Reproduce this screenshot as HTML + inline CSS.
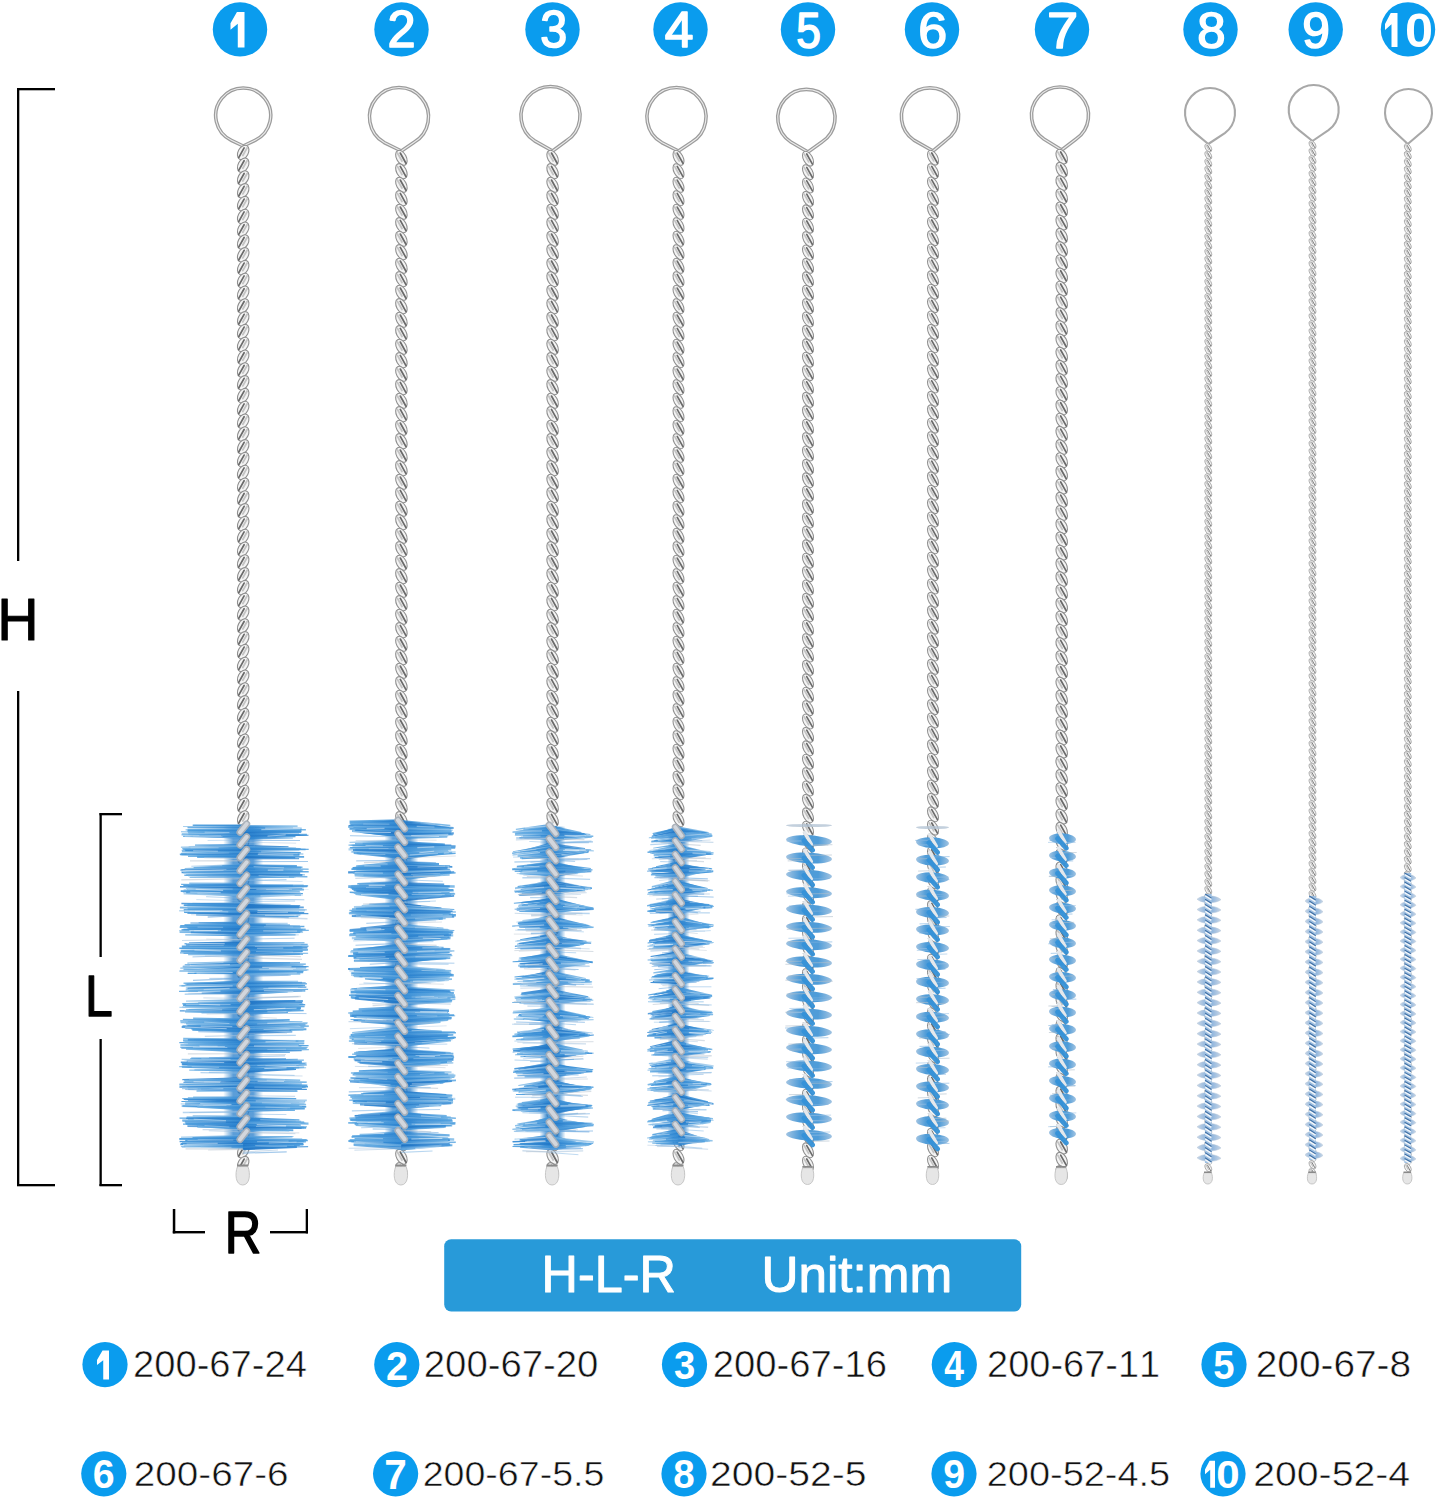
<!DOCTYPE html><html><head><meta charset="utf-8"><style>html,body{margin:0;padding:0;background:#fff;overflow:hidden}svg{display:block}text{font-kerning:none}</style></head><body><svg width="1439" height="1500" viewBox="0 0 1439 1500">
<rect width="1439" height="1500" fill="#ffffff"/>
<circle cx="240.0" cy="29.4" r="27.2" fill="#0a9cee"/>
<circle cx="401.5" cy="29.4" r="27.2" fill="#0a9cee"/>
<circle cx="552.5" cy="29.4" r="27.2" fill="#0a9cee"/>
<circle cx="680.5" cy="29.4" r="27.2" fill="#0a9cee"/>
<circle cx="808.0" cy="29.4" r="27.2" fill="#0a9cee"/>
<circle cx="932.0" cy="29.4" r="27.2" fill="#0a9cee"/>
<circle cx="1062.0" cy="29.4" r="27.2" fill="#0a9cee"/>
<circle cx="1210.5" cy="29.4" r="27.2" fill="#0a9cee"/>
<circle cx="1315.7" cy="29.4" r="27.2" fill="#0a9cee"/>
<circle cx="1408.0" cy="29.4" r="27.2" fill="#0a9cee"/>
<path d="M236.94 12.00L244.50 12.00L244.50 47.50L237.78 47.50L237.78 23.71L230.50 29.75L230.50 23.36Z" fill="#ffffff"/>
<text transform="translate(387.46 46.60) scale(0.5049 0.5099)" font-size="100" font-family="Liberation Sans" font-weight="normal" fill="#ffffff" stroke="#ffffff" stroke-width="3.15" stroke-linejoin="round">2</text>
<text transform="translate(540.15 47.00) scale(0.4851 0.5155)" font-size="100" font-family="Liberation Sans" font-weight="normal" fill="#ffffff" stroke="#ffffff" stroke-width="3.20" stroke-linejoin="round">3</text>
<text transform="translate(664.82 46.70) scale(0.5160 0.5044)" font-size="100" font-family="Liberation Sans" font-weight="normal" fill="#ffffff" stroke="#ffffff" stroke-width="3.14" stroke-linejoin="round">4</text>
<text transform="translate(796.23 47.51) scale(0.4429 0.5016)" font-size="100" font-family="Liberation Sans" font-weight="normal" fill="#ffffff" stroke="#ffffff" stroke-width="3.39" stroke-linejoin="round">5</text>
<text transform="translate(918.36 47.50) scale(0.5201 0.5085)" font-size="100" font-family="Liberation Sans" font-weight="normal" fill="#ffffff" stroke="#ffffff" stroke-width="3.11" stroke-linejoin="round">6</text>
<text transform="translate(1047.12 47.50) scale(0.5609 0.5015)" font-size="100" font-family="Liberation Sans" font-weight="normal" fill="#ffffff" stroke="#ffffff" stroke-width="3.01" stroke-linejoin="round">7</text>
<text transform="translate(1197.29 48.01) scale(0.5093 0.5014)" font-size="100" font-family="Liberation Sans" font-weight="normal" fill="#ffffff" stroke="#ffffff" stroke-width="3.17" stroke-linejoin="round">8</text>
<text transform="translate(1302.37 48.01) scale(0.4979 0.5014)" font-size="100" font-family="Liberation Sans" font-weight="normal" fill="#ffffff" stroke="#ffffff" stroke-width="3.20" stroke-linejoin="round">9</text>
<path d="M1390.75 13.00L1397.50 13.00L1397.50 47.00L1391.50 47.00L1391.50 24.22L1385.00 30.00L1385.00 23.88Z" fill="#ffffff"/>
<text transform="translate(1405.00 47.02) scale(0.5046 0.4873)" font-size="100" font-family="Liberation Sans" font-weight="bold" fill="#ffffff">0</text>
<g fill="none" stroke-linejoin="round">
<path d="M243.20 146.00 L231.31 140.30 A27.50 27.50 0 1 1 255.09 140.30 Z" stroke="#9c9c9c" stroke-width="3.6"/>
<path d="M243.20 146.00 L231.31 140.30 A27.50 27.50 0 1 1 255.09 140.30 Z" stroke="#ececec" stroke-width="1.1"/>
<path d="M401.40 151.00 L384.22 142.53 A29.50 29.50 0 1 1 413.78 142.53 Z" stroke="#9c9c9c" stroke-width="3.6"/>
<path d="M401.40 151.00 L384.22 142.53 A29.50 29.50 0 1 1 413.78 142.53 Z" stroke="#ececec" stroke-width="1.1"/>
<path d="M552.60 151.00 L534.56 140.82 A29.50 29.50 0 1 1 566.44 140.82 Z" stroke="#9c9c9c" stroke-width="3.6"/>
<path d="M552.60 151.00 L534.56 140.82 A29.50 29.50 0 1 1 566.44 140.82 Z" stroke="#ececec" stroke-width="1.1"/>
<path d="M678.50 151.00 L661.76 142.55 A29.50 29.50 0 1 1 691.24 142.55 Z" stroke="#9c9c9c" stroke-width="3.6"/>
<path d="M678.50 151.00 L661.76 142.55 A29.50 29.50 0 1 1 691.24 142.55 Z" stroke="#ececec" stroke-width="1.1"/>
<path d="M808.00 152.00 L790.89 142.03 A28.60 28.60 0 1 1 821.91 142.03 Z" stroke="#9c9c9c" stroke-width="3.6"/>
<path d="M808.00 152.00 L790.89 142.03 A28.60 28.60 0 1 1 821.91 142.03 Z" stroke="#ececec" stroke-width="1.1"/>
<path d="M933.00 151.00 L913.87 140.12 A28.60 28.60 0 1 1 946.13 140.12 Z" stroke="#9c9c9c" stroke-width="3.6"/>
<path d="M933.00 151.00 L913.87 140.12 A28.60 28.60 0 1 1 946.13 140.12 Z" stroke="#ececec" stroke-width="1.1"/>
<path d="M1061.70 150.00 L1043.90 139.01 A28.50 28.50 0 1 1 1076.10 139.01 Z" stroke="#9c9c9c" stroke-width="3.6"/>
<path d="M1061.70 150.00 L1043.90 139.01 A28.50 28.50 0 1 1 1076.10 139.01 Z" stroke="#ececec" stroke-width="1.1"/>
<path d="M1208.30 144.00 L1195.18 133.13 A25.00 25.00 0 1 1 1224.82 133.13 Z" stroke="#a8a8a8" stroke-width="2.1"/>
<path d="M1312.50 141.00 L1298.90 130.15 A25.00 25.00 0 1 1 1328.50 130.15 Z" stroke="#a8a8a8" stroke-width="2.1"/>
<path d="M1407.80 144.00 L1392.85 130.03 A23.50 23.50 0 1 1 1424.15 130.03 Z" stroke="#a8a8a8" stroke-width="2.1"/>
</g>
<g><use href="#st0" x="243.2" y="152.4"/><use href="#st0" x="243.2" y="165.2"/><use href="#st0" x="243.2" y="178"/><use href="#st0" x="243.2" y="190.8"/><use href="#st0" x="243.2" y="203.6"/><use href="#st0" x="243.2" y="216.4"/><use href="#st0" x="243.2" y="229.2"/><use href="#st0" x="243.2" y="242"/><use href="#st0" x="243.2" y="254.8"/><use href="#st0" x="243.2" y="267.6"/><use href="#st0" x="243.2" y="280.4"/><use href="#st0" x="243.2" y="293.2"/><use href="#st0" x="243.2" y="306"/><use href="#st0" x="243.2" y="318.8"/><use href="#st0" x="243.2" y="331.6"/><use href="#st0" x="243.2" y="344.4"/><use href="#st0" x="243.2" y="357.2"/><use href="#st0" x="243.2" y="370"/><use href="#st0" x="243.2" y="382.8"/><use href="#st0" x="243.2" y="395.6"/><use href="#st0" x="243.2" y="408.4"/><use href="#st0" x="243.2" y="421.2"/><use href="#st0" x="243.2" y="434"/><use href="#st0" x="243.2" y="446.8"/><use href="#st0" x="243.2" y="459.6"/><use href="#st0" x="243.2" y="472.4"/><use href="#st0" x="243.2" y="485.2"/><use href="#st0" x="243.2" y="498"/><use href="#st0" x="243.2" y="510.8"/><use href="#st0" x="243.2" y="523.6"/><use href="#st0" x="243.2" y="536.4"/><use href="#st0" x="243.2" y="549.2"/><use href="#st0" x="243.2" y="562"/><use href="#st0" x="243.2" y="574.8"/><use href="#st0" x="243.2" y="587.6"/><use href="#st0" x="243.2" y="600.4"/><use href="#st0" x="243.2" y="613.2"/><use href="#st0" x="243.2" y="626"/><use href="#st0" x="243.2" y="638.8"/><use href="#st0" x="243.2" y="651.6"/><use href="#st0" x="243.2" y="664.4"/><use href="#st0" x="243.2" y="677.2"/><use href="#st0" x="243.2" y="690"/><use href="#st0" x="243.2" y="702.8"/><use href="#st0" x="243.2" y="715.6"/><use href="#st0" x="243.2" y="728.4"/><use href="#st0" x="243.2" y="741.2"/><use href="#st0" x="243.2" y="754"/><use href="#st0" x="243.2" y="766.8"/><use href="#st0" x="243.2" y="779.6"/><use href="#st0" x="243.2" y="792.4"/><use href="#st0" x="243.2" y="805.2"/><use href="#st0" x="243.2" y="818"/><use href="#st0" x="243.2" y="830.8"/><use href="#st0" x="243.2" y="843.6"/><use href="#st0" x="243.2" y="856.4"/><use href="#st0" x="243.2" y="869.2"/><use href="#st0" x="243.2" y="882"/><use href="#st0" x="243.2" y="894.8"/><use href="#st0" x="243.2" y="907.6"/><use href="#st0" x="243.2" y="920.4"/><use href="#st0" x="243.2" y="933.2"/><use href="#st0" x="243.2" y="946"/><use href="#st0" x="243.2" y="958.8"/><use href="#st0" x="243.2" y="971.6"/><use href="#st0" x="243.2" y="984.4"/><use href="#st0" x="243.2" y="997.2"/><use href="#st0" x="243.2" y="1010"/><use href="#st0" x="243.2" y="1022.8"/><use href="#st0" x="243.2" y="1035.6"/><use href="#st0" x="243.2" y="1048.4"/><use href="#st0" x="243.2" y="1061.2"/><use href="#st0" x="243.2" y="1074"/><use href="#st0" x="243.2" y="1086.8"/><use href="#st0" x="243.2" y="1099.6"/><use href="#st0" x="243.2" y="1112.4"/><use href="#st0" x="243.2" y="1125.2"/><use href="#st0" x="243.2" y="1138"/><use href="#st0" x="243.2" y="1150.8"/><use href="#st0" x="243.2" y="1163.6"/></g>
<g><use href="#st1" x="401.4" y="157.8"/><use href="#st1" x="401.4" y="171.2"/><use href="#st1" x="401.4" y="184.8"/><use href="#st1" x="401.4" y="198.2"/><use href="#st1" x="401.4" y="211.8"/><use href="#st1" x="401.4" y="225.2"/><use href="#st1" x="401.4" y="238.8"/><use href="#st1" x="401.4" y="252.2"/><use href="#st1" x="401.4" y="265.8"/><use href="#st1" x="401.4" y="279.2"/><use href="#st1" x="401.4" y="292.8"/><use href="#st1" x="401.4" y="306.2"/><use href="#st1" x="401.4" y="319.8"/><use href="#st1" x="401.4" y="333.2"/><use href="#st1" x="401.4" y="346.8"/><use href="#st1" x="401.4" y="360.2"/><use href="#st1" x="401.4" y="373.8"/><use href="#st1" x="401.4" y="387.2"/><use href="#st1" x="401.4" y="400.8"/><use href="#st1" x="401.4" y="414.2"/><use href="#st1" x="401.4" y="427.8"/><use href="#st1" x="401.4" y="441.2"/><use href="#st1" x="401.4" y="454.8"/><use href="#st1" x="401.4" y="468.2"/><use href="#st1" x="401.4" y="481.8"/><use href="#st1" x="401.4" y="495.2"/><use href="#st1" x="401.4" y="508.8"/><use href="#st1" x="401.4" y="522.2"/><use href="#st1" x="401.4" y="535.8"/><use href="#st1" x="401.4" y="549.2"/><use href="#st1" x="401.4" y="562.8"/><use href="#st1" x="401.4" y="576.2"/><use href="#st1" x="401.4" y="589.8"/><use href="#st1" x="401.4" y="603.2"/><use href="#st1" x="401.4" y="616.8"/><use href="#st1" x="401.4" y="630.2"/><use href="#st1" x="401.4" y="643.8"/><use href="#st1" x="401.4" y="657.2"/><use href="#st1" x="401.4" y="670.8"/><use href="#st1" x="401.4" y="684.2"/><use href="#st1" x="401.4" y="697.8"/><use href="#st1" x="401.4" y="711.2"/><use href="#st1" x="401.4" y="724.8"/><use href="#st1" x="401.4" y="738.2"/><use href="#st1" x="401.4" y="751.8"/><use href="#st1" x="401.4" y="765.2"/><use href="#st1" x="401.4" y="778.8"/><use href="#st1" x="401.4" y="792.2"/><use href="#st1" x="401.4" y="805.8"/><use href="#st1" x="401.4" y="819.2"/><use href="#st1" x="401.4" y="832.8"/><use href="#st1" x="401.4" y="846.2"/><use href="#st1" x="401.4" y="859.8"/><use href="#st1" x="401.4" y="873.2"/><use href="#st1" x="401.4" y="886.8"/><use href="#st1" x="401.4" y="900.2"/><use href="#st1" x="401.4" y="913.8"/><use href="#st1" x="401.4" y="927.2"/><use href="#st1" x="401.4" y="940.8"/><use href="#st1" x="401.4" y="954.2"/><use href="#st1" x="401.4" y="967.8"/><use href="#st1" x="401.4" y="981.2"/><use href="#st1" x="401.4" y="994.8"/><use href="#st1" x="401.4" y="1008.2"/><use href="#st1" x="401.4" y="1021.8"/><use href="#st1" x="401.4" y="1035.2"/><use href="#st1" x="401.4" y="1048.8"/><use href="#st1" x="401.4" y="1062.2"/><use href="#st1" x="401.4" y="1075.8"/><use href="#st1" x="401.4" y="1089.2"/><use href="#st1" x="401.4" y="1102.8"/><use href="#st1" x="401.4" y="1116.2"/><use href="#st1" x="401.4" y="1129.8"/><use href="#st1" x="401.4" y="1143.2"/><use href="#st1" x="401.4" y="1156.8"/><use href="#st1" x="401.4" y="1170.2"/></g>
<g><use href="#st2" x="552.6" y="157.8"/><use href="#st2" x="552.6" y="171.2"/><use href="#st2" x="552.6" y="184.8"/><use href="#st2" x="552.6" y="198.2"/><use href="#st2" x="552.6" y="211.8"/><use href="#st2" x="552.6" y="225.2"/><use href="#st2" x="552.6" y="238.8"/><use href="#st2" x="552.6" y="252.2"/><use href="#st2" x="552.6" y="265.8"/><use href="#st2" x="552.6" y="279.2"/><use href="#st2" x="552.6" y="292.8"/><use href="#st2" x="552.6" y="306.2"/><use href="#st2" x="552.6" y="319.8"/><use href="#st2" x="552.6" y="333.2"/><use href="#st2" x="552.6" y="346.8"/><use href="#st2" x="552.6" y="360.2"/><use href="#st2" x="552.6" y="373.8"/><use href="#st2" x="552.6" y="387.2"/><use href="#st2" x="552.6" y="400.8"/><use href="#st2" x="552.6" y="414.2"/><use href="#st2" x="552.6" y="427.8"/><use href="#st2" x="552.6" y="441.2"/><use href="#st2" x="552.6" y="454.8"/><use href="#st2" x="552.6" y="468.2"/><use href="#st2" x="552.6" y="481.8"/><use href="#st2" x="552.6" y="495.2"/><use href="#st2" x="552.6" y="508.8"/><use href="#st2" x="552.6" y="522.2"/><use href="#st2" x="552.6" y="535.8"/><use href="#st2" x="552.6" y="549.2"/><use href="#st2" x="552.6" y="562.8"/><use href="#st2" x="552.6" y="576.2"/><use href="#st2" x="552.6" y="589.8"/><use href="#st2" x="552.6" y="603.2"/><use href="#st2" x="552.6" y="616.8"/><use href="#st2" x="552.6" y="630.2"/><use href="#st2" x="552.6" y="643.8"/><use href="#st2" x="552.6" y="657.2"/><use href="#st2" x="552.6" y="670.8"/><use href="#st2" x="552.6" y="684.2"/><use href="#st2" x="552.6" y="697.8"/><use href="#st2" x="552.6" y="711.2"/><use href="#st2" x="552.6" y="724.8"/><use href="#st2" x="552.6" y="738.2"/><use href="#st2" x="552.6" y="751.8"/><use href="#st2" x="552.6" y="765.2"/><use href="#st2" x="552.6" y="778.8"/><use href="#st2" x="552.6" y="792.2"/><use href="#st2" x="552.6" y="805.8"/><use href="#st2" x="552.6" y="819.2"/><use href="#st2" x="552.6" y="832.8"/><use href="#st2" x="552.6" y="846.2"/><use href="#st2" x="552.6" y="859.8"/><use href="#st2" x="552.6" y="873.2"/><use href="#st2" x="552.6" y="886.8"/><use href="#st2" x="552.6" y="900.2"/><use href="#st2" x="552.6" y="913.8"/><use href="#st2" x="552.6" y="927.2"/><use href="#st2" x="552.6" y="940.8"/><use href="#st2" x="552.6" y="954.2"/><use href="#st2" x="552.6" y="967.8"/><use href="#st2" x="552.6" y="981.2"/><use href="#st2" x="552.6" y="994.8"/><use href="#st2" x="552.6" y="1008.2"/><use href="#st2" x="552.6" y="1021.8"/><use href="#st2" x="552.6" y="1035.2"/><use href="#st2" x="552.6" y="1048.8"/><use href="#st2" x="552.6" y="1062.2"/><use href="#st2" x="552.6" y="1075.8"/><use href="#st2" x="552.6" y="1089.2"/><use href="#st2" x="552.6" y="1102.8"/><use href="#st2" x="552.6" y="1116.2"/><use href="#st2" x="552.6" y="1129.8"/><use href="#st2" x="552.6" y="1143.2"/><use href="#st2" x="552.6" y="1156.8"/><use href="#st2" x="552.6" y="1170.2"/></g>
<g><use href="#st3" x="678.5" y="157.8"/><use href="#st3" x="678.5" y="171.2"/><use href="#st3" x="678.5" y="184.8"/><use href="#st3" x="678.5" y="198.2"/><use href="#st3" x="678.5" y="211.8"/><use href="#st3" x="678.5" y="225.2"/><use href="#st3" x="678.5" y="238.8"/><use href="#st3" x="678.5" y="252.2"/><use href="#st3" x="678.5" y="265.8"/><use href="#st3" x="678.5" y="279.2"/><use href="#st3" x="678.5" y="292.8"/><use href="#st3" x="678.5" y="306.2"/><use href="#st3" x="678.5" y="319.8"/><use href="#st3" x="678.5" y="333.2"/><use href="#st3" x="678.5" y="346.8"/><use href="#st3" x="678.5" y="360.2"/><use href="#st3" x="678.5" y="373.8"/><use href="#st3" x="678.5" y="387.2"/><use href="#st3" x="678.5" y="400.8"/><use href="#st3" x="678.5" y="414.2"/><use href="#st3" x="678.5" y="427.8"/><use href="#st3" x="678.5" y="441.2"/><use href="#st3" x="678.5" y="454.8"/><use href="#st3" x="678.5" y="468.2"/><use href="#st3" x="678.5" y="481.8"/><use href="#st3" x="678.5" y="495.2"/><use href="#st3" x="678.5" y="508.8"/><use href="#st3" x="678.5" y="522.2"/><use href="#st3" x="678.5" y="535.8"/><use href="#st3" x="678.5" y="549.2"/><use href="#st3" x="678.5" y="562.8"/><use href="#st3" x="678.5" y="576.2"/><use href="#st3" x="678.5" y="589.8"/><use href="#st3" x="678.5" y="603.2"/><use href="#st3" x="678.5" y="616.8"/><use href="#st3" x="678.5" y="630.2"/><use href="#st3" x="678.5" y="643.8"/><use href="#st3" x="678.5" y="657.2"/><use href="#st3" x="678.5" y="670.8"/><use href="#st3" x="678.5" y="684.2"/><use href="#st3" x="678.5" y="697.8"/><use href="#st3" x="678.5" y="711.2"/><use href="#st3" x="678.5" y="724.8"/><use href="#st3" x="678.5" y="738.2"/><use href="#st3" x="678.5" y="751.8"/><use href="#st3" x="678.5" y="765.2"/><use href="#st3" x="678.5" y="778.8"/><use href="#st3" x="678.5" y="792.2"/><use href="#st3" x="678.5" y="805.8"/><use href="#st3" x="678.5" y="819.2"/><use href="#st3" x="678.5" y="832.8"/><use href="#st3" x="678.5" y="846.2"/><use href="#st3" x="678.5" y="859.8"/><use href="#st3" x="678.5" y="873.2"/><use href="#st3" x="678.5" y="886.8"/><use href="#st3" x="678.5" y="900.2"/><use href="#st3" x="678.5" y="913.8"/><use href="#st3" x="678.5" y="927.2"/><use href="#st3" x="678.5" y="940.8"/><use href="#st3" x="678.5" y="954.2"/><use href="#st3" x="678.5" y="967.8"/><use href="#st3" x="678.5" y="981.2"/><use href="#st3" x="678.5" y="994.8"/><use href="#st3" x="678.5" y="1008.2"/><use href="#st3" x="678.5" y="1021.8"/><use href="#st3" x="678.5" y="1035.2"/><use href="#st3" x="678.5" y="1048.8"/><use href="#st3" x="678.5" y="1062.2"/><use href="#st3" x="678.5" y="1075.8"/><use href="#st3" x="678.5" y="1089.2"/><use href="#st3" x="678.5" y="1102.8"/><use href="#st3" x="678.5" y="1116.2"/><use href="#st3" x="678.5" y="1129.8"/><use href="#st3" x="678.5" y="1143.2"/><use href="#st3" x="678.5" y="1156.8"/><use href="#st3" x="678.5" y="1170.2"/></g>
<g><use href="#st4" x="808" y="158.7"/><use href="#st4" x="808" y="172.1"/><use href="#st4" x="808" y="185.5"/><use href="#st4" x="808" y="198.9"/><use href="#st4" x="808" y="212.3"/><use href="#st4" x="808" y="225.7"/><use href="#st4" x="808" y="239.1"/><use href="#st4" x="808" y="252.5"/><use href="#st4" x="808" y="265.9"/><use href="#st4" x="808" y="279.3"/><use href="#st4" x="808" y="292.7"/><use href="#st4" x="808" y="306.1"/><use href="#st4" x="808" y="319.5"/><use href="#st4" x="808" y="332.9"/><use href="#st4" x="808" y="346.3"/><use href="#st4" x="808" y="359.7"/><use href="#st4" x="808" y="373.1"/><use href="#st4" x="808" y="386.5"/><use href="#st4" x="808" y="399.9"/><use href="#st4" x="808" y="413.3"/><use href="#st4" x="808" y="426.7"/><use href="#st4" x="808" y="440.1"/><use href="#st4" x="808" y="453.5"/><use href="#st4" x="808" y="466.9"/><use href="#st4" x="808" y="480.3"/><use href="#st4" x="808" y="493.7"/><use href="#st4" x="808" y="507.1"/><use href="#st4" x="808" y="520.5"/><use href="#st4" x="808" y="533.9"/><use href="#st4" x="808" y="547.3"/><use href="#st4" x="808" y="560.7"/><use href="#st4" x="808" y="574.1"/><use href="#st4" x="808" y="587.5"/><use href="#st4" x="808" y="600.9"/><use href="#st4" x="808" y="614.3"/><use href="#st4" x="808" y="627.7"/><use href="#st4" x="808" y="641.1"/><use href="#st4" x="808" y="654.5"/><use href="#st4" x="808" y="667.9"/><use href="#st4" x="808" y="681.3"/><use href="#st4" x="808" y="694.7"/><use href="#st4" x="808" y="708.1"/><use href="#st4" x="808" y="721.5"/><use href="#st4" x="808" y="734.9"/><use href="#st4" x="808" y="748.3"/><use href="#st4" x="808" y="761.7"/><use href="#st4" x="808" y="775.1"/><use href="#st4" x="808" y="788.5"/><use href="#st4" x="808" y="801.9"/><use href="#st4" x="808" y="815.3"/><use href="#st4" x="808" y="828.7"/><use href="#st4" x="808" y="842.1"/><use href="#st4" x="808" y="855.5"/><use href="#st4" x="808" y="868.9"/><use href="#st4" x="808" y="882.3"/><use href="#st4" x="808" y="895.7"/><use href="#st4" x="808" y="909.1"/><use href="#st4" x="808" y="922.5"/><use href="#st4" x="808" y="935.9"/><use href="#st4" x="808" y="949.3"/><use href="#st4" x="808" y="962.7"/><use href="#st4" x="808" y="976.1"/><use href="#st4" x="808" y="989.5"/><use href="#st4" x="808" y="1002.9"/><use href="#st4" x="808" y="1016.3"/><use href="#st4" x="808" y="1029.7"/><use href="#st4" x="808" y="1043.1"/><use href="#st4" x="808" y="1056.5"/><use href="#st4" x="808" y="1069.9"/><use href="#st4" x="808" y="1083.3"/><use href="#st4" x="808" y="1096.7"/><use href="#st4" x="808" y="1110.1"/><use href="#st4" x="808" y="1123.5"/><use href="#st4" x="808" y="1136.9"/><use href="#st4" x="808" y="1150.3"/><use href="#st4" x="808" y="1163.7"/></g>
<g><use href="#st5" x="933" y="157.7"/><use href="#st5" x="933" y="171.1"/><use href="#st5" x="933" y="184.5"/><use href="#st5" x="933" y="197.9"/><use href="#st5" x="933" y="211.3"/><use href="#st5" x="933" y="224.7"/><use href="#st5" x="933" y="238.1"/><use href="#st5" x="933" y="251.5"/><use href="#st5" x="933" y="264.9"/><use href="#st5" x="933" y="278.3"/><use href="#st5" x="933" y="291.7"/><use href="#st5" x="933" y="305.1"/><use href="#st5" x="933" y="318.5"/><use href="#st5" x="933" y="331.9"/><use href="#st5" x="933" y="345.3"/><use href="#st5" x="933" y="358.7"/><use href="#st5" x="933" y="372.1"/><use href="#st5" x="933" y="385.5"/><use href="#st5" x="933" y="398.9"/><use href="#st5" x="933" y="412.3"/><use href="#st5" x="933" y="425.7"/><use href="#st5" x="933" y="439.1"/><use href="#st5" x="933" y="452.5"/><use href="#st5" x="933" y="465.9"/><use href="#st5" x="933" y="479.3"/><use href="#st5" x="933" y="492.7"/><use href="#st5" x="933" y="506.1"/><use href="#st5" x="933" y="519.5"/><use href="#st5" x="933" y="532.9"/><use href="#st5" x="933" y="546.3"/><use href="#st5" x="933" y="559.7"/><use href="#st5" x="933" y="573.1"/><use href="#st5" x="933" y="586.5"/><use href="#st5" x="933" y="599.9"/><use href="#st5" x="933" y="613.3"/><use href="#st5" x="933" y="626.7"/><use href="#st5" x="933" y="640.1"/><use href="#st5" x="933" y="653.5"/><use href="#st5" x="933" y="666.9"/><use href="#st5" x="933" y="680.3"/><use href="#st5" x="933" y="693.7"/><use href="#st5" x="933" y="707.1"/><use href="#st5" x="933" y="720.5"/><use href="#st5" x="933" y="733.9"/><use href="#st5" x="933" y="747.3"/><use href="#st5" x="933" y="760.7"/><use href="#st5" x="933" y="774.1"/><use href="#st5" x="933" y="787.5"/><use href="#st5" x="933" y="800.9"/><use href="#st5" x="933" y="814.3"/><use href="#st5" x="933" y="827.7"/><use href="#st5" x="933" y="841.1"/><use href="#st5" x="933" y="854.5"/><use href="#st5" x="933" y="867.9"/><use href="#st5" x="933" y="881.3"/><use href="#st5" x="933" y="894.7"/><use href="#st5" x="933" y="908.1"/><use href="#st5" x="933" y="921.5"/><use href="#st5" x="933" y="934.9"/><use href="#st5" x="933" y="948.3"/><use href="#st5" x="933" y="961.7"/><use href="#st5" x="933" y="975.1"/><use href="#st5" x="933" y="988.5"/><use href="#st5" x="933" y="1001.9"/><use href="#st5" x="933" y="1015.3"/><use href="#st5" x="933" y="1028.7"/><use href="#st5" x="933" y="1042.1"/><use href="#st5" x="933" y="1055.5"/><use href="#st5" x="933" y="1068.9"/><use href="#st5" x="933" y="1082.3"/><use href="#st5" x="933" y="1095.7"/><use href="#st5" x="933" y="1109.1"/><use href="#st5" x="933" y="1122.5"/><use href="#st5" x="933" y="1135.9"/><use href="#st5" x="933" y="1149.3"/><use href="#st5" x="933" y="1162.7"/></g>
<g><use href="#st6" x="1061.7" y="156.6"/><use href="#st6" x="1061.7" y="169.8"/><use href="#st6" x="1061.7" y="183"/><use href="#st6" x="1061.7" y="196.2"/><use href="#st6" x="1061.7" y="209.4"/><use href="#st6" x="1061.7" y="222.6"/><use href="#st6" x="1061.7" y="235.8"/><use href="#st6" x="1061.7" y="249"/><use href="#st6" x="1061.7" y="262.2"/><use href="#st6" x="1061.7" y="275.4"/><use href="#st6" x="1061.7" y="288.6"/><use href="#st6" x="1061.7" y="301.8"/><use href="#st6" x="1061.7" y="315"/><use href="#st6" x="1061.7" y="328.2"/><use href="#st6" x="1061.7" y="341.4"/><use href="#st6" x="1061.7" y="354.6"/><use href="#st6" x="1061.7" y="367.8"/><use href="#st6" x="1061.7" y="381"/><use href="#st6" x="1061.7" y="394.2"/><use href="#st6" x="1061.7" y="407.4"/><use href="#st6" x="1061.7" y="420.6"/><use href="#st6" x="1061.7" y="433.8"/><use href="#st6" x="1061.7" y="447"/><use href="#st6" x="1061.7" y="460.2"/><use href="#st6" x="1061.7" y="473.4"/><use href="#st6" x="1061.7" y="486.6"/><use href="#st6" x="1061.7" y="499.8"/><use href="#st6" x="1061.7" y="513"/><use href="#st6" x="1061.7" y="526.2"/><use href="#st6" x="1061.7" y="539.4"/><use href="#st6" x="1061.7" y="552.6"/><use href="#st6" x="1061.7" y="565.8"/><use href="#st6" x="1061.7" y="579"/><use href="#st6" x="1061.7" y="592.2"/><use href="#st6" x="1061.7" y="605.4"/><use href="#st6" x="1061.7" y="618.6"/><use href="#st6" x="1061.7" y="631.8"/><use href="#st6" x="1061.7" y="645"/><use href="#st6" x="1061.7" y="658.2"/><use href="#st6" x="1061.7" y="671.4"/><use href="#st6" x="1061.7" y="684.6"/><use href="#st6" x="1061.7" y="697.8"/><use href="#st6" x="1061.7" y="711"/><use href="#st6" x="1061.7" y="724.2"/><use href="#st6" x="1061.7" y="737.4"/><use href="#st6" x="1061.7" y="750.6"/><use href="#st6" x="1061.7" y="763.8"/><use href="#st6" x="1061.7" y="777"/><use href="#st6" x="1061.7" y="790.2"/><use href="#st6" x="1061.7" y="803.4"/><use href="#st6" x="1061.7" y="816.6"/><use href="#st6" x="1061.7" y="829.8"/><use href="#st6" x="1061.7" y="843"/><use href="#st6" x="1061.7" y="856.2"/><use href="#st6" x="1061.7" y="869.4"/><use href="#st6" x="1061.7" y="882.6"/><use href="#st6" x="1061.7" y="895.8"/><use href="#st6" x="1061.7" y="909"/><use href="#st6" x="1061.7" y="922.2"/><use href="#st6" x="1061.7" y="935.4"/><use href="#st6" x="1061.7" y="948.6"/><use href="#st6" x="1061.7" y="961.8"/><use href="#st6" x="1061.7" y="975"/><use href="#st6" x="1061.7" y="988.2"/><use href="#st6" x="1061.7" y="1001.4"/><use href="#st6" x="1061.7" y="1014.6"/><use href="#st6" x="1061.7" y="1027.8"/><use href="#st6" x="1061.7" y="1041"/><use href="#st6" x="1061.7" y="1054.2"/><use href="#st6" x="1061.7" y="1067.4"/><use href="#st6" x="1061.7" y="1080.6"/><use href="#st6" x="1061.7" y="1093.8"/><use href="#st6" x="1061.7" y="1107"/><use href="#st6" x="1061.7" y="1120.2"/><use href="#st6" x="1061.7" y="1133.4"/><use href="#st6" x="1061.7" y="1146.6"/><use href="#st6" x="1061.7" y="1159.8"/><use href="#st6" x="1061.7" y="1173"/></g>
<g><use href="#st7" x="1208.3" y="147.8"/><use href="#st7" x="1208.3" y="155.2"/><use href="#st7" x="1208.3" y="162.8"/><use href="#st7" x="1208.3" y="170.2"/><use href="#st7" x="1208.3" y="177.8"/><use href="#st7" x="1208.3" y="185.2"/><use href="#st7" x="1208.3" y="192.8"/><use href="#st7" x="1208.3" y="200.2"/><use href="#st7" x="1208.3" y="207.8"/><use href="#st7" x="1208.3" y="215.2"/><use href="#st7" x="1208.3" y="222.8"/><use href="#st7" x="1208.3" y="230.2"/><use href="#st7" x="1208.3" y="237.8"/><use href="#st7" x="1208.3" y="245.2"/><use href="#st7" x="1208.3" y="252.8"/><use href="#st7" x="1208.3" y="260.2"/><use href="#st7" x="1208.3" y="267.8"/><use href="#st7" x="1208.3" y="275.2"/><use href="#st7" x="1208.3" y="282.8"/><use href="#st7" x="1208.3" y="290.2"/><use href="#st7" x="1208.3" y="297.8"/><use href="#st7" x="1208.3" y="305.2"/><use href="#st7" x="1208.3" y="312.8"/><use href="#st7" x="1208.3" y="320.2"/><use href="#st7" x="1208.3" y="327.8"/><use href="#st7" x="1208.3" y="335.2"/><use href="#st7" x="1208.3" y="342.8"/><use href="#st7" x="1208.3" y="350.2"/><use href="#st7" x="1208.3" y="357.8"/><use href="#st7" x="1208.3" y="365.2"/><use href="#st7" x="1208.3" y="372.8"/><use href="#st7" x="1208.3" y="380.2"/><use href="#st7" x="1208.3" y="387.8"/><use href="#st7" x="1208.3" y="395.2"/><use href="#st7" x="1208.3" y="402.8"/><use href="#st7" x="1208.3" y="410.2"/><use href="#st7" x="1208.3" y="417.8"/><use href="#st7" x="1208.3" y="425.2"/><use href="#st7" x="1208.3" y="432.8"/><use href="#st7" x="1208.3" y="440.2"/><use href="#st7" x="1208.3" y="447.8"/><use href="#st7" x="1208.3" y="455.2"/><use href="#st7" x="1208.3" y="462.8"/><use href="#st7" x="1208.3" y="470.2"/><use href="#st7" x="1208.3" y="477.8"/><use href="#st7" x="1208.3" y="485.2"/><use href="#st7" x="1208.3" y="492.8"/><use href="#st7" x="1208.3" y="500.2"/><use href="#st7" x="1208.3" y="507.8"/><use href="#st7" x="1208.3" y="515.2"/><use href="#st7" x="1208.3" y="522.8"/><use href="#st7" x="1208.3" y="530.2"/><use href="#st7" x="1208.3" y="537.8"/><use href="#st7" x="1208.3" y="545.2"/><use href="#st7" x="1208.3" y="552.8"/><use href="#st7" x="1208.3" y="560.2"/><use href="#st7" x="1208.3" y="567.8"/><use href="#st7" x="1208.3" y="575.2"/><use href="#st7" x="1208.3" y="582.8"/><use href="#st7" x="1208.3" y="590.2"/><use href="#st7" x="1208.3" y="597.8"/><use href="#st7" x="1208.3" y="605.2"/><use href="#st7" x="1208.3" y="612.8"/><use href="#st7" x="1208.3" y="620.2"/><use href="#st7" x="1208.3" y="627.8"/><use href="#st7" x="1208.3" y="635.2"/><use href="#st7" x="1208.3" y="642.8"/><use href="#st7" x="1208.3" y="650.2"/><use href="#st7" x="1208.3" y="657.8"/><use href="#st7" x="1208.3" y="665.2"/><use href="#st7" x="1208.3" y="672.8"/><use href="#st7" x="1208.3" y="680.2"/><use href="#st7" x="1208.3" y="687.8"/><use href="#st7" x="1208.3" y="695.2"/><use href="#st7" x="1208.3" y="702.8"/><use href="#st7" x="1208.3" y="710.2"/><use href="#st7" x="1208.3" y="717.8"/><use href="#st7" x="1208.3" y="725.2"/><use href="#st7" x="1208.3" y="732.8"/><use href="#st7" x="1208.3" y="740.2"/><use href="#st7" x="1208.3" y="747.8"/><use href="#st7" x="1208.3" y="755.2"/><use href="#st7" x="1208.3" y="762.8"/><use href="#st7" x="1208.3" y="770.2"/><use href="#st7" x="1208.3" y="777.8"/><use href="#st7" x="1208.3" y="785.2"/><use href="#st7" x="1208.3" y="792.8"/><use href="#st7" x="1208.3" y="800.2"/><use href="#st7" x="1208.3" y="807.8"/><use href="#st7" x="1208.3" y="815.2"/><use href="#st7" x="1208.3" y="822.8"/><use href="#st7" x="1208.3" y="830.2"/><use href="#st7" x="1208.3" y="837.8"/><use href="#st7" x="1208.3" y="845.2"/><use href="#st7" x="1208.3" y="852.8"/><use href="#st7" x="1208.3" y="860.2"/><use href="#st7" x="1208.3" y="867.8"/><use href="#st7" x="1208.3" y="875.2"/><use href="#st7" x="1208.3" y="882.8"/><use href="#st7" x="1208.3" y="890.2"/><use href="#st7" x="1208.3" y="897.8"/><use href="#st7" x="1208.3" y="905.2"/><use href="#st7" x="1208.3" y="912.8"/><use href="#st7" x="1208.3" y="920.2"/><use href="#st7" x="1208.3" y="927.8"/><use href="#st7" x="1208.3" y="935.2"/><use href="#st7" x="1208.3" y="942.8"/><use href="#st7" x="1208.3" y="950.2"/><use href="#st7" x="1208.3" y="957.8"/><use href="#st7" x="1208.3" y="965.2"/><use href="#st7" x="1208.3" y="972.8"/><use href="#st7" x="1208.3" y="980.2"/><use href="#st7" x="1208.3" y="987.8"/><use href="#st7" x="1208.3" y="995.2"/><use href="#st7" x="1208.3" y="1002.8"/><use href="#st7" x="1208.3" y="1010.2"/><use href="#st7" x="1208.3" y="1017.8"/><use href="#st7" x="1208.3" y="1025.2"/><use href="#st7" x="1208.3" y="1032.8"/><use href="#st7" x="1208.3" y="1040.2"/><use href="#st7" x="1208.3" y="1047.8"/><use href="#st7" x="1208.3" y="1055.2"/><use href="#st7" x="1208.3" y="1062.8"/><use href="#st7" x="1208.3" y="1070.2"/><use href="#st7" x="1208.3" y="1077.8"/><use href="#st7" x="1208.3" y="1085.2"/><use href="#st7" x="1208.3" y="1092.8"/><use href="#st7" x="1208.3" y="1100.2"/><use href="#st7" x="1208.3" y="1107.8"/><use href="#st7" x="1208.3" y="1115.2"/><use href="#st7" x="1208.3" y="1122.8"/><use href="#st7" x="1208.3" y="1130.2"/><use href="#st7" x="1208.3" y="1137.8"/><use href="#st7" x="1208.3" y="1145.2"/><use href="#st7" x="1208.3" y="1152.8"/><use href="#st7" x="1208.3" y="1160.2"/><use href="#st7" x="1208.3" y="1167.8"/></g>
<g><use href="#st8" x="1312.5" y="144.8"/><use href="#st8" x="1312.5" y="152.2"/><use href="#st8" x="1312.5" y="159.8"/><use href="#st8" x="1312.5" y="167.2"/><use href="#st8" x="1312.5" y="174.8"/><use href="#st8" x="1312.5" y="182.2"/><use href="#st8" x="1312.5" y="189.8"/><use href="#st8" x="1312.5" y="197.2"/><use href="#st8" x="1312.5" y="204.8"/><use href="#st8" x="1312.5" y="212.2"/><use href="#st8" x="1312.5" y="219.8"/><use href="#st8" x="1312.5" y="227.2"/><use href="#st8" x="1312.5" y="234.8"/><use href="#st8" x="1312.5" y="242.2"/><use href="#st8" x="1312.5" y="249.8"/><use href="#st8" x="1312.5" y="257.2"/><use href="#st8" x="1312.5" y="264.8"/><use href="#st8" x="1312.5" y="272.2"/><use href="#st8" x="1312.5" y="279.8"/><use href="#st8" x="1312.5" y="287.2"/><use href="#st8" x="1312.5" y="294.8"/><use href="#st8" x="1312.5" y="302.2"/><use href="#st8" x="1312.5" y="309.8"/><use href="#st8" x="1312.5" y="317.2"/><use href="#st8" x="1312.5" y="324.8"/><use href="#st8" x="1312.5" y="332.2"/><use href="#st8" x="1312.5" y="339.8"/><use href="#st8" x="1312.5" y="347.2"/><use href="#st8" x="1312.5" y="354.8"/><use href="#st8" x="1312.5" y="362.2"/><use href="#st8" x="1312.5" y="369.8"/><use href="#st8" x="1312.5" y="377.2"/><use href="#st8" x="1312.5" y="384.8"/><use href="#st8" x="1312.5" y="392.2"/><use href="#st8" x="1312.5" y="399.8"/><use href="#st8" x="1312.5" y="407.2"/><use href="#st8" x="1312.5" y="414.8"/><use href="#st8" x="1312.5" y="422.2"/><use href="#st8" x="1312.5" y="429.8"/><use href="#st8" x="1312.5" y="437.2"/><use href="#st8" x="1312.5" y="444.8"/><use href="#st8" x="1312.5" y="452.2"/><use href="#st8" x="1312.5" y="459.8"/><use href="#st8" x="1312.5" y="467.2"/><use href="#st8" x="1312.5" y="474.8"/><use href="#st8" x="1312.5" y="482.2"/><use href="#st8" x="1312.5" y="489.8"/><use href="#st8" x="1312.5" y="497.2"/><use href="#st8" x="1312.5" y="504.8"/><use href="#st8" x="1312.5" y="512.2"/><use href="#st8" x="1312.5" y="519.8"/><use href="#st8" x="1312.5" y="527.2"/><use href="#st8" x="1312.5" y="534.8"/><use href="#st8" x="1312.5" y="542.2"/><use href="#st8" x="1312.5" y="549.8"/><use href="#st8" x="1312.5" y="557.2"/><use href="#st8" x="1312.5" y="564.8"/><use href="#st8" x="1312.5" y="572.2"/><use href="#st8" x="1312.5" y="579.8"/><use href="#st8" x="1312.5" y="587.2"/><use href="#st8" x="1312.5" y="594.8"/><use href="#st8" x="1312.5" y="602.2"/><use href="#st8" x="1312.5" y="609.8"/><use href="#st8" x="1312.5" y="617.2"/><use href="#st8" x="1312.5" y="624.8"/><use href="#st8" x="1312.5" y="632.2"/><use href="#st8" x="1312.5" y="639.8"/><use href="#st8" x="1312.5" y="647.2"/><use href="#st8" x="1312.5" y="654.8"/><use href="#st8" x="1312.5" y="662.2"/><use href="#st8" x="1312.5" y="669.8"/><use href="#st8" x="1312.5" y="677.2"/><use href="#st8" x="1312.5" y="684.8"/><use href="#st8" x="1312.5" y="692.2"/><use href="#st8" x="1312.5" y="699.8"/><use href="#st8" x="1312.5" y="707.2"/><use href="#st8" x="1312.5" y="714.8"/><use href="#st8" x="1312.5" y="722.2"/><use href="#st8" x="1312.5" y="729.8"/><use href="#st8" x="1312.5" y="737.2"/><use href="#st8" x="1312.5" y="744.8"/><use href="#st8" x="1312.5" y="752.2"/><use href="#st8" x="1312.5" y="759.8"/><use href="#st8" x="1312.5" y="767.2"/><use href="#st8" x="1312.5" y="774.8"/><use href="#st8" x="1312.5" y="782.2"/><use href="#st8" x="1312.5" y="789.8"/><use href="#st8" x="1312.5" y="797.2"/><use href="#st8" x="1312.5" y="804.8"/><use href="#st8" x="1312.5" y="812.2"/><use href="#st8" x="1312.5" y="819.8"/><use href="#st8" x="1312.5" y="827.2"/><use href="#st8" x="1312.5" y="834.8"/><use href="#st8" x="1312.5" y="842.2"/><use href="#st8" x="1312.5" y="849.8"/><use href="#st8" x="1312.5" y="857.2"/><use href="#st8" x="1312.5" y="864.8"/><use href="#st8" x="1312.5" y="872.2"/><use href="#st8" x="1312.5" y="879.8"/><use href="#st8" x="1312.5" y="887.2"/><use href="#st8" x="1312.5" y="894.8"/><use href="#st8" x="1312.5" y="902.2"/><use href="#st8" x="1312.5" y="909.8"/><use href="#st8" x="1312.5" y="917.2"/><use href="#st8" x="1312.5" y="924.8"/><use href="#st8" x="1312.5" y="932.2"/><use href="#st8" x="1312.5" y="939.8"/><use href="#st8" x="1312.5" y="947.2"/><use href="#st8" x="1312.5" y="954.8"/><use href="#st8" x="1312.5" y="962.2"/><use href="#st8" x="1312.5" y="969.8"/><use href="#st8" x="1312.5" y="977.2"/><use href="#st8" x="1312.5" y="984.8"/><use href="#st8" x="1312.5" y="992.2"/><use href="#st8" x="1312.5" y="999.8"/><use href="#st8" x="1312.5" y="1007.2"/><use href="#st8" x="1312.5" y="1014.8"/><use href="#st8" x="1312.5" y="1022.2"/><use href="#st8" x="1312.5" y="1029.8"/><use href="#st8" x="1312.5" y="1037.2"/><use href="#st8" x="1312.5" y="1044.8"/><use href="#st8" x="1312.5" y="1052.2"/><use href="#st8" x="1312.5" y="1059.8"/><use href="#st8" x="1312.5" y="1067.2"/><use href="#st8" x="1312.5" y="1074.8"/><use href="#st8" x="1312.5" y="1082.2"/><use href="#st8" x="1312.5" y="1089.8"/><use href="#st8" x="1312.5" y="1097.2"/><use href="#st8" x="1312.5" y="1104.8"/><use href="#st8" x="1312.5" y="1112.2"/><use href="#st8" x="1312.5" y="1119.8"/><use href="#st8" x="1312.5" y="1127.2"/><use href="#st8" x="1312.5" y="1134.8"/><use href="#st8" x="1312.5" y="1142.2"/><use href="#st8" x="1312.5" y="1149.8"/><use href="#st8" x="1312.5" y="1157.2"/><use href="#st8" x="1312.5" y="1164.8"/><use href="#st8" x="1312.5" y="1172.2"/></g>
<g><use href="#st9" x="1407.8" y="147.8"/><use href="#st9" x="1407.8" y="155.2"/><use href="#st9" x="1407.8" y="162.8"/><use href="#st9" x="1407.8" y="170.2"/><use href="#st9" x="1407.8" y="177.8"/><use href="#st9" x="1407.8" y="185.2"/><use href="#st9" x="1407.8" y="192.8"/><use href="#st9" x="1407.8" y="200.2"/><use href="#st9" x="1407.8" y="207.8"/><use href="#st9" x="1407.8" y="215.2"/><use href="#st9" x="1407.8" y="222.8"/><use href="#st9" x="1407.8" y="230.2"/><use href="#st9" x="1407.8" y="237.8"/><use href="#st9" x="1407.8" y="245.2"/><use href="#st9" x="1407.8" y="252.8"/><use href="#st9" x="1407.8" y="260.2"/><use href="#st9" x="1407.8" y="267.8"/><use href="#st9" x="1407.8" y="275.2"/><use href="#st9" x="1407.8" y="282.8"/><use href="#st9" x="1407.8" y="290.2"/><use href="#st9" x="1407.8" y="297.8"/><use href="#st9" x="1407.8" y="305.2"/><use href="#st9" x="1407.8" y="312.8"/><use href="#st9" x="1407.8" y="320.2"/><use href="#st9" x="1407.8" y="327.8"/><use href="#st9" x="1407.8" y="335.2"/><use href="#st9" x="1407.8" y="342.8"/><use href="#st9" x="1407.8" y="350.2"/><use href="#st9" x="1407.8" y="357.8"/><use href="#st9" x="1407.8" y="365.2"/><use href="#st9" x="1407.8" y="372.8"/><use href="#st9" x="1407.8" y="380.2"/><use href="#st9" x="1407.8" y="387.8"/><use href="#st9" x="1407.8" y="395.2"/><use href="#st9" x="1407.8" y="402.8"/><use href="#st9" x="1407.8" y="410.2"/><use href="#st9" x="1407.8" y="417.8"/><use href="#st9" x="1407.8" y="425.2"/><use href="#st9" x="1407.8" y="432.8"/><use href="#st9" x="1407.8" y="440.2"/><use href="#st9" x="1407.8" y="447.8"/><use href="#st9" x="1407.8" y="455.2"/><use href="#st9" x="1407.8" y="462.8"/><use href="#st9" x="1407.8" y="470.2"/><use href="#st9" x="1407.8" y="477.8"/><use href="#st9" x="1407.8" y="485.2"/><use href="#st9" x="1407.8" y="492.8"/><use href="#st9" x="1407.8" y="500.2"/><use href="#st9" x="1407.8" y="507.8"/><use href="#st9" x="1407.8" y="515.2"/><use href="#st9" x="1407.8" y="522.8"/><use href="#st9" x="1407.8" y="530.2"/><use href="#st9" x="1407.8" y="537.8"/><use href="#st9" x="1407.8" y="545.2"/><use href="#st9" x="1407.8" y="552.8"/><use href="#st9" x="1407.8" y="560.2"/><use href="#st9" x="1407.8" y="567.8"/><use href="#st9" x="1407.8" y="575.2"/><use href="#st9" x="1407.8" y="582.8"/><use href="#st9" x="1407.8" y="590.2"/><use href="#st9" x="1407.8" y="597.8"/><use href="#st9" x="1407.8" y="605.2"/><use href="#st9" x="1407.8" y="612.8"/><use href="#st9" x="1407.8" y="620.2"/><use href="#st9" x="1407.8" y="627.8"/><use href="#st9" x="1407.8" y="635.2"/><use href="#st9" x="1407.8" y="642.8"/><use href="#st9" x="1407.8" y="650.2"/><use href="#st9" x="1407.8" y="657.8"/><use href="#st9" x="1407.8" y="665.2"/><use href="#st9" x="1407.8" y="672.8"/><use href="#st9" x="1407.8" y="680.2"/><use href="#st9" x="1407.8" y="687.8"/><use href="#st9" x="1407.8" y="695.2"/><use href="#st9" x="1407.8" y="702.8"/><use href="#st9" x="1407.8" y="710.2"/><use href="#st9" x="1407.8" y="717.8"/><use href="#st9" x="1407.8" y="725.2"/><use href="#st9" x="1407.8" y="732.8"/><use href="#st9" x="1407.8" y="740.2"/><use href="#st9" x="1407.8" y="747.8"/><use href="#st9" x="1407.8" y="755.2"/><use href="#st9" x="1407.8" y="762.8"/><use href="#st9" x="1407.8" y="770.2"/><use href="#st9" x="1407.8" y="777.8"/><use href="#st9" x="1407.8" y="785.2"/><use href="#st9" x="1407.8" y="792.8"/><use href="#st9" x="1407.8" y="800.2"/><use href="#st9" x="1407.8" y="807.8"/><use href="#st9" x="1407.8" y="815.2"/><use href="#st9" x="1407.8" y="822.8"/><use href="#st9" x="1407.8" y="830.2"/><use href="#st9" x="1407.8" y="837.8"/><use href="#st9" x="1407.8" y="845.2"/><use href="#st9" x="1407.8" y="852.8"/><use href="#st9" x="1407.8" y="860.2"/><use href="#st9" x="1407.8" y="867.8"/><use href="#st9" x="1407.8" y="875.2"/><use href="#st9" x="1407.8" y="882.8"/><use href="#st9" x="1407.8" y="890.2"/><use href="#st9" x="1407.8" y="897.8"/><use href="#st9" x="1407.8" y="905.2"/><use href="#st9" x="1407.8" y="912.8"/><use href="#st9" x="1407.8" y="920.2"/><use href="#st9" x="1407.8" y="927.8"/><use href="#st9" x="1407.8" y="935.2"/><use href="#st9" x="1407.8" y="942.8"/><use href="#st9" x="1407.8" y="950.2"/><use href="#st9" x="1407.8" y="957.8"/><use href="#st9" x="1407.8" y="965.2"/><use href="#st9" x="1407.8" y="972.8"/><use href="#st9" x="1407.8" y="980.2"/><use href="#st9" x="1407.8" y="987.8"/><use href="#st9" x="1407.8" y="995.2"/><use href="#st9" x="1407.8" y="1002.8"/><use href="#st9" x="1407.8" y="1010.2"/><use href="#st9" x="1407.8" y="1017.8"/><use href="#st9" x="1407.8" y="1025.2"/><use href="#st9" x="1407.8" y="1032.8"/><use href="#st9" x="1407.8" y="1040.2"/><use href="#st9" x="1407.8" y="1047.8"/><use href="#st9" x="1407.8" y="1055.2"/><use href="#st9" x="1407.8" y="1062.8"/><use href="#st9" x="1407.8" y="1070.2"/><use href="#st9" x="1407.8" y="1077.8"/><use href="#st9" x="1407.8" y="1085.2"/><use href="#st9" x="1407.8" y="1092.8"/><use href="#st9" x="1407.8" y="1100.2"/><use href="#st9" x="1407.8" y="1107.8"/><use href="#st9" x="1407.8" y="1115.2"/><use href="#st9" x="1407.8" y="1122.8"/><use href="#st9" x="1407.8" y="1130.2"/><use href="#st9" x="1407.8" y="1137.8"/><use href="#st9" x="1407.8" y="1145.2"/><use href="#st9" x="1407.8" y="1152.8"/><use href="#st9" x="1407.8" y="1160.2"/><use href="#st9" x="1407.8" y="1167.8"/></g>
<defs><g id="st0"><ellipse rx="5.07" ry="7.68" transform="rotate(28)" fill="#f4f4f4" stroke="#8e8e8e" stroke-width="1.09"/><path d="M-0.39 3.06L3.94 -4.57" stroke="#c4c4c4" stroke-width="1.84" stroke-linecap="round"/><path d="M-4.48 5.18L0.93 -4.49" stroke="#6a6a6a" stroke-width="1.72" stroke-linecap="round"/></g><g id="st1"><ellipse rx="4.88" ry="8.10" transform="rotate(-28)" fill="#f4f4f4" stroke="#8e8e8e" stroke-width="1.09"/><path d="M0.57 3.25L-3.99 -4.79" stroke="#c4c4c4" stroke-width="1.84" stroke-linecap="round"/><path d="M4.56 5.43L-1.14 -4.76" stroke="#6a6a6a" stroke-width="1.72" stroke-linecap="round"/></g><g id="st2"><ellipse rx="4.88" ry="8.10" transform="rotate(-28)" fill="#f4f4f4" stroke="#8e8e8e" stroke-width="1.09"/><path d="M0.57 3.25L-3.99 -4.79" stroke="#c4c4c4" stroke-width="1.84" stroke-linecap="round"/><path d="M4.56 5.43L-1.14 -4.76" stroke="#6a6a6a" stroke-width="1.72" stroke-linecap="round"/></g><g id="st3"><ellipse rx="4.50" ry="8.10" transform="rotate(-28)" fill="#f4f4f4" stroke="#8e8e8e" stroke-width="1.04"/><path d="M0.71 3.25L-3.86 -4.79" stroke="#c4c4c4" stroke-width="1.76" stroke-linecap="round"/><path d="M4.43 5.43L-1.28 -4.76" stroke="#6a6a6a" stroke-width="1.65" stroke-linecap="round"/></g><g id="st4"><ellipse rx="4.53" ry="8.04" transform="rotate(-28)" fill="#f4f4f4" stroke="#8e8e8e" stroke-width="1.04"/><path d="M0.68 3.23L-3.85 -4.76" stroke="#c4c4c4" stroke-width="1.76" stroke-linecap="round"/><path d="M4.42 5.39L-1.25 -4.72" stroke="#6a6a6a" stroke-width="1.65" stroke-linecap="round"/></g><g id="st5"><ellipse rx="4.53" ry="8.04" transform="rotate(-28)" fill="#f4f4f4" stroke="#8e8e8e" stroke-width="1.04"/><path d="M0.68 3.23L-3.85 -4.76" stroke="#c4c4c4" stroke-width="1.76" stroke-linecap="round"/><path d="M4.42 5.39L-1.25 -4.72" stroke="#6a6a6a" stroke-width="1.65" stroke-linecap="round"/></g><g id="st6"><ellipse rx="4.97" ry="7.92" transform="rotate(-28)" fill="#f4f4f4" stroke="#8e8e8e" stroke-width="1.09"/><path d="M0.49 3.17L-3.97 -4.70" stroke="#c4c4c4" stroke-width="1.84" stroke-linecap="round"/><path d="M4.53 5.32L-1.05 -4.64" stroke="#6a6a6a" stroke-width="1.72" stroke-linecap="round"/></g><g id="st7"><ellipse rx="2.80" ry="4.50" transform="rotate(-28)" fill="#f4f4f4" stroke="#a0a0a0" stroke-width="0.80"/><path d="M0.29 1.59L-2.25 -2.88" stroke="#c4c4c4" stroke-width="1.04" stroke-linecap="round"/><path d="M2.56 3.28L-0.61 -2.38" stroke="#7c7c7c" stroke-width="0.97" stroke-linecap="round"/></g><g id="st8"><ellipse rx="2.80" ry="4.50" transform="rotate(-28)" fill="#f4f4f4" stroke="#a0a0a0" stroke-width="0.80"/><path d="M0.29 1.59L-2.25 -2.88" stroke="#c4c4c4" stroke-width="1.04" stroke-linecap="round"/><path d="M2.56 3.28L-0.61 -2.38" stroke="#7c7c7c" stroke-width="0.97" stroke-linecap="round"/></g><g id="st9"><ellipse rx="2.80" ry="4.50" transform="rotate(-28)" fill="#f4f4f4" stroke="#a0a0a0" stroke-width="0.80"/><path d="M0.29 1.59L-2.25 -2.88" stroke="#c4c4c4" stroke-width="1.04" stroke-linecap="round"/><path d="M2.56 3.28L-0.61 -2.38" stroke="#7c7c7c" stroke-width="0.97" stroke-linecap="round"/></g></defs>
<defs><linearGradient id="gL" x1="1" y1="0" x2="0" y2="0"><stop offset="0" stop-color="#2384d4" stop-opacity="1"/><stop offset="0.55" stop-color="#3d98dc" stop-opacity="0.92"/><stop offset="1" stop-color="#6db2e4" stop-opacity="0.75"/></linearGradient><linearGradient id="gR" x1="0" y1="0" x2="1" y2="0"><stop offset="0" stop-color="#2384d4" stop-opacity="1"/><stop offset="0.55" stop-color="#3d98dc" stop-opacity="0.92"/><stop offset="1" stop-color="#6db2e4" stop-opacity="0.75"/></linearGradient><linearGradient id="dL" x1="1" y1="0" x2="0" y2="0"><stop offset="0" stop-color="#2a84d2"/><stop offset="1" stop-color="#5aa6e0"/></linearGradient><linearGradient id="dR" x1="0" y1="0" x2="1" y2="0"><stop offset="0" stop-color="#2a84d2"/><stop offset="1" stop-color="#5aa6e0"/></linearGradient><linearGradient id="sL" x1="1" y1="0" x2="0" y2="0"><stop offset="0" stop-color="#5f9fdc"/><stop offset="1" stop-color="#8fbde8"/></linearGradient><linearGradient id="sR" x1="0" y1="0" x2="1" y2="0"><stop offset="0" stop-color="#5f9fdc"/><stop offset="1" stop-color="#8fbde8"/></linearGradient><linearGradient id="saL" x1="1" y1="0" x2="0" y2="0"><stop offset="0" stop-color="#2a82cf"/><stop offset="1" stop-color="#4c9ede"/></linearGradient><linearGradient id="saR" x1="0" y1="0" x2="1" y2="0"><stop offset="0" stop-color="#2a82cf"/><stop offset="1" stop-color="#4c9ede"/></linearGradient><linearGradient id="sbL" x1="1" y1="0" x2="0" y2="0"><stop offset="0" stop-color="#3a8fd6"/><stop offset="1" stop-color="#70b3e5"/></linearGradient><linearGradient id="sbR" x1="0" y1="0" x2="1" y2="0"><stop offset="0" stop-color="#3a8fd6"/><stop offset="1" stop-color="#70b3e5"/></linearGradient><linearGradient id="scL" x1="1" y1="0" x2="0" y2="0"><stop offset="0" stop-color="#5aa2dc"/><stop offset="1" stop-color="#a2ccec"/></linearGradient><linearGradient id="scR" x1="0" y1="0" x2="1" y2="0"><stop offset="0" stop-color="#5aa2dc"/><stop offset="1" stop-color="#a2ccec"/></linearGradient><linearGradient id="sdL" x1="1" y1="0" x2="0" y2="0"><stop offset="0" stop-color="#1f74c4"/><stop offset="1" stop-color="#3a8ed6"/></linearGradient><linearGradient id="sdR" x1="0" y1="0" x2="1" y2="0"><stop offset="0" stop-color="#1f74c4"/><stop offset="1" stop-color="#3a8ed6"/></linearGradient><linearGradient id="dH" x1="0" y1="0" x2="1" y2="0"><stop offset="0" stop-color="#a2c4e2"/><stop offset="0.3" stop-color="#4f9cd8"/><stop offset="0.7" stop-color="#4f9cd8"/><stop offset="1" stop-color="#a2c4e2"/></linearGradient><linearGradient id="sH" x1="0" y1="0" x2="1" y2="0"><stop offset="0" stop-color="#c8d6e6"/><stop offset="0.35" stop-color="#94b8de"/><stop offset="0.65" stop-color="#94b8de"/><stop offset="1" stop-color="#c8d6e6"/></linearGradient><linearGradient id="colG" x1="0" y1="0" x2="1" y2="0"><stop offset="0" stop-color="#3a8acc" stop-opacity="0"/><stop offset="0.25" stop-color="#2a80cc" stop-opacity="0.85"/><stop offset="0.75" stop-color="#2a80cc" stop-opacity="0.85"/><stop offset="1" stop-color="#3a8acc" stop-opacity="0"/></linearGradient></defs>
<g><rect x="223.20" y="825.88" width="40.00" height="322.24" fill="url(#colG)" opacity="0.9"/><path d="M243.2 824.3L194.3 824.7L194.3 825.9L243.2 826.6Z" fill="url(#scL)" opacity="0.79"/><path d="M243.2 825.1L192.7 824.6L192.7 826.1L243.2 827.2Z" fill="url(#saL)" opacity="0.88"/><path d="M243.2 826.5L183 826L183 827L243.2 828.2Z" fill="url(#scL)" opacity="0.92"/><path d="M243.2 827.1L187.5 826.8L187.5 828.3L243.2 828.9Z" fill="url(#saL)" opacity="0.77"/><path d="M243.2 828.2L187.7 828.7L187.7 830L243.2 830Z" fill="url(#scL)" opacity="0.79"/><path d="M243.2 829.1L185.6 829.3L185.6 830.6L243.2 831.1Z" fill="url(#sbL)" opacity="0.80"/><path d="M243.2 829.4L187.8 828.9L187.8 830.6L243.2 831.8Z" fill="url(#sbL)" opacity="0.90"/><path d="M243.2 830.2L187.5 829.8L187.5 831.9L243.2 832.8Z" fill="url(#saL)" opacity="0.94"/><path d="M243.2 831.2L187.9 831L187.9 833L243.2 833.8Z" fill="url(#sbL)" opacity="0.82"/><path d="M243.2 832.2L181 831.2L181 832.3L243.2 834.3Z" fill="url(#sbL)" opacity="0.84"/><path d="M243.2 833.7L181.9 833.2L181.9 834.6L243.2 835.4Z" fill="url(#sbL)" opacity="0.81"/><path d="M243.2 833.9L188.4 833.4L188.4 834.7L243.2 836.1Z" fill="url(#saL)" opacity="0.85"/><path d="M243.2 834.9L181.5 833.8L181.5 835.4L243.2 836.8Z" fill="url(#sbL)" opacity="0.77"/><path d="M243.2 835.7L183 835.8L183 837.1L243.2 837.9Z" fill="url(#sbL)" opacity="0.95"/><path d="M243.2 837L199.4 835.2L199.4 836.7L243.2 838.9Z" fill="url(#saL)" opacity="0.85"/><path d="M229.4 832.6L204.6 832.2" stroke="#fff" stroke-width="0.9" opacity="0.42"/><path d="M222.5 836.5L193.1 836.4" stroke="#fff" stroke-width="1.1" opacity="0.27"/><path d="M221.1 835.9L185 836.2" stroke="#fff" stroke-width="0.9" opacity="0.37"/><path d="M243.2 838.1L190.7 836.4" stroke="#7fb6e4" stroke-width="1.4" opacity=".55"/><path d="M243.2 840.1L207.6 840.5" stroke="#7fb6e4" stroke-width="0.7" opacity=".55"/><path d="M243.2 825.3L297.6 825.6L297.6 826.7L243.2 827.2Z" fill="url(#sbR)" opacity="0.94"/><path d="M243.2 826.6L293 827.3L293 828.8L243.2 828.6Z" fill="url(#sbR)" opacity="0.77"/><path d="M243.2 827L301.7 827.6L301.7 828.7L243.2 828.9Z" fill="url(#saR)" opacity="0.79"/><path d="M243.2 828.6L305.9 829L305.9 830.5L243.2 830.6Z" fill="url(#sbR)" opacity="0.95"/><path d="M243.2 829.3L301.7 828.7L301.7 830L243.2 831.6Z" fill="url(#saR)" opacity="0.86"/><path d="M243.2 830.2L301.3 830.1L301.3 831.8L243.2 832.1Z" fill="url(#saR)" opacity="0.91"/><path d="M243.2 830.9L301.4 830.4L301.4 831.9L243.2 833.3Z" fill="url(#saR)" opacity="0.95"/><path d="M243.2 831.9L301 831.4L301 832.7L243.2 834Z" fill="url(#sdR)" opacity="0.95"/><path d="M243.2 833L301.3 831.6L301.3 832.8L243.2 834.9Z" fill="url(#saR)" opacity="0.85"/><path d="M243.2 833.7L299.1 833.6L299.1 835.1L243.2 835.9Z" fill="url(#sdR)" opacity="0.77"/><path d="M243.2 834.1L306.9 833.7L306.9 835.4L243.2 836.6Z" fill="url(#saR)" opacity="0.84"/><path d="M243.2 835.5L308.5 834.7L308.5 835.8L243.2 837.2Z" fill="url(#sdR)" opacity="0.94"/><path d="M243.2 836.4L300.4 834.2L300.4 835.7L243.2 838.2Z" fill="url(#sdR)" opacity="0.78"/><path d="M243.2 836.6L295.5 835.9L295.5 837.3L243.2 839.2Z" fill="url(#saR)" opacity="0.91"/><path d="M243.2 838.2L292.9 837.7L292.9 838.6L243.2 839.9Z" fill="url(#saR)" opacity="0.76"/><path d="M261.3 829.7L300.3 828.8" stroke="#fff" stroke-width="1.0" opacity="0.50"/><path d="M265.2 828.1L303.4 827.9" stroke="#fff" stroke-width="1.2" opacity="0.41"/><path d="M267.5 836.1L285.7 834.9" stroke="#fff" stroke-width="1.0" opacity="0.51"/><path d="M243.2 842.1L296.1 843.2" stroke="#a6c3de" stroke-width="0.8" opacity=".55"/><path d="M243.2 840.3L300 840.5" stroke="#5c9fdc" stroke-width="1.2" opacity=".55"/><path d="M243.2 844L195 844.6L195 845.8L243.2 846.4Z" fill="url(#saL)" opacity="0.85"/><path d="M243.2 844.9L188.7 846.1L188.7 847.7L243.2 847.3Z" fill="url(#scL)" opacity="0.79"/><path d="M243.2 845.6L180.9 846.6L180.9 847.9L243.2 847.7Z" fill="url(#scL)" opacity="0.93"/><path d="M243.2 847.1L183.2 848.6L183.2 850.1L243.2 848.9Z" fill="url(#saL)" opacity="0.83"/><path d="M243.2 847.4L182.2 848.1L182.2 849.2L243.2 849.4Z" fill="url(#sbL)" opacity="0.91"/><path d="M243.2 848.8L181.7 849.8L181.7 850.8L243.2 850.6Z" fill="url(#saL)" opacity="0.94"/><path d="M243.2 848.8L184.8 849.1L184.8 851.3L243.2 851.3Z" fill="url(#saL)" opacity="0.78"/><path d="M243.2 850L185.4 849.9L185.4 851.2L243.2 852.1Z" fill="url(#sdL)" opacity="0.82"/><path d="M243.2 850.8L181.9 850.9L181.9 852.3L243.2 852.9Z" fill="url(#sbL)" opacity="0.85"/><path d="M243.2 851.1L181 852.7L181 854.1L243.2 853.7Z" fill="url(#sbL)" opacity="0.80"/><path d="M243.2 853.2L181.4 853.7L181.4 855.2L243.2 855Z" fill="url(#sdL)" opacity="0.91"/><path d="M243.2 853.6L179.8 853.6L179.8 854.9L243.2 855.3Z" fill="url(#saL)" opacity="0.81"/><path d="M243.2 854.9L180 854.4L180 855.3L243.2 856.7Z" fill="url(#saL)" opacity="0.91"/><path d="M243.2 854.6L188 855.4L188 857.1L243.2 857Z" fill="url(#sbL)" opacity="0.95"/><path d="M243.2 855.6L197.1 855.8L197.1 858L243.2 858.1Z" fill="url(#saL)" opacity="0.80"/><path d="M218.6 847.8L190.6 847.9" stroke="#fff" stroke-width="0.7" opacity="0.38"/><path d="M229.2 852.9L186.6 854" stroke="#fff" stroke-width="0.6" opacity="0.26"/><path d="M217.9 851.2L193.1 850.7" stroke="#fff" stroke-width="0.9" opacity="0.45"/><path d="M243.2 860.7L190 860.9" stroke="#b8c4d0" stroke-width="1.4" opacity=".55"/><path d="M243.2 858.7L204.2 857.7" stroke="#a6c3de" stroke-width="1.3" opacity=".55"/><path d="M243.2 845.1L288.5 846.2L288.5 847.2L243.2 847.1Z" fill="url(#sdR)" opacity="0.93"/><path d="M243.2 845.9L296 847.3L296 848.8L243.2 847.5Z" fill="url(#scR)" opacity="0.80"/><path d="M243.2 846.6L300.7 848L300.7 849.2L243.2 848.6Z" fill="url(#sbR)" opacity="0.94"/><path d="M243.2 847.7L308.7 848.7L308.7 849.9L243.2 849.5Z" fill="url(#saR)" opacity="0.82"/><path d="M243.2 848.2L305.6 848.8L305.6 850.3L243.2 850Z" fill="url(#saR)" opacity="0.80"/><path d="M243.2 849L299.5 849.3L299.5 850.5L243.2 851Z" fill="url(#saR)" opacity="0.77"/><path d="M243.2 850.4L300.7 852.1L300.7 854.1L243.2 852.9Z" fill="url(#scR)" opacity="0.83"/><path d="M243.2 850.7L300.6 852L300.6 854L243.2 853.2Z" fill="url(#saR)" opacity="0.91"/><path d="M243.2 852.1L303.4 853.3L303.4 854.8L243.2 854.2Z" fill="url(#scR)" opacity="0.90"/><path d="M243.2 852.6L299.3 853.7L299.3 855.7L243.2 855Z" fill="url(#sdR)" opacity="0.89"/><path d="M243.2 854L299.4 853.8L299.4 855L243.2 855.8Z" fill="url(#saR)" opacity="0.83"/><path d="M243.2 854.8L299.3 855.3L299.3 856.3L243.2 856.4Z" fill="url(#sbR)" opacity="0.75"/><path d="M243.2 855.4L304.1 855.9L304.1 857.7L243.2 857.7Z" fill="url(#saR)" opacity="0.90"/><path d="M243.2 855.9L295.2 857.1L295.2 858.5L243.2 858.3Z" fill="url(#sdR)" opacity="0.95"/><path d="M243.2 857.2L299.1 857.9L299.1 859.3L243.2 859.1Z" fill="url(#sdR)" opacity="0.79"/><path d="M258.5 853.1L297.7 853.8" stroke="#fff" stroke-width="1.0" opacity="0.29"/><path d="M261.1 851.9L305.1 851.4" stroke="#fff" stroke-width="0.8" opacity="0.40"/><path d="M257.8 854.3L293.4 855.1" stroke="#fff" stroke-width="1.3" opacity="0.41"/><path d="M243.2 858.8L278.9 858.6" stroke="#5c9fdc" stroke-width="1.0" opacity=".55"/><path d="M243.2 861.7L308 861.5" stroke="#5c9fdc" stroke-width="1.0" opacity=".55"/><path d="M243.2 863.9L191.3 865.7L191.3 866.8L243.2 865.5Z" fill="url(#scL)" opacity="0.91"/><path d="M243.2 864.3L193.6 867.1L193.6 868.8L243.2 866.8Z" fill="url(#saL)" opacity="0.78"/><path d="M243.2 865.5L184.7 868L184.7 869.5L243.2 867.8Z" fill="url(#sbL)" opacity="0.81"/><path d="M243.2 866.5L181.4 869.2L181.4 870.1L243.2 868.1Z" fill="url(#saL)" opacity="0.89"/><path d="M243.2 867.3L185 868.7L185 870.4L243.2 869.2Z" fill="url(#scL)" opacity="0.77"/><path d="M243.2 868L180.4 869.5L180.4 870.7L243.2 870.4Z" fill="url(#sdL)" opacity="0.81"/><path d="M243.2 869.1L186.1 870.8L186.1 871.9L243.2 871Z" fill="url(#sbL)" opacity="0.91"/><path d="M243.2 869.7L181.3 870.8L181.3 872.2L243.2 871.3Z" fill="url(#scL)" opacity="0.86"/><path d="M243.2 870.8L181.6 872L181.6 873.3L243.2 872.4Z" fill="url(#sdL)" opacity="0.92"/><path d="M243.2 870.9L183.3 871.8L183.3 873.5L243.2 873.4Z" fill="url(#sbL)" opacity="0.81"/><path d="M243.2 871.9L186.1 873.8L186.1 875.4L243.2 874.5Z" fill="url(#scL)" opacity="0.88"/><path d="M243.2 872.5L187.9 873.6L187.9 875.5L243.2 874.7Z" fill="url(#scL)" opacity="0.79"/><path d="M243.2 873.7L184.3 874.5L184.3 876L243.2 876.3Z" fill="url(#saL)" opacity="0.78"/><path d="M243.2 874.9L187.9 875.3L187.9 876.3L243.2 876.8Z" fill="url(#sbL)" opacity="0.83"/><path d="M243.2 876L189.6 876.7L189.6 878L243.2 877.8Z" fill="url(#sbL)" opacity="0.78"/><path d="M223.5 870.6L185.3 870.6" stroke="#fff" stroke-width="0.8" opacity="0.32"/><path d="M226.4 869.5L183.2 870.8" stroke="#fff" stroke-width="1.2" opacity="0.26"/><path d="M222.2 865.6L184.6 866.2" stroke="#fff" stroke-width="1.0" opacity="0.25"/><path d="M243.2 878.6L181.3 879.9" stroke="#b8c4d0" stroke-width="1.4" opacity=".55"/><path d="M243.2 877.8L207.6 876.4" stroke="#7fb6e4" stroke-width="1.4" opacity=".55"/><path d="M243.2 864.5L296.9 865L296.9 867L243.2 866.9Z" fill="url(#saR)" opacity="0.86"/><path d="M243.2 864.9L302.5 866.5L302.5 868L243.2 867.2Z" fill="url(#saR)" opacity="0.77"/><path d="M243.2 865.9L301 866.7L301 868.7L243.2 868.5Z" fill="url(#saR)" opacity="0.75"/><path d="M243.2 866.8L308.6 868.4L308.6 870.1L243.2 868.9Z" fill="url(#sbR)" opacity="0.86"/><path d="M243.2 868.1L303.2 869.8L303.2 870.6L243.2 869.7Z" fill="url(#saR)" opacity="0.85"/><path d="M243.2 868.9L301.7 870.2L301.7 872L243.2 870.9Z" fill="url(#saR)" opacity="0.85"/><path d="M243.2 869.7L302.7 870.8L302.7 871.9L243.2 872Z" fill="url(#sbR)" opacity="0.90"/><path d="M243.2 870.6L308.7 871L308.7 872.5L243.2 872.4Z" fill="url(#saR)" opacity="0.84"/><path d="M243.2 870.9L300.2 872.1L300.2 873.9L243.2 873.4Z" fill="url(#saR)" opacity="0.85"/><path d="M243.2 872.8L305 874.4L305 875.3L243.2 874.5Z" fill="url(#saR)" opacity="0.94"/><path d="M243.2 873L299.7 873.3L299.7 874.7L243.2 874.7Z" fill="url(#sbR)" opacity="0.90"/><path d="M243.2 874L302.4 873.9L302.4 876.1L243.2 876.5Z" fill="url(#sdR)" opacity="0.84"/><path d="M243.2 874.4L307.4 876L307.4 877.6L243.2 876.7Z" fill="url(#saR)" opacity="0.75"/><path d="M243.2 875.6L294.2 877L294.2 878.1L243.2 877.5Z" fill="url(#sbR)" opacity="0.90"/><path d="M243.2 876L295.8 875.9L295.8 877.6L243.2 878.4Z" fill="url(#sbR)" opacity="0.79"/><path d="M267.8 870.1L283.4 870.2" stroke="#fff" stroke-width="1.2" opacity="0.48"/><path d="M253.6 866.7L284.1 867.8" stroke="#fff" stroke-width="0.8" opacity="0.47"/><path d="M258.6 875.7L289 876.9" stroke="#fff" stroke-width="1.0" opacity="0.33"/><path d="M243.2 880.5L286.5 879.6" stroke="#7fb6e4" stroke-width="1.2" opacity=".55"/><path d="M243.2 879.8L302.6 881.6" stroke="#7fb6e4" stroke-width="0.7" opacity=".55"/><path d="M243.2 882.8L189.2 882.4L189.2 884.1L243.2 885.4Z" fill="url(#sbL)" opacity="0.78"/><path d="M243.2 883.8L190.7 884.5L190.7 885.4L243.2 885.4Z" fill="url(#saL)" opacity="0.82"/><path d="M243.2 884.5L181.1 883.8L181.1 884.9L243.2 886.4Z" fill="url(#saL)" opacity="0.80"/><path d="M243.2 885.2L183.3 884.7L183.3 886.1L243.2 886.8Z" fill="url(#saL)" opacity="0.95"/><path d="M243.2 886.2L187.7 886L187.7 887.3L243.2 887.9Z" fill="url(#sbL)" opacity="0.78"/><path d="M243.2 886.9L180 886.1L180 887.5L243.2 888.9Z" fill="url(#sdL)" opacity="0.90"/><path d="M243.2 888.4L185.9 887.6L185.9 888.7L243.2 890.3Z" fill="url(#sbL)" opacity="0.79"/><path d="M243.2 888.8L187.2 889L187.2 890.4L243.2 890.6Z" fill="url(#sbL)" opacity="0.76"/><path d="M243.2 889.7L183.6 889.5L183.6 890.5L243.2 891.5Z" fill="url(#sbL)" opacity="0.95"/><path d="M243.2 890.3L180.7 890.2L180.7 892L243.2 892.4Z" fill="url(#saL)" opacity="0.93"/><path d="M243.2 891.5L182.8 891.4L182.8 892.4L243.2 893.2Z" fill="url(#saL)" opacity="0.82"/><path d="M243.2 892.7L186.1 892.1L186.1 893.9L243.2 894.7Z" fill="url(#saL)" opacity="0.88"/><path d="M243.2 893.5L188.3 892.3L188.3 893.3L243.2 895.4Z" fill="url(#sbL)" opacity="0.76"/><path d="M243.2 893.9L183.6 892.9L183.6 894.6L243.2 896.4Z" fill="url(#scL)" opacity="0.81"/><path d="M243.2 894.4L197.4 892.7L197.4 894.3L243.2 896.8Z" fill="url(#scL)" opacity="0.78"/><path d="M223.1 890.3L195.7 889.4" stroke="#fff" stroke-width="1.3" opacity="0.45"/><path d="M232.7 889.1L187.9 889.4" stroke="#fff" stroke-width="0.9" opacity="0.26"/><path d="M220.7 892.7L190.2 892.1" stroke="#fff" stroke-width="0.9" opacity="0.53"/><path d="M243.2 898.3L206.1 896.7" stroke="#7fb6e4" stroke-width="1.0" opacity=".55"/><path d="M243.2 900.9L196.3 899.6" stroke="#7fb6e4" stroke-width="0.7" opacity=".55"/><path d="M243.2 884.1L303.7 884.6L303.7 885.7L243.2 886.1Z" fill="url(#sbR)" opacity="0.81"/><path d="M243.2 884.7L292.9 884.7L292.9 887L243.2 887.2Z" fill="url(#saR)" opacity="0.81"/><path d="M243.2 885.9L308.1 885.3L308.1 886.5L243.2 887.6Z" fill="url(#sdR)" opacity="0.83"/><path d="M243.2 886.7L307.3 885.5L307.3 887.3L243.2 889Z" fill="url(#saR)" opacity="0.87"/><path d="M243.2 887.5L303.8 887.3L303.8 888.2L243.2 889.3Z" fill="url(#scR)" opacity="0.78"/><path d="M243.2 888.1L308.7 888.3L308.7 889.3L243.2 889.9Z" fill="url(#scR)" opacity="0.92"/><path d="M243.2 889.1L302.3 888.2L302.3 889.8L243.2 891.3Z" fill="url(#sdR)" opacity="0.91"/><path d="M243.2 890.1L301.6 889.1L301.6 890.3L243.2 892Z" fill="url(#scR)" opacity="0.84"/><path d="M243.2 890.2L304 888.8L304 890.6L243.2 892.5Z" fill="url(#sbR)" opacity="0.92"/><path d="M243.2 891.9L299.8 890.7L299.8 892L243.2 893.9Z" fill="url(#sbR)" opacity="0.85"/><path d="M243.2 892.9L300.4 892.6L300.4 893.6L243.2 894.5Z" fill="url(#sdR)" opacity="0.85"/><path d="M243.2 892.9L302.9 892.9L302.9 894L243.2 895Z" fill="url(#saR)" opacity="0.95"/><path d="M243.2 894.1L301 894L301 895.7L243.2 896.5Z" fill="url(#saR)" opacity="0.89"/><path d="M243.2 895.5L301.1 893.5L301.1 894.7L243.2 897.3Z" fill="url(#scR)" opacity="0.80"/><path d="M243.2 896.5L302.9 894.3L302.9 895.4L243.2 898.2Z" fill="url(#scR)" opacity="0.80"/><path d="M256.3 889.6L292 889.3" stroke="#fff" stroke-width="0.8" opacity="0.35"/><path d="M266.1 889.6L288.8 889.6" stroke="#fff" stroke-width="0.6" opacity="0.51"/><path d="M260.5 895.8L294.7 895.6" stroke="#fff" stroke-width="1.2" opacity="0.33"/><path d="M243.2 898.9L304.3 899.8" stroke="#5c9fdc" stroke-width="0.9" opacity=".55"/><path d="M243.2 901.5L295.1 901" stroke="#7fb6e4" stroke-width="1.0" opacity=".55"/><path d="M243.2 902.5L192.4 902.7L192.4 904.2L243.2 904.2Z" fill="url(#scL)" opacity="0.94"/><path d="M243.2 903.5L181.4 902.8L181.4 904.2L243.2 905.8Z" fill="url(#sdL)" opacity="0.84"/><path d="M243.2 903.9L187.4 903.1L187.4 905L243.2 906.4Z" fill="url(#saL)" opacity="0.76"/><path d="M243.2 905L183.6 904.8L183.6 906.1L243.2 906.9Z" fill="url(#sbL)" opacity="0.87"/><path d="M243.2 905.4L184.1 904.2L184.1 906.1L243.2 907.7Z" fill="url(#saL)" opacity="0.89"/><path d="M243.2 906.7L187.2 906.6L187.2 907.6L243.2 908.4Z" fill="url(#sbL)" opacity="0.94"/><path d="M243.2 906.9L180 906.6L180 908.4L243.2 909.4Z" fill="url(#scL)" opacity="0.94"/><path d="M243.2 908.6L179.9 907L179.9 908.3L243.2 910.5Z" fill="url(#sbL)" opacity="0.79"/><path d="M243.2 908.6L187.6 908.2L187.6 910.1L243.2 911.2Z" fill="url(#saL)" opacity="0.78"/><path d="M243.2 909.7L183.7 909.1L183.7 910.9L243.2 911.9Z" fill="url(#saL)" opacity="0.85"/><path d="M243.2 910.4L179.1 910L179.1 911.6L243.2 912.6Z" fill="url(#scL)" opacity="0.75"/><path d="M243.2 911.8L184.1 911.4L184.1 913L243.2 914.2Z" fill="url(#saL)" opacity="0.95"/><path d="M243.2 912.3L187.4 911.8L187.4 913.8L243.2 914.5Z" fill="url(#sbL)" opacity="0.89"/><path d="M243.2 913.2L187.5 912.2L187.5 913.5L243.2 915.4Z" fill="url(#sdL)" opacity="0.94"/><path d="M243.2 915.1L196.1 914.2L196.1 915.6L243.2 916.8Z" fill="url(#saL)" opacity="0.94"/><path d="M228.3 911.9L184.9 911.1" stroke="#fff" stroke-width="0.8" opacity="0.52"/><path d="M222.4 910.7L189.7 911.2" stroke="#fff" stroke-width="0.9" opacity="0.50"/><path d="M219.8 911.4L194.9 911.4" stroke="#fff" stroke-width="1.0" opacity="0.34"/><path d="M243.2 916.4L191.1 914.7" stroke="#a6c3de" stroke-width="0.8" opacity=".55"/><path d="M243.2 915.3L207.7 917" stroke="#5c9fdc" stroke-width="1.4" opacity=".55"/><path d="M243.2 902.9L290.6 903.9L290.6 904.8L243.2 904.6Z" fill="url(#scR)" opacity="0.90"/><path d="M243.2 903.8L299.3 905.8L299.3 907.9L243.2 906.4Z" fill="url(#sdR)" opacity="0.94"/><path d="M243.2 904.7L300.2 905.1L300.2 906.6L243.2 906.5Z" fill="url(#sdR)" opacity="0.77"/><path d="M243.2 906L303.8 906.4L303.8 908.2L243.2 908.2Z" fill="url(#sdR)" opacity="0.79"/><path d="M243.2 906.6L299.3 907.4L299.3 908.6L243.2 908.6Z" fill="url(#sdR)" opacity="0.90"/><path d="M243.2 907.8L305.1 908.9L305.1 910.4L243.2 910.2Z" fill="url(#sdR)" opacity="0.76"/><path d="M243.2 908.4L306.8 909L306.8 910.6L243.2 910.4Z" fill="url(#scR)" opacity="0.86"/><path d="M243.2 909.3L304.8 909.8L304.8 911.5L243.2 911.7Z" fill="url(#scR)" opacity="0.79"/><path d="M243.2 910.1L299.2 911L299.2 912.8L243.2 912.7Z" fill="url(#saR)" opacity="0.94"/><path d="M243.2 910.8L304.2 912L304.2 913.4L243.2 913.3Z" fill="url(#saR)" opacity="0.94"/><path d="M243.2 911.9L308.4 912.9L308.4 914.2L243.2 913.6Z" fill="url(#sdR)" opacity="0.86"/><path d="M243.2 912.5L300.1 913.7L300.1 915.4L243.2 914.4Z" fill="url(#sdR)" opacity="0.77"/><path d="M243.2 914.3L301.2 913.9L301.2 915.3L243.2 915.9Z" fill="url(#scR)" opacity="0.78"/><path d="M243.2 914.7L294.2 915.2L294.2 916.9L243.2 917Z" fill="url(#scR)" opacity="0.88"/><path d="M243.2 915.3L298.4 915.7L298.4 917.3L243.2 917.3Z" fill="url(#saR)" opacity="0.84"/><path d="M257.3 912.3L288 912.3" stroke="#fff" stroke-width="1.0" opacity="0.46"/><path d="M257.5 910.4L300.1 911.4" stroke="#fff" stroke-width="1.0" opacity="0.47"/><path d="M265 915.3L296.6 915.3" stroke="#fff" stroke-width="0.8" opacity="0.54"/><path d="M243.2 916.7L307.5 918.7" stroke="#a6c3de" stroke-width="1.4" opacity=".55"/><path d="M243.2 915.8L288.7 917.7" stroke="#5c9fdc" stroke-width="1.2" opacity=".55"/><path d="M243.2 921.4L198.6 922.2L198.6 923.3L243.2 923.7Z" fill="url(#sbL)" opacity="0.92"/><path d="M243.2 922.5L190.4 922.4L190.4 923.5L243.2 924.3Z" fill="url(#sdL)" opacity="0.83"/><path d="M243.2 923.5L184.5 924.1L184.5 926.1L243.2 926.1Z" fill="url(#sbL)" opacity="0.92"/><path d="M243.2 924.4L180.2 925.1L180.2 926.7L243.2 926.6Z" fill="url(#saL)" opacity="0.89"/><path d="M243.2 925.3L185.6 926.1L185.6 927.2L243.2 927.3Z" fill="url(#sbL)" opacity="0.80"/><path d="M243.2 925.8L187.1 926.9L187.1 928.5L243.2 928.1Z" fill="url(#saL)" opacity="0.87"/><path d="M243.2 926.7L179.7 926.2L179.7 928L243.2 929Z" fill="url(#saL)" opacity="0.83"/><path d="M243.2 927.5L188.3 927.9L188.3 929.4L243.2 930Z" fill="url(#saL)" opacity="0.85"/><path d="M243.2 928.2L183.4 928.7L183.4 930.2L243.2 930.4Z" fill="url(#sdL)" opacity="0.91"/><path d="M243.2 929.4L181.5 929L181.5 930.8L243.2 931.4Z" fill="url(#saL)" opacity="0.83"/><path d="M243.2 930.8L179.1 930.3L179.1 931.2L243.2 932.5Z" fill="url(#sbL)" opacity="0.83"/><path d="M243.2 931.1L179.8 930.9L179.8 932.2L243.2 932.8Z" fill="url(#scL)" opacity="0.80"/><path d="M243.2 931.6L179.6 931.6L179.6 932.9L243.2 933.9Z" fill="url(#sbL)" opacity="0.84"/><path d="M243.2 932.2L190.8 931.3L190.8 933.3L243.2 934.7Z" fill="url(#sdL)" opacity="0.80"/><path d="M243.2 934.3L185.2 934.3L185.2 935.6L243.2 936.2Z" fill="url(#sbL)" opacity="0.90"/><path d="M221.1 930.3L194.1 930.8" stroke="#fff" stroke-width="0.8" opacity="0.46"/><path d="M217.8 930.7L189.4 930.6" stroke="#fff" stroke-width="1.2" opacity="0.49"/><path d="M223.1 927.3L197.5 927.1" stroke="#fff" stroke-width="1.0" opacity="0.28"/><path d="M243.2 939.8L206.2 939" stroke="#b8c4d0" stroke-width="0.7" opacity=".55"/><path d="M243.2 939.4L182 940.5" stroke="#a6c3de" stroke-width="1.1" opacity=".55"/><path d="M243.2 922.7L287.7 922.7L287.7 924.4L243.2 925Z" fill="url(#scR)" opacity="0.78"/><path d="M243.2 923.3L290 924.3L290 926.2L243.2 925.6Z" fill="url(#saR)" opacity="0.87"/><path d="M243.2 924.5L300 925.5L300 927.3L243.2 927Z" fill="url(#sdR)" opacity="0.92"/><path d="M243.2 924.9L304.4 925.7L304.4 927.2L243.2 927.2Z" fill="url(#saR)" opacity="0.86"/><path d="M243.2 926L300.5 926.3L300.5 927.3L243.2 927.8Z" fill="url(#sbR)" opacity="0.93"/><path d="M243.2 927.2L300.8 927.4L300.8 928.8L243.2 929.1Z" fill="url(#saR)" opacity="0.92"/><path d="M243.2 927.8L305.7 928.5L305.7 929.9L243.2 929.9Z" fill="url(#sbR)" opacity="0.95"/><path d="M243.2 929L302.7 929.2L302.7 930.2L243.2 930.8Z" fill="url(#saR)" opacity="0.89"/><path d="M243.2 930L308.8 929.7L308.8 931.1L243.2 931.9Z" fill="url(#saR)" opacity="0.76"/><path d="M243.2 930.5L302.5 931L302.5 932.4L243.2 932.7Z" fill="url(#sbR)" opacity="0.91"/><path d="M243.2 931L301.9 930.5L301.9 932.1L243.2 933.5Z" fill="url(#saR)" opacity="0.92"/><path d="M243.2 931.7L303.1 931.4L303.1 932.9L243.2 934.1Z" fill="url(#scR)" opacity="0.82"/><path d="M243.2 932.7L300.3 931.4L300.3 933.1L243.2 934.8Z" fill="url(#saR)" opacity="0.87"/><path d="M243.2 933.7L295.6 933.9L295.6 935.6L243.2 936.1Z" fill="url(#saR)" opacity="0.83"/><path d="M243.2 934.8L298.8 934.4L298.8 935.3L243.2 936.4Z" fill="url(#scR)" opacity="0.93"/><path d="M263.2 930.9L297.1 931.1" stroke="#fff" stroke-width="1.0" opacity="0.45"/><path d="M264 926.7L293.2 927" stroke="#fff" stroke-width="0.7" opacity="0.30"/><path d="M265.8 924.9L303.7 925" stroke="#fff" stroke-width="0.9" opacity="0.50"/><path d="M243.2 939.2L294.6 938.2" stroke="#5c9fdc" stroke-width="0.8" opacity=".55"/><path d="M243.2 934.8L276.8 935.1" stroke="#7fb6e4" stroke-width="1.0" opacity=".55"/><path d="M243.2 941.4L189 942.3L189 943.6L243.2 943.7Z" fill="url(#sdL)" opacity="0.83"/><path d="M243.2 942L187.6 942.9L187.6 944.2L243.2 944.5Z" fill="url(#sdL)" opacity="0.84"/><path d="M243.2 943.1L184.5 942.9L184.5 944.6L243.2 945.4Z" fill="url(#saL)" opacity="0.79"/><path d="M243.2 943.4L186 944.3L186 945.7L243.2 945.4Z" fill="url(#sdL)" opacity="0.79"/><path d="M243.2 944.1L181.8 945.4L181.8 947.2L243.2 946.5Z" fill="url(#saL)" opacity="0.81"/><path d="M243.2 945.5L182.2 946.6L182.2 948.4L243.2 947.6Z" fill="url(#saL)" opacity="0.89"/><path d="M243.2 946L182.4 947.3L182.4 948.2L243.2 947.7Z" fill="url(#sbL)" opacity="0.81"/><path d="M243.2 947L180.6 947.7L180.6 949.3L243.2 949.5Z" fill="url(#scL)" opacity="0.90"/><path d="M243.2 948.1L179.3 947.4L179.3 949L243.2 949.9Z" fill="url(#saL)" opacity="0.88"/><path d="M243.2 948.8L181.1 949.8L181.1 951.4L243.2 950.8Z" fill="url(#scL)" opacity="0.82"/><path d="M243.2 949.4L182.4 950.2L182.4 951.8L243.2 951.7Z" fill="url(#scL)" opacity="0.90"/><path d="M243.2 950.4L180.6 950.3L180.6 951.9L243.2 952.2Z" fill="url(#saL)" opacity="0.83"/><path d="M243.2 951.5L180 952.2L180 953.5L243.2 953.7Z" fill="url(#saL)" opacity="0.81"/><path d="M243.2 952.4L183.5 952.7L183.5 953.8L243.2 954.1Z" fill="url(#saL)" opacity="0.91"/><path d="M243.2 953.4L188.1 953.7L188.1 955.3L243.2 955.6Z" fill="url(#sbL)" opacity="0.82"/><path d="M224.7 943.8L186.8 943.3" stroke="#fff" stroke-width="1.1" opacity="0.53"/><path d="M223.8 945.4L189.5 945.3" stroke="#fff" stroke-width="0.7" opacity="0.33"/><path d="M220.9 950.8L194.4 950" stroke="#fff" stroke-width="1.2" opacity="0.48"/><path d="M243.2 955.4L192.5 956.9" stroke="#5c9fdc" stroke-width="1.0" opacity=".55"/><path d="M243.2 957.4L205 956.2" stroke="#a6c3de" stroke-width="1.3" opacity=".55"/><path d="M243.2 942.1L304.5 941.9L304.5 943.6L243.2 944.1Z" fill="url(#sbR)" opacity="0.82"/><path d="M243.2 942.6L293.5 943.1L293.5 944.5L243.2 944.8Z" fill="url(#scR)" opacity="0.87"/><path d="M243.2 943.5L307.7 943.8L307.7 945.2L243.2 945.3Z" fill="url(#saR)" opacity="0.80"/><path d="M243.2 944.9L308.5 945.4L308.5 947L243.2 946.9Z" fill="url(#saR)" opacity="0.80"/><path d="M243.2 945.2L300.9 944.6L300.9 945.5L243.2 947Z" fill="url(#scR)" opacity="0.82"/><path d="M243.2 946.6L307.5 947L307.5 948.8L243.2 948.6Z" fill="url(#sdR)" opacity="0.83"/><path d="M243.2 946.7L301.7 946.6L301.7 948.6L243.2 949.3Z" fill="url(#sdR)" opacity="0.85"/><path d="M243.2 947.7L302.8 946.8L302.8 948.7L243.2 950.1Z" fill="url(#saR)" opacity="0.76"/><path d="M243.2 948.8L308 949.1L308 950.7L243.2 950.8Z" fill="url(#saR)" opacity="0.80"/><path d="M243.2 949.7L306.6 949.4L306.6 950.7L243.2 952Z" fill="url(#sbR)" opacity="0.90"/><path d="M243.2 950.9L302.1 950.4L302.1 952.3L243.2 953.2Z" fill="url(#saR)" opacity="0.84"/><path d="M243.2 951.5L302.8 950.6L302.8 951.9L243.2 953.5Z" fill="url(#saR)" opacity="0.93"/><path d="M243.2 952.8L308.1 952.7L308.1 953.8L243.2 954.8Z" fill="url(#saR)" opacity="0.77"/><path d="M243.2 953.5L303 953.3L303 955L243.2 955.4Z" fill="url(#sbR)" opacity="0.92"/><path d="M243.2 954.3L299.9 953.2L299.9 954.7L243.2 956.3Z" fill="url(#saR)" opacity="0.82"/><path d="M256 951.6L293.1 952.1" stroke="#fff" stroke-width="0.9" opacity="0.29"/><path d="M257.1 948.3L283.3 948.1" stroke="#fff" stroke-width="0.8" opacity="0.49"/><path d="M254.9 946.6L293.2 946.3" stroke="#fff" stroke-width="0.7" opacity="0.40"/><path d="M243.2 957.7L302 959.4" stroke="#b8c4d0" stroke-width="1.3" opacity=".55"/><path d="M243.2 954.7L300.9 956.6" stroke="#b8c4d0" stroke-width="1.4" opacity=".55"/><path d="M243.2 960.9L187.3 962.5L187.3 963.8L243.2 962.6Z" fill="url(#sbL)" opacity="0.78"/><path d="M243.2 961.5L191 963.6L191 965.3L243.2 963.5Z" fill="url(#scL)" opacity="0.81"/><path d="M243.2 962.2L184.7 964.2L184.7 965.2L243.2 963.8Z" fill="url(#saL)" opacity="0.85"/><path d="M243.2 962.9L182.8 965.7L182.8 967.2L243.2 964.7Z" fill="url(#sdL)" opacity="0.85"/><path d="M243.2 963.8L182.7 966.3L182.7 967.8L243.2 965.7Z" fill="url(#scL)" opacity="0.81"/><path d="M243.2 964.3L183.6 966.9L183.6 968.8L243.2 966.6Z" fill="url(#scL)" opacity="0.91"/><path d="M243.2 965.4L180.3 967.6L180.3 968.8L243.2 967.8Z" fill="url(#sbL)" opacity="0.78"/><path d="M243.2 966.8L183.2 969.7L183.2 970.7L243.2 968.7Z" fill="url(#sdL)" opacity="0.82"/><path d="M243.2 967.8L183.6 969.2L183.6 970.4L243.2 969.4Z" fill="url(#saL)" opacity="0.82"/><path d="M243.2 967.8L179.8 969.9L179.8 972L243.2 970.3Z" fill="url(#scL)" opacity="0.90"/><path d="M243.2 968.5L179.4 970.2L179.4 971.9L243.2 971Z" fill="url(#scL)" opacity="0.91"/><path d="M243.2 969.9L187.8 971.6L187.8 972.6L243.2 971.7Z" fill="url(#sbL)" opacity="0.80"/><path d="M243.2 971.5L187.7 973.1L187.7 974L243.2 973.1Z" fill="url(#saL)" opacity="0.92"/><path d="M243.2 971.8L194.2 972.9L194.2 974L243.2 973.9Z" fill="url(#saL)" opacity="0.76"/><path d="M243.2 972.2L194.5 972.7L194.5 974.1L243.2 974.3Z" fill="url(#saL)" opacity="0.86"/><path d="M229.9 964.7L189.7 965.4" stroke="#fff" stroke-width="0.9" opacity="0.53"/><path d="M223.4 962.5L189.1 963.5" stroke="#fff" stroke-width="1.0" opacity="0.26"/><path d="M232.7 972.5L196.5 973.1" stroke="#fff" stroke-width="1.2" opacity="0.46"/><path d="M243.2 978.3L193 980.3" stroke="#5c9fdc" stroke-width="1.3" opacity=".55"/><path d="M243.2 978.3L209.4 978.4" stroke="#5c9fdc" stroke-width="0.9" opacity=".55"/><path d="M243.2 961.6L290.1 962.2L290.1 963.6L243.2 963.6Z" fill="url(#saR)" opacity="0.80"/><path d="M243.2 962.3L300 961.9L300 963.6L243.2 964.3Z" fill="url(#saR)" opacity="0.76"/><path d="M243.2 963.4L305.8 963.5L305.8 964.8L243.2 965.2Z" fill="url(#saR)" opacity="0.87"/><path d="M243.2 963.8L303.4 965.3L303.4 966.6L243.2 966Z" fill="url(#sbR)" opacity="0.82"/><path d="M243.2 964.8L308.6 965.9L308.6 967.3L243.2 966.4Z" fill="url(#saR)" opacity="0.84"/><path d="M243.2 965.9L300.4 965.5L300.4 966.6L243.2 967.7Z" fill="url(#sbR)" opacity="0.87"/><path d="M243.2 966.4L306.4 966.2L306.4 967.8L243.2 968.7Z" fill="url(#sdR)" opacity="0.86"/><path d="M243.2 967.8L306.1 967.7L306.1 969L243.2 969.6Z" fill="url(#scR)" opacity="0.85"/><path d="M243.2 968.9L302.4 968.1L302.4 969.3L243.2 970.5Z" fill="url(#scR)" opacity="0.83"/><path d="M243.2 969.8L308.5 969.3L308.5 970.4L243.2 971.6Z" fill="url(#sbR)" opacity="0.81"/><path d="M243.2 970.7L306.8 969.8L306.8 970.8L243.2 972.6Z" fill="url(#sbR)" opacity="0.84"/><path d="M243.2 970.7L303.5 971L303.5 972.1L243.2 972.6Z" fill="url(#saR)" opacity="0.95"/><path d="M243.2 971.6L303.2 971.9L303.2 973.3L243.2 974.1Z" fill="url(#saR)" opacity="0.87"/><path d="M243.2 972.7L300.3 972.7L300.3 974.7L243.2 975.1Z" fill="url(#sbR)" opacity="0.80"/><path d="M243.2 973.5L296.8 972.3L296.8 973.7L243.2 975.7Z" fill="url(#scR)" opacity="0.87"/><path d="M268.9 968.5L295.9 968.3" stroke="#fff" stroke-width="1.1" opacity="0.51"/><path d="M259.3 969.7L293.1 969.5" stroke="#fff" stroke-width="1.1" opacity="0.34"/><path d="M262.2 967.4L291.5 966.9" stroke="#fff" stroke-width="1.2" opacity="0.50"/><path d="M243.2 976.3L290.7 975.1" stroke="#5c9fdc" stroke-width="1.3" opacity=".55"/><path d="M243.2 975.9L288.5 974.9" stroke="#5c9fdc" stroke-width="0.9" opacity=".55"/><path d="M243.2 980.2L194.8 983.1L194.8 984.4L243.2 982.8Z" fill="url(#saL)" opacity="0.80"/><path d="M243.2 981.2L183.5 982.6L183.5 984.1L243.2 983.1Z" fill="url(#sbL)" opacity="0.85"/><path d="M243.2 981.6L184.9 983.1L184.9 984.8L243.2 983.9Z" fill="url(#sbL)" opacity="0.84"/><path d="M243.2 982.2L186.4 983.8L186.4 985L243.2 983.8Z" fill="url(#sdL)" opacity="0.86"/><path d="M243.2 983.3L179.3 984.9L179.3 986.6L243.2 985.8Z" fill="url(#scL)" opacity="0.93"/><path d="M243.2 984.2L181.4 985L181.4 986.5L243.2 986.5Z" fill="url(#sbL)" opacity="0.95"/><path d="M243.2 985.4L187.6 987.5L187.6 989.1L243.2 987.5Z" fill="url(#scL)" opacity="0.93"/><path d="M243.2 986.1L185.8 987.4L185.8 988.6L243.2 987.8Z" fill="url(#saL)" opacity="0.83"/><path d="M243.2 986.4L187.6 987.8L187.6 989.4L243.2 988.6Z" fill="url(#sdL)" opacity="0.76"/><path d="M243.2 987.4L185.7 989.3L185.7 990.5L243.2 989.8Z" fill="url(#sbL)" opacity="0.83"/><path d="M243.2 988.5L188.3 988.7L188.3 990L243.2 990.1Z" fill="url(#scL)" opacity="0.80"/><path d="M243.2 989.5L179 990.7L179 992.1L243.2 991.6Z" fill="url(#saL)" opacity="0.78"/><path d="M243.2 990.3L188.4 990.1L188.4 992L243.2 992.4Z" fill="url(#sbL)" opacity="0.91"/><path d="M243.2 990.9L201.7 992.5L201.7 994L243.2 993.3Z" fill="url(#sdL)" opacity="0.80"/><path d="M243.2 992.2L184.7 993.7L184.7 994.5L243.2 993.9Z" fill="url(#saL)" opacity="0.84"/><path d="M232.7 985.8L184.7 986.5" stroke="#fff" stroke-width="1.3" opacity="0.38"/><path d="M229.6 988.3L203.7 989.6" stroke="#fff" stroke-width="1.2" opacity="0.34"/><path d="M220.5 991.2L197.9 991.9" stroke="#fff" stroke-width="1.3" opacity="0.40"/><path d="M243.2 998.4L203.3 997.9" stroke="#a6c3de" stroke-width="1.0" opacity=".55"/><path d="M243.2 995.1L188.3 993.2" stroke="#a6c3de" stroke-width="0.8" opacity=".55"/><path d="M243.2 980.8L298.1 980.7L298.1 981.8L243.2 982.4Z" fill="url(#sbR)" opacity="0.82"/><path d="M243.2 981.8L302 981.8L302 983.4L243.2 984.4Z" fill="url(#sbR)" opacity="0.81"/><path d="M243.2 982.5L305.7 982.2L305.7 983.1L243.2 984.1Z" fill="url(#sdR)" opacity="0.78"/><path d="M243.2 983.2L306.9 983.1L306.9 984.5L243.2 985.4Z" fill="url(#saR)" opacity="0.78"/><path d="M243.2 984.1L302.8 984.8L302.8 986.2L243.2 986.5Z" fill="url(#sbR)" opacity="0.85"/><path d="M243.2 985L300.4 985L300.4 986.3L243.2 987Z" fill="url(#sbR)" opacity="0.87"/><path d="M243.2 986.1L305.1 984.8L305.1 986.3L243.2 987.9Z" fill="url(#saR)" opacity="0.89"/><path d="M243.2 986.4L306.4 986.6L306.4 987.8L243.2 988.9Z" fill="url(#sdR)" opacity="0.86"/><path d="M243.2 987.7L300 986.1L300 987.8L243.2 989.7Z" fill="url(#sbR)" opacity="0.79"/><path d="M243.2 989.3L308.1 988.8L308.1 990.1L243.2 990.9Z" fill="url(#saR)" opacity="0.76"/><path d="M243.2 989.5L300.4 989L300.4 990.1L243.2 991.4Z" fill="url(#sbR)" opacity="0.92"/><path d="M243.2 990.2L305.3 989.8L305.3 991.7L243.2 992.5Z" fill="url(#saR)" opacity="0.76"/><path d="M243.2 991.2L302.6 989.9L302.6 991.6L243.2 993.5Z" fill="url(#sdR)" opacity="0.84"/><path d="M243.2 992.6L293.4 990.9L293.4 992.2L243.2 994.6Z" fill="url(#scR)" opacity="0.90"/><path d="M243.2 993.6L287.7 991.4L287.7 992.4L243.2 995.2Z" fill="url(#sbR)" opacity="0.90"/><path d="M263.4 988.5L304.4 988.2" stroke="#fff" stroke-width="0.8" opacity="0.40"/><path d="M268.3 988.2L298.1 987.8" stroke="#fff" stroke-width="1.3" opacity="0.28"/><path d="M263.9 990.7L303.4 991" stroke="#fff" stroke-width="1.0" opacity="0.46"/><path d="M243.2 998.5L298.5 996.6" stroke="#5c9fdc" stroke-width="0.8" opacity=".55"/><path d="M243.2 998.1L300.8 996.5" stroke="#b8c4d0" stroke-width="1.4" opacity=".55"/><path d="M243.2 999.1L186 1000.4L186 1001.7L243.2 1001.2Z" fill="url(#scL)" opacity="0.90"/><path d="M243.2 1000.5L198.2 1002.1L198.2 1003.6L243.2 1002.7Z" fill="url(#scL)" opacity="0.92"/><path d="M243.2 1001.3L186.8 1003.2L186.8 1004.9L243.2 1003.4Z" fill="url(#scL)" opacity="0.80"/><path d="M243.2 1001.9L182.5 1003L182.5 1004.6L243.2 1004.4Z" fill="url(#saL)" opacity="0.78"/><path d="M243.2 1002.8L182.5 1003L182.5 1004.3L243.2 1004.5Z" fill="url(#sbL)" opacity="0.88"/><path d="M243.2 1003.5L183.7 1004.1L183.7 1005.7L243.2 1005.3Z" fill="url(#sbL)" opacity="0.89"/><path d="M243.2 1004.1L183 1004.3L183 1006.1L243.2 1006.4Z" fill="url(#saL)" opacity="0.86"/><path d="M243.2 1005.8L182.2 1006.5L182.2 1007.8L243.2 1007.5Z" fill="url(#sbL)" opacity="0.92"/><path d="M243.2 1006L185.2 1006.1L185.2 1007.1L243.2 1007.9Z" fill="url(#sbL)" opacity="0.81"/><path d="M243.2 1006.9L179.4 1006.7L179.4 1008L243.2 1008.8Z" fill="url(#scL)" opacity="0.82"/><path d="M243.2 1007.9L188.5 1009.1L188.5 1010.5L243.2 1009.6Z" fill="url(#saL)" opacity="0.90"/><path d="M243.2 1008.5L186.1 1009L186.1 1011L243.2 1010.8Z" fill="url(#sbL)" opacity="0.79"/><path d="M243.2 1010.1L179.8 1010.3L179.8 1011.5L243.2 1011.7Z" fill="url(#sdL)" opacity="0.88"/><path d="M243.2 1010.5L200.9 1010.9L200.9 1012.5L243.2 1012.4Z" fill="url(#sbL)" opacity="0.82"/><path d="M243.2 1011.8L185 1010.8L185 1012.5L243.2 1013.9Z" fill="url(#sbL)" opacity="0.90"/><path d="M230.6 1004.6L186.1 1004.4" stroke="#fff" stroke-width="0.9" opacity="0.42"/><path d="M220.2 1005L199.3 1004.3" stroke="#fff" stroke-width="1.0" opacity="0.44"/><path d="M222.2 1009.8L184.3 1010.8" stroke="#fff" stroke-width="0.9" opacity="0.40"/><path d="M243.2 1013.2L201.5 1013.5" stroke="#7fb6e4" stroke-width="0.8" opacity=".55"/><path d="M243.2 1013.6L206.7 1014.1" stroke="#b8c4d0" stroke-width="0.8" opacity=".55"/><path d="M243.2 1000.3L290.5 1000.5L290.5 1002L243.2 1002.1Z" fill="url(#scR)" opacity="0.84"/><path d="M243.2 1001L295.4 1000.1L295.4 1001.7L243.2 1003.2Z" fill="url(#sdR)" opacity="0.94"/><path d="M243.2 1001.7L302.9 1000L302.9 1001.9L243.2 1004Z" fill="url(#sdR)" opacity="0.82"/><path d="M243.2 1002.7L302.3 1001.9L302.3 1003.4L243.2 1004.4Z" fill="url(#sdR)" opacity="0.92"/><path d="M243.2 1004L305.2 1004L305.2 1005.4L243.2 1006.6Z" fill="url(#sdR)" opacity="0.82"/><path d="M243.2 1004.7L303.3 1003.5L303.3 1005.2L243.2 1006.9Z" fill="url(#saR)" opacity="0.81"/><path d="M243.2 1005.2L299.4 1003.5L299.4 1005.5L243.2 1007.7Z" fill="url(#sbR)" opacity="0.89"/><path d="M243.2 1006L304.6 1005.9L304.6 1007.3L243.2 1008.2Z" fill="url(#saR)" opacity="0.86"/><path d="M243.2 1007.3L300.9 1006.9L300.9 1008.1L243.2 1009Z" fill="url(#saR)" opacity="0.79"/><path d="M243.2 1008.2L301 1007.3L301 1009L243.2 1010.5Z" fill="url(#saR)" opacity="0.86"/><path d="M243.2 1008.6L300.2 1007.3L300.2 1008.9L243.2 1010.8Z" fill="url(#saR)" opacity="0.92"/><path d="M243.2 1009.7L300.5 1008.4L300.5 1010.1L243.2 1012.1Z" fill="url(#saR)" opacity="0.88"/><path d="M243.2 1011L303.7 1009.8L303.7 1011.3L243.2 1013.1Z" fill="url(#saR)" opacity="0.86"/><path d="M243.2 1012.1L291.8 1009.7L291.8 1010.9L243.2 1013.8Z" fill="url(#saR)" opacity="0.89"/><path d="M243.2 1012.8L288 1012L288 1013.1L243.2 1014.8Z" fill="url(#saR)" opacity="0.86"/><path d="M267.4 1011.8L286.5 1011.6" stroke="#fff" stroke-width="0.8" opacity="0.48"/><path d="M266.7 1009.3L285.5 1008.3" stroke="#fff" stroke-width="1.1" opacity="0.53"/><path d="M253.8 1009.7L296.6 1008.2" stroke="#fff" stroke-width="1.0" opacity="0.49"/><path d="M243.2 1012.9L306.5 1013.6" stroke="#5c9fdc" stroke-width="0.9" opacity=".55"/><path d="M243.2 1016.3L276.8 1018.2" stroke="#b8c4d0" stroke-width="0.8" opacity=".55"/><path d="M243.2 1018.4L193.1 1017.4L193.1 1019.2L243.2 1020.8Z" fill="url(#sbL)" opacity="0.92"/><path d="M243.2 1019.7L182.9 1018.8L182.9 1020L243.2 1021.6Z" fill="url(#saL)" opacity="0.82"/><path d="M243.2 1020.2L180.2 1020.3L180.2 1021.4L243.2 1022.3Z" fill="url(#saL)" opacity="0.87"/><path d="M243.2 1021.4L180.5 1021.5L180.5 1023.2L243.2 1023.6Z" fill="url(#sbL)" opacity="0.83"/><path d="M243.2 1022.5L187.9 1021.4L187.9 1022.7L243.2 1024.7Z" fill="url(#saL)" opacity="0.87"/><path d="M243.2 1022.8L185.2 1021.8L185.2 1023.1L243.2 1024.5Z" fill="url(#sbL)" opacity="0.94"/><path d="M243.2 1023.8L184 1022.4L184 1023.5L243.2 1025.8Z" fill="url(#scL)" opacity="0.76"/><path d="M243.2 1024.4L186 1022.9L186 1024.5L243.2 1026.7Z" fill="url(#sbL)" opacity="0.82"/><path d="M243.2 1025.6L187.3 1024.7L187.3 1026.6L243.2 1027.8Z" fill="url(#saL)" opacity="0.92"/><path d="M243.2 1026.6L182.5 1025.2L182.5 1026.5L243.2 1028.9Z" fill="url(#saL)" opacity="0.92"/><path d="M243.2 1027.6L185.7 1026.6L185.7 1028.5L243.2 1029.9Z" fill="url(#scL)" opacity="0.92"/><path d="M243.2 1027.7L181.7 1026L181.7 1027.9L243.2 1030.2Z" fill="url(#sdL)" opacity="0.81"/><path d="M243.2 1029.5L185.1 1027.5L185.1 1028.7L243.2 1031.6Z" fill="url(#sbL)" opacity="0.78"/><path d="M243.2 1029.3L191.2 1027.5L191.2 1029.6L243.2 1031.8Z" fill="url(#saL)" opacity="0.87"/><path d="M243.2 1030.3L192.3 1028.8L192.3 1030.8L243.2 1032.6Z" fill="url(#saL)" opacity="0.93"/><path d="M232.3 1026.7L200.7 1026.1" stroke="#fff" stroke-width="1.3" opacity="0.36"/><path d="M226.7 1028.7L185.2 1027.1" stroke="#fff" stroke-width="0.9" opacity="0.52"/><path d="M229.4 1023.5L204.2 1022.1" stroke="#fff" stroke-width="0.8" opacity="0.46"/><path d="M243.2 1032.9L198.3 1031.7" stroke="#5c9fdc" stroke-width="1.3" opacity=".55"/><path d="M243.2 1035.4L204.8 1036.4" stroke="#a6c3de" stroke-width="1.1" opacity=".55"/><path d="M243.2 1020L289.7 1018.9L289.7 1020.7L243.2 1022.4Z" fill="url(#saR)" opacity="0.88"/><path d="M243.2 1021L302.4 1021.1L302.4 1022.4L243.2 1022.8Z" fill="url(#sbR)" opacity="0.87"/><path d="M243.2 1021.8L307.7 1022L307.7 1023L243.2 1023.5Z" fill="url(#scR)" opacity="0.82"/><path d="M243.2 1022.3L301.7 1021.8L301.7 1022.9L243.2 1024.5Z" fill="url(#sbR)" opacity="0.86"/><path d="M243.2 1023.7L305.2 1023.5L305.2 1024.6L243.2 1025.4Z" fill="url(#saR)" opacity="0.75"/><path d="M243.2 1023.8L307.4 1022.8L307.4 1024.2L243.2 1025.9Z" fill="url(#sbR)" opacity="0.86"/><path d="M243.2 1024.9L305.6 1024.4L305.6 1025.7L243.2 1027.1Z" fill="url(#sdR)" opacity="0.87"/><path d="M243.2 1026L299.4 1025.3L299.4 1026.9L243.2 1028.1Z" fill="url(#scR)" opacity="0.95"/><path d="M243.2 1026.7L304.3 1026.6L304.3 1027.7L243.2 1028.6Z" fill="url(#saR)" opacity="0.86"/><path d="M243.2 1026.9L308.8 1025.2L308.8 1027L243.2 1029.3Z" fill="url(#sbR)" opacity="0.90"/><path d="M243.2 1028.3L300.5 1026.1L300.5 1027.2L243.2 1029.9Z" fill="url(#scR)" opacity="0.91"/><path d="M243.2 1028.9L306.4 1028.3L306.4 1030.2L243.2 1031.1Z" fill="url(#saR)" opacity="0.86"/><path d="M243.2 1029.7L303.5 1029.3L303.5 1030.6L243.2 1032.1Z" fill="url(#sbR)" opacity="0.93"/><path d="M243.2 1031.1L291.4 1029.9L291.4 1030.8L243.2 1032.9Z" fill="url(#sdR)" opacity="0.93"/><path d="M243.2 1032.1L292.3 1031.2L292.3 1032.5L243.2 1034Z" fill="url(#sdR)" opacity="0.88"/><path d="M257.2 1023.9L288.7 1023.1" stroke="#fff" stroke-width="0.8" opacity="0.31"/><path d="M263.6 1029.5L289.6 1029.9" stroke="#fff" stroke-width="0.8" opacity="0.42"/><path d="M267.3 1023.2L302.7 1022.1" stroke="#fff" stroke-width="1.1" opacity="0.50"/><path d="M243.2 1033.3L287 1033.2" stroke="#a6c3de" stroke-width="0.8" opacity=".55"/><path d="M243.2 1035.6L295.8 1035.4" stroke="#7fb6e4" stroke-width="1.3" opacity=".55"/><path d="M243.2 1038.5L183.2 1037.8L183.2 1039.5L243.2 1040.5Z" fill="url(#sbL)" opacity="0.89"/><path d="M243.2 1039.3L193.6 1039L193.6 1040.2L243.2 1041.1Z" fill="url(#sbL)" opacity="0.77"/><path d="M243.2 1039.6L187.8 1039L187.8 1040.9L243.2 1041.9Z" fill="url(#sdL)" opacity="0.83"/><path d="M243.2 1040.5L183 1039.6L183 1041.5L243.2 1043Z" fill="url(#saL)" opacity="0.76"/><path d="M243.2 1041.7L184.5 1040.8L184.5 1041.7L243.2 1043.5Z" fill="url(#sbL)" opacity="0.76"/><path d="M243.2 1042L179.3 1041.9L179.3 1043.2L243.2 1044.5Z" fill="url(#saL)" opacity="0.89"/><path d="M243.2 1042.9L183.8 1041.8L183.8 1043.3L243.2 1045.3Z" fill="url(#sbL)" opacity="0.94"/><path d="M243.2 1043.6L180.4 1044.2L180.4 1045.7L243.2 1046.2Z" fill="url(#saL)" opacity="0.80"/><path d="M243.2 1044.9L188 1043.3L188 1044.6L243.2 1046.8Z" fill="url(#sbL)" opacity="0.91"/><path d="M243.2 1046.4L185.5 1044.7L185.5 1046L243.2 1048.3Z" fill="url(#sbL)" opacity="0.86"/><path d="M243.2 1046.6L180.2 1046.4L180.2 1048.1L243.2 1049.2Z" fill="url(#sbL)" opacity="0.86"/><path d="M243.2 1047.8L181.3 1047.4L181.3 1048.8L243.2 1049.5Z" fill="url(#sdL)" opacity="0.75"/><path d="M243.2 1048.2L186.2 1047.7L186.2 1049.3L243.2 1050.7Z" fill="url(#saL)" opacity="0.92"/><path d="M243.2 1049.9L197.3 1049L197.3 1050.1L243.2 1051.5Z" fill="url(#scL)" opacity="0.81"/><path d="M243.2 1050.3L186 1048L186 1049.7L243.2 1052.4Z" fill="url(#sbL)" opacity="0.85"/><path d="M217.6 1046.2L199.4 1046" stroke="#fff" stroke-width="1.1" opacity="0.36"/><path d="M227.3 1047.5L192.9 1047.3" stroke="#fff" stroke-width="1.1" opacity="0.35"/><path d="M224.9 1046.6L199.7 1046.4" stroke="#fff" stroke-width="0.8" opacity="0.52"/><path d="M243.2 1053.8L187.9 1053.9" stroke="#b8c4d0" stroke-width="1.1" opacity=".55"/><path d="M243.2 1056.9L209 1057.9" stroke="#5c9fdc" stroke-width="1.1" opacity=".55"/><path d="M243.2 1039.4L298.3 1040.4L298.3 1041.8L243.2 1041.3Z" fill="url(#sdR)" opacity="0.92"/><path d="M243.2 1039.6L304.4 1040L304.4 1041.1L243.2 1041.6Z" fill="url(#sbR)" opacity="0.83"/><path d="M243.2 1040.7L304.3 1041.1L304.3 1042.8L243.2 1043Z" fill="url(#sbR)" opacity="0.83"/><path d="M243.2 1042.1L303.6 1042.6L303.6 1044.5L243.2 1044.4Z" fill="url(#scR)" opacity="0.78"/><path d="M243.2 1042.8L304.3 1043L304.3 1044.2L243.2 1044.7Z" fill="url(#sbR)" opacity="0.91"/><path d="M243.2 1043.2L299.1 1043.3L299.1 1044.9L243.2 1045.4Z" fill="url(#sbR)" opacity="0.89"/><path d="M243.2 1044.2L301.5 1045.5L301.5 1046.5L243.2 1046.1Z" fill="url(#sdR)" opacity="0.85"/><path d="M243.2 1045L308.6 1044.9L308.6 1046.3L243.2 1046.7Z" fill="url(#saR)" opacity="0.89"/><path d="M243.2 1046.2L306.6 1047.3L306.6 1048.5L243.2 1047.8Z" fill="url(#scR)" opacity="0.91"/><path d="M243.2 1046.8L304.8 1048L304.8 1049.1L243.2 1048.8Z" fill="url(#sdR)" opacity="0.87"/><path d="M243.2 1047.6L307.6 1046.8L307.6 1048L243.2 1049.4Z" fill="url(#sbR)" opacity="0.86"/><path d="M243.2 1048.3L306.6 1047.5L306.6 1049.3L243.2 1050.8Z" fill="url(#sbR)" opacity="0.94"/><path d="M243.2 1049.7L308.9 1049.1L308.9 1050.2L243.2 1051.7Z" fill="url(#sbR)" opacity="0.85"/><path d="M243.2 1050L301.7 1050.1L301.7 1051.3L243.2 1052.5Z" fill="url(#sdR)" opacity="0.81"/><path d="M243.2 1051.1L289.9 1051.5L289.9 1052.9L243.2 1053.1Z" fill="url(#saR)" opacity="0.77"/><path d="M265.5 1041.9L295.7 1041" stroke="#fff" stroke-width="1.1" opacity="0.46"/><path d="M254 1046L298.6 1045.9" stroke="#fff" stroke-width="1.0" opacity="0.55"/><path d="M267.4 1049.5L286 1049.2" stroke="#fff" stroke-width="1.0" opacity="0.25"/><path d="M243.2 1056.8L285.1 1055.9" stroke="#5c9fdc" stroke-width="1.0" opacity=".55"/><path d="M243.2 1054.9L285.9 1054.5" stroke="#b8c4d0" stroke-width="1.2" opacity=".55"/><path d="M243.2 1057.4L191.2 1057.6L191.2 1058.7L243.2 1059.3Z" fill="url(#saL)" opacity="0.86"/><path d="M243.2 1058.3L190.1 1058.3L190.1 1059.9L243.2 1060.4Z" fill="url(#saL)" opacity="0.84"/><path d="M243.2 1059.4L181.6 1058.8L181.6 1060L243.2 1061.7Z" fill="url(#scL)" opacity="0.91"/><path d="M243.2 1059.8L184.4 1059.5L184.4 1060.6L243.2 1061.6Z" fill="url(#scL)" opacity="0.87"/><path d="M243.2 1060.9L186.7 1060.4L186.7 1061.8L243.2 1063.2Z" fill="url(#sdL)" opacity="0.77"/><path d="M243.2 1061.4L180.8 1061.6L180.8 1062.9L243.2 1063.9Z" fill="url(#sdL)" opacity="0.86"/><path d="M243.2 1063L182.1 1063.2L182.1 1064.5L243.2 1065.1Z" fill="url(#saL)" opacity="0.86"/><path d="M243.2 1063.2L181.7 1063L181.7 1064.7L243.2 1065.5Z" fill="url(#saL)" opacity="0.91"/><path d="M243.2 1064.9L182.3 1063.8L182.3 1065.6L243.2 1066.9Z" fill="url(#sdL)" opacity="0.83"/><path d="M243.2 1065.4L187.3 1064.3L187.3 1066.1L243.2 1067.9Z" fill="url(#saL)" opacity="0.92"/><path d="M243.2 1066.3L181.7 1065.5L181.7 1066.9L243.2 1068.6Z" fill="url(#scL)" opacity="0.92"/><path d="M243.2 1066.5L179.2 1066L179.2 1067.3L243.2 1068.9Z" fill="url(#sbL)" opacity="0.78"/><path d="M243.2 1067.6L181.9 1066.5L181.9 1067.8L243.2 1069.8Z" fill="url(#saL)" opacity="0.84"/><path d="M243.2 1069.3L194.4 1068.9L194.4 1070.4L243.2 1071Z" fill="url(#scL)" opacity="0.86"/><path d="M243.2 1069.6L189.2 1069.6L189.2 1070.7L243.2 1071.5Z" fill="url(#sbL)" opacity="0.81"/><path d="M224.2 1062.6L187.7 1061.7" stroke="#fff" stroke-width="0.9" opacity="0.48"/><path d="M219.1 1067.4L191.7 1066.7" stroke="#fff" stroke-width="1.0" opacity="0.28"/><path d="M230.5 1059.4L201.3 1058.7" stroke="#fff" stroke-width="0.7" opacity="0.36"/><path d="M243.2 1073.3L200.5 1072.7" stroke="#7fb6e4" stroke-width="1.3" opacity=".55"/><path d="M243.2 1072.2L208.9 1072.4" stroke="#7fb6e4" stroke-width="1.2" opacity=".55"/><path d="M243.2 1058.3L286 1058.3L286 1059.7L243.2 1060.3Z" fill="url(#sdR)" opacity="0.78"/><path d="M243.2 1059.5L297.8 1058.7L297.8 1059.8L243.2 1061.4Z" fill="url(#saR)" opacity="0.82"/><path d="M243.2 1060.5L303.9 1059.5L303.9 1060.8L243.2 1063Z" fill="url(#saR)" opacity="0.77"/><path d="M243.2 1061.1L300.3 1060.7L300.3 1061.9L243.2 1063.3Z" fill="url(#scR)" opacity="0.76"/><path d="M243.2 1061.7L301.9 1060.9L301.9 1063.2L243.2 1064.2Z" fill="url(#saR)" opacity="0.90"/><path d="M243.2 1063L300.1 1061.7L300.1 1062.6L243.2 1064.8Z" fill="url(#sdR)" opacity="0.86"/><path d="M243.2 1064L306.5 1062.6L306.5 1063.7L243.2 1065.8Z" fill="url(#saR)" opacity="0.83"/><path d="M243.2 1064.9L304.8 1063.1L304.8 1064.4L243.2 1066.6Z" fill="url(#saR)" opacity="0.80"/><path d="M243.2 1065.3L306.1 1063.7L306.1 1065.1L243.2 1067.7Z" fill="url(#scR)" opacity="0.82"/><path d="M243.2 1066.1L306.8 1064.5L306.8 1065.6L243.2 1067.9Z" fill="url(#saR)" opacity="0.91"/><path d="M243.2 1066.8L299.2 1066.8L299.2 1068.4L243.2 1069.3Z" fill="url(#sbR)" opacity="0.76"/><path d="M243.2 1068.5L304.2 1066.4L304.2 1067.8L243.2 1070.3Z" fill="url(#saR)" opacity="0.79"/><path d="M243.2 1069.1L306.1 1067.2L306.1 1068.3L243.2 1071.4Z" fill="url(#sbR)" opacity="0.76"/><path d="M243.2 1069.9L294.2 1067.4L294.2 1069L243.2 1071.8Z" fill="url(#saR)" opacity="0.92"/><path d="M243.2 1071.2L296 1068.6L296 1070.1L243.2 1072.9Z" fill="url(#sdR)" opacity="0.90"/><path d="M257.3 1065.6L298.7 1064.6" stroke="#fff" stroke-width="0.6" opacity="0.39"/><path d="M264.3 1068.6L286.5 1067.8" stroke="#fff" stroke-width="1.0" opacity="0.53"/><path d="M265.4 1065.8L296.4 1065.5" stroke="#fff" stroke-width="1.0" opacity="0.27"/><path d="M243.2 1075L302.5 1076" stroke="#a6c3de" stroke-width="0.9" opacity=".55"/><path d="M243.2 1073.9L294.6 1075.4" stroke="#7fb6e4" stroke-width="1.0" opacity=".55"/><path d="M243.2 1077.2L182.3 1079L182.3 1080.2L243.2 1079.5Z" fill="url(#sdL)" opacity="0.88"/><path d="M243.2 1078.1L189 1079.4L189 1080.8L243.2 1080.3Z" fill="url(#scL)" opacity="0.75"/><path d="M243.2 1078.3L184.6 1080.2L184.6 1081.8L243.2 1080.7Z" fill="url(#sbL)" opacity="0.86"/><path d="M243.2 1079.2L184.1 1080L184.1 1081.2L243.2 1081.2Z" fill="url(#sbL)" opacity="0.79"/><path d="M243.2 1080.8L183.4 1081.8L183.4 1083L243.2 1082.8Z" fill="url(#sdL)" opacity="0.76"/><path d="M243.2 1081.7L186 1084L186 1085.1L243.2 1083.5Z" fill="url(#saL)" opacity="0.82"/><path d="M243.2 1082.2L179.4 1083.2L179.4 1084.8L243.2 1084.7Z" fill="url(#scL)" opacity="0.91"/><path d="M243.2 1082.9L179.3 1084.2L179.3 1085.4L243.2 1085.4Z" fill="url(#saL)" opacity="0.77"/><path d="M243.2 1083.6L182.3 1085.1L182.3 1086.8L243.2 1085.8Z" fill="url(#scL)" opacity="0.90"/><path d="M243.2 1084.8L187.3 1086.5L187.3 1087.8L243.2 1087.1Z" fill="url(#sbL)" opacity="0.77"/><path d="M243.2 1085.7L179.4 1086.2L179.4 1087.8L243.2 1087.8Z" fill="url(#sdL)" opacity="0.89"/><path d="M243.2 1086.6L188.1 1087.8L188.1 1089.5L243.2 1089Z" fill="url(#sdL)" opacity="0.95"/><path d="M243.2 1086.7L182 1087.7L182 1089.3L243.2 1089.1Z" fill="url(#scL)" opacity="0.93"/><path d="M243.2 1088.1L197.6 1087.9L197.6 1090L243.2 1090.5Z" fill="url(#sbL)" opacity="0.78"/><path d="M243.2 1089L196.5 1090L196.5 1091.7L243.2 1091.2Z" fill="url(#sbL)" opacity="0.88"/><path d="M221.2 1081.3L204.1 1081.9" stroke="#fff" stroke-width="0.9" opacity="0.28"/><path d="M223.3 1088.8L193.6 1090.2" stroke="#fff" stroke-width="0.9" opacity="0.52"/><path d="M220.2 1082.2L193.5 1081.7" stroke="#fff" stroke-width="1.0" opacity="0.52"/><path d="M243.2 1091.1L185.2 1089.3" stroke="#5c9fdc" stroke-width="1.2" opacity=".55"/><path d="M243.2 1090.9L201.1 1089.1" stroke="#5c9fdc" stroke-width="1.4" opacity=".55"/><path d="M243.2 1077.8L300.2 1079.5L300.2 1081.2L243.2 1080.1Z" fill="url(#sbR)" opacity="0.83"/><path d="M243.2 1079L299.2 1080.8L299.2 1081.9L243.2 1081Z" fill="url(#scR)" opacity="0.84"/><path d="M243.2 1079.9L306.8 1081.3L306.8 1082.5L243.2 1082.2Z" fill="url(#scR)" opacity="0.84"/><path d="M243.2 1080.5L306.6 1081.7L306.6 1083.1L243.2 1082.8Z" fill="url(#sbR)" opacity="0.86"/><path d="M243.2 1081.2L301.7 1083.4L301.7 1084.5L243.2 1083.4Z" fill="url(#sdR)" opacity="0.86"/><path d="M243.2 1082L301.8 1083L301.8 1084.4L243.2 1084.5Z" fill="url(#scR)" opacity="0.77"/><path d="M243.2 1083.1L307.4 1084.5L307.4 1086.7L243.2 1085.5Z" fill="url(#saR)" opacity="0.88"/><path d="M243.2 1084.3L306 1086L306 1087.5L243.2 1086.5Z" fill="url(#sdR)" opacity="0.92"/><path d="M243.2 1084.8L302.5 1086.5L302.5 1088.1L243.2 1086.9Z" fill="url(#saR)" opacity="0.86"/><path d="M243.2 1085.6L308 1086L308 1087.4L243.2 1087.9Z" fill="url(#saR)" opacity="0.93"/><path d="M243.2 1086.5L304.8 1086.8L304.8 1087.8L243.2 1088.1Z" fill="url(#saR)" opacity="0.86"/><path d="M243.2 1087L306.9 1088.7L306.9 1090.1L243.2 1089.4Z" fill="url(#sdR)" opacity="0.92"/><path d="M243.2 1088.4L301.9 1087.8L301.9 1089.3L243.2 1090.1Z" fill="url(#sdR)" opacity="0.83"/><path d="M243.2 1088.8L297.8 1090.2L297.8 1092L243.2 1091.1Z" fill="url(#scR)" opacity="0.87"/><path d="M243.2 1089.9L296.9 1090.2L296.9 1091.8L243.2 1092.1Z" fill="url(#saR)" opacity="0.82"/><path d="M254.3 1087.1L302 1087.2" stroke="#fff" stroke-width="0.6" opacity="0.44"/><path d="M257.6 1081.2L284 1081.5" stroke="#fff" stroke-width="1.0" opacity="0.49"/><path d="M266.7 1080.2L285.2 1080.1" stroke="#fff" stroke-width="1.0" opacity="0.35"/><path d="M243.2 1091.8L294.8 1090.7" stroke="#a6c3de" stroke-width="0.9" opacity=".55"/><path d="M243.2 1095.6L295.1 1096.4" stroke="#a6c3de" stroke-width="1.2" opacity=".55"/><path d="M243.2 1096.4L193.1 1096.4L193.1 1097.9L243.2 1098.4Z" fill="url(#sbL)" opacity="0.83"/><path d="M243.2 1097.7L182.2 1098L182.2 1099.1L243.2 1099.7Z" fill="url(#sbL)" opacity="0.94"/><path d="M243.2 1097.9L187.9 1097.3L187.9 1098.8L243.2 1100.5Z" fill="url(#sbL)" opacity="0.94"/><path d="M243.2 1099.3L186.8 1098.9L186.8 1100.1L243.2 1101.5Z" fill="url(#saL)" opacity="0.81"/><path d="M243.2 1099.5L183.7 1098.7L183.7 1100.1L243.2 1101.8Z" fill="url(#sdL)" opacity="0.90"/><path d="M243.2 1101.1L181.4 1100.9L181.4 1102L243.2 1102.9Z" fill="url(#saL)" opacity="0.93"/><path d="M243.2 1101.7L188 1100.3L188 1101.5L243.2 1104Z" fill="url(#sdL)" opacity="0.89"/><path d="M243.2 1102.7L185.2 1100.8L185.2 1102.2L243.2 1104.5Z" fill="url(#sbL)" opacity="0.81"/><path d="M243.2 1103.1L185.2 1102.5L185.2 1104L243.2 1104.8Z" fill="url(#sbL)" opacity="0.90"/><path d="M243.2 1103.8L185.1 1103.4L185.1 1105.1L243.2 1106.2Z" fill="url(#saL)" opacity="0.93"/><path d="M243.2 1105.3L180.7 1103.3L180.7 1104.4L243.2 1107.3Z" fill="url(#scL)" opacity="0.80"/><path d="M243.2 1105.9L182.3 1105.3L182.3 1106.5L243.2 1107.8Z" fill="url(#sbL)" opacity="0.94"/><path d="M243.2 1107.2L181.6 1105.2L181.6 1106.9L243.2 1109.2Z" fill="url(#sbL)" opacity="0.78"/><path d="M243.2 1107.4L183 1105.6L183 1106.5L243.2 1109.2Z" fill="url(#saL)" opacity="0.84"/><path d="M243.2 1107.7L197.4 1105.8L197.4 1107.7L243.2 1110.2Z" fill="url(#sbL)" opacity="0.85"/><path d="M230.3 1104.9L199.2 1105" stroke="#fff" stroke-width="0.9" opacity="0.28"/><path d="M231.5 1104.4L200.2 1103.6" stroke="#fff" stroke-width="1.0" opacity="0.44"/><path d="M226.5 1105.6L203.2 1105.4" stroke="#fff" stroke-width="0.6" opacity="0.39"/><path d="M243.2 1111.6L189.5 1112.5" stroke="#a6c3de" stroke-width="1.2" opacity=".55"/><path d="M243.2 1112L182.8 1112.5" stroke="#7fb6e4" stroke-width="1.3" opacity=".55"/><path d="M243.2 1097L296.2 1098.1L296.2 1099.6L243.2 1098.8Z" fill="url(#saR)" opacity="0.88"/><path d="M243.2 1098.5L299.7 1100.5L299.7 1101.4L243.2 1100.1Z" fill="url(#saR)" opacity="0.83"/><path d="M243.2 1099.4L306.8 1099.4L306.8 1101.3L243.2 1101.9Z" fill="url(#scR)" opacity="0.93"/><path d="M243.2 1099.8L299.3 1101.5L299.3 1102.5L243.2 1101.6Z" fill="url(#sdR)" opacity="0.77"/><path d="M243.2 1100.5L305.2 1101.1L305.2 1102.6L243.2 1102.6Z" fill="url(#sbR)" opacity="0.93"/><path d="M243.2 1101.1L304.6 1102.6L304.6 1104.3L243.2 1103.6Z" fill="url(#scR)" opacity="0.87"/><path d="M243.2 1102.8L306.1 1103.7L306.1 1105.3L243.2 1104.9Z" fill="url(#sbR)" opacity="0.83"/><path d="M243.2 1102.9L299.4 1104.1L299.4 1106L243.2 1105.2Z" fill="url(#sbR)" opacity="0.79"/><path d="M243.2 1104.3L305.8 1105.8L305.8 1107.5L243.2 1106.6Z" fill="url(#saR)" opacity="0.86"/><path d="M243.2 1105.2L306.3 1106.1L306.3 1107.6L243.2 1106.9Z" fill="url(#saR)" opacity="0.77"/><path d="M243.2 1105.9L302 1106.2L302 1107.6L243.2 1107.8Z" fill="url(#sbR)" opacity="0.90"/><path d="M243.2 1106.7L300.3 1107.2L300.3 1108.4L243.2 1108.4Z" fill="url(#scR)" opacity="0.83"/><path d="M243.2 1107.7L304.8 1107.4L304.8 1109.4L243.2 1110.3Z" fill="url(#saR)" opacity="0.93"/><path d="M243.2 1108.6L294.9 1109.5L294.9 1111.1L243.2 1111Z" fill="url(#saR)" opacity="0.79"/><path d="M243.2 1109.8L294.4 1109.4L294.4 1110.7L243.2 1111.9Z" fill="url(#sbR)" opacity="0.83"/><path d="M255.8 1100.9L304.5 1101.4" stroke="#fff" stroke-width="0.9" opacity="0.44"/><path d="M265.4 1107.1L290.2 1107.9" stroke="#fff" stroke-width="0.6" opacity="0.41"/><path d="M262 1102.8L290.9 1103.5" stroke="#fff" stroke-width="0.6" opacity="0.48"/><path d="M243.2 1110.7L287.4 1109" stroke="#a6c3de" stroke-width="0.8" opacity=".55"/><path d="M243.2 1114.1L286.4 1114.6" stroke="#5c9fdc" stroke-width="0.7" opacity=".55"/><path d="M243.2 1115.8L192.7 1115.1L192.7 1116.6L243.2 1117.6Z" fill="url(#scL)" opacity="0.89"/><path d="M243.2 1117.1L186.6 1116.4L186.6 1117.8L243.2 1118.8Z" fill="url(#saL)" opacity="0.89"/><path d="M243.2 1117.5L179.5 1117.4L179.5 1118.7L243.2 1119.3Z" fill="url(#saL)" opacity="0.89"/><path d="M243.2 1118.5L186.2 1117.8L186.2 1119L243.2 1120.9Z" fill="url(#sdL)" opacity="0.92"/><path d="M243.2 1119.3L182.3 1119.4L182.3 1120.7L243.2 1121.6Z" fill="url(#saL)" opacity="0.87"/><path d="M243.2 1120.4L188 1119L188 1120L243.2 1122.3Z" fill="url(#sbL)" opacity="0.76"/><path d="M243.2 1120.9L182.4 1120.1L182.4 1122L243.2 1123.2Z" fill="url(#sbL)" opacity="0.79"/><path d="M243.2 1121.6L184.7 1121.2L184.7 1122.5L243.2 1123.5Z" fill="url(#sdL)" opacity="0.93"/><path d="M243.2 1123L185.5 1121.5L185.5 1122.9L243.2 1125.1Z" fill="url(#saL)" opacity="0.77"/><path d="M243.2 1123.4L185.4 1122.5L185.4 1124.1L243.2 1125.3Z" fill="url(#saL)" opacity="0.93"/><path d="M243.2 1124L183 1123.5L183 1124.8L243.2 1126.3Z" fill="url(#saL)" opacity="0.85"/><path d="M243.2 1125.9L186.2 1123.6L186.2 1124.9L243.2 1127.6Z" fill="url(#saL)" opacity="0.76"/><path d="M243.2 1125.4L187.4 1125.3L187.4 1126.9L243.2 1127.9Z" fill="url(#sdL)" opacity="0.79"/><path d="M243.2 1126.7L197.2 1125.6L197.2 1127.6L243.2 1129Z" fill="url(#saL)" opacity="0.81"/><path d="M243.2 1127.5L197.9 1125.7L197.9 1127.2L243.2 1129.9Z" fill="url(#sbL)" opacity="0.80"/><path d="M229.4 1127L204.5 1125.6" stroke="#fff" stroke-width="0.9" opacity="0.36"/><path d="M226 1120.6L193.7 1119.2" stroke="#fff" stroke-width="1.0" opacity="0.40"/><path d="M225.8 1121.9L183.9 1122.1" stroke="#fff" stroke-width="0.9" opacity="0.27"/><path d="M243.2 1129.8L202.6 1129.6" stroke="#a6c3de" stroke-width="1.4" opacity=".55"/><path d="M243.2 1131.9L208.8 1130.8" stroke="#a6c3de" stroke-width="1.1" opacity=".55"/><path d="M243.2 1117.2L299.4 1119.3L299.4 1120.7L243.2 1119.6Z" fill="url(#saR)" opacity="0.85"/><path d="M243.2 1117.5L295.8 1120.4L295.8 1121.8L243.2 1119.2Z" fill="url(#saR)" opacity="0.76"/><path d="M243.2 1118.5L301.2 1120.8L301.2 1122L243.2 1120.4Z" fill="url(#saR)" opacity="0.89"/><path d="M243.2 1119.4L304.2 1121.4L304.2 1122.9L243.2 1121.3Z" fill="url(#saR)" opacity="0.88"/><path d="M243.2 1120.5L305.5 1122.7L305.5 1124L243.2 1122.2Z" fill="url(#saR)" opacity="0.88"/><path d="M243.2 1120.7L308.5 1122.6L308.5 1124.7L243.2 1123.1Z" fill="url(#sbR)" opacity="0.88"/><path d="M243.2 1122L299.3 1123.3L299.3 1125.1L243.2 1124.3Z" fill="url(#sbR)" opacity="0.79"/><path d="M243.2 1122.4L300.5 1123.2L300.5 1124.8L243.2 1124.5Z" fill="url(#scR)" opacity="0.79"/><path d="M243.2 1123.5L300.8 1124.6L300.8 1125.7L243.2 1125.2Z" fill="url(#saR)" opacity="0.85"/><path d="M243.2 1124.2L304 1126.5L304 1128.4L243.2 1126.8Z" fill="url(#saR)" opacity="0.79"/><path d="M243.2 1125.5L306.9 1125.9L306.9 1127.6L243.2 1127.4Z" fill="url(#sbR)" opacity="0.76"/><path d="M243.2 1126L306.1 1127.1L306.1 1128.7L243.2 1128Z" fill="url(#saR)" opacity="0.92"/><path d="M243.2 1126.6L301.7 1127.5L301.7 1129.1L243.2 1128.8Z" fill="url(#sdR)" opacity="0.83"/><path d="M243.2 1127.7L293.3 1129.2L293.3 1131.2L243.2 1129.9Z" fill="url(#saR)" opacity="0.87"/><path d="M243.2 1129.6L289.3 1130.2L289.3 1131.4L243.2 1131.3Z" fill="url(#sbR)" opacity="0.80"/><path d="M256.7 1124.6L286.2 1125.6" stroke="#fff" stroke-width="1.3" opacity="0.46"/><path d="M260.2 1119.6L301.6 1121.1" stroke="#fff" stroke-width="1.2" opacity="0.27"/><path d="M256 1126.5L285.9 1126.2" stroke="#fff" stroke-width="0.9" opacity="0.34"/><path d="M243.2 1132.6L299.3 1132.9" stroke="#b8c4d0" stroke-width="0.9" opacity=".55"/><path d="M243.2 1132.5L295.4 1133.7" stroke="#a6c3de" stroke-width="1.0" opacity=".55"/><path d="M243.2 1135L181 1136.6L181 1138L243.2 1137Z" fill="url(#scL)" opacity="0.80"/><path d="M243.2 1136.3L192.5 1136.9L192.5 1138.4L243.2 1138.6Z" fill="url(#saL)" opacity="0.84"/><path d="M243.2 1136.8L179.4 1138.6L179.4 1140.2L243.2 1139.1Z" fill="url(#sbL)" opacity="0.91"/><path d="M243.2 1137.6L179.4 1138L179.4 1139.4L243.2 1139.6Z" fill="url(#saL)" opacity="0.93"/><path d="M243.2 1138.4L185.2 1139.5L185.2 1141.3L243.2 1140.7Z" fill="url(#saL)" opacity="0.95"/><path d="M243.2 1139.5L187.5 1140.1L187.5 1142.2L243.2 1142Z" fill="url(#scL)" opacity="0.83"/><path d="M243.2 1140L179.6 1140.9L179.6 1142.3L243.2 1142.2Z" fill="url(#sdL)" opacity="0.90"/><path d="M243.2 1140.9L182 1141.8L182 1143.8L243.2 1143.3Z" fill="url(#sbL)" opacity="0.82"/><path d="M243.2 1142.3L180.6 1143.1L180.6 1144.9L243.2 1144.7Z" fill="url(#sdL)" opacity="0.87"/><path d="M243.2 1143.3L180.4 1144.1L180.4 1145.2L243.2 1145.2Z" fill="url(#saL)" opacity="0.87"/><path d="M243.2 1143.9L183 1143.9L183 1145.2L243.2 1146.3Z" fill="url(#scL)" opacity="0.83"/><path d="M243.2 1145.1L180.9 1145.9L180.9 1146.8L243.2 1146.7Z" fill="url(#saL)" opacity="0.75"/><path d="M243.2 1145.5L181.8 1146.7L181.8 1147.6L243.2 1147.4Z" fill="url(#saL)" opacity="0.77"/><path d="M243.2 1146.3L184.1 1145.4L184.1 1146.6L243.2 1148.1Z" fill="url(#sbL)" opacity="0.83"/><path d="M243.2 1147.5L200.7 1146.7L200.7 1147.7L243.2 1149.3Z" fill="url(#scL)" opacity="0.76"/><path d="M231.5 1147.3L185.2 1147.1" stroke="#fff" stroke-width="1.0" opacity="0.29"/><path d="M217.7 1143.4L186.6 1144" stroke="#fff" stroke-width="1.2" opacity="0.38"/><path d="M233.3 1140.1L197.7 1139.4" stroke="#fff" stroke-width="0.9" opacity="0.27"/><path d="M243.2 1149L185.6 1148.8" stroke="#b8c4d0" stroke-width="1.3" opacity=".55"/><path d="M243.2 1149.5L208.1 1150.1" stroke="#b8c4d0" stroke-width="0.8" opacity=".55"/><path d="M243.2 1136.3L293.6 1136L293.6 1137.1L243.2 1138Z" fill="url(#scR)" opacity="0.82"/><path d="M243.2 1136.7L292.5 1136.1L292.5 1137.5L243.2 1138.5Z" fill="url(#sbR)" opacity="0.87"/><path d="M243.2 1138.3L302.2 1138.6L302.2 1139.7L243.2 1140.1Z" fill="url(#saR)" opacity="0.76"/><path d="M243.2 1138.8L306.1 1138.9L306.1 1140.4L243.2 1140.7Z" fill="url(#sbR)" opacity="0.83"/><path d="M243.2 1139.7L306.8 1139.1L306.8 1140.3L243.2 1141.6Z" fill="url(#sbR)" opacity="0.85"/><path d="M243.2 1140L307.8 1139.7L307.8 1141.2L243.2 1142.6Z" fill="url(#saR)" opacity="0.91"/><path d="M243.2 1141.4L305.9 1140.9L305.9 1142.5L243.2 1143.8Z" fill="url(#saR)" opacity="0.77"/><path d="M243.2 1141.9L303.9 1140.8L303.9 1142.3L243.2 1143.9Z" fill="url(#saR)" opacity="0.84"/><path d="M243.2 1143.1L303.3 1142.9L303.3 1144.7L243.2 1145.7Z" fill="url(#sdR)" opacity="0.94"/><path d="M243.2 1144.3L303.6 1143.7L303.6 1144.8L243.2 1146Z" fill="url(#saR)" opacity="0.92"/><path d="M243.2 1145.1L299.8 1144.8L299.8 1145.9L243.2 1147.3Z" fill="url(#sdR)" opacity="0.76"/><path d="M243.2 1145.7L303.4 1144L303.4 1145.6L243.2 1148Z" fill="url(#saR)" opacity="0.89"/><path d="M243.2 1147.1L308.1 1146.1L308.1 1147.3L243.2 1148.7Z" fill="url(#sdR)" opacity="0.76"/><path d="M243.2 1147.1L294 1145.2L294 1146.9L243.2 1149.2Z" fill="url(#sbR)" opacity="0.89"/><path d="M243.2 1147.7L296.9 1145.7L296.9 1147.9L243.2 1150.2Z" fill="url(#sdR)" opacity="0.93"/><path d="M268.8 1143L296.6 1142.1" stroke="#fff" stroke-width="0.9" opacity="0.46"/><path d="M255.2 1145.7L287.1 1146.2" stroke="#fff" stroke-width="0.7" opacity="0.49"/><path d="M257.1 1141.6L288.6 1141.1" stroke="#fff" stroke-width="1.3" opacity="0.29"/><path d="M243.2 1153.1L286.7 1151.8" stroke="#5c9fdc" stroke-width="1.2" opacity=".55"/><path d="M243.2 1152L278 1150" stroke="#a6c3de" stroke-width="1.1" opacity=".55"/><path d="M246.65 823.92 L239.98 832.24 M246.65 836.72 L239.98 845.04 M246.65 849.52 L239.98 857.84 M246.65 862.32 L239.98 870.64 M246.65 875.12 L239.98 883.44 M246.65 887.92 L239.98 896.24 M246.65 900.72 L239.98 909.04 M246.65 913.52 L239.98 921.84 M246.65 926.32 L239.98 934.64 M246.65 939.12 L239.98 947.44 M246.65 951.92 L239.98 960.24 M246.65 964.72 L239.98 973.04 M246.65 977.52 L239.98 985.84 M246.65 990.32 L239.98 998.64 M246.65 1003.12 L239.98 1011.44 M246.65 1015.92 L239.98 1024.24 M246.65 1028.72 L239.98 1037.04 M246.65 1041.52 L239.98 1049.84 M246.65 1054.32 L239.98 1062.64 M246.65 1067.12 L239.98 1075.44 M246.65 1079.92 L239.98 1088.24 M246.65 1092.72 L239.98 1101.04 M246.65 1105.52 L239.98 1113.84 M246.65 1118.32 L239.98 1126.64 M246.65 1131.12 L239.98 1139.44" stroke="#a9b0b9" stroke-width="7.1" stroke-linecap="round" opacity=".95"/><path d="M246.65 823.92 L239.98 832.24 M246.65 836.72 L239.98 845.04 M246.65 849.52 L239.98 857.84 M246.65 862.32 L239.98 870.64 M246.65 875.12 L239.98 883.44 M246.65 887.92 L239.98 896.24 M246.65 900.72 L239.98 909.04 M246.65 913.52 L239.98 921.84 M246.65 926.32 L239.98 934.64 M246.65 939.12 L239.98 947.44 M246.65 951.92 L239.98 960.24 M246.65 964.72 L239.98 973.04 M246.65 977.52 L239.98 985.84 M246.65 990.32 L239.98 998.64 M246.65 1003.12 L239.98 1011.44 M246.65 1015.92 L239.98 1024.24 M246.65 1028.72 L239.98 1037.04 M246.65 1041.52 L239.98 1049.84 M246.65 1054.32 L239.98 1062.64 M246.65 1067.12 L239.98 1075.44 M246.65 1079.92 L239.98 1088.24 M246.65 1092.72 L239.98 1101.04 M246.65 1105.52 L239.98 1113.84 M246.65 1118.32 L239.98 1126.64 M246.65 1131.12 L239.98 1139.44" stroke="#d2d6dc" stroke-width="3.9" stroke-linecap="round"/></g>
<g><rect x="384.40" y="822.16" width="34.00" height="324.68" fill="url(#colG)" opacity="0.9"/><path d="M401.4 819.2L349.5 820.5L349.5 822.8L401.4 822Z" fill="url(#sbL)" opacity="0.94"/><path d="M401.4 819.8L361.8 822.5L361.8 823.9L401.4 822.6Z" fill="url(#sdL)" opacity="0.83"/><path d="M401.4 821.2L350.1 821.4L350.1 824.1L401.4 824.3Z" fill="url(#saL)" opacity="0.95"/><path d="M401.4 822.4L349.6 822.4L349.6 824.6L401.4 825.3Z" fill="url(#sbL)" opacity="0.84"/><path d="M401.4 823.2L350.4 824.1L350.4 825.3L401.4 825.5Z" fill="url(#saL)" opacity="0.92"/><path d="M401.4 825L348.5 825.1L348.5 826.8L401.4 827.1Z" fill="url(#sdL)" opacity="0.93"/><path d="M401.4 825.6L348.2 825.9L348.2 828.1L401.4 828.7Z" fill="url(#sbL)" opacity="0.91"/><path d="M401.4 827.1L353.6 825.7L353.6 827L401.4 829.4Z" fill="url(#sbL)" opacity="0.93"/><path d="M401.4 828.4L353.4 827.1L353.4 828.5L401.4 830.4Z" fill="url(#saL)" opacity="0.79"/><path d="M401.4 828.8L349.7 828.1L349.7 829.6L401.4 831.3Z" fill="url(#sdL)" opacity="0.93"/><path d="M401.4 830L353.6 828.4L353.6 830.3L401.4 832.4Z" fill="url(#sbL)" opacity="0.86"/><path d="M401.4 830.4L349.5 828.2L349.5 830.1L401.4 833.1Z" fill="url(#sbL)" opacity="0.75"/><path d="M401.4 832.8L354.8 829.4L354.8 831.4L401.4 835Z" fill="url(#sdL)" opacity="0.89"/><path d="M401.4 832.2L356.2 829.6L356.2 831.7L401.4 835.4Z" fill="url(#sdL)" opacity="0.78"/><path d="M401.4 835.1L359.8 831.6L359.8 832.8L401.4 837.3Z" fill="url(#sdL)" opacity="0.87"/><path d="M401.4 834.9L352 830.2L352 832L401.4 837.4Z" fill="url(#saL)" opacity="0.94"/><path d="M389.4 824.2L363.2 824" stroke="#fff" stroke-width="0.7" opacity="0.41"/><path d="M384.5 828.4L366.7 828.6" stroke="#fff" stroke-width="1.3" opacity="0.42"/><path d="M390.9 832.5L352.3 831.9" stroke="#fff" stroke-width="1.1" opacity="0.51"/><path d="M401.4 836.9L350 835.7" stroke="#7fb6e4" stroke-width="1.3" opacity=".55"/><path d="M401.4 840L355.6 840.8" stroke="#a6c3de" stroke-width="1.1" opacity=".55"/><path d="M401.4 820.1L450.3 824.7L450.3 826.3L401.4 822.3Z" fill="url(#sbR)" opacity="0.87"/><path d="M401.4 820.8L440.6 825.7L440.6 827.6L401.4 823.1Z" fill="url(#sdR)" opacity="0.78"/><path d="M401.4 822.5L449.3 827L449.3 828.6L401.4 825.1Z" fill="url(#saR)" opacity="0.93"/><path d="M401.4 822.9L453.6 826.9L453.6 829L401.4 825.6Z" fill="url(#sdR)" opacity="0.79"/><path d="M401.4 824.7L451.7 827.9L451.7 829.2L401.4 827.3Z" fill="url(#saR)" opacity="0.92"/><path d="M401.4 825.8L450.9 828.2L450.9 829.7L401.4 828.5Z" fill="url(#saR)" opacity="0.95"/><path d="M401.4 826.2L449.4 828.2L449.4 829.8L401.4 829.2Z" fill="url(#sbR)" opacity="0.82"/><path d="M401.4 827.6L452.8 829.6L452.8 830.9L401.4 830Z" fill="url(#scR)" opacity="0.81"/><path d="M401.4 828.9L451.5 830L451.5 832L401.4 831.1Z" fill="url(#sbR)" opacity="0.84"/><path d="M401.4 829.5L451.4 830.7L451.4 832.6L401.4 832.2Z" fill="url(#saR)" opacity="0.76"/><path d="M401.4 830.7L450.8 831.2L450.8 833.4L401.4 833.9Z" fill="url(#sbR)" opacity="0.89"/><path d="M401.4 832.2L451.3 833L451.3 835.1L401.4 835Z" fill="url(#saR)" opacity="0.92"/><path d="M401.4 833.4L452.8 834L452.8 835.6L401.4 835.9Z" fill="url(#sbR)" opacity="0.87"/><path d="M401.4 833.6L453.8 832.2L453.8 834.4L401.4 836.4Z" fill="url(#sdR)" opacity="0.82"/><path d="M401.4 835.2L448.3 833.8L448.3 836.4L401.4 838.2Z" fill="url(#scR)" opacity="0.86"/><path d="M401.4 836.7L447.3 836.1L447.3 837.8L401.4 839.1Z" fill="url(#sbR)" opacity="0.84"/><path d="M416.7 826.3L434.5 827" stroke="#fff" stroke-width="1.2" opacity="0.35"/><path d="M411.2 835.6L439 836.4" stroke="#fff" stroke-width="1.0" opacity="0.51"/><path d="M420.5 822.7L435.4 824" stroke="#fff" stroke-width="1.0" opacity="0.25"/><path d="M401.4 840.2L436.6 840.2" stroke="#b8c4d0" stroke-width="0.7" opacity=".55"/><path d="M401.4 835.9L430.3 837.1" stroke="#a6c3de" stroke-width="0.9" opacity=".55"/><path d="M401.4 839.7L349.5 841.8L349.5 843L401.4 841.9Z" fill="url(#scL)" opacity="0.93"/><path d="M401.4 840.4L362.6 842.8L362.6 845.5L401.4 843.5Z" fill="url(#sbL)" opacity="0.83"/><path d="M401.4 842L355 843L355 844.8L401.4 844.9Z" fill="url(#saL)" opacity="0.76"/><path d="M401.4 842.7L350.5 844.7L350.5 845.8L401.4 844.8Z" fill="url(#saL)" opacity="0.77"/><path d="M401.4 843.8L348.5 844.5L348.5 845.8L401.4 846.3Z" fill="url(#sbL)" opacity="0.82"/><path d="M401.4 845.1L352.4 844.7L352.4 846.6L401.4 847.7Z" fill="url(#saL)" opacity="0.78"/><path d="M401.4 846.5L351.2 846.9L351.2 848.9L401.4 849.5Z" fill="url(#scL)" opacity="0.89"/><path d="M401.4 846.9L349.8 847L349.8 848.7L401.4 849.4Z" fill="url(#saL)" opacity="0.87"/><path d="M401.4 848.3L348.5 848.2L348.5 850.4L401.4 850.8Z" fill="url(#scL)" opacity="0.85"/><path d="M401.4 849.4L355.2 848.7L355.2 850.7L401.4 852.3Z" fill="url(#sdL)" opacity="0.85"/><path d="M401.4 849.9L353 849L353 851.2L401.4 852.8Z" fill="url(#sdL)" opacity="0.88"/><path d="M401.4 851.5L351.6 850.9L351.6 852.4L401.4 854.1Z" fill="url(#sbL)" opacity="0.79"/><path d="M401.4 853.6L350.9 851.5L350.9 852.6L401.4 855.9Z" fill="url(#scL)" opacity="0.89"/><path d="M401.4 853.4L354.3 851.4L354.3 853.1L401.4 856.4Z" fill="url(#scL)" opacity="0.85"/><path d="M401.4 854.2L356.6 852.3L356.6 854.1L401.4 857.4Z" fill="url(#saL)" opacity="0.86"/><path d="M401.4 856.4L353.7 851.9L353.7 854.1L401.4 859.1Z" fill="url(#saL)" opacity="0.83"/><path d="M385.3 854.5L361.2 854.8" stroke="#fff" stroke-width="1.2" opacity="0.27"/><path d="M388.5 848.5L368.7 848.8" stroke="#fff" stroke-width="0.8" opacity="0.27"/><path d="M382.9 845.8L365.5 845.4" stroke="#fff" stroke-width="1.0" opacity="0.41"/><path d="M401.4 860.3L356.2 860.9" stroke="#5c9fdc" stroke-width="1.0" opacity=".55"/><path d="M401.4 860.9L364 862.7" stroke="#b8c4d0" stroke-width="1.4" opacity=".55"/><path d="M401.4 841.1L445 843.5L445 845.9L401.4 844.2Z" fill="url(#saR)" opacity="0.82"/><path d="M401.4 842.2L443.6 843.8L443.6 845.3L401.4 845.3Z" fill="url(#saR)" opacity="0.92"/><path d="M401.4 843.5L451.3 844.5L451.3 846.1L401.4 845.5Z" fill="url(#sdR)" opacity="0.81"/><path d="M401.4 844.4L455.6 845.2L455.6 847.4L401.4 847.2Z" fill="url(#sdR)" opacity="0.79"/><path d="M401.4 845.2L448.7 846.5L448.7 848.2L401.4 847.6Z" fill="url(#saR)" opacity="0.80"/><path d="M401.4 846.8L455.2 846.7L455.2 848.7L401.4 849.1Z" fill="url(#saR)" opacity="0.88"/><path d="M401.4 847.2L451.1 845.8L451.1 848.4L401.4 850.2Z" fill="url(#sbR)" opacity="0.89"/><path d="M401.4 848.8L451.3 848.4L451.3 850.4L401.4 851.1Z" fill="url(#sbR)" opacity="0.78"/><path d="M401.4 849.7L450.8 848L450.8 849.5L401.4 852.3Z" fill="url(#sbR)" opacity="0.84"/><path d="M401.4 851L448.1 849L448.1 851.4L401.4 853.7Z" fill="url(#sbR)" opacity="0.78"/><path d="M401.4 852.2L455.6 851.2L455.6 852.5L401.4 854.7Z" fill="url(#scR)" opacity="0.81"/><path d="M401.4 852.5L448.8 850.9L448.8 852.6L401.4 855.2Z" fill="url(#sbR)" opacity="0.77"/><path d="M401.4 853.5L452.2 851.7L452.2 853.8L401.4 856.3Z" fill="url(#sbR)" opacity="0.85"/><path d="M401.4 855.7L455.6 852.7L455.6 853.9L401.4 858Z" fill="url(#saR)" opacity="0.87"/><path d="M401.4 855.3L449.1 851.5L449.1 853.2L401.4 858.5Z" fill="url(#scR)" opacity="0.76"/><path d="M401.4 856.9L443.8 852.4L443.8 854.2L401.4 859.7Z" fill="url(#saR)" opacity="0.95"/><path d="M419.3 852.8L434.2 851.2" stroke="#fff" stroke-width="0.9" opacity="0.54"/><path d="M417.3 847.6L434.3 846.8" stroke="#fff" stroke-width="1.2" opacity="0.43"/><path d="M409.8 854.8L438 853.5" stroke="#fff" stroke-width="1.2" opacity="0.28"/><path d="M401.4 861.3L436 862.8" stroke="#5c9fdc" stroke-width="1.2" opacity=".55"/><path d="M401.4 857.9L455.8 856" stroke="#b8c4d0" stroke-width="0.8" opacity=".55"/><path d="M401.4 860.3L357.5 865.4L357.5 867.3L401.4 862.5Z" fill="url(#sbL)" opacity="0.87"/><path d="M401.4 861.9L356.1 865.2L356.1 867.1L401.4 864.1Z" fill="url(#sbL)" opacity="0.86"/><path d="M401.4 862.4L355.6 866.7L355.6 868L401.4 864.6Z" fill="url(#sbL)" opacity="0.85"/><path d="M401.4 863.9L353 867.1L353 868.5L401.4 866.6Z" fill="url(#saL)" opacity="0.80"/><path d="M401.4 864.4L356.5 867.9L356.5 869.9L401.4 867.5Z" fill="url(#saL)" opacity="0.92"/><path d="M401.4 866.1L352.5 867.1L352.5 869.3L401.4 868.7Z" fill="url(#saL)" opacity="0.84"/><path d="M401.4 866.9L351.4 868.3L351.4 869.9L401.4 870Z" fill="url(#saL)" opacity="0.90"/><path d="M401.4 868.5L355.9 870.5L355.9 871.8L401.4 871Z" fill="url(#sbL)" opacity="0.80"/><path d="M401.4 869L353.8 870.8L353.8 872.6L401.4 871.4Z" fill="url(#sbL)" opacity="0.94"/><path d="M401.4 870.4L348.1 871.3L348.1 873.4L401.4 873.1Z" fill="url(#sdL)" opacity="0.91"/><path d="M401.4 871.6L356.1 871.6L356.1 873.2L401.4 873.6Z" fill="url(#saL)" opacity="0.85"/><path d="M401.4 872L352.8 872.5L352.8 874L401.4 874.8Z" fill="url(#sbL)" opacity="0.75"/><path d="M401.4 873.4L354.8 871.9L354.8 873.8L401.4 875.9Z" fill="url(#sbL)" opacity="0.82"/><path d="M401.4 874.3L354.6 873.1L354.6 875.3L401.4 877.1Z" fill="url(#sbL)" opacity="0.76"/><path d="M401.4 875.8L363.5 874.5L363.5 875.9L401.4 877.9Z" fill="url(#sdL)" opacity="0.85"/><path d="M401.4 876.3L354.7 874.1L354.7 876.5L401.4 879.2Z" fill="url(#sbL)" opacity="0.78"/><path d="M387.6 864L357 863.4" stroke="#fff" stroke-width="0.7" opacity="0.55"/><path d="M382.9 873.1L354.6 872.6" stroke="#fff" stroke-width="1.2" opacity="0.32"/><path d="M380.7 866.1L364.3 865.8" stroke="#fff" stroke-width="1.2" opacity="0.37"/><path d="M401.4 881.4L370.4 881.2" stroke="#a6c3de" stroke-width="0.7" opacity=".55"/><path d="M401.4 876.8L355.3 878.3" stroke="#a6c3de" stroke-width="1.2" opacity=".55"/><path d="M401.4 861.2L439 863L439 865.5L401.4 864.2Z" fill="url(#saR)" opacity="0.92"/><path d="M401.4 863.3L452.3 866.1L452.3 867.8L401.4 865.7Z" fill="url(#sdR)" opacity="0.91"/><path d="M401.4 864.1L450 865.2L450 867.3L401.4 866.8Z" fill="url(#saR)" opacity="0.82"/><path d="M401.4 864.9L449.2 865.9L449.2 867.8L401.4 867.6Z" fill="url(#scR)" opacity="0.75"/><path d="M401.4 865.8L447.6 866.7L447.6 868.2L401.4 868.6Z" fill="url(#sdR)" opacity="0.89"/><path d="M401.4 867.3L449.4 868.7L449.4 870.6L401.4 870Z" fill="url(#sbR)" opacity="0.86"/><path d="M401.4 867.7L447.5 867.7L447.5 869.6L401.4 870.8Z" fill="url(#sdR)" opacity="0.79"/><path d="M401.4 869.2L449.9 868.7L449.9 870.7L401.4 871.7Z" fill="url(#sdR)" opacity="0.88"/><path d="M401.4 870.3L451 870.4L451 872.4L401.4 873.6Z" fill="url(#sbR)" opacity="0.89"/><path d="M401.4 871.5L450.4 869.4L450.4 871.2L401.4 873.5Z" fill="url(#scR)" opacity="0.93"/><path d="M401.4 873L454.2 871.2L454.2 872.8L401.4 875.4Z" fill="url(#sdR)" opacity="0.91"/><path d="M401.4 873.8L450.5 871.6L450.5 873.4L401.4 876.4Z" fill="url(#sdR)" opacity="0.78"/><path d="M401.4 874.5L455.6 872.2L455.6 873.6L401.4 877.1Z" fill="url(#saR)" opacity="0.94"/><path d="M401.4 875.7L449.7 873.8L449.7 875.7L401.4 877.9Z" fill="url(#sbR)" opacity="0.76"/><path d="M401.4 877L440.5 874.4L440.5 875.9L401.4 879Z" fill="url(#saR)" opacity="0.93"/><path d="M401.4 878L443 873.7L443 875.3L401.4 880.5Z" fill="url(#sbR)" opacity="0.91"/><path d="M411.1 874.4L440.3 873.3" stroke="#fff" stroke-width="0.6" opacity="0.46"/><path d="M417.5 867L445.1 866.1" stroke="#fff" stroke-width="0.7" opacity="0.46"/><path d="M412.9 876L443.2 876.1" stroke="#fff" stroke-width="1.2" opacity="0.29"/><path d="M401.4 879.8L442.8 881.2" stroke="#7fb6e4" stroke-width="1.1" opacity=".55"/><path d="M401.4 877L434.5 876.3" stroke="#b8c4d0" stroke-width="1.3" opacity=".55"/><path d="M401.4 881.1L357.3 883.1L357.3 884.7L401.4 883.5Z" fill="url(#saL)" opacity="0.83"/><path d="M401.4 881.9L359.1 884.1L359.1 886.2L401.4 884.9Z" fill="url(#saL)" opacity="0.76"/><path d="M401.4 883.5L351.2 885.1L351.2 887L401.4 885.8Z" fill="url(#scL)" opacity="0.94"/><path d="M401.4 884.2L348.2 885.3L348.2 887.9L401.4 887.4Z" fill="url(#saL)" opacity="0.81"/><path d="M401.4 886.1L356 887.2L356 888.9L401.4 888.9Z" fill="url(#saL)" opacity="0.84"/><path d="M401.4 886.9L350.5 886.7L350.5 888.8L401.4 889.3Z" fill="url(#saL)" opacity="0.77"/><path d="M401.4 888.1L354.1 887.8L354.1 889.1L401.4 890.3Z" fill="url(#sbL)" opacity="0.82"/><path d="M401.4 888.7L351.7 887.8L351.7 889.2L401.4 891.5Z" fill="url(#sdL)" opacity="0.82"/><path d="M401.4 889.6L352 888.2L352 890L401.4 892.4Z" fill="url(#saL)" opacity="0.82"/><path d="M401.4 890.7L353.5 889.3L353.5 891.1L401.4 893.9Z" fill="url(#sdL)" opacity="0.79"/><path d="M401.4 892.4L354.3 889.5L354.3 891.4L401.4 894.8Z" fill="url(#saL)" opacity="0.92"/><path d="M401.4 893L356.3 889.9L356.3 892.4L401.4 895.9Z" fill="url(#sdL)" opacity="0.83"/><path d="M401.4 893.9L349.7 891.5L349.7 893L401.4 896.6Z" fill="url(#saL)" opacity="0.89"/><path d="M401.4 895.1L355.4 892.4L355.4 894L401.4 897.9Z" fill="url(#scL)" opacity="0.92"/><path d="M401.4 896.3L353.8 892.1L353.8 893.8L401.4 899Z" fill="url(#sbL)" opacity="0.89"/><path d="M401.4 897.6L355.4 893.1L355.4 895L401.4 900.4Z" fill="url(#sbL)" opacity="0.86"/><path d="M388.5 894.4L361 894.6" stroke="#fff" stroke-width="1.2" opacity="0.45"/><path d="M385.2 885.3L368.7 885.5" stroke="#fff" stroke-width="1.3" opacity="0.47"/><path d="M382.1 887.6L366 887.5" stroke="#fff" stroke-width="1.0" opacity="0.25"/><path d="M401.4 902.6L363 904" stroke="#b8c4d0" stroke-width="1.1" opacity=".55"/><path d="M401.4 902.5L369.3 904.1" stroke="#5c9fdc" stroke-width="1.1" opacity=".55"/><path d="M401.4 882.3L444.2 883.4L444.2 885.9L401.4 885.4Z" fill="url(#sdR)" opacity="0.81"/><path d="M401.4 883.9L454.7 885.2L454.7 887.8L401.4 887Z" fill="url(#sbR)" opacity="0.86"/><path d="M401.4 884.1L449.8 885.4L449.8 887.2L401.4 886.2Z" fill="url(#sdR)" opacity="0.86"/><path d="M401.4 885.7L448.5 887.1L448.5 889.2L401.4 888.8Z" fill="url(#sbR)" opacity="0.92"/><path d="M401.4 887.4L449.6 888.8L449.6 890.4L401.4 889.6Z" fill="url(#saR)" opacity="0.89"/><path d="M401.4 887.9L449.2 889.2L449.2 890.6L401.4 890.1Z" fill="url(#scR)" opacity="0.82"/><path d="M401.4 888.9L454 889.2L454 891.4L401.4 891.6Z" fill="url(#sbR)" opacity="0.79"/><path d="M401.4 889.7L453 889.1L453 891.2L401.4 892.6Z" fill="url(#saR)" opacity="0.84"/><path d="M401.4 890.5L449.1 890.6L449.1 893L401.4 893.7Z" fill="url(#saR)" opacity="0.82"/><path d="M401.4 892.9L449.7 891.6L449.7 893L401.4 895Z" fill="url(#sbR)" opacity="0.87"/><path d="M401.4 893.8L454.3 892.7L454.3 894.2L401.4 896.2Z" fill="url(#saR)" opacity="0.86"/><path d="M401.4 894.4L448.4 893L448.4 894.7L401.4 897.2Z" fill="url(#saR)" opacity="0.91"/><path d="M401.4 895.3L451.1 893L451.1 895.7L401.4 898.4Z" fill="url(#saR)" opacity="0.92"/><path d="M401.4 896.5L455.1 893.1L455.1 894.8L401.4 898.7Z" fill="url(#sbR)" opacity="0.83"/><path d="M401.4 897.6L442 894.2L442 895.8L401.4 899.8Z" fill="url(#sbR)" opacity="0.88"/><path d="M401.4 899.2L454.1 894.9L454.1 896.7L401.4 901.3Z" fill="url(#sdR)" opacity="0.86"/><path d="M412.6 892.4L449.1 891.5" stroke="#fff" stroke-width="1.1" opacity="0.32"/><path d="M418.4 892.9L441.3 892.3" stroke="#fff" stroke-width="0.6" opacity="0.44"/><path d="M411.7 894.6L444.7 894.5" stroke="#fff" stroke-width="0.7" opacity="0.50"/><path d="M401.4 902.5L430.1 901.5" stroke="#7fb6e4" stroke-width="0.9" opacity=".55"/><path d="M401.4 902.3L435.9 901" stroke="#7fb6e4" stroke-width="0.9" opacity=".55"/><path d="M401.4 902.1L361.7 905L361.7 906.5L401.4 905Z" fill="url(#sbL)" opacity="0.90"/><path d="M401.4 903.2L365.1 905.9L365.1 907.6L401.4 905.8Z" fill="url(#sbL)" opacity="0.83"/><path d="M401.4 904.9L353.9 906.1L353.9 908.3L401.4 907.4Z" fill="url(#scL)" opacity="0.90"/><path d="M401.4 905.6L352 908.3L352 909.9L401.4 908.4Z" fill="url(#sbL)" opacity="0.93"/><path d="M401.4 907L356.1 907.8L356.1 909.8L401.4 909.3Z" fill="url(#saL)" opacity="0.95"/><path d="M401.4 907.8L350.7 909.9L350.7 911.3L401.4 910Z" fill="url(#saL)" opacity="0.75"/><path d="M401.4 908.8L349.3 909.8L349.3 911.3L401.4 911.6Z" fill="url(#sbL)" opacity="0.84"/><path d="M401.4 909.7L355.3 910.3L355.3 911.9L401.4 912.9Z" fill="url(#sbL)" opacity="0.75"/><path d="M401.4 910.9L351.4 910.9L351.4 912.2L401.4 913.3Z" fill="url(#sdL)" opacity="0.77"/><path d="M401.4 911.6L349.7 912L349.7 913.3L401.4 914Z" fill="url(#saL)" opacity="0.90"/><path d="M401.4 912.2L356.3 912.4L356.3 914.4L401.4 915.4Z" fill="url(#saL)" opacity="0.87"/><path d="M401.4 914.1L348.9 912.3L348.9 914.3L401.4 917Z" fill="url(#sbL)" opacity="0.94"/><path d="M401.4 915.2L354.6 914.7L354.6 916.3L401.4 917.7Z" fill="url(#sdL)" opacity="0.89"/><path d="M401.4 916.2L351.8 914.9L351.8 916.9L401.4 918.8Z" fill="url(#sdL)" opacity="0.84"/><path d="M401.4 918.2L355.7 915.2L355.7 916.5L401.4 920.4Z" fill="url(#scL)" opacity="0.78"/><path d="M401.4 918.4L360.8 914.9L360.8 916.1L401.4 920.7Z" fill="url(#scL)" opacity="0.84"/><path d="M389.3 917.5L358.4 917.8" stroke="#fff" stroke-width="0.6" opacity="0.53"/><path d="M389.4 906.2L356 905.2" stroke="#fff" stroke-width="0.9" opacity="0.29"/><path d="M393.2 911.3L366.5 910.7" stroke="#fff" stroke-width="0.7" opacity="0.28"/><path d="M401.4 919.1L360.9 917.7" stroke="#b8c4d0" stroke-width="1.0" opacity=".55"/><path d="M401.4 921.6L366.3 923.4" stroke="#7fb6e4" stroke-width="1.1" opacity=".55"/><path d="M401.4 903L441.5 907.4L441.5 908.6L401.4 905.1Z" fill="url(#sdR)" opacity="0.92"/><path d="M401.4 904.5L439.8 908L439.8 909.5L401.4 906.9Z" fill="url(#scR)" opacity="0.80"/><path d="M401.4 905.7L454.3 908.9L454.3 910.1L401.4 907.8Z" fill="url(#saR)" opacity="0.81"/><path d="M401.4 906.9L450 908.8L450 910.8L401.4 909.3Z" fill="url(#scR)" opacity="0.80"/><path d="M401.4 908L455.9 911L455.9 912.9L401.4 911.1Z" fill="url(#scR)" opacity="0.91"/><path d="M401.4 908.3L448.4 911.1L448.4 912.5L401.4 910.9Z" fill="url(#sbR)" opacity="0.92"/><path d="M401.4 909.5L452.6 910.5L452.6 912.1L401.4 911.8Z" fill="url(#sdR)" opacity="0.88"/><path d="M401.4 910.5L448.9 911.9L448.9 914L401.4 913.5Z" fill="url(#sbR)" opacity="0.76"/><path d="M401.4 911.3L450.7 912.1L450.7 914.2L401.4 914.5Z" fill="url(#sdR)" opacity="0.86"/><path d="M401.4 913.7L453 913.5L453 915.1L401.4 916.1Z" fill="url(#sbR)" opacity="0.94"/><path d="M401.4 914.4L455.9 913.9L455.9 916.4L401.4 917.3Z" fill="url(#saR)" opacity="0.89"/><path d="M401.4 914.7L448.8 913.9L448.8 916.1L401.4 917.4Z" fill="url(#sbR)" opacity="0.85"/><path d="M401.4 916.2L454.2 915.8L454.2 917.8L401.4 918.7Z" fill="url(#sdR)" opacity="0.79"/><path d="M401.4 916.5L451.9 915.3L451.9 917.9L401.4 919.6Z" fill="url(#scR)" opacity="0.78"/><path d="M401.4 919L445.7 917.8L445.7 919.2L401.4 921.3Z" fill="url(#sbR)" opacity="0.79"/><path d="M401.4 919.4L442.8 917.3L442.8 919.7L401.4 922.6Z" fill="url(#saR)" opacity="0.77"/><path d="M415.1 918.9L438.8 919.4" stroke="#fff" stroke-width="0.9" opacity="0.38"/><path d="M410.8 915L442.7 914.7" stroke="#fff" stroke-width="0.6" opacity="0.42"/><path d="M421.1 906.1L448.8 906.6" stroke="#fff" stroke-width="1.0" opacity="0.43"/><path d="M401.4 923.4L441.9 922" stroke="#b8c4d0" stroke-width="0.8" opacity=".55"/><path d="M401.4 921.3L436 920.9" stroke="#a6c3de" stroke-width="0.8" opacity=".55"/><path d="M401.4 923.3L360.4 927.5L360.4 929.2L401.4 926.1Z" fill="url(#sdL)" opacity="0.82"/><path d="M401.4 924.6L363.3 929.1L363.3 931.2L401.4 927Z" fill="url(#sdL)" opacity="0.80"/><path d="M401.4 925L352.1 929L352.1 930.8L401.4 927.5Z" fill="url(#scL)" opacity="0.81"/><path d="M401.4 925.8L349.6 929L349.6 931.1L401.4 928.6Z" fill="url(#sdL)" opacity="0.78"/><path d="M401.4 927L353.7 931L353.7 933.3L401.4 929.6Z" fill="url(#sbL)" opacity="0.85"/><path d="M401.4 927.8L349.6 930L349.6 932L401.4 930.9Z" fill="url(#saL)" opacity="0.84"/><path d="M401.4 929L353 932.6L353 934.3L401.4 931.6Z" fill="url(#saL)" opacity="0.91"/><path d="M401.4 930.9L353.9 932.9L353.9 934.4L401.4 933.2Z" fill="url(#sdL)" opacity="0.93"/><path d="M401.4 931.5L349.8 933.2L349.8 934.4L401.4 933.5Z" fill="url(#saL)" opacity="0.76"/><path d="M401.4 932.9L349.2 934.1L349.2 936.2L401.4 936Z" fill="url(#sbL)" opacity="0.92"/><path d="M401.4 933.9L356.4 934.6L356.4 936.3L401.4 936.6Z" fill="url(#scL)" opacity="0.94"/><path d="M401.4 934.9L355.7 934.5L355.7 936.5L401.4 937.6Z" fill="url(#sbL)" opacity="0.90"/><path d="M401.4 936.3L355.6 936.3L355.6 938.6L401.4 939Z" fill="url(#sbL)" opacity="0.76"/><path d="M401.4 937.4L354.2 937.6L354.2 940L401.4 940.2Z" fill="url(#saL)" opacity="0.82"/><path d="M401.4 938.6L356.2 936.8L356.2 938.1L401.4 940.8Z" fill="url(#saL)" opacity="0.94"/><path d="M401.4 938.9L351.8 937.1L351.8 939.3L401.4 942Z" fill="url(#scL)" opacity="0.88"/><path d="M391.4 933.6L355.6 933.9" stroke="#fff" stroke-width="1.2" opacity="0.26"/><path d="M384.5 929.5L366.6 930.7" stroke="#fff" stroke-width="1.1" opacity="0.48"/><path d="M381.2 928.9L366.3 929.1" stroke="#fff" stroke-width="1.1" opacity="0.50"/><path d="M401.4 943.4L355.5 945.3" stroke="#5c9fdc" stroke-width="1.1" opacity=".55"/><path d="M401.4 939.6L353.2 940.9" stroke="#7fb6e4" stroke-width="0.9" opacity=".55"/><path d="M401.4 923.9L443.4 927.5L443.4 929.4L401.4 926.4Z" fill="url(#sbR)" opacity="0.75"/><path d="M401.4 924.9L444.1 928.8L444.1 930.5L401.4 927.5Z" fill="url(#scR)" opacity="0.89"/><path d="M401.4 926.5L447.9 928.7L447.9 930.8L401.4 928.9Z" fill="url(#scR)" opacity="0.89"/><path d="M401.4 927.5L454.3 929.9L454.3 931.1L401.4 929.7Z" fill="url(#saR)" opacity="0.79"/><path d="M401.4 928.8L449.3 929.2L449.3 931.7L401.4 931.8Z" fill="url(#sbR)" opacity="0.77"/><path d="M401.4 929.6L452.8 931.4L452.8 934L401.4 932.6Z" fill="url(#sbR)" opacity="0.95"/><path d="M401.4 930.3L453.4 931.4L453.4 932.7L401.4 932.5Z" fill="url(#sdR)" opacity="0.86"/><path d="M401.4 931.6L452 931.4L452 933.3L401.4 933.9Z" fill="url(#saR)" opacity="0.80"/><path d="M401.4 932.8L448.3 933.4L448.3 935.7L401.4 935.7Z" fill="url(#sbR)" opacity="0.81"/><path d="M401.4 933.8L453.2 934.2L453.2 936.5L401.4 936.9Z" fill="url(#sbR)" opacity="0.77"/><path d="M401.4 934.4L448.7 933.1L448.7 935.6L401.4 937.5Z" fill="url(#saR)" opacity="0.93"/><path d="M401.4 936.2L451.2 934.1L451.2 935.9L401.4 938.4Z" fill="url(#sdR)" opacity="0.84"/><path d="M401.4 936.7L449.4 936L449.4 937.9L401.4 939.1Z" fill="url(#sbR)" opacity="0.86"/><path d="M401.4 938.8L450.6 936.4L450.6 937.7L401.4 940.9Z" fill="url(#sdR)" opacity="0.77"/><path d="M401.4 939.2L447.4 937.8L447.4 939.4L401.4 941.8Z" fill="url(#scR)" opacity="0.93"/><path d="M401.4 940.9L450.5 937.8L450.5 939.3L401.4 943.4Z" fill="url(#saR)" opacity="0.80"/><path d="M418.3 936.3L443.9 935.7" stroke="#fff" stroke-width="0.6" opacity="0.51"/><path d="M422.8 938.2L440.7 938.5" stroke="#fff" stroke-width="1.0" opacity="0.47"/><path d="M414.9 927.7L437.1 927.5" stroke="#fff" stroke-width="0.7" opacity="0.35"/><path d="M401.4 943.9L436.6 945.4" stroke="#b8c4d0" stroke-width="1.1" opacity=".55"/><path d="M401.4 942.6L433.4 941.6" stroke="#7fb6e4" stroke-width="1.0" opacity=".55"/><path d="M401.4 943.3L357.7 949L357.7 950.8L401.4 946.4Z" fill="url(#saL)" opacity="0.84"/><path d="M401.4 944.8L353.2 948.4L353.2 950.4L401.4 947.1Z" fill="url(#saL)" opacity="0.81"/><path d="M401.4 945.7L350.9 950.3L350.9 952L401.4 948.2Z" fill="url(#sbL)" opacity="0.82"/><path d="M401.4 946.8L352.1 950.8L352.1 952.3L401.4 948.8Z" fill="url(#sbL)" opacity="0.88"/><path d="M401.4 948.2L354.5 951.7L354.5 953.6L401.4 951Z" fill="url(#sbL)" opacity="0.82"/><path d="M401.4 948.9L350.3 950.9L350.3 953.2L401.4 952.2Z" fill="url(#scL)" opacity="0.79"/><path d="M401.4 950L353.6 953L353.6 954.9L401.4 952.2Z" fill="url(#saL)" opacity="0.85"/><path d="M401.4 951L353 952.2L353 954.7L401.4 954.1Z" fill="url(#saL)" opacity="0.88"/><path d="M401.4 952.8L348.7 955.1L348.7 956.6L401.4 955.3Z" fill="url(#saL)" opacity="0.78"/><path d="M401.4 953.5L355.5 954L355.5 955.6L401.4 956Z" fill="url(#sdL)" opacity="0.83"/><path d="M401.4 955L348.1 955.3L348.1 957L401.4 957.5Z" fill="url(#saL)" opacity="0.91"/><path d="M401.4 955.5L353.6 956.7L353.6 958.8L401.4 958.4Z" fill="url(#sdL)" opacity="0.91"/><path d="M401.4 957.6L353.9 957.1L353.9 958.4L401.4 959.7Z" fill="url(#saL)" opacity="0.88"/><path d="M401.4 957.7L354.6 958.3L354.6 959.6L401.4 960.1Z" fill="url(#sbL)" opacity="0.89"/><path d="M401.4 958.8L359.4 958.5L359.4 960.1L401.4 961.6Z" fill="url(#saL)" opacity="0.89"/><path d="M401.4 959.6L353.9 959.8L353.9 961.7L401.4 962.6Z" fill="url(#saL)" opacity="0.87"/><path d="M385.5 956.8L356.4 957.8" stroke="#fff" stroke-width="1.1" opacity="0.40"/><path d="M384.7 952.4L358.2 952.5" stroke="#fff" stroke-width="1.3" opacity="0.39"/><path d="M389 958.7L354.8 959.9" stroke="#fff" stroke-width="0.8" opacity="0.46"/><path d="M401.4 960.4L354.5 961.6" stroke="#a6c3de" stroke-width="0.9" opacity=".55"/><path d="M401.4 962.6L369.8 964.2" stroke="#5c9fdc" stroke-width="1.0" opacity=".55"/><path d="M401.4 944.6L438.8 946.5L438.8 948.4L401.4 947.8Z" fill="url(#sbR)" opacity="0.90"/><path d="M401.4 945.6L443.6 946.8L443.6 948.6L401.4 947.7Z" fill="url(#sbR)" opacity="0.90"/><path d="M401.4 947.1L450.3 948.1L450.3 950.9L401.4 950.3Z" fill="url(#sdR)" opacity="0.75"/><path d="M401.4 948L449 948.5L449 950.6L401.4 950.4Z" fill="url(#saR)" opacity="0.90"/><path d="M401.4 949.4L451.7 950.8L451.7 952.1L401.4 951.8Z" fill="url(#sbR)" opacity="0.77"/><path d="M401.4 950.3L448.8 949.8L448.8 951.4L401.4 952.5Z" fill="url(#sbR)" opacity="0.85"/><path d="M401.4 951.2L454.4 950L454.4 951.7L401.4 953.9Z" fill="url(#scR)" opacity="0.91"/><path d="M401.4 952.5L450.1 950.7L450.1 953L401.4 955.1Z" fill="url(#scR)" opacity="0.89"/><path d="M401.4 953.4L449.4 951.6L449.4 953.3L401.4 955.7Z" fill="url(#saR)" opacity="0.86"/><path d="M401.4 955.1L451.6 953.8L451.6 955.2L401.4 957.6Z" fill="url(#sdR)" opacity="0.80"/><path d="M401.4 955.8L447.7 953.6L447.7 955L401.4 958.4Z" fill="url(#sbR)" opacity="0.77"/><path d="M401.4 956.4L448.8 954.9L448.8 956.4L401.4 959.1Z" fill="url(#scR)" opacity="0.78"/><path d="M401.4 958L452.4 954.9L452.4 956.2L401.4 960.3Z" fill="url(#sbR)" opacity="0.82"/><path d="M401.4 958.4L450.3 956.2L450.3 958.9L401.4 961.6Z" fill="url(#saR)" opacity="0.79"/><path d="M401.4 959.5L446.3 957.3L446.3 959.2L401.4 962.8Z" fill="url(#saR)" opacity="0.82"/><path d="M401.4 961.1L447.6 956.9L447.6 958.1L401.4 963.4Z" fill="url(#saR)" opacity="0.90"/><path d="M422.3 947.9L441.5 947.8" stroke="#fff" stroke-width="0.9" opacity="0.49"/><path d="M417 951.5L434.6 950.8" stroke="#fff" stroke-width="0.7" opacity="0.51"/><path d="M415.4 956.8L452.8 957" stroke="#fff" stroke-width="1.3" opacity="0.27"/><path d="M401.4 963.9L448.6 964.3" stroke="#7fb6e4" stroke-width="1.1" opacity=".55"/><path d="M401.4 962.6L454.4 963.2" stroke="#5c9fdc" stroke-width="0.9" opacity=".55"/><path d="M401.4 965.1L365.9 967.9L365.9 969.7L401.4 967.5Z" fill="url(#saL)" opacity="0.80"/><path d="M401.4 965.2L360 967L360 968.8L401.4 968Z" fill="url(#saL)" opacity="0.84"/><path d="M401.4 967L348.1 968.1L348.1 970L401.4 969.7Z" fill="url(#sdL)" opacity="0.92"/><path d="M401.4 967.9L350 968L350 969.8L401.4 970.1Z" fill="url(#sbL)" opacity="0.91"/><path d="M401.4 968.5L353 968.6L353 970.5L401.4 971.6Z" fill="url(#sbL)" opacity="0.94"/><path d="M401.4 970.1L349.3 970.3L349.3 971.5L401.4 972.2Z" fill="url(#scL)" opacity="0.79"/><path d="M401.4 970.7L353.9 969.8L353.9 971.4L401.4 973.1Z" fill="url(#saL)" opacity="0.77"/><path d="M401.4 972L350.9 972.2L350.9 974L401.4 975.1Z" fill="url(#sbL)" opacity="0.81"/><path d="M401.4 973.8L351.8 972.5L351.8 974.3L401.4 976Z" fill="url(#saL)" opacity="0.76"/><path d="M401.4 974.7L353.7 973.7L353.7 975.5L401.4 976.9Z" fill="url(#sbL)" opacity="0.77"/><path d="M401.4 975.5L351 974.1L351 976.1L401.4 978.5Z" fill="url(#scL)" opacity="0.78"/><path d="M401.4 977.2L354.2 973.5L354.2 975L401.4 979.3Z" fill="url(#sbL)" opacity="0.86"/><path d="M401.4 977.3L352.9 974.5L352.9 976.3L401.4 979.9Z" fill="url(#sbL)" opacity="0.85"/><path d="M401.4 978.6L354 975.7L354 977.2L401.4 980.9Z" fill="url(#sbL)" opacity="0.89"/><path d="M401.4 979.8L359.4 975.9L359.4 977.2L401.4 982.3Z" fill="url(#saL)" opacity="0.94"/><path d="M401.4 980.7L365 977.4L365 979.6L401.4 983.3Z" fill="url(#saL)" opacity="0.84"/><path d="M381.7 978.7L352.5 977.8" stroke="#fff" stroke-width="0.7" opacity="0.31"/><path d="M382.8 978.4L362.5 977.4" stroke="#fff" stroke-width="1.2" opacity="0.46"/><path d="M381.2 978.1L351.3 977.2" stroke="#fff" stroke-width="0.8" opacity="0.47"/><path d="M401.4 983.1L359.2 984.3" stroke="#a6c3de" stroke-width="0.8" opacity=".55"/><path d="M401.4 984L363.5 983" stroke="#7fb6e4" stroke-width="1.1" opacity=".55"/><path d="M401.4 965.4L443.5 969.1L443.5 971.5L401.4 968.5Z" fill="url(#scR)" opacity="0.82"/><path d="M401.4 967.2L445.3 969L445.3 971.1L401.4 970.4Z" fill="url(#scR)" opacity="0.79"/><path d="M401.4 967.8L451.2 969.9L451.2 971.7L401.4 970.8Z" fill="url(#sbR)" opacity="0.86"/><path d="M401.4 968.4L449.6 971.2L449.6 973.7L401.4 971.7Z" fill="url(#sbR)" opacity="0.91"/><path d="M401.4 969.7L451.1 972.5L451.1 973.8L401.4 972.1Z" fill="url(#saR)" opacity="0.84"/><path d="M401.4 971.4L448.8 973.2L448.8 975L401.4 974.3Z" fill="url(#sbR)" opacity="0.95"/><path d="M401.4 971.9L447.7 973.4L447.7 975.3L401.4 974.3Z" fill="url(#saR)" opacity="0.95"/><path d="M401.4 973.2L450.6 973.4L450.6 975L401.4 976.1Z" fill="url(#sbR)" opacity="0.95"/><path d="M401.4 974.7L452.5 973.8L452.5 975.8L401.4 977.3Z" fill="url(#sdR)" opacity="0.90"/><path d="M401.4 975.1L453.8 973.9L453.8 976.5L401.4 977.9Z" fill="url(#saR)" opacity="0.79"/><path d="M401.4 976.8L450.1 975.6L450.1 977.2L401.4 979.5Z" fill="url(#sbR)" opacity="0.91"/><path d="M401.4 977.6L447.7 976.9L447.7 979L401.4 980.5Z" fill="url(#sdR)" opacity="0.77"/><path d="M401.4 978.5L449.5 976.9L449.5 978.7L401.4 980.7Z" fill="url(#scR)" opacity="0.92"/><path d="M401.4 979.5L452 978.2L452 980L401.4 982.1Z" fill="url(#sbR)" opacity="0.80"/><path d="M401.4 981.7L444.7 979.8L444.7 981.1L401.4 983.8Z" fill="url(#saR)" opacity="0.90"/><path d="M401.4 982L448.9 979.1L448.9 981L401.4 985.1Z" fill="url(#scR)" opacity="0.77"/><path d="M410.2 981.9L445.9 981.5" stroke="#fff" stroke-width="0.7" opacity="0.38"/><path d="M413 981.2L437.3 981.3" stroke="#fff" stroke-width="1.1" opacity="0.40"/><path d="M421.5 970.6L436.3 969.9" stroke="#fff" stroke-width="0.8" opacity="0.40"/><path d="M401.4 983.3L443.8 984.2" stroke="#b8c4d0" stroke-width="0.8" opacity=".55"/><path d="M401.4 982.7L431.1 983.3" stroke="#a6c3de" stroke-width="0.7" opacity=".55"/><path d="M401.4 985.1L351.3 988.3L351.3 990L401.4 987.5Z" fill="url(#saL)" opacity="0.91"/><path d="M401.4 986.5L359.5 987.7L359.5 988.9L401.4 988.7Z" fill="url(#sbL)" opacity="0.79"/><path d="M401.4 987.5L353.8 988.4L353.8 989.9L401.4 989.6Z" fill="url(#saL)" opacity="0.86"/><path d="M401.4 988.8L350.2 988.7L350.2 990.8L401.4 991.4Z" fill="url(#scL)" opacity="0.91"/><path d="M401.4 990L354.4 989.5L354.4 991.3L401.4 992.2Z" fill="url(#sbL)" opacity="0.92"/><path d="M401.4 990.5L355 991.7L355 993.1L401.4 992.6Z" fill="url(#sbL)" opacity="0.81"/><path d="M401.4 991.5L350.6 991.1L350.6 993L401.4 994.4Z" fill="url(#saL)" opacity="0.93"/><path d="M401.4 992.9L356.2 991.7L356.2 993.9L401.4 995.7Z" fill="url(#saL)" opacity="0.90"/><path d="M401.4 994.7L350.6 993L350.6 995L401.4 997.1Z" fill="url(#scL)" opacity="0.86"/><path d="M401.4 995.2L349 994.4L349 995.9L401.4 997.6Z" fill="url(#saL)" opacity="0.89"/><path d="M401.4 996.5L356.2 995.5L356.2 997L401.4 999.1Z" fill="url(#scL)" opacity="0.79"/><path d="M401.4 997.8L355.4 994.7L355.4 996.8L401.4 1000.5Z" fill="url(#sdL)" opacity="0.84"/><path d="M401.4 998.3L356.5 995.3L356.5 997.1L401.4 1001.3Z" fill="url(#sdL)" opacity="0.80"/><path d="M401.4 1000.2L352 997.5L352 998.7L401.4 1002.4Z" fill="url(#scL)" opacity="0.92"/><path d="M401.4 1000.8L350.8 996.1L350.8 998.4L401.4 1003.6Z" fill="url(#saL)" opacity="0.89"/><path d="M401.4 1001.2L354.9 997.1L354.9 999.6L401.4 1004.2Z" fill="url(#sdL)" opacity="0.87"/><path d="M385.4 989.7L357 988.7" stroke="#fff" stroke-width="1.1" opacity="0.46"/><path d="M384 1001.5L359 1000.9" stroke="#fff" stroke-width="0.6" opacity="0.39"/><path d="M388.1 999.5L358.8 997.9" stroke="#fff" stroke-width="0.9" opacity="0.52"/><path d="M401.4 1004.1L372.3 1003.7" stroke="#a6c3de" stroke-width="0.9" opacity=".55"/><path d="M401.4 1003.9L372.6 1005.6" stroke="#b8c4d0" stroke-width="1.1" opacity=".55"/><path d="M401.4 986.5L454.5 989.5L454.5 991.2L401.4 989.1Z" fill="url(#sbR)" opacity="0.77"/><path d="M401.4 987.4L450.8 991.2L450.8 993.1L401.4 989.6Z" fill="url(#saR)" opacity="0.80"/><path d="M401.4 988.5L449.8 990.3L449.8 992L401.4 991Z" fill="url(#sdR)" opacity="0.91"/><path d="M401.4 989.6L453.9 991.9L453.9 994.1L401.4 992.5Z" fill="url(#saR)" opacity="0.84"/><path d="M401.4 990.9L447.6 992.7L447.6 994.4L401.4 993.2Z" fill="url(#saR)" opacity="0.88"/><path d="M401.4 992.1L453.6 994.3L453.6 996.1L401.4 994.2Z" fill="url(#saR)" opacity="0.80"/><path d="M401.4 993L448.2 993.1L448.2 995.2L401.4 996.2Z" fill="url(#sbR)" opacity="0.83"/><path d="M401.4 994.1L455 994.3L455 996.8L401.4 997.3Z" fill="url(#sbR)" opacity="0.78"/><path d="M401.4 995.8L454.7 996.6L454.7 998L401.4 997.8Z" fill="url(#sdR)" opacity="0.81"/><path d="M401.4 996L447.3 995.4L447.3 997.2L401.4 998.6Z" fill="url(#sbR)" opacity="0.94"/><path d="M401.4 997.5L455.5 996.4L455.5 997.9L401.4 999.5Z" fill="url(#sbR)" opacity="0.76"/><path d="M401.4 998.3L450.6 997.4L450.6 999.9L401.4 1001.2Z" fill="url(#saR)" opacity="0.82"/><path d="M401.4 999.2L447.4 997.3L447.4 998.5L401.4 1001.6Z" fill="url(#scR)" opacity="0.89"/><path d="M401.4 1001.2L455.3 998.2L455.3 999.9L401.4 1003.3Z" fill="url(#sbR)" opacity="0.77"/><path d="M401.4 1001.9L452.1 999.9L452.1 1001.6L401.4 1004.8Z" fill="url(#saR)" opacity="0.94"/><path d="M401.4 1003.1L451.6 1000.8L451.6 1002.6L401.4 1005.4Z" fill="url(#sbR)" opacity="0.83"/><path d="M421.2 996.8L438 997.5" stroke="#fff" stroke-width="0.6" opacity="0.41"/><path d="M411.6 997L451.8 996.9" stroke="#fff" stroke-width="0.7" opacity="0.37"/><path d="M415.4 997.2L434.2 996.5" stroke="#fff" stroke-width="1.1" opacity="0.29"/><path d="M401.4 1002.7L450.7 1004.2" stroke="#a6c3de" stroke-width="1.2" opacity=".55"/><path d="M401.4 1007.3L429.4 1008.7" stroke="#5c9fdc" stroke-width="0.7" opacity=".55"/><path d="M401.4 1006L358.7 1008.3L358.7 1010.4L401.4 1008.7Z" fill="url(#saL)" opacity="0.80"/><path d="M401.4 1006.9L362.1 1010.6L362.1 1013L401.4 1009.6Z" fill="url(#sbL)" opacity="0.84"/><path d="M401.4 1008.1L352.7 1010.6L352.7 1012.5L401.4 1010.6Z" fill="url(#saL)" opacity="0.84"/><path d="M401.4 1010.1L350.2 1012.4L350.2 1013.7L401.4 1012.2Z" fill="url(#saL)" opacity="0.77"/><path d="M401.4 1010.8L348.2 1012.3L348.2 1013.7L401.4 1013.3Z" fill="url(#sbL)" opacity="0.85"/><path d="M401.4 1012.3L355.7 1013.3L355.7 1015.3L401.4 1014.6Z" fill="url(#saL)" opacity="0.82"/><path d="M401.4 1012.4L350.2 1012.7L350.2 1014.9L401.4 1015.2Z" fill="url(#sbL)" opacity="0.85"/><path d="M401.4 1013.8L349.8 1013.7L349.8 1015.2L401.4 1016.5Z" fill="url(#sbL)" opacity="0.76"/><path d="M401.4 1014.8L350.2 1014.9L350.2 1017.1L401.4 1017.3Z" fill="url(#sdL)" opacity="0.84"/><path d="M401.4 1015.9L352.1 1014.6L352.1 1017.1L401.4 1018.6Z" fill="url(#sdL)" opacity="0.78"/><path d="M401.4 1017.5L353.8 1015.9L353.8 1017.7L401.4 1020Z" fill="url(#saL)" opacity="0.86"/><path d="M401.4 1017.7L356.5 1016.3L356.5 1018.2L401.4 1020.7Z" fill="url(#scL)" opacity="0.76"/><path d="M401.4 1020L350.5 1019.1L350.5 1020.1L401.4 1022Z" fill="url(#sbL)" opacity="0.94"/><path d="M401.4 1020.5L353.5 1019.5L353.5 1020.9L401.4 1023.4Z" fill="url(#sdL)" opacity="0.90"/><path d="M401.4 1022.1L358.2 1019.6L358.2 1021.3L401.4 1024.3Z" fill="url(#sbL)" opacity="0.86"/><path d="M401.4 1022.4L361.2 1020.9L361.2 1022.4L401.4 1025.5Z" fill="url(#saL)" opacity="0.93"/><path d="M393.3 1020.1L361.6 1019.2" stroke="#fff" stroke-width="1.1" opacity="0.49"/><path d="M382.8 1019.8L367.1 1018.7" stroke="#fff" stroke-width="0.7" opacity="0.50"/><path d="M386.5 1020.3L365 1020.9" stroke="#fff" stroke-width="0.7" opacity="0.35"/><path d="M401.4 1022L348.5 1021.6" stroke="#a6c3de" stroke-width="1.4" opacity=".55"/><path d="M401.4 1026.8L349.9 1028.7" stroke="#7fb6e4" stroke-width="0.8" opacity=".55"/><path d="M401.4 1006.9L449 1009L449 1011.5L401.4 1010.2Z" fill="url(#scR)" opacity="0.95"/><path d="M401.4 1008.4L448.9 1010.2L448.9 1012.1L401.4 1011.2Z" fill="url(#sdR)" opacity="0.84"/><path d="M401.4 1010L447.6 1011.4L447.6 1012.9L401.4 1012.3Z" fill="url(#saR)" opacity="0.83"/><path d="M401.4 1010.8L448.1 1012L448.1 1013.1L401.4 1012.8Z" fill="url(#saR)" opacity="0.92"/><path d="M401.4 1011.1L447.5 1011.6L447.5 1013.1L401.4 1014Z" fill="url(#scR)" opacity="0.86"/><path d="M401.4 1012.9L449.4 1013.1L449.4 1015L401.4 1015.4Z" fill="url(#sbR)" opacity="0.88"/><path d="M401.4 1014.5L449.6 1014.7L449.6 1015.8L401.4 1016.7Z" fill="url(#sbR)" opacity="0.79"/><path d="M401.4 1014.7L455.2 1014.9L455.2 1016.6L401.4 1017.1Z" fill="url(#scR)" opacity="0.82"/><path d="M401.4 1015.1L454.2 1014.3L454.2 1016.1L401.4 1018.4Z" fill="url(#saR)" opacity="0.90"/><path d="M401.4 1017L448.7 1015.3L448.7 1017.5L401.4 1020Z" fill="url(#sbR)" opacity="0.83"/><path d="M401.4 1018.2L449.5 1016.3L449.5 1017.6L401.4 1020.2Z" fill="url(#sbR)" opacity="0.80"/><path d="M401.4 1019.4L451.7 1017.1L451.7 1018.7L401.4 1021.6Z" fill="url(#sdR)" opacity="0.75"/><path d="M401.4 1019.7L451.3 1017L451.3 1019.6L401.4 1022.8Z" fill="url(#saR)" opacity="0.77"/><path d="M401.4 1021.4L448.3 1018.4L448.3 1020.4L401.4 1024.1Z" fill="url(#sdR)" opacity="0.79"/><path d="M401.4 1022.3L447.6 1018.8L447.6 1021L401.4 1025.3Z" fill="url(#sbR)" opacity="0.77"/><path d="M401.4 1024.3L440.5 1021.1L440.5 1022.9L401.4 1026.5Z" fill="url(#sbR)" opacity="0.81"/><path d="M415.1 1012.5L436.4 1012" stroke="#fff" stroke-width="0.8" opacity="0.37"/><path d="M416.8 1015.7L437.3 1016" stroke="#fff" stroke-width="0.7" opacity="0.45"/><path d="M420.2 1011.7L447.5 1012.3" stroke="#fff" stroke-width="0.9" opacity="0.54"/><path d="M401.4 1023.3L433.7 1022.8" stroke="#b8c4d0" stroke-width="0.9" opacity=".55"/><path d="M401.4 1027.5L446.6 1025.8" stroke="#a6c3de" stroke-width="0.7" opacity=".55"/><path d="M401.4 1026.6L352.1 1032.1L352.1 1033.6L401.4 1029.4Z" fill="url(#sbL)" opacity="0.80"/><path d="M401.4 1028.3L354.3 1032.3L354.3 1034.1L401.4 1030.9Z" fill="url(#scL)" opacity="0.95"/><path d="M401.4 1029.5L350.7 1034.1L350.7 1035.9L401.4 1031.7Z" fill="url(#saL)" opacity="0.94"/><path d="M401.4 1030.7L351.7 1034.1L351.7 1035.5L401.4 1033Z" fill="url(#sbL)" opacity="0.79"/><path d="M401.4 1031.6L352.9 1034.9L352.9 1037L401.4 1034.3Z" fill="url(#sbL)" opacity="0.91"/><path d="M401.4 1032.2L352.3 1035.9L352.3 1037.8L401.4 1035Z" fill="url(#sbL)" opacity="0.85"/><path d="M401.4 1033.9L349.4 1035.7L349.4 1037.3L401.4 1036.1Z" fill="url(#saL)" opacity="0.76"/><path d="M401.4 1034.4L353.6 1036.3L353.6 1038.2L401.4 1036.9Z" fill="url(#sbL)" opacity="0.87"/><path d="M401.4 1035.6L355.8 1037.1L355.8 1038.6L401.4 1038.4Z" fill="url(#sbL)" opacity="0.81"/><path d="M401.4 1036.7L349.5 1036.9L349.5 1039.3L401.4 1039.4Z" fill="url(#sbL)" opacity="0.79"/><path d="M401.4 1038L351.7 1038.8L351.7 1040.4L401.4 1040.2Z" fill="url(#saL)" opacity="0.88"/><path d="M401.4 1038.8L353.7 1038L353.7 1040.7L401.4 1041.9Z" fill="url(#scL)" opacity="0.95"/><path d="M401.4 1039.8L353.9 1039.7L353.9 1041.9L401.4 1042.9Z" fill="url(#sbL)" opacity="0.93"/><path d="M401.4 1041.3L348.9 1040.2L348.9 1041.7L401.4 1043.6Z" fill="url(#sbL)" opacity="0.90"/><path d="M401.4 1041.8L354.2 1042.2L354.2 1044.4L401.4 1045Z" fill="url(#sdL)" opacity="0.89"/><path d="M401.4 1044.2L357.4 1043.1L357.4 1044.5L401.4 1046.3Z" fill="url(#sbL)" opacity="0.82"/><path d="M381.2 1041.5L367 1042.8" stroke="#fff" stroke-width="1.1" opacity="0.31"/><path d="M385.4 1036.5L365.2 1036.7" stroke="#fff" stroke-width="0.6" opacity="0.37"/><path d="M383.7 1039.6L365 1041" stroke="#fff" stroke-width="0.8" opacity="0.28"/><path d="M401.4 1044.6L351.9 1043.6" stroke="#a6c3de" stroke-width="1.3" opacity=".55"/><path d="M401.4 1046.8L358.2 1048.5" stroke="#b8c4d0" stroke-width="0.8" opacity=".55"/><path d="M401.4 1027.8L441.5 1030.8L441.5 1032.4L401.4 1030.8Z" fill="url(#sbR)" opacity="0.95"/><path d="M401.4 1028.7L441.9 1030.8L441.9 1032.9L401.4 1031.2Z" fill="url(#saR)" opacity="0.80"/><path d="M401.4 1030.9L454.9 1031.3L454.9 1032.7L401.4 1033.1Z" fill="url(#sbR)" opacity="0.85"/><path d="M401.4 1031.8L449.7 1033.6L449.7 1034.7L401.4 1034Z" fill="url(#scR)" opacity="0.85"/><path d="M401.4 1032.1L456 1031.9L456 1033.6L401.4 1034.2Z" fill="url(#saR)" opacity="0.80"/><path d="M401.4 1033.2L447.9 1032.9L447.9 1034.8L401.4 1035.3Z" fill="url(#sbR)" opacity="0.77"/><path d="M401.4 1034.7L448.4 1034.2L448.4 1036.3L401.4 1037.7Z" fill="url(#sdR)" opacity="0.84"/><path d="M401.4 1035.3L453.3 1034.1L453.3 1035.7L401.4 1038.4Z" fill="url(#saR)" opacity="0.80"/><path d="M401.4 1036.9L447.7 1035.3L447.7 1037L401.4 1039.6Z" fill="url(#sdR)" opacity="0.91"/><path d="M401.4 1038.2L456 1036.8L456 1038.2L401.4 1040.8Z" fill="url(#saR)" opacity="0.89"/><path d="M401.4 1038.7L454 1036.9L454 1038.8L401.4 1040.9Z" fill="url(#saR)" opacity="0.94"/><path d="M401.4 1040L454.8 1036.6L454.8 1038.5L401.4 1042.3Z" fill="url(#saR)" opacity="0.86"/><path d="M401.4 1041.8L452.6 1038.7L452.6 1040.3L401.4 1043.8Z" fill="url(#scR)" opacity="0.76"/><path d="M401.4 1042.1L447.7 1039.4L447.7 1040.8L401.4 1044.4Z" fill="url(#sdR)" opacity="0.91"/><path d="M401.4 1043.5L450 1039.2L450 1041L401.4 1046Z" fill="url(#saR)" opacity="0.82"/><path d="M401.4 1044.2L451 1039.6L451 1041.6L401.4 1047Z" fill="url(#sbR)" opacity="0.87"/><path d="M411.6 1030.7L450.8 1029.5" stroke="#fff" stroke-width="1.0" opacity="0.40"/><path d="M422 1042.7L435.9 1041.2" stroke="#fff" stroke-width="0.7" opacity="0.26"/><path d="M414.8 1042.7L449.7 1041.5" stroke="#fff" stroke-width="0.8" opacity="0.29"/><path d="M401.4 1044.7L447.3 1044.1" stroke="#5c9fdc" stroke-width="0.7" opacity=".55"/><path d="M401.4 1046.7L429.4 1048.1" stroke="#5c9fdc" stroke-width="0.9" opacity=".55"/><path d="M401.4 1048.1L356 1051.7L356 1053.3L401.4 1050.3Z" fill="url(#saL)" opacity="0.77"/><path d="M401.4 1048.9L358.2 1051.6L358.2 1053.8L401.4 1052Z" fill="url(#sdL)" opacity="0.93"/><path d="M401.4 1050L354.1 1052.1L354.1 1054.5L401.4 1052.7Z" fill="url(#sbL)" opacity="0.83"/><path d="M401.4 1050.8L355.8 1051.8L355.8 1054.1L401.4 1054Z" fill="url(#sbL)" opacity="0.94"/><path d="M401.4 1052.7L356.3 1054.6L356.3 1056.1L401.4 1054.8Z" fill="url(#sdL)" opacity="0.87"/><path d="M401.4 1052.9L352.1 1053.5L352.1 1054.9L401.4 1055.3Z" fill="url(#sbL)" opacity="0.77"/><path d="M401.4 1054.8L355.1 1055.7L355.1 1058L401.4 1057.5Z" fill="url(#sdL)" opacity="0.94"/><path d="M401.4 1056.1L348.3 1056.1L348.3 1057.9L401.4 1058.5Z" fill="url(#saL)" opacity="0.92"/><path d="M401.4 1057.1L356 1056.9L356 1058.7L401.4 1059.1Z" fill="url(#scL)" opacity="0.84"/><path d="M401.4 1058.1L353.7 1057.8L353.7 1060.2L401.4 1060.8Z" fill="url(#sbL)" opacity="0.89"/><path d="M401.4 1058.9L354.7 1057.6L354.7 1059.3L401.4 1061.9Z" fill="url(#scL)" opacity="0.86"/><path d="M401.4 1060.3L355.8 1059.5L355.8 1061L401.4 1062.9Z" fill="url(#scL)" opacity="0.90"/><path d="M401.4 1060.5L354.4 1058.8L354.4 1060.4L401.4 1063.2Z" fill="url(#scL)" opacity="0.81"/><path d="M401.4 1061.7L354.6 1059.2L354.6 1061.2L401.4 1064.6Z" fill="url(#sdL)" opacity="0.83"/><path d="M401.4 1063.4L357.5 1061.4L357.5 1062.8L401.4 1066Z" fill="url(#saL)" opacity="0.85"/><path d="M401.4 1064.2L359.5 1061.8L359.5 1063.8L401.4 1067.2Z" fill="url(#sdL)" opacity="0.79"/><path d="M392.4 1058.5L360.6 1058.8" stroke="#fff" stroke-width="0.8" opacity="0.28"/><path d="M382.2 1061.8L360.7 1061" stroke="#fff" stroke-width="1.3" opacity="0.45"/><path d="M388.3 1059.8L364.6 1059.7" stroke="#fff" stroke-width="0.7" opacity="0.36"/><path d="M401.4 1066.6L368.2 1066.4" stroke="#7fb6e4" stroke-width="1.2" opacity=".55"/><path d="M401.4 1067.4L354.9 1066.4" stroke="#a6c3de" stroke-width="0.9" opacity=".55"/><path d="M401.4 1048.8L450.7 1052.1L450.7 1053.6L401.4 1050.9Z" fill="url(#sbR)" opacity="0.76"/><path d="M401.4 1049.8L445.6 1052.2L445.6 1053.9L401.4 1052.7Z" fill="url(#sdR)" opacity="0.76"/><path d="M401.4 1050.6L453.4 1052.7L453.4 1054.7L401.4 1053.3Z" fill="url(#saR)" opacity="0.77"/><path d="M401.4 1052.1L451.6 1055L451.6 1056.7L401.4 1054.2Z" fill="url(#sbR)" opacity="0.94"/><path d="M401.4 1053.5L453.6 1055.2L453.6 1057.1L401.4 1056.6Z" fill="url(#sdR)" opacity="0.94"/><path d="M401.4 1054.6L451 1055.8L451 1057.6L401.4 1057.1Z" fill="url(#sbR)" opacity="0.93"/><path d="M401.4 1055.5L454.1 1056.5L454.1 1058L401.4 1057.5Z" fill="url(#saR)" opacity="0.85"/><path d="M401.4 1056.1L451.6 1057.8L451.6 1059.3L401.4 1059Z" fill="url(#scR)" opacity="0.88"/><path d="M401.4 1057.1L453.7 1056.4L453.7 1058.6L401.4 1059.8Z" fill="url(#sbR)" opacity="0.92"/><path d="M401.4 1058.7L453.5 1058.1L453.5 1060.8L401.4 1061.9Z" fill="url(#sdR)" opacity="0.91"/><path d="M401.4 1059.5L447.9 1058.6L447.9 1061.1L401.4 1062.6Z" fill="url(#saR)" opacity="0.81"/><path d="M401.4 1061.8L447.8 1060L447.8 1061.1L401.4 1063.9Z" fill="url(#saR)" opacity="0.82"/><path d="M401.4 1061.5L451.9 1060.4L451.9 1062.4L401.4 1064.6Z" fill="url(#sbR)" opacity="0.91"/><path d="M401.4 1062.9L453.3 1062.1L453.3 1063.8L401.4 1065.8Z" fill="url(#scR)" opacity="0.85"/><path d="M401.4 1064.5L447 1061L447 1063.1L401.4 1067.1Z" fill="url(#saR)" opacity="0.95"/><path d="M401.4 1064.8L440.5 1062L440.5 1064.4L401.4 1067.9Z" fill="url(#sbR)" opacity="0.83"/><path d="M413.4 1058.7L452.4 1057.9" stroke="#fff" stroke-width="0.7" opacity="0.41"/><path d="M419.4 1056.3L434.9 1056.5" stroke="#fff" stroke-width="0.9" opacity="0.53"/><path d="M415.5 1055.6L440.2 1055.5" stroke="#fff" stroke-width="0.8" opacity="0.45"/><path d="M401.4 1066.2L448 1065.3" stroke="#b8c4d0" stroke-width="1.1" opacity=".55"/><path d="M401.4 1065.8L445.5 1067.7" stroke="#b8c4d0" stroke-width="0.8" opacity=".55"/><path d="M401.4 1068.3L358.9 1070.3L358.9 1072.2L401.4 1070.5Z" fill="url(#saL)" opacity="0.91"/><path d="M401.4 1070.2L353.8 1072.6L353.8 1074L401.4 1072.7Z" fill="url(#saL)" opacity="0.89"/><path d="M401.4 1070.8L350.9 1072.3L350.9 1073.8L401.4 1073.5Z" fill="url(#sbL)" opacity="0.85"/><path d="M401.4 1072.5L355.9 1073.4L355.9 1074.6L401.4 1074.7Z" fill="url(#sbL)" opacity="0.81"/><path d="M401.4 1073.4L356.4 1074.8L356.4 1076.5L401.4 1076.6Z" fill="url(#scL)" opacity="0.80"/><path d="M401.4 1073.8L352.6 1073.4L352.6 1075.6L401.4 1077Z" fill="url(#saL)" opacity="0.79"/><path d="M401.4 1075.2L354.2 1074.8L354.2 1076.2L401.4 1077.5Z" fill="url(#scL)" opacity="0.78"/><path d="M401.4 1076.5L355.5 1076.6L355.5 1078.3L401.4 1078.8Z" fill="url(#sbL)" opacity="0.92"/><path d="M401.4 1077.9L355.9 1077.5L355.9 1078.7L401.4 1079.9Z" fill="url(#sbL)" opacity="0.76"/><path d="M401.4 1077.8L350.1 1077.1L350.1 1079.1L401.4 1081Z" fill="url(#scL)" opacity="0.81"/><path d="M401.4 1080.1L351.1 1077.4L351.1 1078.6L401.4 1082.4Z" fill="url(#sdL)" opacity="0.86"/><path d="M401.4 1080.5L353.8 1079.2L353.8 1081.3L401.4 1083.1Z" fill="url(#saL)" opacity="0.83"/><path d="M401.4 1082.2L349 1079.6L349 1080.9L401.4 1084.2Z" fill="url(#sbL)" opacity="0.94"/><path d="M401.4 1082.9L350 1081.1L350 1082.6L401.4 1085.8Z" fill="url(#sdL)" opacity="0.79"/><path d="M401.4 1083.1L360.2 1079.4L360.2 1080.9L401.4 1086.1Z" fill="url(#saL)" opacity="0.79"/><path d="M401.4 1086L358.8 1081.1L358.8 1082.5L401.4 1088.1Z" fill="url(#sbL)" opacity="0.92"/><path d="M390.5 1084.9L351.7 1083.5" stroke="#fff" stroke-width="0.7" opacity="0.49"/><path d="M387.2 1079.4L368.6 1078.7" stroke="#fff" stroke-width="0.9" opacity="0.39"/><path d="M387.7 1072.3L358.6 1071.7" stroke="#fff" stroke-width="0.6" opacity="0.36"/><path d="M401.4 1087.5L359 1087.7" stroke="#a6c3de" stroke-width="0.9" opacity=".55"/><path d="M401.4 1090.1L348.8 1091.9" stroke="#5c9fdc" stroke-width="1.1" opacity=".55"/><path d="M401.4 1069.7L451.5 1071.2L451.5 1073.1L401.4 1072.5Z" fill="url(#scR)" opacity="0.87"/><path d="M401.4 1070.5L444.6 1072.3L444.6 1074L401.4 1073.7Z" fill="url(#saR)" opacity="0.93"/><path d="M401.4 1071.7L453.8 1073.4L453.8 1074.8L401.4 1073.8Z" fill="url(#scR)" opacity="0.76"/><path d="M401.4 1072.8L448.2 1073.5L448.2 1075.2L401.4 1075.7Z" fill="url(#saR)" opacity="0.89"/><path d="M401.4 1073.6L455.4 1074.6L455.4 1076.6L401.4 1076.5Z" fill="url(#sbR)" opacity="0.82"/><path d="M401.4 1075.3L453.9 1075.5L453.9 1077.5L401.4 1077.9Z" fill="url(#sbR)" opacity="0.90"/><path d="M401.4 1076.6L454.8 1075.5L454.8 1077.1L401.4 1079.2Z" fill="url(#scR)" opacity="0.95"/><path d="M401.4 1077.1L454.5 1076.6L454.5 1077.9L401.4 1079.6Z" fill="url(#sbR)" opacity="0.79"/><path d="M401.4 1078.3L450.4 1077.4L450.4 1079.4L401.4 1081.2Z" fill="url(#saR)" opacity="0.79"/><path d="M401.4 1079.1L449.8 1076.7L449.8 1079.3L401.4 1082.1Z" fill="url(#saR)" opacity="0.79"/><path d="M401.4 1079.9L451.8 1077.4L451.8 1079.2L401.4 1083Z" fill="url(#scR)" opacity="0.81"/><path d="M401.4 1082.1L456 1079.4L456 1081.3L401.4 1084.4Z" fill="url(#saR)" opacity="0.77"/><path d="M401.4 1082.6L448 1080.1L448 1081.8L401.4 1085.5Z" fill="url(#sdR)" opacity="0.93"/><path d="M401.4 1083.2L451.9 1080.3L451.9 1081.9L401.4 1086.2Z" fill="url(#sdR)" opacity="0.91"/><path d="M401.4 1084.6L443.3 1081.7L443.3 1083.6L401.4 1087.1Z" fill="url(#sdR)" opacity="0.75"/><path d="M401.4 1086.6L444.6 1081.3L444.6 1082.9L401.4 1088.7Z" fill="url(#saR)" opacity="0.78"/><path d="M411.8 1083.9L440.1 1083.9" stroke="#fff" stroke-width="1.3" opacity="0.36"/><path d="M410.1 1085.5L452.4 1084.2" stroke="#fff" stroke-width="0.6" opacity="0.48"/><path d="M419.9 1074.5L434.3 1073" stroke="#fff" stroke-width="0.9" opacity="0.28"/><path d="M401.4 1087.3L438.1 1088.3" stroke="#b8c4d0" stroke-width="1.2" opacity=".55"/><path d="M401.4 1087.6L430.7 1087.6" stroke="#7fb6e4" stroke-width="1.3" opacity=".55"/><path d="M401.4 1089.6L363.1 1092.6L363.1 1094.2L401.4 1091.8Z" fill="url(#sbL)" opacity="0.76"/><path d="M401.4 1090.4L361.1 1093.2L361.1 1095.2L401.4 1093.6Z" fill="url(#saL)" opacity="0.93"/><path d="M401.4 1092.1L348.4 1094.4L348.4 1096L401.4 1094.9Z" fill="url(#saL)" opacity="0.78"/><path d="M401.4 1093.2L355.8 1094.5L355.8 1096.1L401.4 1095.5Z" fill="url(#scL)" opacity="0.90"/><path d="M401.4 1093.4L354.3 1095.8L354.3 1097.4L401.4 1096Z" fill="url(#saL)" opacity="0.78"/><path d="M401.4 1094.9L350.2 1095.2L350.2 1097.7L401.4 1097.6Z" fill="url(#sbL)" opacity="0.86"/><path d="M401.4 1095.3L351.2 1095.9L351.2 1098.1L401.4 1098.5Z" fill="url(#sbL)" opacity="0.84"/><path d="M401.4 1097.4L351.8 1098.1L351.8 1099.6L401.4 1100Z" fill="url(#sbL)" opacity="0.93"/><path d="M401.4 1097.8L349.2 1099.4L349.2 1100.9L401.4 1100.7Z" fill="url(#sbL)" opacity="0.80"/><path d="M401.4 1099.5L352.6 1100L352.6 1102.4L401.4 1102.3Z" fill="url(#sbL)" opacity="0.86"/><path d="M401.4 1100.5L353.1 1100L353.1 1102L401.4 1103.3Z" fill="url(#saL)" opacity="0.94"/><path d="M401.4 1101.8L353.6 1100.5L353.6 1101.7L401.4 1104Z" fill="url(#sdL)" opacity="0.86"/><path d="M401.4 1103.2L352.8 1102.7L352.8 1103.9L401.4 1105.2Z" fill="url(#sbL)" opacity="0.76"/><path d="M401.4 1103.4L355.3 1101.4L355.3 1103.3L401.4 1106Z" fill="url(#sbL)" opacity="0.92"/><path d="M401.4 1104L360 1103.2L360 1105.5L401.4 1107.1Z" fill="url(#sdL)" opacity="0.75"/><path d="M401.4 1105.1L364.2 1103.6L364.2 1105.7L401.4 1108Z" fill="url(#sdL)" opacity="0.89"/><path d="M383.9 1094.7L363.4 1094.8" stroke="#fff" stroke-width="0.7" opacity="0.50"/><path d="M385.6 1103L356.5 1102.8" stroke="#fff" stroke-width="0.7" opacity="0.35"/><path d="M385.9 1102.3L366.8 1101.9" stroke="#fff" stroke-width="0.9" opacity="0.25"/><path d="M401.4 1105.5L362.7 1104" stroke="#a6c3de" stroke-width="0.9" opacity=".55"/><path d="M401.4 1109.8L351.9 1110.9" stroke="#7fb6e4" stroke-width="1.1" opacity=".55"/><path d="M401.4 1091.1L446.3 1094L446.3 1095.4L401.4 1093.4Z" fill="url(#sdR)" opacity="0.93"/><path d="M401.4 1092L452.3 1094.6L452.3 1096.5L401.4 1094.1Z" fill="url(#saR)" opacity="0.81"/><path d="M401.4 1092.5L450.4 1095.6L450.4 1097.1L401.4 1095.4Z" fill="url(#sbR)" opacity="0.86"/><path d="M401.4 1094.4L448.4 1096.6L448.4 1098.4L401.4 1096.8Z" fill="url(#sbR)" opacity="0.81"/><path d="M401.4 1094.8L448.2 1096.8L448.2 1098.8L401.4 1097Z" fill="url(#saR)" opacity="0.89"/><path d="M401.4 1095.3L451.9 1096.3L451.9 1098.2L401.4 1098.4Z" fill="url(#sbR)" opacity="0.76"/><path d="M401.4 1096.8L447.4 1097.1L447.4 1098.9L401.4 1099.4Z" fill="url(#sdR)" opacity="0.90"/><path d="M401.4 1098.5L455.3 1097.8L455.3 1099.9L401.4 1101.1Z" fill="url(#scR)" opacity="0.76"/><path d="M401.4 1099.3L453 1098.6L453 1101.1L401.4 1102.4Z" fill="url(#saR)" opacity="0.84"/><path d="M401.4 1100L448.4 1100.1L448.4 1102L401.4 1102.5Z" fill="url(#scR)" opacity="0.77"/><path d="M401.4 1101.9L453.1 1101.2L453.1 1102.5L401.4 1104Z" fill="url(#sbR)" opacity="0.94"/><path d="M401.4 1101.9L453 1101.7L453 1103.6L401.4 1105.2Z" fill="url(#sbR)" opacity="0.93"/><path d="M401.4 1103.9L452.4 1101.9L452.4 1104L401.4 1106.5Z" fill="url(#scR)" opacity="0.80"/><path d="M401.4 1104L451.3 1101.9L451.3 1104.2L401.4 1107.1Z" fill="url(#sdR)" opacity="0.78"/><path d="M401.4 1105.6L441.2 1103.7L441.2 1106.2L401.4 1108.4Z" fill="url(#sbR)" opacity="0.93"/><path d="M401.4 1106.5L441.8 1103.4L441.8 1105.3L401.4 1109.5Z" fill="url(#sbR)" opacity="0.79"/><path d="M415.9 1106.5L438.8 1105.9" stroke="#fff" stroke-width="1.0" opacity="0.40"/><path d="M420.1 1097.4L439.7 1097.9" stroke="#fff" stroke-width="1.0" opacity="0.28"/><path d="M419.1 1104.9L443.2 1104.9" stroke="#fff" stroke-width="0.9" opacity="0.36"/><path d="M401.4 1110L440 1109.5" stroke="#5c9fdc" stroke-width="0.8" opacity=".55"/><path d="M401.4 1107.5L428.9 1106.3" stroke="#5c9fdc" stroke-width="1.3" opacity=".55"/><path d="M401.4 1110.3L360.7 1114L360.7 1115.5L401.4 1113.2Z" fill="url(#sbL)" opacity="0.75"/><path d="M401.4 1111.7L358.3 1114.4L358.3 1116.7L401.4 1114.7Z" fill="url(#saL)" opacity="0.75"/><path d="M401.4 1113L354.6 1115.1L354.6 1116.8L401.4 1115Z" fill="url(#sdL)" opacity="0.95"/><path d="M401.4 1113.2L355.9 1116.8L355.9 1119L401.4 1115.9Z" fill="url(#sdL)" opacity="0.78"/><path d="M401.4 1114.5L349.3 1117.5L349.3 1118.8L401.4 1116.6Z" fill="url(#saL)" opacity="0.76"/><path d="M401.4 1116.5L355.2 1117.2L355.2 1118.8L401.4 1118.6Z" fill="url(#saL)" opacity="0.83"/><path d="M401.4 1117.4L349.8 1118.7L349.8 1120.4L401.4 1119.5Z" fill="url(#sbL)" opacity="0.90"/><path d="M401.4 1117.4L355.5 1118.9L355.5 1121.3L401.4 1120.1Z" fill="url(#sbL)" opacity="0.81"/><path d="M401.4 1118.5L350.5 1118.5L350.5 1120.9L401.4 1121.5Z" fill="url(#saL)" opacity="0.87"/><path d="M401.4 1120.6L351.9 1121.8L351.9 1122.9L401.4 1122.8Z" fill="url(#sbL)" opacity="0.76"/><path d="M401.4 1121.2L356.5 1121.5L356.5 1124L401.4 1124Z" fill="url(#sbL)" opacity="0.93"/><path d="M401.4 1121.9L348.2 1122.1L348.2 1123.8L401.4 1124.5Z" fill="url(#sbL)" opacity="0.94"/><path d="M401.4 1123L354.8 1123.1L354.8 1124.4L401.4 1125.6Z" fill="url(#sbL)" opacity="0.91"/><path d="M401.4 1123.9L354.6 1123.1L354.6 1124.7L401.4 1126.8Z" fill="url(#saL)" opacity="0.90"/><path d="M401.4 1126L355.6 1124.2L355.6 1126.1L401.4 1128.4Z" fill="url(#sbL)" opacity="0.92"/><path d="M401.4 1126.5L358.4 1123.6L358.4 1125.2L401.4 1128.7Z" fill="url(#scL)" opacity="0.90"/><path d="M380.1 1114.7L358.5 1115.1" stroke="#fff" stroke-width="0.7" opacity="0.28"/><path d="M383.7 1122.7L356.9 1122.4" stroke="#fff" stroke-width="0.9" opacity="0.48"/><path d="M381.2 1121.7L367.7 1122.5" stroke="#fff" stroke-width="0.6" opacity="0.44"/><path d="M401.4 1129.4L372.7 1129" stroke="#7fb6e4" stroke-width="1.3" opacity=".55"/><path d="M401.4 1126.5L361.1 1127.7" stroke="#7fb6e4" stroke-width="1.1" opacity=".55"/><path d="M401.4 1111.4L443.4 1116.5L443.4 1117.9L401.4 1114.1Z" fill="url(#sbR)" opacity="0.94"/><path d="M401.4 1112.5L446.7 1115.1L446.7 1117.2L401.4 1115.7Z" fill="url(#saR)" opacity="0.77"/><path d="M401.4 1114.1L455.9 1117.5L455.9 1119L401.4 1116.3Z" fill="url(#saR)" opacity="0.76"/><path d="M401.4 1114.2L450.8 1116.4L450.8 1118.4L401.4 1117Z" fill="url(#sbR)" opacity="0.91"/><path d="M401.4 1116L447.9 1118.6L447.9 1120.6L401.4 1118.7Z" fill="url(#saR)" opacity="0.91"/><path d="M401.4 1116.4L450.4 1119.5L450.4 1121.6L401.4 1119Z" fill="url(#scR)" opacity="0.84"/><path d="M401.4 1118.2L452.1 1119L452.1 1120.6L401.4 1120.6Z" fill="url(#sbR)" opacity="0.78"/><path d="M401.4 1118.4L452.3 1119.5L452.3 1121.5L401.4 1121.4Z" fill="url(#saR)" opacity="0.83"/><path d="M401.4 1120.5L452.7 1120.5L452.7 1121.8L401.4 1122.7Z" fill="url(#saR)" opacity="0.81"/><path d="M401.4 1121.9L454.9 1123.3L454.9 1124.4L401.4 1124Z" fill="url(#sbR)" opacity="0.94"/><path d="M401.4 1122.1L455.5 1122L455.5 1124.6L401.4 1125.1Z" fill="url(#saR)" opacity="0.79"/><path d="M401.4 1123.6L450.1 1122.5L450.1 1123.7L401.4 1126Z" fill="url(#sbR)" opacity="0.87"/><path d="M401.4 1124.9L452.2 1125.1L452.2 1126.4L401.4 1127.1Z" fill="url(#sbR)" opacity="0.94"/><path d="M401.4 1125.7L450.9 1124.7L450.9 1126.1L401.4 1128.3Z" fill="url(#saR)" opacity="0.86"/><path d="M401.4 1126.4L445.8 1125L445.8 1127.5L401.4 1129.5Z" fill="url(#sdR)" opacity="0.92"/><path d="M401.4 1128.2L444.4 1126.8L444.4 1128.1L401.4 1130.3Z" fill="url(#sbR)" opacity="0.80"/><path d="M411.6 1124.1L450.8 1124.6" stroke="#fff" stroke-width="0.9" opacity="0.41"/><path d="M421 1115.9L441 1117.2" stroke="#fff" stroke-width="1.1" opacity="0.35"/><path d="M415.2 1124.4L440.7 1123.8" stroke="#fff" stroke-width="0.7" opacity="0.43"/><path d="M401.4 1130.2L431.2 1131.9" stroke="#b8c4d0" stroke-width="1.2" opacity=".55"/><path d="M401.4 1131.4L438.6 1132.6" stroke="#5c9fdc" stroke-width="0.9" opacity=".55"/><path d="M401.4 1131.3L359.6 1133.8L359.6 1135.9L401.4 1134.4Z" fill="url(#sbL)" opacity="0.82"/><path d="M401.4 1132.5L362.3 1135.2L362.3 1137.1L401.4 1135Z" fill="url(#saL)" opacity="0.91"/><path d="M401.4 1133.6L352.3 1136.1L352.3 1137.6L401.4 1136.2Z" fill="url(#saL)" opacity="0.91"/><path d="M401.4 1134.7L351.1 1136.1L351.1 1137.8L401.4 1136.8Z" fill="url(#scL)" opacity="0.85"/><path d="M401.4 1135L352.1 1135.2L352.1 1137.7L401.4 1137.9Z" fill="url(#saL)" opacity="0.84"/><path d="M401.4 1136.4L355 1137.5L355 1139.5L401.4 1138.8Z" fill="url(#sbL)" opacity="0.82"/><path d="M401.4 1138.4L354.5 1137.8L354.5 1139.5L401.4 1140.4Z" fill="url(#saL)" opacity="0.79"/><path d="M401.4 1138.7L354.4 1138.9L354.4 1141.2L401.4 1141.6Z" fill="url(#sbL)" opacity="0.79"/><path d="M401.4 1139.6L350.3 1139.3L350.3 1140.6L401.4 1141.9Z" fill="url(#sbL)" opacity="0.78"/><path d="M401.4 1140.8L349.6 1139.1L349.6 1140.9L401.4 1144Z" fill="url(#sbL)" opacity="0.79"/><path d="M401.4 1142L351.2 1140.7L351.2 1142.3L401.4 1144.2Z" fill="url(#saL)" opacity="0.86"/><path d="M401.4 1142.7L348.4 1140.1L348.4 1142.1L401.4 1145.6Z" fill="url(#saL)" opacity="0.87"/><path d="M401.4 1144.3L356 1141.5L356 1142.7L401.4 1146.3Z" fill="url(#scL)" opacity="0.85"/><path d="M401.4 1145.3L353.6 1142.4L353.6 1144.4L401.4 1148.5Z" fill="url(#scL)" opacity="0.93"/><path d="M401.4 1146.6L353.6 1144L353.6 1146L401.4 1149.4Z" fill="url(#saL)" opacity="0.78"/><path d="M401.4 1147.8L364.6 1143.4L364.6 1145L401.4 1150.1Z" fill="url(#sbL)" opacity="0.93"/><path d="M383.4 1142.2L354.1 1141.7" stroke="#fff" stroke-width="0.9" opacity="0.38"/><path d="M383 1138.6L352.8 1137.8" stroke="#fff" stroke-width="1.1" opacity="0.31"/><path d="M384.2 1133.7L354.9 1132.9" stroke="#fff" stroke-width="1.3" opacity="0.47"/><path d="M401.4 1148.8L354.4 1150.2" stroke="#a6c3de" stroke-width="1.0" opacity=".55"/><path d="M401.4 1147.7L348.6 1148.3" stroke="#a6c3de" stroke-width="1.1" opacity=".55"/><path d="M401.4 1131.7L449.6 1134.2L449.6 1136.5L401.4 1134.5Z" fill="url(#saR)" opacity="0.78"/><path d="M401.4 1133.8L439.6 1137L439.6 1138.6L401.4 1136.1Z" fill="url(#sbR)" opacity="0.76"/><path d="M401.4 1134.8L447.9 1136.8L447.9 1139L401.4 1137.9Z" fill="url(#scR)" opacity="0.80"/><path d="M401.4 1135.7L448.5 1137.7L448.5 1139.7L401.4 1138.7Z" fill="url(#saR)" opacity="0.91"/><path d="M401.4 1136.2L454.2 1138.2L454.2 1140.7L401.4 1139.3Z" fill="url(#sbR)" opacity="0.76"/><path d="M401.4 1137.3L450.1 1138.8L450.1 1140.3L401.4 1140Z" fill="url(#sbR)" opacity="0.86"/><path d="M401.4 1139L449.9 1139.9L449.9 1141.1L401.4 1141.4Z" fill="url(#saR)" opacity="0.86"/><path d="M401.4 1139.6L449.6 1139.2L449.6 1141.2L401.4 1142.6Z" fill="url(#sdR)" opacity="0.84"/><path d="M401.4 1140.9L448.1 1139.6L448.1 1141.6L401.4 1143.2Z" fill="url(#sbR)" opacity="0.83"/><path d="M401.4 1142.3L455.8 1141.5L455.8 1143L401.4 1144.4Z" fill="url(#saR)" opacity="0.76"/><path d="M401.4 1142.9L448.6 1141.4L448.6 1143.2L401.4 1146Z" fill="url(#scR)" opacity="0.81"/><path d="M401.4 1144.2L449.7 1142.9L449.7 1144.4L401.4 1146.4Z" fill="url(#sdR)" opacity="0.85"/><path d="M401.4 1145.1L450.3 1144.1L450.3 1145.9L401.4 1148.2Z" fill="url(#sdR)" opacity="0.87"/><path d="M401.4 1146.6L452.4 1144.3L452.4 1146.2L401.4 1148.8Z" fill="url(#saR)" opacity="0.80"/><path d="M401.4 1147.4L439.3 1145.6L439.3 1147.3L401.4 1150.2Z" fill="url(#sbR)" opacity="0.76"/><path d="M401.4 1147.9L441.5 1144.7L441.5 1146.5L401.4 1150.6Z" fill="url(#scR)" opacity="0.84"/><path d="M418.8 1138.6L451.1 1137.4" stroke="#fff" stroke-width="0.6" opacity="0.28"/><path d="M411.4 1139L442.4 1138.4" stroke="#fff" stroke-width="1.1" opacity="0.54"/><path d="M415.3 1148.3L446.5 1147.3" stroke="#fff" stroke-width="1.0" opacity="0.52"/><path d="M401.4 1152.4L432.5 1151" stroke="#7fb6e4" stroke-width="1.2" opacity=".55"/><path d="M401.4 1147.3L445.6 1145.3" stroke="#5c9fdc" stroke-width="1.3" opacity=".55"/><path d="M397.95 820.02 L404.62 828.80 M397.95 833.52 L404.62 842.30 M397.95 847.02 L404.62 855.80 M397.95 860.52 L404.62 869.30 M397.95 874.02 L404.62 882.80 M397.95 887.52 L404.62 896.30 M397.95 901.02 L404.62 909.80 M397.95 914.52 L404.62 923.30 M397.95 928.02 L404.62 936.80 M397.95 941.52 L404.62 950.30 M397.95 955.02 L404.62 963.80 M397.95 968.52 L404.62 977.30 M397.95 982.02 L404.62 990.80 M397.95 995.52 L404.62 1004.30 M397.95 1009.02 L404.62 1017.80 M397.95 1022.52 L404.62 1031.30 M397.95 1036.03 L404.62 1044.80 M397.95 1049.53 L404.62 1058.30 M397.95 1063.03 L404.62 1071.80 M397.95 1076.53 L404.62 1085.30 M397.95 1090.03 L404.62 1098.80 M397.95 1103.53 L404.62 1112.30 M397.95 1117.03 L404.62 1125.80 M397.95 1130.53 L404.62 1139.30" stroke="#a9b0b9" stroke-width="7.1" stroke-linecap="round" opacity=".95"/><path d="M397.95 820.02 L404.62 828.80 M397.95 833.52 L404.62 842.30 M397.95 847.02 L404.62 855.80 M397.95 860.52 L404.62 869.30 M397.95 874.02 L404.62 882.80 M397.95 887.52 L404.62 896.30 M397.95 901.02 L404.62 909.80 M397.95 914.52 L404.62 923.30 M397.95 928.02 L404.62 936.80 M397.95 941.52 L404.62 950.30 M397.95 955.02 L404.62 963.80 M397.95 968.52 L404.62 977.30 M397.95 982.02 L404.62 990.80 M397.95 995.52 L404.62 1004.30 M397.95 1009.02 L404.62 1017.80 M397.95 1022.52 L404.62 1031.30 M397.95 1036.03 L404.62 1044.80 M397.95 1049.53 L404.62 1058.30 M397.95 1063.03 L404.62 1071.80 M397.95 1076.53 L404.62 1085.30 M397.95 1090.03 L404.62 1098.80 M397.95 1103.53 L404.62 1112.30 M397.95 1117.03 L404.62 1125.80 M397.95 1130.53 L404.62 1139.30" stroke="#d2d6dc" stroke-width="3.9" stroke-linecap="round"/></g>
<g><rect x="539.60" y="826.64" width="26.00" height="320.71" fill="url(#colG)" opacity="0.9"/><path d="M552.6 823.6L515.9 828.7L515.9 829.9L552.6 826.2Z" fill="url(#sbL)" opacity="0.82"/><path d="M552.6 824.8L523.3 829.1L523.3 830.8L552.6 827.8Z" fill="url(#sbL)" opacity="0.79"/><path d="M552.6 825.8L515.2 831.1L515.2 832.1L552.6 827.9Z" fill="url(#sbL)" opacity="0.89"/><path d="M552.6 827.5L512.5 831.5L512.5 832.7L552.6 830.3Z" fill="url(#saL)" opacity="0.82"/><path d="M552.6 828L521.6 830.8L521.6 832.1L552.6 830.7Z" fill="url(#sbL)" opacity="0.75"/><path d="M552.6 829.1L515.7 832.7L515.7 834L552.6 831.8Z" fill="url(#saL)" opacity="0.78"/><path d="M552.6 830.4L514.8 832.5L514.8 833.7L552.6 833Z" fill="url(#sbL)" opacity="0.85"/><path d="M552.6 831.3L515 833.3L515 834.9L552.6 833.9Z" fill="url(#sbL)" opacity="0.89"/><path d="M552.6 833.2L515.5 835.4L515.5 836.1L552.6 835Z" fill="url(#sbL)" opacity="0.92"/><path d="M552.6 833.9L514.8 834.9L514.8 836.1L552.6 836.3Z" fill="url(#scL)" opacity="0.79"/><path d="M552.6 834.5L522.9 835.5L522.9 836.8L552.6 836.8Z" fill="url(#saL)" opacity="0.92"/><path d="M552.6 835.8L520.9 836.6L520.9 837.9L552.6 838.4Z" fill="url(#sbL)" opacity="0.91"/><path d="M552.6 837.1L524.5 837.5L524.5 839L552.6 839.4Z" fill="url(#saL)" opacity="0.90"/><path d="M552.6 837.5L519.3 837.1L519.3 838.5L552.6 840Z" fill="url(#sbL)" opacity="0.92"/><path d="M540.6 836.2L517.7 836.4" stroke="#fff" stroke-width="0.8" opacity="0.34"/><path d="M545.7 826.4L525.1 827.9" stroke="#fff" stroke-width="1.1" opacity="0.40"/><path d="M542 830.8L514.9 831.3" stroke="#fff" stroke-width="1.2" opacity="0.34"/><path d="M552.6 842.6L529.2 841.4" stroke="#7fb6e4" stroke-width="0.8" opacity=".55"/><path d="M552.6 838L516.2 838" stroke="#5c9fdc" stroke-width="1.4" opacity=".55"/><path d="M552.6 838.3L515.9 839.9" stroke="#a6c3de" stroke-width="1.2" opacity=".55"/><path d="M552.6 838.3L521.5 838.3" stroke="#a6c3de" stroke-width="1.4" opacity=".55"/><path d="M552.6 825.3L575.8 833.3L575.8 834.5L552.6 827.4Z" fill="url(#sbR)" opacity="0.94"/><path d="M552.6 825.8L581.4 832L581.4 833.4L552.6 828.3Z" fill="url(#sbR)" opacity="0.89"/><path d="M552.6 827.1L582.5 834L582.5 835.5L552.6 829.9Z" fill="url(#sbR)" opacity="0.82"/><path d="M552.6 827.9L584.4 834.2L584.4 835.1L552.6 830.2Z" fill="url(#scR)" opacity="0.91"/><path d="M552.6 829.6L584.9 833.3L584.9 834.1L552.6 831.9Z" fill="url(#saR)" opacity="0.81"/><path d="M552.6 829.9L590.4 833.9L590.4 834.8L552.6 832.7Z" fill="url(#saR)" opacity="0.88"/><path d="M552.6 831.1L584.2 833.1L584.2 834.4L552.6 833.6Z" fill="url(#sdR)" opacity="0.77"/><path d="M552.6 832.8L586.3 834.1L586.3 834.9L552.6 835Z" fill="url(#saR)" opacity="0.78"/><path d="M552.6 833.6L583.4 834.2L583.4 835.4L552.6 835.5Z" fill="url(#sdR)" opacity="0.84"/><path d="M552.6 834.3L593.3 835.5L593.3 837.1L552.6 836.6Z" fill="url(#sbR)" opacity="0.93"/><path d="M552.6 835.5L586.4 834.5L586.4 836L552.6 837.9Z" fill="url(#saR)" opacity="0.77"/><path d="M552.6 836.8L589.9 834.8L589.9 835.7L552.6 839.4Z" fill="url(#scR)" opacity="0.90"/><path d="M552.6 837.2L584.6 835.5L584.6 836.9L552.6 839.6Z" fill="url(#saR)" opacity="0.85"/><path d="M552.6 838.2L591.9 836.5L591.9 837.7L552.6 841.1Z" fill="url(#sbR)" opacity="0.89"/><path d="M565.3 835.7L584.5 837.2" stroke="#fff" stroke-width="1.0" opacity="0.48"/><path d="M564.2 835.3L585.8 835.6" stroke="#fff" stroke-width="1.0" opacity="0.37"/><path d="M564 838.7L590.4 839.6" stroke="#fff" stroke-width="0.8" opacity="0.47"/><path d="M552.6 842.9L593 841.9" stroke="#5c9fdc" stroke-width="1.3" opacity=".55"/><path d="M552.6 842.8L591.5 841.1" stroke="#7fb6e4" stroke-width="1.4" opacity=".55"/><path d="M552.6 842.8L588.9 842.6" stroke="#7fb6e4" stroke-width="1.3" opacity=".55"/><path d="M552.6 839.3L584.4 839.7" stroke="#b8c4d0" stroke-width="1.3" opacity=".55"/><path d="M552.6 841.9L526.4 849.2L526.4 850.8L552.6 844.5Z" fill="url(#saL)" opacity="0.91"/><path d="M552.6 843.4L518 850.4L518 851.6L552.6 845.4Z" fill="url(#scL)" opacity="0.89"/><path d="M552.6 844.6L512.9 851.2L512.9 852.1L552.6 846.5Z" fill="url(#saL)" opacity="0.77"/><path d="M552.6 845.7L519.8 851.1L519.8 852.5L552.6 848.6Z" fill="url(#scL)" opacity="0.90"/><path d="M552.6 846.3L523.3 852.2L523.3 854L552.6 849Z" fill="url(#sbL)" opacity="0.91"/><path d="M552.6 847.2L512.1 852.4L512.1 854L552.6 849.6Z" fill="url(#saL)" opacity="0.78"/><path d="M552.6 848.9L512.5 854.3L512.5 855.7L552.6 851.4Z" fill="url(#scL)" opacity="0.93"/><path d="M552.6 849.9L518.4 853.8L518.4 855.6L552.6 852.6Z" fill="url(#sbL)" opacity="0.76"/><path d="M552.6 850.5L517.5 855.3L517.5 856.1L552.6 852.6Z" fill="url(#saL)" opacity="0.82"/><path d="M552.6 852.1L518.4 854.7L518.4 855.8L552.6 854.7Z" fill="url(#sbL)" opacity="0.90"/><path d="M552.6 852.1L517.6 855.6L517.6 857.1L552.6 854.9Z" fill="url(#sbL)" opacity="0.77"/><path d="M552.6 854.1L520.1 857.3L520.1 858.5L552.6 856.5Z" fill="url(#sbL)" opacity="0.86"/><path d="M552.6 854.9L521.7 857.6L521.7 859.2L552.6 857.8Z" fill="url(#saL)" opacity="0.92"/><path d="M552.6 856.2L520 857.2L520 858.5L552.6 858.2Z" fill="url(#sbL)" opacity="0.92"/><path d="M536.4 849.3L517.8 851.1" stroke="#fff" stroke-width="0.7" opacity="0.38"/><path d="M537.8 851.6L515.6 853.2" stroke="#fff" stroke-width="0.6" opacity="0.45"/><path d="M539.9 852.6L516.8 855.1" stroke="#fff" stroke-width="1.0" opacity="0.50"/><path d="M552.6 856.5L513.1 857.1" stroke="#7fb6e4" stroke-width="0.9" opacity=".55"/><path d="M552.6 860.5L530.4 862.1" stroke="#5c9fdc" stroke-width="1.0" opacity=".55"/><path d="M552.6 859.1L523 857.3" stroke="#b8c4d0" stroke-width="1.1" opacity=".55"/><path d="M552.6 861L514.4 862" stroke="#7fb6e4" stroke-width="1.3" opacity=".55"/><path d="M552.6 843.2L585 848L585 848.9L552.6 845.2Z" fill="url(#sdR)" opacity="0.77"/><path d="M552.6 844.4L590.1 849.9L590.1 850.9L552.6 846.3Z" fill="url(#saR)" opacity="0.90"/><path d="M552.6 845.6L591.2 849.5L591.2 850.2L552.6 847.8Z" fill="url(#saR)" opacity="0.93"/><path d="M552.6 846.9L593.8 850.2L593.8 851.4L552.6 849.4Z" fill="url(#scR)" opacity="0.94"/><path d="M552.6 847.8L586.7 850.3L586.7 851.2L552.6 849.7Z" fill="url(#saR)" opacity="0.88"/><path d="M552.6 848.9L588.7 849.9L588.7 850.7L552.6 851.4Z" fill="url(#sbR)" opacity="0.94"/><path d="M552.6 849.1L589.9 849.4L589.9 850.7L552.6 851.6Z" fill="url(#scR)" opacity="0.83"/><path d="M552.6 850.8L587 851L587 852.5L552.6 853.3Z" fill="url(#sbR)" opacity="0.83"/><path d="M552.6 851.9L588.5 851.2L588.5 852.9L552.6 854.4Z" fill="url(#saR)" opacity="0.87"/><path d="M552.6 852.8L587.1 850.8L587.1 852L552.6 855.4Z" fill="url(#sbR)" opacity="0.90"/><path d="M552.6 853.5L583.3 850.6L583.3 851.7L552.6 855.7Z" fill="url(#scR)" opacity="0.85"/><path d="M552.6 854.7L589 850.5L589 851.5L552.6 857.6Z" fill="url(#sdR)" opacity="0.85"/><path d="M552.6 855.4L587.3 851.1L587.3 852L552.6 858.1Z" fill="url(#scR)" opacity="0.87"/><path d="M552.6 856.6L584.4 852.1L584.4 853.3L552.6 858.8Z" fill="url(#saR)" opacity="0.93"/><path d="M561.5 854.8L579.5 855.5" stroke="#fff" stroke-width="1.2" opacity="0.46"/><path d="M564.9 849.7L579.2 850.3" stroke="#fff" stroke-width="1.3" opacity="0.51"/><path d="M563.2 850.4L585.8 850.1" stroke="#fff" stroke-width="1.2" opacity="0.48"/><path d="M552.6 860.8L587.4 859.4" stroke="#7fb6e4" stroke-width="0.9" opacity=".55"/><path d="M552.6 859.6L590 858.6" stroke="#5c9fdc" stroke-width="1.2" opacity=".55"/><path d="M552.6 860.5L575.1 861.4" stroke="#5c9fdc" stroke-width="0.9" opacity=".55"/><path d="M552.6 857.6L578.7 859.2" stroke="#a6c3de" stroke-width="1.3" opacity=".55"/><path d="M552.6 860.6L527 864.6L527 865.7L552.6 862.6Z" fill="url(#scL)" opacity="0.85"/><path d="M552.6 861.7L516.8 865.8L516.8 867.6L552.6 864.3Z" fill="url(#saL)" opacity="0.86"/><path d="M552.6 862.6L521.7 866.4L521.7 867.4L552.6 864.5Z" fill="url(#saL)" opacity="0.94"/><path d="M552.6 864.2L512.1 868.3L512.1 869.2L552.6 866.5Z" fill="url(#sbL)" opacity="0.94"/><path d="M552.6 864.9L520.5 868.4L520.5 869.2L552.6 867Z" fill="url(#saL)" opacity="0.83"/><path d="M552.6 865.7L515.2 868.4L515.2 869.7L552.6 868Z" fill="url(#scL)" opacity="0.77"/><path d="M552.6 866.1L521.2 869.5L521.2 870.9L552.6 869Z" fill="url(#saL)" opacity="0.91"/><path d="M552.6 867.8L512.2 869.1L512.2 870.2L552.6 869.8Z" fill="url(#saL)" opacity="0.93"/><path d="M552.6 869.4L518.8 870.6L518.8 871.8L552.6 871.5Z" fill="url(#sbL)" opacity="0.88"/><path d="M552.6 869.8L514.7 870.5L514.7 872.1L552.6 872.4Z" fill="url(#saL)" opacity="0.76"/><path d="M552.6 870.8L520.7 871.5L520.7 872.8L552.6 873.3Z" fill="url(#sbL)" opacity="0.77"/><path d="M552.6 872.6L520.3 872.1L520.3 873.3L552.6 874.6Z" fill="url(#scL)" opacity="0.79"/><path d="M552.6 873.7L516.7 873.2L516.7 873.9L552.6 875.8Z" fill="url(#scL)" opacity="0.88"/><path d="M552.6 874L519.4 873.3L519.4 874.3L552.6 876.4Z" fill="url(#sbL)" opacity="0.82"/><path d="M537.3 870.8L521.6 872.2" stroke="#fff" stroke-width="0.7" opacity="0.44"/><path d="M539.5 866.5L524 866.7" stroke="#fff" stroke-width="0.8" opacity="0.47"/><path d="M537.2 871.1L522.4 871" stroke="#fff" stroke-width="1.2" opacity="0.33"/><path d="M552.6 877.9L522.4 877.7" stroke="#7fb6e4" stroke-width="1.4" opacity=".55"/><path d="M552.6 874.2L524.1 873.4" stroke="#7fb6e4" stroke-width="0.9" opacity=".55"/><path d="M552.6 877.1L523.4 875.3" stroke="#a6c3de" stroke-width="0.8" opacity=".55"/><path d="M552.6 877.2L526.8 876.7" stroke="#b8c4d0" stroke-width="1.3" opacity=".55"/><path d="M552.6 861.4L581.7 867.8L581.7 869.7L552.6 864.1Z" fill="url(#saR)" opacity="0.81"/><path d="M552.6 862.4L583.8 868.6L583.8 869.9L552.6 864.8Z" fill="url(#sbR)" opacity="0.86"/><path d="M552.6 863.1L590.9 868L590.9 868.9L552.6 865.4Z" fill="url(#saR)" opacity="0.82"/><path d="M552.6 865L586.9 869.5L586.9 870.2L552.6 867.3Z" fill="url(#sdR)" opacity="0.78"/><path d="M552.6 866L590.2 869.1L590.2 869.8L552.6 868.1Z" fill="url(#sbR)" opacity="0.82"/><path d="M552.6 866.8L586.4 870.2L586.4 871.5L552.6 869.1Z" fill="url(#sbR)" opacity="0.82"/><path d="M552.6 867.8L592.5 869.3L592.5 870.5L552.6 870Z" fill="url(#saR)" opacity="0.84"/><path d="M552.6 868.5L591.3 869.9L591.3 870.9L552.6 871.4Z" fill="url(#sbR)" opacity="0.82"/><path d="M552.6 869.6L590.4 870.5L590.4 872L552.6 872.5Z" fill="url(#scR)" opacity="0.78"/><path d="M552.6 870.4L589.9 869.2L589.9 870.4L552.6 872.9Z" fill="url(#saR)" opacity="0.86"/><path d="M552.6 871.4L591.4 870.4L591.4 872.3L552.6 874.3Z" fill="url(#sdR)" opacity="0.76"/><path d="M552.6 873.2L587.1 871.1L587.1 872.1L552.6 875.1Z" fill="url(#sbR)" opacity="0.76"/><path d="M552.6 874.1L584.4 871.7L584.4 872.6L552.6 876.8Z" fill="url(#sbR)" opacity="0.95"/><path d="M552.6 874.9L583.1 871.1L583.1 871.8L552.6 877.4Z" fill="url(#saR)" opacity="0.75"/><path d="M563.7 873.5L583.8 872.9" stroke="#fff" stroke-width="0.7" opacity="0.25"/><path d="M559.3 874.2L582.1 874.5" stroke="#fff" stroke-width="1.0" opacity="0.32"/><path d="M565.4 871.2L591.7 870.8" stroke="#fff" stroke-width="0.8" opacity="0.28"/><path d="M552.6 875.6L577.7 873.7" stroke="#5c9fdc" stroke-width="0.9" opacity=".55"/><path d="M552.6 878.1L590.1 879.3" stroke="#7fb6e4" stroke-width="1.2" opacity=".55"/><path d="M552.6 874.3L582.9 876.1" stroke="#b8c4d0" stroke-width="0.8" opacity=".55"/><path d="M552.6 874.5L574.9 873.8" stroke="#b8c4d0" stroke-width="1.1" opacity=".55"/><path d="M552.6 878.4L529.1 885.3L529.1 886.4L552.6 880.7Z" fill="url(#scL)" opacity="0.84"/><path d="M552.6 880.2L521.7 887.4L521.7 888.3L552.6 882.5Z" fill="url(#scL)" opacity="0.76"/><path d="M552.6 880.6L517.6 886L517.6 887.1L552.6 883.2Z" fill="url(#saL)" opacity="0.92"/><path d="M552.6 882.1L522.3 887.1L522.3 888.4L552.6 884.1Z" fill="url(#sbL)" opacity="0.77"/><path d="M552.6 882.5L515 887.6L515 889.2L552.6 885.2Z" fill="url(#saL)" opacity="0.78"/><path d="M552.6 883.6L520.6 888.7L520.6 889.6L552.6 886.1Z" fill="url(#sdL)" opacity="0.89"/><path d="M552.6 885.6L520.9 889.1L520.9 890.1L552.6 887.5Z" fill="url(#saL)" opacity="0.89"/><path d="M552.6 885.9L514.1 890.3L514.1 892.1L552.6 888.8Z" fill="url(#scL)" opacity="0.80"/><path d="M552.6 887.3L514.8 891.3L514.8 892.7L552.6 889.6Z" fill="url(#saL)" opacity="0.84"/><path d="M552.6 888.7L521.8 892.6L521.8 893.9L552.6 891Z" fill="url(#sbL)" opacity="0.95"/><path d="M552.6 889.5L517.8 892.2L517.8 893.1L552.6 891.5Z" fill="url(#sbL)" opacity="0.80"/><path d="M552.6 891.1L520.1 893.9L520.1 894.8L552.6 893.1Z" fill="url(#sdL)" opacity="0.94"/><path d="M552.6 891.5L519.1 893.9L519.1 894.9L552.6 893.7Z" fill="url(#sbL)" opacity="0.78"/><path d="M552.6 892L519.2 894.5L519.2 896.1L552.6 894.3Z" fill="url(#sdL)" opacity="0.93"/><path d="M544.1 887.2L515.1 888.9" stroke="#fff" stroke-width="0.8" opacity="0.53"/><path d="M541.8 892.7L514.6 895.5" stroke="#fff" stroke-width="1.0" opacity="0.33"/><path d="M541.4 882.7L520.9 885.1" stroke="#fff" stroke-width="0.7" opacity="0.54"/><path d="M552.6 897.6L530.1 897.7" stroke="#7fb6e4" stroke-width="1.2" opacity=".55"/><path d="M552.6 894.1L519.5 893.8" stroke="#b8c4d0" stroke-width="1.2" opacity=".55"/><path d="M552.6 895.4L518.1 894.9" stroke="#a6c3de" stroke-width="0.9" opacity=".55"/><path d="M552.6 894.7L517.9 894.5" stroke="#b8c4d0" stroke-width="1.1" opacity=".55"/><path d="M552.6 879.9L581.7 885.7L581.7 887L552.6 881.8Z" fill="url(#scR)" opacity="0.84"/><path d="M552.6 880.6L583.2 886.7L583.2 887.5L552.6 882.6Z" fill="url(#sdR)" opacity="0.89"/><path d="M552.6 882.3L588.4 887.6L588.4 888.9L552.6 884.9Z" fill="url(#scR)" opacity="0.80"/><path d="M552.6 882.7L592 887.5L592 888.9L552.6 885.5Z" fill="url(#sdR)" opacity="0.86"/><path d="M552.6 884.4L591.4 887.1L591.4 888.3L552.6 886.5Z" fill="url(#sbR)" opacity="0.81"/><path d="M552.6 884.9L582.7 887.1L582.7 888.5L552.6 887.5Z" fill="url(#sbR)" opacity="0.81"/><path d="M552.6 885.9L584.5 887.2L584.5 888.2L552.6 888.5Z" fill="url(#sdR)" opacity="0.82"/><path d="M552.6 886.7L591.1 888.6L591.1 889.4L552.6 888.9Z" fill="url(#sbR)" opacity="0.87"/><path d="M552.6 888.4L590.1 887.5L590.1 889L552.6 890.5Z" fill="url(#scR)" opacity="0.78"/><path d="M552.6 889.1L585.1 887.8L585.1 889.3L552.6 891.5Z" fill="url(#saR)" opacity="0.89"/><path d="M552.6 890.3L584.9 889.5L584.9 891.2L552.6 892.8Z" fill="url(#sbR)" opacity="0.77"/><path d="M552.6 890.9L588.1 889.2L588.1 890L552.6 893.3Z" fill="url(#sbR)" opacity="0.78"/><path d="M552.6 891.8L582.6 889.4L582.6 890.6L552.6 894.4Z" fill="url(#sdR)" opacity="0.83"/><path d="M552.6 893.2L577 888.9L577 890.4L552.6 895.6Z" fill="url(#sbR)" opacity="0.82"/><path d="M560.3 888.2L583.4 889.4" stroke="#fff" stroke-width="1.2" opacity="0.50"/><path d="M561.2 892.6L578.2 892.4" stroke="#fff" stroke-width="1.1" opacity="0.41"/><path d="M566.2 886.1L580.6 886.8" stroke="#fff" stroke-width="0.9" opacity="0.29"/><path d="M552.6 896.5L577.1 897.7" stroke="#b8c4d0" stroke-width="1.3" opacity=".55"/><path d="M552.6 892.6L585.6 891.8" stroke="#b8c4d0" stroke-width="1.0" opacity=".55"/><path d="M552.6 895.3L580.9 894.4" stroke="#a6c3de" stroke-width="0.8" opacity=".55"/><path d="M552.6 894.5L586.7 892.7" stroke="#a6c3de" stroke-width="0.9" opacity=".55"/><path d="M552.6 897.4L528.2 902.6L528.2 903.8L552.6 899.7Z" fill="url(#sbL)" opacity="0.83"/><path d="M552.6 898L521.4 902.1L521.4 903.4L552.6 900Z" fill="url(#sdL)" opacity="0.93"/><path d="M552.6 898.8L513.9 902.8L513.9 903.7L552.6 901Z" fill="url(#saL)" opacity="0.85"/><path d="M552.6 900.5L518.6 904.8L518.6 905.6L552.6 902.4Z" fill="url(#saL)" opacity="0.91"/><path d="M552.6 901.6L521.9 905L521.9 906L552.6 903.9Z" fill="url(#saL)" opacity="0.77"/><path d="M552.6 902.5L518.1 905.7L518.1 906.7L552.6 904.7Z" fill="url(#saL)" opacity="0.82"/><path d="M552.6 903.5L518.1 906.2L518.1 907.1L552.6 905.6Z" fill="url(#scL)" opacity="0.77"/><path d="M552.6 904.3L519.1 907L519.1 908.7L552.6 907.2Z" fill="url(#sbL)" opacity="0.87"/><path d="M552.6 905.3L516.5 907.8L516.5 908.8L552.6 908Z" fill="url(#scL)" opacity="0.94"/><path d="M552.6 906.3L517.1 907.8L517.1 908.8L552.6 909Z" fill="url(#sbL)" opacity="0.77"/><path d="M552.6 908L516.7 909.7L516.7 910.7L552.6 910.3Z" fill="url(#sdL)" opacity="0.75"/><path d="M552.6 908.4L514.6 908.7L514.6 909.4L552.6 910.8Z" fill="url(#sdL)" opacity="0.87"/><path d="M552.6 910.1L525.3 909.8L525.3 911.2L552.6 912.1Z" fill="url(#sbL)" opacity="0.76"/><path d="M552.6 910.1L519.3 911.1L519.3 912L552.6 912.6Z" fill="url(#saL)" opacity="0.82"/><path d="M540 908.4L519.9 910.2" stroke="#fff" stroke-width="0.9" opacity="0.42"/><path d="M542.9 906.1L515.2 906.9" stroke="#fff" stroke-width="0.9" opacity="0.26"/><path d="M537.3 904.3L528 905.5" stroke="#fff" stroke-width="0.7" opacity="0.41"/><path d="M552.6 914.5L531.2 915.4" stroke="#7fb6e4" stroke-width="0.7" opacity=".55"/><path d="M552.6 914.9L514.7 913.3" stroke="#a6c3de" stroke-width="1.1" opacity=".55"/><path d="M552.6 913.1L530.9 914.5" stroke="#b8c4d0" stroke-width="0.8" opacity=".55"/><path d="M552.6 915.4L531.1 915.8" stroke="#b8c4d0" stroke-width="1.2" opacity=".55"/><path d="M552.6 897.8L585.6 906.3L585.6 908.2L552.6 900.6Z" fill="url(#saR)" opacity="0.95"/><path d="M552.6 898.9L586.3 906.1L586.3 907.2L552.6 901.6Z" fill="url(#sbR)" opacity="0.80"/><path d="M552.6 900.5L592.8 907.3L592.8 908.4L552.6 902.6Z" fill="url(#sbR)" opacity="0.81"/><path d="M552.6 901.1L587.6 906.6L587.6 907.4L552.6 903.6Z" fill="url(#scR)" opacity="0.94"/><path d="M552.6 902.1L592.9 907.6L592.9 908.9L552.6 904.3Z" fill="url(#sbR)" opacity="0.89"/><path d="M552.6 903.2L590.6 908.3L590.6 909.1L552.6 905.1Z" fill="url(#saR)" opacity="0.93"/><path d="M552.6 904.6L591.7 907.6L591.7 909.1L552.6 907Z" fill="url(#saR)" opacity="0.86"/><path d="M552.6 904.8L589.6 907.8L589.6 908.7L552.6 907.1Z" fill="url(#sbR)" opacity="0.94"/><path d="M552.6 906.3L593.7 907.5L593.7 909L552.6 909.2Z" fill="url(#sbR)" opacity="0.90"/><path d="M552.6 906.8L586.1 909L586.1 909.9L552.6 909.3Z" fill="url(#sbR)" opacity="0.82"/><path d="M552.6 908.6L590.5 909L590.5 910.1L552.6 911.3Z" fill="url(#sbR)" opacity="0.82"/><path d="M552.6 909.1L593.7 908.6L593.7 909.9L552.6 912Z" fill="url(#sdR)" opacity="0.81"/><path d="M552.6 910.4L577.2 908.6L577.2 909.7L552.6 912.7Z" fill="url(#scR)" opacity="0.77"/><path d="M552.6 911.9L579.9 908.8L579.9 909.8L552.6 913.9Z" fill="url(#sbR)" opacity="0.86"/><path d="M563 906.5L585.4 908.2" stroke="#fff" stroke-width="1.0" opacity="0.40"/><path d="M560.7 904.1L580.5 904.4" stroke="#fff" stroke-width="0.8" opacity="0.26"/><path d="M564.7 904.9L579.1 906.5" stroke="#fff" stroke-width="0.9" opacity="0.44"/><path d="M552.6 912.8L589.7 913.5" stroke="#7fb6e4" stroke-width="1.3" opacity=".55"/><path d="M552.6 914.7L576.2 914.3" stroke="#a6c3de" stroke-width="1.0" opacity=".55"/><path d="M552.6 914.1L582.6 915.1" stroke="#b8c4d0" stroke-width="0.7" opacity=".55"/><path d="M552.6 912.7L582.3 913.4" stroke="#a6c3de" stroke-width="1.4" opacity=".55"/><path d="M552.6 914.8L528.7 920.3L528.7 921.6L552.6 916.9Z" fill="url(#saL)" opacity="0.80"/><path d="M552.6 916.1L522.4 920.1L522.4 921.7L552.6 918.8Z" fill="url(#scL)" opacity="0.87"/><path d="M552.6 917.6L516.4 921.7L516.4 922.4L552.6 920.1Z" fill="url(#scL)" opacity="0.87"/><path d="M552.6 918.6L518.4 922.1L518.4 923.5L552.6 921.1Z" fill="url(#sbL)" opacity="0.88"/><path d="M552.6 919.6L517.9 922.7L517.9 924L552.6 921.5Z" fill="url(#sdL)" opacity="0.91"/><path d="M552.6 920L519.3 923.5L519.3 925.2L552.6 922.8Z" fill="url(#saL)" opacity="0.86"/><path d="M552.6 921.5L518.6 924.1L518.6 925.1L552.6 923.5Z" fill="url(#sbL)" opacity="0.91"/><path d="M552.6 922.9L512.1 925.5L512.1 926.7L552.6 924.8Z" fill="url(#saL)" opacity="0.76"/><path d="M552.6 923.6L517.7 924.7L517.7 925.3L552.6 925.4Z" fill="url(#saL)" opacity="0.78"/><path d="M552.6 924.9L519.4 926.4L519.4 927.8L552.6 927.4Z" fill="url(#sbL)" opacity="0.78"/><path d="M552.6 925.6L518.9 926.1L518.9 927.2L552.6 928.3Z" fill="url(#sdL)" opacity="0.83"/><path d="M552.6 926.4L520.4 926.7L520.4 927.4L552.6 928.5Z" fill="url(#sbL)" opacity="0.93"/><path d="M552.6 928.4L525 928.5L525 929.1L552.6 930.3Z" fill="url(#saL)" opacity="0.86"/><path d="M552.6 929.1L517.5 929L517.5 930.2L552.6 930.9Z" fill="url(#scL)" opacity="0.88"/><path d="M543.4 918L520 918.8" stroke="#fff" stroke-width="0.8" opacity="0.27"/><path d="M539.7 927.6L524 928.5" stroke="#fff" stroke-width="1.2" opacity="0.29"/><path d="M544.1 924.8L515.4 926.3" stroke="#fff" stroke-width="1.3" opacity="0.36"/><path d="M552.6 931.5L525.8 930.9" stroke="#b8c4d0" stroke-width="1.4" opacity=".55"/><path d="M552.6 934.1L513.9 934.1" stroke="#b8c4d0" stroke-width="0.8" opacity=".55"/><path d="M552.6 930.2L515.2 930.2" stroke="#a6c3de" stroke-width="0.9" opacity=".55"/><path d="M552.6 932.9L530.9 933.5" stroke="#5c9fdc" stroke-width="1.4" opacity=".55"/><path d="M552.6 916.2L585.1 924.3L585.1 925.2L552.6 918.8Z" fill="url(#saR)" opacity="0.94"/><path d="M552.6 916.8L579 923.9L579 925.4L552.6 919.6Z" fill="url(#saR)" opacity="0.94"/><path d="M552.6 918.6L588.1 925.2L588.1 926.5L552.6 920.6Z" fill="url(#saR)" opacity="0.94"/><path d="M552.6 919.4L588.3 924.4L588.3 926L552.6 922.2Z" fill="url(#scR)" opacity="0.84"/><path d="M552.6 920.4L586.4 924L586.4 925.5L552.6 922.8Z" fill="url(#sbR)" opacity="0.84"/><path d="M552.6 921.5L590.4 925.5L590.4 927.4L552.6 924.2Z" fill="url(#saR)" opacity="0.79"/><path d="M552.6 922.5L589 925.5L589 927.4L552.6 925.4Z" fill="url(#saR)" opacity="0.90"/><path d="M552.6 923.4L587.4 926L587.4 927.2L552.6 925.5Z" fill="url(#sbR)" opacity="0.81"/><path d="M552.6 925L591.7 926.1L591.7 927.3L552.6 927Z" fill="url(#scR)" opacity="0.81"/><path d="M552.6 925.5L587.5 926.8L587.5 928.4L552.6 927.9Z" fill="url(#saR)" opacity="0.81"/><path d="M552.6 926.7L593.6 926.6L593.6 928L552.6 929.4Z" fill="url(#sbR)" opacity="0.91"/><path d="M552.6 928.2L582.4 926.1L582.4 927.3L552.6 930.3Z" fill="url(#saR)" opacity="0.93"/><path d="M552.6 929L580.5 927.8L580.5 928.4L552.6 930.8Z" fill="url(#saR)" opacity="0.90"/><path d="M552.6 929.8L582.4 927.2L582.4 928.6L552.6 932.4Z" fill="url(#scR)" opacity="0.84"/><path d="M560 920.7L578.7 920.9" stroke="#fff" stroke-width="0.9" opacity="0.28"/><path d="M568.3 928.1L586.9 930.1" stroke="#fff" stroke-width="1.0" opacity="0.51"/><path d="M563.1 927.3L590 928.6" stroke="#fff" stroke-width="1.0" opacity="0.39"/><path d="M552.6 930.3L577 929.2" stroke="#b8c4d0" stroke-width="1.2" opacity=".55"/><path d="M552.6 930.1L581.6 930.5" stroke="#b8c4d0" stroke-width="1.2" opacity=".55"/><path d="M552.6 931.2L581.5 930.1" stroke="#a6c3de" stroke-width="1.0" opacity=".55"/><path d="M552.6 929.9L583.9 931.9" stroke="#7fb6e4" stroke-width="0.8" opacity=".55"/><path d="M552.6 933.3L520.1 939.3L520.1 940.2L552.6 935.8Z" fill="url(#saL)" opacity="0.94"/><path d="M552.6 934.3L522 939.9L522 941.1L552.6 936.8Z" fill="url(#sdL)" opacity="0.88"/><path d="M552.6 935.4L515.2 940.7L515.2 941.7L552.6 937.6Z" fill="url(#scL)" opacity="0.84"/><path d="M552.6 936.1L516.9 940.2L516.9 941.5L552.6 938.4Z" fill="url(#scL)" opacity="0.86"/><path d="M552.6 937.6L518.6 943.1L518.6 944.1L552.6 940.1Z" fill="url(#saL)" opacity="0.89"/><path d="M552.6 939.2L519.3 943L519.3 944L552.6 941.6Z" fill="url(#saL)" opacity="0.91"/><path d="M552.6 940.2L517 943.7L517 944.5L552.6 942.4Z" fill="url(#sdL)" opacity="0.88"/><path d="M552.6 940.7L519.1 944.8L519.1 945.8L552.6 942.8Z" fill="url(#sbL)" opacity="0.91"/><path d="M552.6 941.3L521.4 945L521.4 945.8L552.6 943.9Z" fill="url(#saL)" opacity="0.77"/><path d="M552.6 942.9L514.9 945.8L514.9 946.9L552.6 944.9Z" fill="url(#saL)" opacity="0.89"/><path d="M552.6 943.8L519.8 945.4L519.8 946.4L552.6 946.2Z" fill="url(#sbL)" opacity="0.94"/><path d="M552.6 944.9L516.2 945.4L516.2 946.8L552.6 947.1Z" fill="url(#scL)" opacity="0.78"/><path d="M552.6 946L520.3 947.9L520.3 949.5L552.6 948.9Z" fill="url(#saL)" opacity="0.75"/><path d="M552.6 947.6L517.4 947.3L517.4 948L552.6 949.6Z" fill="url(#sbL)" opacity="0.82"/><path d="M546.5 946.3L516.9 946.9" stroke="#fff" stroke-width="0.9" opacity="0.38"/><path d="M540 936.3L517 937.2" stroke="#fff" stroke-width="0.8" opacity="0.48"/><path d="M546.3 941.8L523.9 944.1" stroke="#fff" stroke-width="0.8" opacity="0.34"/><path d="M552.6 949.4L514.3 950.6" stroke="#b8c4d0" stroke-width="0.9" opacity=".55"/><path d="M552.6 949.8L518.9 951.3" stroke="#b8c4d0" stroke-width="0.8" opacity=".55"/><path d="M552.6 947.1L515 945.9" stroke="#7fb6e4" stroke-width="0.8" opacity=".55"/><path d="M552.6 948.3L514.8 948.5" stroke="#5c9fdc" stroke-width="1.2" opacity=".55"/><path d="M552.6 934.4L581 941.2L581 941.9L552.6 936.6Z" fill="url(#saR)" opacity="0.83"/><path d="M552.6 935.2L581.9 940.5L581.9 941.4L552.6 937.6Z" fill="url(#scR)" opacity="0.94"/><path d="M552.6 936.4L586.5 940.7L586.5 941.9L552.6 938.8Z" fill="url(#saR)" opacity="0.85"/><path d="M552.6 937.5L587.6 942L587.6 942.7L552.6 939.5Z" fill="url(#sbR)" opacity="0.80"/><path d="M552.6 938.6L583.4 940.8L583.4 942.6L552.6 941.3Z" fill="url(#sdR)" opacity="0.76"/><path d="M552.6 939.6L586.4 942.3L586.4 943.7L552.6 942.2Z" fill="url(#sbR)" opacity="0.87"/><path d="M552.6 940.2L591.1 942.4L591.1 943.8L552.6 942.6Z" fill="url(#sdR)" opacity="0.89"/><path d="M552.6 941.5L591.5 941.5L591.5 942.2L552.6 943.6Z" fill="url(#scR)" opacity="0.77"/><path d="M552.6 942.5L583.9 943.1L583.9 944.5L552.6 945Z" fill="url(#sdR)" opacity="0.86"/><path d="M552.6 944.5L586.8 942.3L586.8 943.3L552.6 946.4Z" fill="url(#sbR)" opacity="0.89"/><path d="M552.6 944.8L584.3 942.9L584.3 944.4L552.6 947.4Z" fill="url(#sbR)" opacity="0.76"/><path d="M552.6 946.1L585 942.7L585 943.7L552.6 948.5Z" fill="url(#saR)" opacity="0.93"/><path d="M552.6 947.8L583.6 944.2L583.6 945L552.6 949.6Z" fill="url(#sbR)" opacity="0.87"/><path d="M552.6 947.5L579.8 944L579.8 945.5L552.6 950.1Z" fill="url(#saR)" opacity="0.79"/><path d="M562.7 938.5L580.5 938.7" stroke="#fff" stroke-width="1.1" opacity="0.32"/><path d="M561.9 943.5L580.1 944.1" stroke="#fff" stroke-width="1.1" opacity="0.29"/><path d="M567.8 936.9L585.9 937.2" stroke="#fff" stroke-width="1.0" opacity="0.31"/><path d="M552.6 947L581 948.5" stroke="#7fb6e4" stroke-width="1.4" opacity=".55"/><path d="M552.6 947.3L589.6 948.9" stroke="#a6c3de" stroke-width="0.9" opacity=".55"/><path d="M552.6 949.9L593.4 951.5" stroke="#b8c4d0" stroke-width="1.1" opacity=".55"/><path d="M552.6 951.9L576.1 952.8" stroke="#7fb6e4" stroke-width="0.9" opacity=".55"/><path d="M552.6 952L520.4 957.9L520.4 958.9L552.6 954.1Z" fill="url(#saL)" opacity="0.76"/><path d="M552.6 953L518.9 957.8L518.9 958.5L552.6 955.4Z" fill="url(#saL)" opacity="0.91"/><path d="M552.6 954.2L521.5 958.4L521.5 960.2L552.6 956.8Z" fill="url(#saL)" opacity="0.95"/><path d="M552.6 955L518.4 959.7L518.4 960.8L552.6 957.2Z" fill="url(#sbL)" opacity="0.92"/><path d="M552.6 955.9L522.2 960L522.2 960.9L552.6 957.9Z" fill="url(#scL)" opacity="0.81"/><path d="M552.6 956.7L520.9 959.4L520.9 960.5L552.6 959.2Z" fill="url(#sbL)" opacity="0.87"/><path d="M552.6 957.5L522.4 960.4L522.4 961.2L552.6 960Z" fill="url(#scL)" opacity="0.83"/><path d="M552.6 958.8L512.6 961.2L512.6 962.2L552.6 961.3Z" fill="url(#saL)" opacity="0.91"/><path d="M552.6 959.9L519.6 962.9L519.6 964.3L552.6 962.4Z" fill="url(#saL)" opacity="0.77"/><path d="M552.6 961L519.7 963.6L519.7 965L552.6 963.8Z" fill="url(#sdL)" opacity="0.90"/><path d="M552.6 962.3L518.2 964.5L518.2 965.5L552.6 964.2Z" fill="url(#scL)" opacity="0.83"/><path d="M552.6 962.5L521.2 963.3L521.2 964.6L552.6 965.3Z" fill="url(#sdL)" opacity="0.78"/><path d="M552.6 963.8L518 965.4L518 966.6L552.6 966.4Z" fill="url(#saL)" opacity="0.75"/><path d="M552.6 965.3L519.7 966L519.7 967.6L552.6 967.7Z" fill="url(#saL)" opacity="0.87"/><path d="M537.4 954.4L518.2 956.4" stroke="#fff" stroke-width="1.0" opacity="0.44"/><path d="M538.9 964.3L519.2 964.6" stroke="#fff" stroke-width="0.6" opacity="0.47"/><path d="M542.6 963.8L525.2 964.9" stroke="#fff" stroke-width="1.2" opacity="0.48"/><path d="M552.6 965.8L528.2 964.7" stroke="#b8c4d0" stroke-width="0.9" opacity=".55"/><path d="M552.6 970L523.9 968.8" stroke="#b8c4d0" stroke-width="1.0" opacity=".55"/><path d="M552.6 967.4L520.3 967.6" stroke="#7fb6e4" stroke-width="1.0" opacity=".55"/><path d="M552.6 965.3L527.8 967.3" stroke="#5c9fdc" stroke-width="1.0" opacity=".55"/><path d="M552.6 953L586.7 960.6L586.7 962.2L552.6 955.8Z" fill="url(#scR)" opacity="0.93"/><path d="M552.6 953.7L583.6 960.1L583.6 961.7L552.6 956.3Z" fill="url(#sbR)" opacity="0.83"/><path d="M552.6 954.7L585.2 961.6L585.2 963.3L552.6 957.6Z" fill="url(#saR)" opacity="0.81"/><path d="M552.6 955.8L592.7 961.5L592.7 963.3L552.6 958.6Z" fill="url(#sdR)" opacity="0.92"/><path d="M552.6 957L586.2 961.2L586.2 962.3L552.6 959.6Z" fill="url(#sbR)" opacity="0.81"/><path d="M552.6 957.4L584.5 962.3L584.5 963.4L552.6 960.2Z" fill="url(#sbR)" opacity="0.90"/><path d="M552.6 958.6L592.7 961.4L592.7 962.6L552.6 961.2Z" fill="url(#saR)" opacity="0.89"/><path d="M552.6 959.4L586.2 962.6L586.2 963.5L552.6 962.3Z" fill="url(#scR)" opacity="0.88"/><path d="M552.6 961.2L583.1 963L583.1 964.2L552.6 963.9Z" fill="url(#saR)" opacity="0.76"/><path d="M552.6 962.8L584.5 963.7L584.5 964.5L552.6 964.6Z" fill="url(#saR)" opacity="0.81"/><path d="M552.6 963.9L588.9 962.5L588.9 963.3L552.6 965.8Z" fill="url(#sbR)" opacity="0.91"/><path d="M552.6 964.2L589.4 962.2L589.4 963.8L552.6 966.7Z" fill="url(#scR)" opacity="0.86"/><path d="M552.6 965.2L585.4 964.3L585.4 965.2L552.6 967.1Z" fill="url(#sbR)" opacity="0.93"/><path d="M552.6 966.5L584.5 963.5L584.5 964.7L552.6 969.1Z" fill="url(#sbR)" opacity="0.91"/><path d="M561 963.7L591.3 965.1" stroke="#fff" stroke-width="0.6" opacity="0.54"/><path d="M560.7 962.9L590.3 964.2" stroke="#fff" stroke-width="1.0" opacity="0.26"/><path d="M567 957.2L577.6 957.6" stroke="#fff" stroke-width="0.6" opacity="0.42"/><path d="M552.6 965.9L589.5 965.7" stroke="#a6c3de" stroke-width="0.8" opacity=".55"/><path d="M552.6 967.1L589.7 966.5" stroke="#7fb6e4" stroke-width="0.9" opacity=".55"/><path d="M552.6 968.6L578.6 969.5" stroke="#5c9fdc" stroke-width="1.2" opacity=".55"/><path d="M552.6 968.4L575.5 969.9" stroke="#a6c3de" stroke-width="1.3" opacity=".55"/><path d="M552.6 970L522.5 976.6L522.5 978L552.6 972.5Z" fill="url(#sdL)" opacity="0.82"/><path d="M552.6 971.1L521.9 976.4L521.9 977.6L552.6 973.2Z" fill="url(#saL)" opacity="0.87"/><path d="M552.6 972L514.5 976.6L514.5 977.5L552.6 974.7Z" fill="url(#saL)" opacity="0.89"/><path d="M552.6 973.4L514.5 978.6L514.5 980L552.6 975.9Z" fill="url(#scL)" opacity="0.94"/><path d="M552.6 973.9L517 978.4L517 979.7L552.6 976.4Z" fill="url(#scL)" opacity="0.84"/><path d="M552.6 974.8L516.2 978.2L516.2 980L552.6 977.5Z" fill="url(#saL)" opacity="0.79"/><path d="M552.6 975.9L521 978.7L521 979.4L552.6 977.9Z" fill="url(#sbL)" opacity="0.92"/><path d="M552.6 977.9L523.1 981.5L523.1 982.3L552.6 979.8Z" fill="url(#sbL)" opacity="0.77"/><path d="M552.6 978.2L522.9 980.4L522.9 981.7L552.6 980.2Z" fill="url(#saL)" opacity="0.93"/><path d="M552.6 979L517.4 980.9L517.4 982L552.6 981.1Z" fill="url(#scL)" opacity="0.84"/><path d="M552.6 980.4L521.3 983.3L521.3 984.6L552.6 982.9Z" fill="url(#scL)" opacity="0.91"/><path d="M552.6 981.6L512.8 983.3L512.8 984.9L552.6 983.8Z" fill="url(#sbL)" opacity="0.93"/><path d="M552.6 982.4L523.1 984.4L523.1 985.3L552.6 984.8Z" fill="url(#scL)" opacity="0.82"/><path d="M552.6 983.4L527.8 985L527.8 986L552.6 985.5Z" fill="url(#sbL)" opacity="0.84"/><path d="M544.2 978.1L515.6 979.3" stroke="#fff" stroke-width="0.9" opacity="0.47"/><path d="M536.4 982.3L521.4 983.5" stroke="#fff" stroke-width="1.2" opacity="0.38"/><path d="M541.7 974.3L523.9 975.2" stroke="#fff" stroke-width="1.1" opacity="0.35"/><path d="M552.6 986.8L526.2 985.2" stroke="#a6c3de" stroke-width="1.2" opacity=".55"/><path d="M552.6 987.2L519.9 985.9" stroke="#7fb6e4" stroke-width="1.3" opacity=".55"/><path d="M552.6 987.6L520.3 988.2" stroke="#a6c3de" stroke-width="1.0" opacity=".55"/><path d="M552.6 984.2L514.5 983.2" stroke="#a6c3de" stroke-width="1.0" opacity=".55"/><path d="M552.6 971L585.8 978.1L585.8 979L552.6 973.8Z" fill="url(#sbR)" opacity="0.77"/><path d="M552.6 971.3L577.6 978.3L577.6 979.4L552.6 974.1Z" fill="url(#saR)" opacity="0.90"/><path d="M552.6 972.6L584 979L584 979.9L552.6 974.8Z" fill="url(#scR)" opacity="0.80"/><path d="M552.6 974.3L584.5 979.8L584.5 981.3L552.6 976.7Z" fill="url(#sbR)" opacity="0.93"/><path d="M552.6 974.9L582.8 979.8L582.8 981.4L552.6 977.8Z" fill="url(#scR)" opacity="0.85"/><path d="M552.6 975.6L588.6 979.4L588.6 980.5L552.6 978.4Z" fill="url(#sbR)" opacity="0.93"/><path d="M552.6 977.2L582.4 980.4L582.4 981.1L552.6 979.5Z" fill="url(#saR)" opacity="0.80"/><path d="M552.6 978L589.9 979.6L589.9 981L552.6 980.2Z" fill="url(#saR)" opacity="0.75"/><path d="M552.6 979L588.6 980.7L588.6 981.7L552.6 981.9Z" fill="url(#sdR)" opacity="0.88"/><path d="M552.6 980.4L590.6 981.2L590.6 982.6L552.6 982.8Z" fill="url(#saR)" opacity="0.82"/><path d="M552.6 980.8L592.1 981.2L592.1 982.5L552.6 983.5Z" fill="url(#sbR)" opacity="0.90"/><path d="M552.6 983L585.3 980.5L585.3 981.4L552.6 985Z" fill="url(#scR)" opacity="0.83"/><path d="M552.6 983.8L582.2 980.2L582.2 981.1L552.6 985.6Z" fill="url(#sbR)" opacity="0.88"/><path d="M552.6 984.5L579.4 980.3L579.4 981.7L552.6 987.2Z" fill="url(#sbR)" opacity="0.81"/><path d="M565.9 978.2L581.1 979.6" stroke="#fff" stroke-width="1.0" opacity="0.30"/><path d="M559.4 980.6L584.9 981.4" stroke="#fff" stroke-width="1.1" opacity="0.50"/><path d="M568 982.3L581.4 983" stroke="#fff" stroke-width="1.1" opacity="0.28"/><path d="M552.6 984.1L584.2 984.4" stroke="#7fb6e4" stroke-width="1.0" opacity=".55"/><path d="M552.6 983.4L576.1 985" stroke="#5c9fdc" stroke-width="1.4" opacity=".55"/><path d="M552.6 986.3L593.1 987.1" stroke="#b8c4d0" stroke-width="1.3" opacity=".55"/><path d="M552.6 984L591.8 984.1" stroke="#5c9fdc" stroke-width="0.8" opacity=".55"/><path d="M552.6 988L521.4 992.5L521.4 994.4L552.6 990.7Z" fill="url(#sdL)" opacity="0.89"/><path d="M552.6 989.7L520.7 993.9L520.7 994.7L552.6 991.7Z" fill="url(#saL)" opacity="0.93"/><path d="M552.6 989.7L521.6 994.5L521.6 995.6L552.6 992.1Z" fill="url(#saL)" opacity="0.78"/><path d="M552.6 990.9L523.3 995.8L523.3 996.4L552.6 992.8Z" fill="url(#sbL)" opacity="0.79"/><path d="M552.6 992.5L514.3 996.2L514.3 997.6L552.6 995.1Z" fill="url(#scL)" opacity="0.76"/><path d="M552.6 993.1L521 996.4L521 997.1L552.6 995.1Z" fill="url(#scL)" opacity="0.78"/><path d="M552.6 994L514.8 997.4L514.8 998.7L552.6 996.3Z" fill="url(#sbL)" opacity="0.84"/><path d="M552.6 995.4L515.5 997.8L515.5 998.6L552.6 997.3Z" fill="url(#saL)" opacity="0.79"/><path d="M552.6 996.8L520.7 997.9L520.7 998.9L552.6 998.9Z" fill="url(#saL)" opacity="0.80"/><path d="M552.6 998.1L516.6 1000.5L516.6 1001.5L552.6 1000.2Z" fill="url(#sbL)" opacity="0.77"/><path d="M552.6 998.2L515.9 999.2L515.9 1000.9L552.6 1001Z" fill="url(#sbL)" opacity="0.75"/><path d="M552.6 1000L513.3 1001.9L513.3 1002.9L552.6 1002.4Z" fill="url(#sbL)" opacity="0.80"/><path d="M552.6 1000.6L512.1 1002L512.1 1003L552.6 1002.7Z" fill="url(#sbL)" opacity="0.84"/><path d="M552.6 1001.4L519.4 1002.2L519.4 1003.4L552.6 1003.8Z" fill="url(#saL)" opacity="0.87"/><path d="M544.5 1000.5L521 1002.5" stroke="#fff" stroke-width="1.0" opacity="0.49"/><path d="M542 999.8L518.4 1001.2" stroke="#fff" stroke-width="0.9" opacity="0.41"/><path d="M537.6 999.8L514.2 1000.6" stroke="#fff" stroke-width="1.1" opacity="0.42"/><path d="M552.6 1006.2L527.4 1006.1" stroke="#5c9fdc" stroke-width="0.8" opacity=".55"/><path d="M552.6 1003.1L521.3 1002.1" stroke="#a6c3de" stroke-width="1.3" opacity=".55"/><path d="M552.6 1003L513.8 1001.9" stroke="#b8c4d0" stroke-width="1.1" opacity=".55"/><path d="M552.6 1004.9L523.6 1004" stroke="#5c9fdc" stroke-width="0.9" opacity=".55"/><path d="M552.6 989.2L588.3 996.2L588.3 997.7L552.6 991.5Z" fill="url(#saR)" opacity="0.92"/><path d="M552.6 990.6L585.4 996.4L585.4 997.2L552.6 992.6Z" fill="url(#sbR)" opacity="0.94"/><path d="M552.6 991.6L589 998.1L589 999.6L552.6 993.9Z" fill="url(#sbR)" opacity="0.76"/><path d="M552.6 992.3L590.2 997.4L590.2 999.3L552.6 995.2Z" fill="url(#scR)" opacity="0.83"/><path d="M552.6 993.8L586.3 997.4L586.3 998.2L552.6 995.8Z" fill="url(#sdR)" opacity="0.79"/><path d="M552.6 994.4L582.7 998.6L582.7 1000L552.6 997Z" fill="url(#sdR)" opacity="0.81"/><path d="M552.6 995.8L590.2 998.6L590.2 999.8L552.6 998Z" fill="url(#scR)" opacity="0.92"/><path d="M552.6 996.3L591.5 999.2L591.5 1000.3L552.6 999.1Z" fill="url(#sdR)" opacity="0.77"/><path d="M552.6 997.9L584.9 998.4L584.9 999.1L552.6 1000.3Z" fill="url(#sdR)" opacity="0.94"/><path d="M552.6 998.8L586.5 999.6L586.5 1000.4L552.6 1001.4Z" fill="url(#saR)" opacity="0.81"/><path d="M552.6 999.9L593.3 999.6L593.3 1001.1L552.6 1002.1Z" fill="url(#scR)" opacity="0.85"/><path d="M552.6 1000.6L583 998.8L583 1000.3L552.6 1002.7Z" fill="url(#scR)" opacity="0.94"/><path d="M552.6 1001.2L592.1 998.7L592.1 999.5L552.6 1003.5Z" fill="url(#saR)" opacity="0.94"/><path d="M552.6 1003L587.4 999L587.4 1000.4L552.6 1005Z" fill="url(#saR)" opacity="0.79"/><path d="M569 992L588.9 992" stroke="#fff" stroke-width="0.7" opacity="0.45"/><path d="M563.3 993.1L579.6 993.1" stroke="#fff" stroke-width="0.9" opacity="0.41"/><path d="M558.9 1001.2L582.6 1001.1" stroke="#fff" stroke-width="1.0" opacity="0.30"/><path d="M552.6 1003.4L593.4 1004" stroke="#a6c3de" stroke-width="1.2" opacity=".55"/><path d="M552.6 1003.4L593.8 1004.3" stroke="#7fb6e4" stroke-width="0.9" opacity=".55"/><path d="M552.6 1002.7L586.9 1004.1" stroke="#a6c3de" stroke-width="1.1" opacity=".55"/><path d="M552.6 1002.2L590.7 1001.4" stroke="#7fb6e4" stroke-width="1.4" opacity=".55"/><path d="M552.6 1006.3L524.7 1011.6L524.7 1012.6L552.6 1008.3Z" fill="url(#scL)" opacity="0.79"/><path d="M552.6 1007.7L513.1 1010.8L513.1 1012.2L552.6 1010.6Z" fill="url(#scL)" opacity="0.90"/><path d="M552.6 1008.8L522.2 1012.9L522.2 1013.8L552.6 1011.2Z" fill="url(#saL)" opacity="0.82"/><path d="M552.6 1009.4L512.7 1012.3L512.7 1013.6L552.6 1011.9Z" fill="url(#sbL)" opacity="0.92"/><path d="M552.6 1011L519 1014L519 1014.9L552.6 1013Z" fill="url(#sdL)" opacity="0.89"/><path d="M552.6 1011.6L521.2 1013.1L521.2 1014.7L552.6 1013.8Z" fill="url(#scL)" opacity="0.89"/><path d="M552.6 1012.7L518.7 1015.5L518.7 1016.2L552.6 1014.7Z" fill="url(#scL)" opacity="0.93"/><path d="M552.6 1014.2L518.2 1014.7L518.2 1016.2L552.6 1016.3Z" fill="url(#saL)" opacity="0.85"/><path d="M552.6 1014.8L516.2 1016.7L516.2 1017.6L552.6 1017.2Z" fill="url(#saL)" opacity="0.85"/><path d="M552.6 1015.9L522.8 1016.2L522.8 1017.1L552.6 1018Z" fill="url(#saL)" opacity="0.78"/><path d="M552.6 1016.7L520.3 1015.9L520.3 1017.2L552.6 1018.7Z" fill="url(#sbL)" opacity="0.88"/><path d="M552.6 1018.1L513.8 1018.4L513.8 1019.4L552.6 1020.7Z" fill="url(#sbL)" opacity="0.90"/><path d="M552.6 1018.5L523.5 1017.9L523.5 1019.4L552.6 1021.3Z" fill="url(#scL)" opacity="0.78"/><path d="M552.6 1020.4L523.3 1018.6L523.3 1019.5L552.6 1022.3Z" fill="url(#saL)" opacity="0.93"/><path d="M538.6 1018.9L524.2 1019.5" stroke="#fff" stroke-width="0.7" opacity="0.50"/><path d="M542.6 1016.8L516.2 1017.7" stroke="#fff" stroke-width="1.0" opacity="0.47"/><path d="M544.3 1015.7L521.7 1015.3" stroke="#fff" stroke-width="1.3" opacity="0.35"/><path d="M552.6 1023L516.1 1022" stroke="#5c9fdc" stroke-width="1.1" opacity=".55"/><path d="M552.6 1024.6L514.1 1023.9" stroke="#b8c4d0" stroke-width="0.9" opacity=".55"/><path d="M552.6 1023.5L529.1 1024.1" stroke="#5c9fdc" stroke-width="1.4" opacity=".55"/><path d="M552.6 1024.2L512.1 1024.2" stroke="#7fb6e4" stroke-width="0.9" opacity=".55"/><path d="M552.6 1007.5L578.3 1016.4L578.3 1017.4L552.6 1009.7Z" fill="url(#saR)" opacity="0.86"/><path d="M552.6 1007.9L585.6 1015.3L585.6 1016.3L552.6 1010.7Z" fill="url(#sbR)" opacity="0.81"/><path d="M552.6 1009L590.4 1017L590.4 1017.9L552.6 1011Z" fill="url(#saR)" opacity="0.79"/><path d="M552.6 1010.4L586.1 1015.8L586.1 1016.7L552.6 1012.9Z" fill="url(#sbR)" opacity="0.95"/><path d="M552.6 1011.4L593.4 1016.9L593.4 1017.8L552.6 1013.7Z" fill="url(#sbR)" opacity="0.76"/><path d="M552.6 1012.8L586.1 1016.2L586.1 1017.6L552.6 1015.6Z" fill="url(#saR)" opacity="0.87"/><path d="M552.6 1013.4L589.8 1016.4L589.8 1017.4L552.6 1016Z" fill="url(#saR)" opacity="0.87"/><path d="M552.6 1015L588.8 1017.9L588.8 1019.2L552.6 1017.2Z" fill="url(#sdR)" opacity="0.81"/><path d="M552.6 1015.2L583.3 1016.9L583.3 1018.5L552.6 1017.5Z" fill="url(#scR)" opacity="0.92"/><path d="M552.6 1016.3L587.3 1016.8L587.3 1018.3L552.6 1018.7Z" fill="url(#saR)" opacity="0.84"/><path d="M552.6 1017.8L584.6 1017.5L584.6 1018.6L552.6 1020Z" fill="url(#saR)" opacity="0.78"/><path d="M552.6 1019.3L584.6 1018L584.6 1019.4L552.6 1021.3Z" fill="url(#scR)" opacity="0.89"/><path d="M552.6 1019.7L593.6 1019.1L593.6 1020.2L552.6 1021.7Z" fill="url(#scR)" opacity="0.88"/><path d="M552.6 1020.9L585 1018.6L585 1019.3L552.6 1022.7Z" fill="url(#sbR)" opacity="0.78"/><path d="M563 1017L583.4 1018.2" stroke="#fff" stroke-width="0.9" opacity="0.33"/><path d="M559.4 1020.3L587.1 1020.8" stroke="#fff" stroke-width="1.0" opacity="0.33"/><path d="M560 1015.5L578.5 1016.6" stroke="#fff" stroke-width="0.9" opacity="0.43"/><path d="M552.6 1020.6L580.7 1020.2" stroke="#7fb6e4" stroke-width="0.8" opacity=".55"/><path d="M552.6 1023.3L576 1024.8" stroke="#7fb6e4" stroke-width="1.1" opacity=".55"/><path d="M552.6 1021.2L584.9 1022.3" stroke="#5c9fdc" stroke-width="1.0" opacity=".55"/><path d="M552.6 1020.6L577.9 1021.6" stroke="#a6c3de" stroke-width="1.1" opacity=".55"/><path d="M552.6 1024.4L523.9 1031.9L523.9 1032.6L552.6 1026.3Z" fill="url(#sbL)" opacity="0.81"/><path d="M552.6 1025.8L523.3 1032.7L523.3 1033.5L552.6 1028Z" fill="url(#saL)" opacity="0.77"/><path d="M552.6 1026.7L519.8 1032.5L519.8 1033.6L552.6 1029.1Z" fill="url(#sdL)" opacity="0.90"/><path d="M552.6 1027.4L517.3 1031.6L517.3 1033L552.6 1030.2Z" fill="url(#saL)" opacity="0.86"/><path d="M552.6 1028.9L522.3 1034.6L522.3 1035.5L552.6 1031.8Z" fill="url(#sdL)" opacity="0.87"/><path d="M552.6 1029.6L514.4 1033.6L514.4 1035.2L552.6 1032.5Z" fill="url(#sbL)" opacity="0.78"/><path d="M552.6 1030.4L517.4 1033.8L517.4 1035L552.6 1032.8Z" fill="url(#saL)" opacity="0.90"/><path d="M552.6 1032L516.2 1035.5L516.2 1036.1L552.6 1033.8Z" fill="url(#saL)" opacity="0.79"/><path d="M552.6 1033.1L512.4 1035.6L512.4 1037.2L552.6 1035.9Z" fill="url(#saL)" opacity="0.93"/><path d="M552.6 1034.5L523.2 1036.6L523.2 1037.6L552.6 1036.3Z" fill="url(#sbL)" opacity="0.91"/><path d="M552.6 1034.6L523.2 1037.2L523.2 1038.5L552.6 1037.3Z" fill="url(#saL)" opacity="0.76"/><path d="M552.6 1036.1L516.1 1039.1L516.1 1040.3L552.6 1038.8Z" fill="url(#sbL)" opacity="0.85"/><path d="M552.6 1037.5L521 1038.8L521 1039.5L552.6 1039.9Z" fill="url(#saL)" opacity="0.80"/><path d="M552.6 1038L524.3 1038.5L524.3 1039.4L552.6 1040.6Z" fill="url(#scL)" opacity="0.79"/><path d="M542.6 1036.7L516.1 1037.7" stroke="#fff" stroke-width="0.8" opacity="0.41"/><path d="M543.9 1029.3L517.9 1031.4" stroke="#fff" stroke-width="1.3" opacity="0.45"/><path d="M541.7 1030.8L519.9 1032.5" stroke="#fff" stroke-width="1.2" opacity="0.42"/><path d="M552.6 1043.3L522.6 1043.1" stroke="#7fb6e4" stroke-width="0.8" opacity=".55"/><path d="M552.6 1039.4L520.4 1040" stroke="#5c9fdc" stroke-width="0.8" opacity=".55"/><path d="M552.6 1039.5L514.4 1041.1" stroke="#7fb6e4" stroke-width="0.9" opacity=".55"/><path d="M552.6 1042.9L517.3 1042.2" stroke="#a6c3de" stroke-width="1.0" opacity=".55"/><path d="M552.6 1025L582 1032.5L582 1034.2L552.6 1027.5Z" fill="url(#saR)" opacity="0.87"/><path d="M552.6 1026.5L585.1 1032.6L585.1 1033.9L552.6 1029.2Z" fill="url(#sdR)" opacity="0.89"/><path d="M552.6 1027.9L592.6 1032.6L592.6 1033.5L552.6 1030.8Z" fill="url(#scR)" opacity="0.84"/><path d="M552.6 1028.6L589.7 1034.3L589.7 1035.1L552.6 1030.7Z" fill="url(#sdR)" opacity="0.82"/><path d="M552.6 1029.5L588.4 1033.7L588.4 1035.2L552.6 1032.1Z" fill="url(#sdR)" opacity="0.85"/><path d="M552.6 1030.7L590 1034.1L590 1035.3L552.6 1033.5Z" fill="url(#scR)" opacity="0.78"/><path d="M552.6 1032.2L587.7 1034.4L587.7 1035.6L552.6 1034.5Z" fill="url(#saR)" opacity="0.90"/><path d="M552.6 1032.8L585.1 1035L585.1 1036.1L552.6 1035Z" fill="url(#saR)" opacity="0.81"/><path d="M552.6 1033.9L585.3 1033.5L585.3 1035L552.6 1036Z" fill="url(#sdR)" opacity="0.90"/><path d="M552.6 1034.6L582.6 1034.2L582.6 1035.2L552.6 1036.9Z" fill="url(#sdR)" opacity="0.86"/><path d="M552.6 1036.5L587.5 1033.9L587.5 1035.2L552.6 1038.8Z" fill="url(#saR)" opacity="0.86"/><path d="M552.6 1037.6L593.8 1034.4L593.8 1035.5L552.6 1039.7Z" fill="url(#sdR)" opacity="0.94"/><path d="M552.6 1038.2L579.2 1034.6L579.2 1035.5L552.6 1040.5Z" fill="url(#sbR)" opacity="0.92"/><path d="M552.6 1039.6L589.5 1035.2L589.5 1036.4L552.6 1041.7Z" fill="url(#sbR)" opacity="0.90"/><path d="M567.9 1029.5L582 1029.3" stroke="#fff" stroke-width="0.7" opacity="0.31"/><path d="M562.1 1029.1L591.5 1029.4" stroke="#fff" stroke-width="0.9" opacity="0.48"/><path d="M559.7 1028.4L590 1028.7" stroke="#fff" stroke-width="0.7" opacity="0.31"/><path d="M552.6 1042.1L593.5 1041.7" stroke="#b8c4d0" stroke-width="1.0" opacity=".55"/><path d="M552.6 1039.1L579.8 1038.5" stroke="#5c9fdc" stroke-width="1.2" opacity=".55"/><path d="M552.6 1038.1L577.4 1037.2" stroke="#7fb6e4" stroke-width="0.7" opacity=".55"/><path d="M552.6 1043.3L586 1043.9" stroke="#a6c3de" stroke-width="1.4" opacity=".55"/><path d="M552.6 1042.5L526.3 1049L526.3 1049.7L552.6 1044.5Z" fill="url(#sdL)" opacity="0.77"/><path d="M552.6 1044.2L520.1 1048L520.1 1049.4L552.6 1046.9Z" fill="url(#sdL)" opacity="0.95"/><path d="M552.6 1045L512.6 1048.5L512.6 1049.7L552.6 1047.2Z" fill="url(#saL)" opacity="0.86"/><path d="M552.6 1045.6L513.1 1050.1L513.1 1051.5L552.6 1048.4Z" fill="url(#sdL)" opacity="0.93"/><path d="M552.6 1047.2L512.6 1051.7L512.6 1052.5L552.6 1049.1Z" fill="url(#sdL)" opacity="0.90"/><path d="M552.6 1048.5L522.5 1050.9L522.5 1052L552.6 1050.6Z" fill="url(#saL)" opacity="0.90"/><path d="M552.6 1049.4L520 1051.1L520 1052.5L552.6 1052Z" fill="url(#sbL)" opacity="0.90"/><path d="M552.6 1049.8L517 1052.8L517 1054.3L552.6 1052.6Z" fill="url(#sbL)" opacity="0.84"/><path d="M552.6 1051.4L516.9 1054.5L516.9 1055.5L552.6 1054.1Z" fill="url(#scL)" opacity="0.90"/><path d="M552.6 1051.7L515.1 1054.4L515.1 1055.2L552.6 1054.4Z" fill="url(#saL)" opacity="0.95"/><path d="M552.6 1052.9L517.9 1054L517.9 1054.9L552.6 1055.3Z" fill="url(#sbL)" opacity="0.76"/><path d="M552.6 1054.4L520.4 1055.4L520.4 1057.2L552.6 1057.2Z" fill="url(#sbL)" opacity="0.85"/><path d="M552.6 1055.2L523.6 1055.9L523.6 1057.1L552.6 1057.5Z" fill="url(#sdL)" opacity="0.89"/><path d="M552.6 1056.3L525.5 1056.4L525.5 1057.3L552.6 1058.4Z" fill="url(#scL)" opacity="0.89"/><path d="M541 1056.4L522.6 1057.4" stroke="#fff" stroke-width="0.7" opacity="0.47"/><path d="M545.5 1053.1L522.9 1053.3" stroke="#fff" stroke-width="1.1" opacity="0.25"/><path d="M545.9 1055.2L516.4 1055.6" stroke="#fff" stroke-width="1.0" opacity="0.46"/><path d="M552.6 1061.4L514.5 1060" stroke="#7fb6e4" stroke-width="1.0" opacity=".55"/><path d="M552.6 1057.2L522.9 1058.9" stroke="#7fb6e4" stroke-width="0.8" opacity=".55"/><path d="M552.6 1056.5L530.7 1055" stroke="#b8c4d0" stroke-width="0.9" opacity=".55"/><path d="M552.6 1060.9L530.1 1061.7" stroke="#5c9fdc" stroke-width="0.8" opacity=".55"/><path d="M552.6 1043.3L582.6 1049.5L582.6 1050.8L552.6 1046Z" fill="url(#sbR)" opacity="0.88"/><path d="M552.6 1044.8L585.3 1051.8L585.3 1053.1L552.6 1047.3Z" fill="url(#sbR)" opacity="0.80"/><path d="M552.6 1046.3L587.9 1050.4L587.9 1052.1L552.6 1048.9Z" fill="url(#scR)" opacity="0.82"/><path d="M552.6 1046.7L583.8 1052.3L583.8 1052.9L552.6 1048.8Z" fill="url(#saR)" opacity="0.89"/><path d="M552.6 1047.6L583.6 1050.9L583.6 1052L552.6 1049.5Z" fill="url(#sbR)" opacity="0.89"/><path d="M552.6 1048.6L584.2 1051.1L584.2 1052.4L552.6 1051.5Z" fill="url(#sbR)" opacity="0.87"/><path d="M552.6 1049.6L588.8 1052.3L588.8 1053.4L552.6 1052Z" fill="url(#sbR)" opacity="0.86"/><path d="M552.6 1051.3L592.2 1052.8L592.2 1054L552.6 1053.3Z" fill="url(#saR)" opacity="0.91"/><path d="M552.6 1052.5L593.7 1052.7L593.7 1053.4L552.6 1054.8Z" fill="url(#sdR)" opacity="0.80"/><path d="M552.6 1053.2L586.8 1053.3L586.8 1054.2L552.6 1055.4Z" fill="url(#sdR)" opacity="0.82"/><path d="M552.6 1053.7L585.3 1052.2L585.3 1053.7L552.6 1056.5Z" fill="url(#sbR)" opacity="0.88"/><path d="M552.6 1056.2L587.3 1052.5L587.3 1053.7L552.6 1058Z" fill="url(#sbR)" opacity="0.85"/><path d="M552.6 1056.1L585.6 1053.2L585.6 1054.3L552.6 1058.4Z" fill="url(#saR)" opacity="0.88"/><path d="M552.6 1056.8L576 1053.9L576 1055.6L552.6 1059.4Z" fill="url(#sdR)" opacity="0.95"/><path d="M564.7 1054.6L585.1 1055.1" stroke="#fff" stroke-width="1.3" opacity="0.54"/><path d="M560.9 1050.9L585.2 1051.2" stroke="#fff" stroke-width="1.2" opacity="0.53"/><path d="M559.7 1053.1L585.2 1052.8" stroke="#fff" stroke-width="1.0" opacity="0.50"/><path d="M552.6 1059.9L583 1058.6" stroke="#b8c4d0" stroke-width="0.9" opacity=".55"/><path d="M552.6 1058.1L583.4 1056.3" stroke="#b8c4d0" stroke-width="1.1" opacity=".55"/><path d="M552.6 1060.1L574 1059.4" stroke="#5c9fdc" stroke-width="1.0" opacity=".55"/><path d="M552.6 1060.3L583.7 1059" stroke="#5c9fdc" stroke-width="0.8" opacity=".55"/><path d="M552.6 1061.5L524.2 1067L524.2 1068.5L552.6 1063.8Z" fill="url(#scL)" opacity="0.78"/><path d="M552.6 1062.2L514.4 1068.4L514.4 1069.8L552.6 1064.9Z" fill="url(#saL)" opacity="0.77"/><path d="M552.6 1063.6L518.5 1069.1L518.5 1069.9L552.6 1066.2Z" fill="url(#sdL)" opacity="0.77"/><path d="M552.6 1063.8L514.4 1068.1L514.4 1069.1L552.6 1066.5Z" fill="url(#sdL)" opacity="0.78"/><path d="M552.6 1065.5L513.5 1070.5L513.5 1071.4L552.6 1067.9Z" fill="url(#scL)" opacity="0.89"/><path d="M552.6 1065.6L520 1069.8L520 1071.3L552.6 1068.4Z" fill="url(#scL)" opacity="0.81"/><path d="M552.6 1067L513.5 1070.8L513.5 1072L552.6 1069Z" fill="url(#sbL)" opacity="0.79"/><path d="M552.6 1068.1L514.8 1071L514.8 1072L552.6 1070.7Z" fill="url(#sdL)" opacity="0.79"/><path d="M552.6 1069.8L513 1071.8L513 1073.1L552.6 1071.8Z" fill="url(#saL)" opacity="0.78"/><path d="M552.6 1070.3L522.6 1073.6L522.6 1074.6L552.6 1073.1Z" fill="url(#saL)" opacity="0.88"/><path d="M552.6 1071.5L515.8 1072.6L515.8 1073.8L552.6 1074Z" fill="url(#saL)" opacity="0.76"/><path d="M552.6 1072.6L521.2 1075L521.2 1075.7L552.6 1074.8Z" fill="url(#sdL)" opacity="0.82"/><path d="M552.6 1074.2L517.4 1075L517.4 1076.3L552.6 1076.1Z" fill="url(#saL)" opacity="0.88"/><path d="M552.6 1075.1L524.6 1076.1L524.6 1077.4L552.6 1077.5Z" fill="url(#sbL)" opacity="0.83"/><path d="M543.5 1073.8L516.2 1074.9" stroke="#fff" stroke-width="1.1" opacity="0.46"/><path d="M540.6 1063.3L521.2 1064.1" stroke="#fff" stroke-width="1.1" opacity="0.39"/><path d="M536.5 1068.7L518.2 1070.5" stroke="#fff" stroke-width="0.6" opacity="0.30"/><path d="M552.6 1074.8L526.6 1076.2" stroke="#5c9fdc" stroke-width="0.8" opacity=".55"/><path d="M552.6 1074.8L516.7 1074.9" stroke="#a6c3de" stroke-width="1.0" opacity=".55"/><path d="M552.6 1077.7L514.2 1078.1" stroke="#5c9fdc" stroke-width="1.3" opacity=".55"/><path d="M552.6 1075.8L520.5 1075.5" stroke="#7fb6e4" stroke-width="1.1" opacity=".55"/><path d="M552.6 1061.9L578.3 1069.4L578.3 1070.5L552.6 1064.3Z" fill="url(#sbR)" opacity="0.86"/><path d="M552.6 1063L584.2 1070.4L584.2 1071.2L552.6 1065.2Z" fill="url(#sbR)" opacity="0.79"/><path d="M552.6 1064L593.2 1069.3L593.2 1070.2L552.6 1066Z" fill="url(#saR)" opacity="0.95"/><path d="M552.6 1065.3L583.6 1070L583.6 1070.8L552.6 1067.4Z" fill="url(#sbR)" opacity="0.91"/><path d="M552.6 1065.6L589.2 1069.6L589.2 1071.1L552.6 1068.1Z" fill="url(#sbR)" opacity="0.79"/><path d="M552.6 1067.2L587.8 1070.6L587.8 1071.8L552.6 1069.8Z" fill="url(#scR)" opacity="0.78"/><path d="M552.6 1068.5L586.8 1070.4L586.8 1071.5L552.6 1070.7Z" fill="url(#saR)" opacity="0.84"/><path d="M552.6 1069L592.3 1069.9L592.3 1071.5L552.6 1071.7Z" fill="url(#sbR)" opacity="0.89"/><path d="M552.6 1070.4L588.5 1070.7L588.5 1072L552.6 1073.2Z" fill="url(#saR)" opacity="0.78"/><path d="M552.6 1071.1L592.3 1071.1L592.3 1072L552.6 1073.4Z" fill="url(#sdR)" opacity="0.94"/><path d="M552.6 1072.4L584 1072L584 1073.4L552.6 1074.6Z" fill="url(#scR)" opacity="0.82"/><path d="M552.6 1073.4L592.2 1071.3L592.2 1072.5L552.6 1075.2Z" fill="url(#saR)" opacity="0.85"/><path d="M552.6 1074.3L578.4 1071.8L578.4 1073.6L552.6 1076.8Z" fill="url(#saR)" opacity="0.91"/><path d="M552.6 1075L581.3 1072.4L581.3 1073.7L552.6 1077.6Z" fill="url(#saR)" opacity="0.82"/><path d="M566.6 1071.3L591.9 1072.6" stroke="#fff" stroke-width="0.7" opacity="0.42"/><path d="M564.5 1071.2L586.1 1071.6" stroke="#fff" stroke-width="0.8" opacity="0.45"/><path d="M565.9 1074.4L587 1075.9" stroke="#fff" stroke-width="0.8" opacity="0.42"/><path d="M552.6 1079L586.8 1077" stroke="#a6c3de" stroke-width="1.2" opacity=".55"/><path d="M552.6 1074.6L578.6 1075.1" stroke="#7fb6e4" stroke-width="1.0" opacity=".55"/><path d="M552.6 1079.4L587.9 1079" stroke="#b8c4d0" stroke-width="0.9" opacity=".55"/><path d="M552.6 1074.7L583.3 1072.9" stroke="#5c9fdc" stroke-width="0.8" opacity=".55"/><path d="M552.6 1078.9L518.3 1085L518.3 1086L552.6 1081.7Z" fill="url(#sbL)" opacity="0.78"/><path d="M552.6 1080.4L524.1 1085.5L524.1 1086.9L552.6 1082.5Z" fill="url(#saL)" opacity="0.91"/><path d="M552.6 1080.9L523.1 1086.9L523.1 1087.8L552.6 1083.1Z" fill="url(#saL)" opacity="0.92"/><path d="M552.6 1082.9L519.2 1087.8L519.2 1088.9L552.6 1084.9Z" fill="url(#sbL)" opacity="0.94"/><path d="M552.6 1083.9L522.8 1088.3L522.8 1089.1L552.6 1086.1Z" fill="url(#saL)" opacity="0.93"/><path d="M552.6 1084.6L514.5 1089L514.5 1090.2L552.6 1087.3Z" fill="url(#sdL)" opacity="0.86"/><path d="M552.6 1085.5L512.2 1088.8L512.2 1090.2L552.6 1087.4Z" fill="url(#sdL)" opacity="0.76"/><path d="M552.6 1086.7L514.3 1089.9L514.3 1091.2L552.6 1089.3Z" fill="url(#sbL)" opacity="0.93"/><path d="M552.6 1087.6L516.1 1089.6L516.1 1090.6L552.6 1090.2Z" fill="url(#scL)" opacity="0.79"/><path d="M552.6 1088.9L519.1 1091.1L519.1 1092.3L552.6 1091Z" fill="url(#sbL)" opacity="0.83"/><path d="M552.6 1090.1L512.8 1090.5L512.8 1091.6L552.6 1092Z" fill="url(#sbL)" opacity="0.86"/><path d="M552.6 1090.8L518.5 1091.4L518.5 1092.8L552.6 1092.7Z" fill="url(#sbL)" opacity="0.88"/><path d="M552.6 1091.6L521.8 1091.9L521.8 1093.3L552.6 1094.1Z" fill="url(#scL)" opacity="0.84"/><path d="M552.6 1093.2L516 1094L516 1094.9L552.6 1095.3Z" fill="url(#saL)" opacity="0.90"/><path d="M545.8 1090.1L519.8 1092.3" stroke="#fff" stroke-width="1.0" opacity="0.55"/><path d="M544.3 1084L523.6 1084.8" stroke="#fff" stroke-width="0.7" opacity="0.33"/><path d="M538.3 1087.2L517.3 1087.6" stroke="#fff" stroke-width="1.1" opacity="0.44"/><path d="M552.6 1094.1L532.2 1095.6" stroke="#a6c3de" stroke-width="1.3" opacity=".55"/><path d="M552.6 1095.3L524.7 1094.1" stroke="#b8c4d0" stroke-width="1.3" opacity=".55"/><path d="M552.6 1097.3L515.1 1097.2" stroke="#7fb6e4" stroke-width="1.0" opacity=".55"/><path d="M552.6 1097.9L531.3 1097.7" stroke="#a6c3de" stroke-width="0.9" opacity=".55"/><path d="M552.6 1079.9L581.2 1086.6L581.2 1087.5L552.6 1082.7Z" fill="url(#sdR)" opacity="0.89"/><path d="M552.6 1081.1L577.1 1085.3L577.1 1086.6L552.6 1083.4Z" fill="url(#sbR)" opacity="0.88"/><path d="M552.6 1082L590.6 1086.8L590.6 1087.5L552.6 1083.9Z" fill="url(#saR)" opacity="0.84"/><path d="M552.6 1083.6L585.1 1086.3L585.1 1087.4L552.6 1085.5Z" fill="url(#scR)" opacity="0.89"/><path d="M552.6 1084.5L593.5 1086.6L593.5 1087.9L552.6 1087Z" fill="url(#saR)" opacity="0.81"/><path d="M552.6 1084.7L591 1086.6L591 1088.6L552.6 1087.6Z" fill="url(#saR)" opacity="0.76"/><path d="M552.6 1086.1L582.7 1086.5L582.7 1088L552.6 1088.6Z" fill="url(#sdR)" opacity="0.93"/><path d="M552.6 1087.4L583.5 1087.8L583.5 1088.7L552.6 1090.3Z" fill="url(#sbR)" opacity="0.86"/><path d="M552.6 1088.9L591.9 1087.7L591.9 1089L552.6 1091Z" fill="url(#sbR)" opacity="0.89"/><path d="M552.6 1089.9L585.6 1087.4L585.6 1088.8L552.6 1092Z" fill="url(#scR)" opacity="0.87"/><path d="M552.6 1090.8L591.3 1088.8L591.3 1090.3L552.6 1093.4Z" fill="url(#scR)" opacity="0.82"/><path d="M552.6 1092.2L590.2 1088.1L590.2 1089.3L552.6 1094.5Z" fill="url(#saR)" opacity="0.88"/><path d="M552.6 1093L585.6 1088.6L585.6 1090.2L552.6 1095.4Z" fill="url(#saR)" opacity="0.93"/><path d="M552.6 1093.3L589.6 1088.2L589.6 1089.4L552.6 1095.6Z" fill="url(#sbR)" opacity="0.92"/><path d="M563.5 1093L580.1 1093.3" stroke="#fff" stroke-width="1.0" opacity="0.53"/><path d="M559.9 1088L578.6 1088.5" stroke="#fff" stroke-width="0.9" opacity="0.38"/><path d="M562 1085.4L587.1 1085.4" stroke="#fff" stroke-width="1.0" opacity="0.33"/><path d="M552.6 1094.4L582.8 1096.4" stroke="#5c9fdc" stroke-width="0.9" opacity=".55"/><path d="M552.6 1093.3L591.3 1091.5" stroke="#b8c4d0" stroke-width="1.2" opacity=".55"/><path d="M552.6 1094L587.9 1095.3" stroke="#b8c4d0" stroke-width="1.2" opacity=".55"/><path d="M552.6 1094.1L581.2 1095.7" stroke="#7fb6e4" stroke-width="1.0" opacity=".55"/><path d="M552.6 1097.7L521.8 1102.1L521.8 1103.5L552.6 1100.6Z" fill="url(#saL)" opacity="0.77"/><path d="M552.6 1098.5L516.7 1103.8L516.7 1104.7L552.6 1101.1Z" fill="url(#sbL)" opacity="0.79"/><path d="M552.6 1099.7L518.3 1102.9L518.3 1104.8L552.6 1102.6Z" fill="url(#sbL)" opacity="0.85"/><path d="M552.6 1100.5L518 1104.4L518 1105.5L552.6 1103.1Z" fill="url(#saL)" opacity="0.78"/><path d="M552.6 1102.3L515.7 1105.8L515.7 1106.5L552.6 1104.3Z" fill="url(#sdL)" opacity="0.85"/><path d="M552.6 1103L522.6 1106.1L522.6 1108L552.6 1105.8Z" fill="url(#sdL)" opacity="0.78"/><path d="M552.6 1103.8L516.8 1106.4L516.8 1107.7L552.6 1105.8Z" fill="url(#sbL)" opacity="0.91"/><path d="M552.6 1104.4L516.6 1107.6L516.6 1108.8L552.6 1107.1Z" fill="url(#scL)" opacity="0.89"/><path d="M552.6 1105.6L518.3 1107L518.3 1108.8L552.6 1108.2Z" fill="url(#sdL)" opacity="0.94"/><path d="M552.6 1107.1L521.3 1108.3L521.3 1109.7L552.6 1109.3Z" fill="url(#saL)" opacity="0.89"/><path d="M552.6 1108.6L522.4 1109.8L522.4 1110.9L552.6 1110.7Z" fill="url(#scL)" opacity="0.89"/><path d="M552.6 1108.7L520.9 1109.2L520.9 1110.1L552.6 1110.9Z" fill="url(#sbL)" opacity="0.93"/><path d="M552.6 1109.2L512.4 1109.2L512.4 1111.1L552.6 1112.1Z" fill="url(#saL)" opacity="0.90"/><path d="M552.6 1110.8L520.9 1110.7L520.9 1111.5L552.6 1113.3Z" fill="url(#saL)" opacity="0.84"/><path d="M540.2 1100.6L520.3 1101.6" stroke="#fff" stroke-width="0.8" opacity="0.33"/><path d="M538.1 1110L515.2 1111.1" stroke="#fff" stroke-width="1.1" opacity="0.37"/><path d="M540.6 1108.2L527.9 1108.8" stroke="#fff" stroke-width="1.3" opacity="0.53"/><path d="M552.6 1112.9L529.2 1112.8" stroke="#a6c3de" stroke-width="0.7" opacity=".55"/><path d="M552.6 1114L522.4 1112.7" stroke="#7fb6e4" stroke-width="1.0" opacity=".55"/><path d="M552.6 1112L526.4 1111.1" stroke="#7fb6e4" stroke-width="0.9" opacity=".55"/><path d="M552.6 1111.1L520.2 1109.2" stroke="#5c9fdc" stroke-width="1.2" opacity=".55"/><path d="M552.6 1098.3L577.9 1104.6L577.9 1105.5L552.6 1100.7Z" fill="url(#saR)" opacity="0.85"/><path d="M552.6 1099.5L575.5 1103.9L575.5 1105.1L552.6 1102.2Z" fill="url(#sbR)" opacity="0.79"/><path d="M552.6 1100.7L587.7 1104.4L587.7 1105.5L552.6 1102.6Z" fill="url(#sdR)" opacity="0.78"/><path d="M552.6 1101.1L586 1104.5L586 1105.7L552.6 1103.5Z" fill="url(#sbR)" opacity="0.83"/><path d="M552.6 1102.1L592.3 1105.1L592.3 1105.9L552.6 1104.4Z" fill="url(#saR)" opacity="0.76"/><path d="M552.6 1103.2L584.2 1105.1L584.2 1105.9L552.6 1105.6Z" fill="url(#saR)" opacity="0.78"/><path d="M552.6 1104.8L591.5 1104.8L591.5 1106.4L552.6 1107.6Z" fill="url(#saR)" opacity="0.88"/><path d="M552.6 1105.4L591.5 1105.6L591.5 1106.4L552.6 1108.1Z" fill="url(#saR)" opacity="0.94"/><path d="M552.6 1107L589.5 1105.7L589.5 1107.1L552.6 1109.6Z" fill="url(#saR)" opacity="0.87"/><path d="M552.6 1108.1L591.5 1106.7L591.5 1107.6L552.6 1110Z" fill="url(#sbR)" opacity="0.94"/><path d="M552.6 1108.6L588.1 1105.5L588.1 1107.2L552.6 1111Z" fill="url(#sdR)" opacity="0.93"/><path d="M552.6 1109.3L593 1107.6L593 1108.6L552.6 1112.1Z" fill="url(#saR)" opacity="0.78"/><path d="M552.6 1110.3L582.8 1107.7L582.8 1109L552.6 1113.2Z" fill="url(#saR)" opacity="0.76"/><path d="M552.6 1111.7L580.9 1107.6L580.9 1108.8L552.6 1114.6Z" fill="url(#sdR)" opacity="0.79"/><path d="M560.3 1106L585.5 1105.7" stroke="#fff" stroke-width="1.3" opacity="0.47"/><path d="M567.2 1112.2L589.4 1111.9" stroke="#fff" stroke-width="1.1" opacity="0.28"/><path d="M568.3 1104.5L591.6 1103.9" stroke="#fff" stroke-width="0.9" opacity="0.37"/><path d="M552.6 1114.3L585.6 1113.3" stroke="#b8c4d0" stroke-width="1.0" opacity=".55"/><path d="M552.6 1115.2L588.2 1117.1" stroke="#7fb6e4" stroke-width="1.1" opacity=".55"/><path d="M552.6 1115.1L578.1 1113.3" stroke="#7fb6e4" stroke-width="1.2" opacity=".55"/><path d="M552.6 1115L589.9 1113.8" stroke="#5c9fdc" stroke-width="1.1" opacity=".55"/><path d="M552.6 1115.7L529 1122.7L529 1124.2L552.6 1118.5Z" fill="url(#sbL)" opacity="0.80"/><path d="M552.6 1116.3L523.2 1123.7L523.2 1125L552.6 1119Z" fill="url(#sbL)" opacity="0.80"/><path d="M552.6 1117.6L517.3 1123.5L517.3 1124.6L552.6 1119.7Z" fill="url(#sbL)" opacity="0.82"/><path d="M552.6 1119.1L518.6 1123.9L518.6 1125.1L552.6 1121.2Z" fill="url(#sbL)" opacity="0.89"/><path d="M552.6 1120.3L515 1125L515 1126.6L552.6 1122.6Z" fill="url(#sbL)" opacity="0.77"/><path d="M552.6 1120.8L522.7 1125.2L522.7 1126.9L552.6 1123.5Z" fill="url(#saL)" opacity="0.83"/><path d="M552.6 1122L517.2 1127.1L517.2 1127.7L552.6 1124Z" fill="url(#scL)" opacity="0.80"/><path d="M552.6 1123.1L515.7 1127.1L515.7 1128.2L552.6 1125.2Z" fill="url(#sbL)" opacity="0.79"/><path d="M552.6 1124L520.1 1128.5L520.1 1129.2L552.6 1126.1Z" fill="url(#saL)" opacity="0.81"/><path d="M552.6 1125.5L522 1129L522 1129.9L552.6 1127.7Z" fill="url(#saL)" opacity="0.77"/><path d="M552.6 1125.7L512.4 1128.8L512.4 1129.8L552.6 1128Z" fill="url(#saL)" opacity="0.84"/><path d="M552.6 1127.9L513.8 1130.7L513.8 1131.7L552.6 1129.8Z" fill="url(#scL)" opacity="0.94"/><path d="M552.6 1127.8L526.7 1130.3L526.7 1131.6L552.6 1130.6Z" fill="url(#scL)" opacity="0.85"/><path d="M552.6 1128.7L525.3 1130.2L525.3 1131.4L552.6 1131.6Z" fill="url(#sbL)" opacity="0.79"/><path d="M537.2 1122.9L524.9 1123.8" stroke="#fff" stroke-width="1.1" opacity="0.46"/><path d="M537.1 1119.4L515.9 1122.2" stroke="#fff" stroke-width="1.2" opacity="0.41"/><path d="M545.3 1126.1L519.1 1127.7" stroke="#fff" stroke-width="0.8" opacity="0.34"/><path d="M552.6 1129.6L515.8 1130.6" stroke="#7fb6e4" stroke-width="1.2" opacity=".55"/><path d="M552.6 1129.8L529.5 1128.9" stroke="#7fb6e4" stroke-width="1.4" opacity=".55"/><path d="M552.6 1130.9L521.7 1129.9" stroke="#7fb6e4" stroke-width="1.3" opacity=".55"/><path d="M552.6 1132.5L514.3 1131.5" stroke="#7fb6e4" stroke-width="0.9" opacity=".55"/><path d="M552.6 1116.6L580.4 1122.8L580.4 1123.6L552.6 1118.5Z" fill="url(#saR)" opacity="0.81"/><path d="M552.6 1118L587.2 1123.2L587.2 1124.4L552.6 1120.7Z" fill="url(#scR)" opacity="0.76"/><path d="M552.6 1119L584.2 1122.7L584.2 1123.8L552.6 1121.5Z" fill="url(#saR)" opacity="0.83"/><path d="M552.6 1120.1L582.9 1122.7L582.9 1123.7L552.6 1122Z" fill="url(#sbR)" opacity="0.89"/><path d="M552.6 1121.1L592.6 1122.7L592.6 1123.8L552.6 1123Z" fill="url(#saR)" opacity="0.77"/><path d="M552.6 1121.9L589.5 1123.8L589.5 1124.5L552.6 1123.9Z" fill="url(#saR)" opacity="0.78"/><path d="M552.6 1123L591.4 1123.6L591.4 1124.7L552.6 1125.2Z" fill="url(#sdR)" opacity="0.79"/><path d="M552.6 1123.8L587.9 1123.8L587.9 1125.1L552.6 1126.5Z" fill="url(#saR)" opacity="0.87"/><path d="M552.6 1125.4L588.4 1124.4L588.4 1125.5L552.6 1127.3Z" fill="url(#saR)" opacity="0.78"/><path d="M552.6 1126.6L589.1 1124.2L589.1 1124.8L552.6 1128.8Z" fill="url(#scR)" opacity="0.87"/><path d="M552.6 1126.5L593.5 1124.4L593.5 1126.2L552.6 1129.2Z" fill="url(#saR)" opacity="0.83"/><path d="M552.6 1127.4L593.9 1123.8L593.9 1125L552.6 1130Z" fill="url(#sbR)" opacity="0.80"/><path d="M552.6 1128.5L586.9 1125L586.9 1126.8L552.6 1131.4Z" fill="url(#sbR)" opacity="0.94"/><path d="M552.6 1129.9L585.3 1126L585.3 1127.1L552.6 1132Z" fill="url(#saR)" opacity="0.87"/><path d="M568.3 1118.9L591.3 1117.9" stroke="#fff" stroke-width="0.6" opacity="0.34"/><path d="M566.8 1120.4L590 1120.4" stroke="#fff" stroke-width="1.3" opacity="0.32"/><path d="M562.8 1121L584 1120.3" stroke="#fff" stroke-width="1.2" opacity="0.48"/><path d="M552.6 1130.7L578 1129.8" stroke="#b8c4d0" stroke-width="0.8" opacity=".55"/><path d="M552.6 1129.5L575.9 1130.9" stroke="#5c9fdc" stroke-width="0.8" opacity=".55"/><path d="M552.6 1131.2L593 1131" stroke="#5c9fdc" stroke-width="1.0" opacity=".55"/><path d="M552.6 1131.2L589.4 1131.8" stroke="#5c9fdc" stroke-width="1.3" opacity=".55"/><path d="M552.6 1134.1L527.4 1137.7L527.4 1139.4L552.6 1136.6Z" fill="url(#sbL)" opacity="0.85"/><path d="M552.6 1135.3L514.5 1138.7L514.5 1139.6L552.6 1137.4Z" fill="url(#sbL)" opacity="0.88"/><path d="M552.6 1136.1L519.6 1139L519.6 1140.8L552.6 1138.9Z" fill="url(#sdL)" opacity="0.83"/><path d="M552.6 1137.5L521.3 1140.3L521.3 1141.2L552.6 1139.6Z" fill="url(#sdL)" opacity="0.89"/><path d="M552.6 1137.6L512.8 1141.7L512.8 1142.5L552.6 1140Z" fill="url(#saL)" opacity="0.76"/><path d="M552.6 1139.7L512.5 1141.1L512.5 1142.3L552.6 1141.9Z" fill="url(#sdL)" opacity="0.91"/><path d="M552.6 1140.4L520.7 1143.2L520.7 1144.5L552.6 1142.4Z" fill="url(#saL)" opacity="0.80"/><path d="M552.6 1141.7L519 1143.8L519 1144.8L552.6 1144.2Z" fill="url(#saL)" opacity="0.88"/><path d="M552.6 1142.2L513.5 1144L513.5 1145.4L552.6 1144.5Z" fill="url(#saL)" opacity="0.95"/><path d="M552.6 1142.9L520 1143.3L520 1144.2L552.6 1145.5Z" fill="url(#sdL)" opacity="0.86"/><path d="M552.6 1145.1L520.4 1145.8L520.4 1147L552.6 1147Z" fill="url(#saL)" opacity="0.93"/><path d="M552.6 1145.7L512.5 1145.9L512.5 1147.1L552.6 1148.1Z" fill="url(#saL)" opacity="0.89"/><path d="M552.6 1146.1L524.4 1145.5L524.4 1146.7L552.6 1148.7Z" fill="url(#sbL)" opacity="0.79"/><path d="M552.6 1148L520 1146.7L520 1147.8L552.6 1150.4Z" fill="url(#saL)" opacity="0.81"/><path d="M545.6 1137.5L515.7 1138.8" stroke="#fff" stroke-width="1.1" opacity="0.52"/><path d="M544.8 1140.7L526.9 1141.2" stroke="#fff" stroke-width="1.1" opacity="0.28"/><path d="M545.7 1141.1L525.2 1141.9" stroke="#fff" stroke-width="1.1" opacity="0.53"/><path d="M552.6 1149.1L527.6 1147.4" stroke="#a6c3de" stroke-width="0.9" opacity=".55"/><path d="M552.6 1149.4L531.4 1147.5" stroke="#5c9fdc" stroke-width="1.0" opacity=".55"/><path d="M552.6 1152.3L522.4 1150.7" stroke="#a6c3de" stroke-width="1.4" opacity=".55"/><path d="M552.6 1151.3L526 1151.8" stroke="#b8c4d0" stroke-width="0.9" opacity=".55"/><path d="M552.6 1134.8L576.5 1142.2L576.5 1143.7L552.6 1136.9Z" fill="url(#saR)" opacity="0.83"/><path d="M552.6 1136.1L576 1141.5L576 1142.8L552.6 1138.1Z" fill="url(#scR)" opacity="0.79"/><path d="M552.6 1137L594 1141.2L594 1142.7L552.6 1139.8Z" fill="url(#scR)" opacity="0.84"/><path d="M552.6 1138.4L583.9 1143.1L583.9 1144.6L552.6 1141Z" fill="url(#sbR)" opacity="0.86"/><path d="M552.6 1139.3L585.6 1143.3L585.6 1144.6L552.6 1142.1Z" fill="url(#sbR)" opacity="0.94"/><path d="M552.6 1140.1L589.6 1143L589.6 1144.3L552.6 1142.5Z" fill="url(#sbR)" opacity="0.83"/><path d="M552.6 1141.6L586.3 1142.7L586.3 1143.3L552.6 1143.7Z" fill="url(#sbR)" opacity="0.87"/><path d="M552.6 1141.7L591.5 1144.2L591.5 1145L552.6 1144Z" fill="url(#saR)" opacity="0.83"/><path d="M552.6 1143.3L593.2 1142.7L593.2 1144.1L552.6 1145.4Z" fill="url(#saR)" opacity="0.77"/><path d="M552.6 1144.9L585.3 1143.2L585.3 1144.3L552.6 1146.9Z" fill="url(#sbR)" opacity="0.85"/><path d="M552.6 1145.2L591.2 1143.6L591.2 1144.7L552.6 1147.7Z" fill="url(#saR)" opacity="0.77"/><path d="M552.6 1146.6L588.6 1143.3L588.6 1144.9L552.6 1149Z" fill="url(#sbR)" opacity="0.79"/><path d="M552.6 1146.8L583 1143.8L583 1145.5L552.6 1149.4Z" fill="url(#sbR)" opacity="0.81"/><path d="M552.6 1147.9L589.5 1144.1L589.5 1145.7L552.6 1150.3Z" fill="url(#sbR)" opacity="0.82"/><path d="M566.1 1147.2L584.9 1147.8" stroke="#fff" stroke-width="0.8" opacity="0.47"/><path d="M565.8 1145.5L585.1 1146.3" stroke="#fff" stroke-width="0.9" opacity="0.50"/><path d="M559.5 1138L590.8 1138.2" stroke="#fff" stroke-width="0.6" opacity="0.32"/><path d="M552.6 1152.8L578.4 1154.7" stroke="#7fb6e4" stroke-width="0.9" opacity=".55"/><path d="M552.6 1149.4L582.8 1148.7" stroke="#5c9fdc" stroke-width="1.2" opacity=".55"/><path d="M552.6 1148.6L580.9 1147.9" stroke="#5c9fdc" stroke-width="0.9" opacity=".55"/><path d="M552.6 1151.8L583.2 1150.9" stroke="#a6c3de" stroke-width="1.4" opacity=".55"/><path d="M549.15 825.02 L555.82 833.80 M549.15 838.52 L555.82 847.30 M549.15 852.02 L555.82 860.80 M549.15 865.52 L555.82 874.30 M549.15 879.02 L555.82 887.80 M549.15 892.52 L555.82 901.30 M549.15 906.02 L555.82 914.80 M549.15 919.52 L555.82 928.30 M549.15 933.02 L555.82 941.80 M549.15 946.52 L555.82 955.30 M549.15 960.02 L555.82 968.80 M549.15 973.52 L555.82 982.30 M549.15 987.02 L555.82 995.80 M549.15 1000.52 L555.82 1009.30 M549.15 1014.02 L555.82 1022.80 M549.15 1027.53 L555.82 1036.30 M549.15 1041.03 L555.82 1049.80 M549.15 1054.53 L555.82 1063.30 M549.15 1068.03 L555.82 1076.80 M549.15 1081.53 L555.82 1090.30 M549.15 1095.03 L555.82 1103.80 M549.15 1108.53 L555.82 1117.30 M549.15 1122.03 L555.82 1130.80 M549.15 1135.53 L555.82 1144.30" stroke="#a9b0b9" stroke-width="7.1" stroke-linecap="round" opacity=".95"/><path d="M549.15 825.02 L555.82 833.80 M549.15 838.52 L555.82 847.30 M549.15 852.02 L555.82 860.80 M549.15 865.52 L555.82 874.30 M549.15 879.02 L555.82 887.80 M549.15 892.52 L555.82 901.30 M549.15 906.02 L555.82 914.80 M549.15 919.52 L555.82 928.30 M549.15 933.02 L555.82 941.80 M549.15 946.52 L555.82 955.30 M549.15 960.02 L555.82 968.80 M549.15 973.52 L555.82 982.30 M549.15 987.02 L555.82 995.80 M549.15 1000.52 L555.82 1009.30 M549.15 1014.02 L555.82 1022.80 M549.15 1027.53 L555.82 1036.30 M549.15 1041.03 L555.82 1049.80 M549.15 1054.53 L555.82 1063.30 M549.15 1068.03 L555.82 1076.80 M549.15 1081.53 L555.82 1090.30 M549.15 1095.03 L555.82 1103.80 M549.15 1108.53 L555.82 1117.30 M549.15 1122.03 L555.82 1130.80 M549.15 1135.53 L555.82 1144.30" stroke="#d2d6dc" stroke-width="3.9" stroke-linecap="round"/></g>
<g><rect x="667.50" y="828.57" width="22.00" height="313.87" fill="url(#colG)" opacity="0.9"/><path d="M678.5 826.4L656.8 832.9L656.8 834.2L678.5 829.1Z" fill="url(#saL)" opacity="0.86"/><path d="M678.5 827.2L652.6 833L652.6 834.1L678.5 829.7Z" fill="url(#saL)" opacity="0.83"/><path d="M678.5 828L653.2 833.8L653.2 835.2L678.5 830.3Z" fill="url(#saL)" opacity="0.93"/><path d="M678.5 829L652.2 835.7L652.2 836.8L678.5 831.1Z" fill="url(#sbL)" opacity="0.87"/><path d="M678.5 829.9L651.7 835.7L651.7 836.7L678.5 832.2Z" fill="url(#sdL)" opacity="0.90"/><path d="M678.5 831.4L655 836.6L655 838.2L678.5 834Z" fill="url(#sdL)" opacity="0.76"/><path d="M678.5 831.9L652.6 836.7L652.6 837.8L678.5 834.5Z" fill="url(#sbL)" opacity="0.78"/><path d="M678.5 833.5L648.8 837.4L648.8 838.2L678.5 835.3Z" fill="url(#sbL)" opacity="0.93"/><path d="M678.5 835L651.1 837.8L651.1 838.7L678.5 837Z" fill="url(#sbL)" opacity="0.91"/><path d="M678.5 835.4L655.6 838.7L655.6 839.6L678.5 838Z" fill="url(#saL)" opacity="0.78"/><path d="M678.5 837L654.5 840.2L654.5 841L678.5 839.2Z" fill="url(#sbL)" opacity="0.90"/><path d="M678.5 837.7L651.3 840.7L651.3 842.5L678.5 840.2Z" fill="url(#saL)" opacity="0.87"/><path d="M678.5 838.4L653.8 840.6L653.8 842L678.5 840.8Z" fill="url(#sdL)" opacity="0.86"/><path d="M678.5 839.2L655.6 840.8L655.6 842.2L678.5 841.9Z" fill="url(#saL)" opacity="0.78"/><path d="M669.4 838.1L649 840.2" stroke="#fff" stroke-width="0.8" opacity="0.29"/><path d="M671.8 838.7L657.8 840.6" stroke="#fff" stroke-width="1.1" opacity="0.42"/><path d="M667.6 828.5L652.2 830.1" stroke="#fff" stroke-width="1.2" opacity="0.40"/><path d="M678.5 843.4L661.3 842.6" stroke="#a6c3de" stroke-width="1.2" opacity=".55"/><path d="M678.5 843L651.8 841.1" stroke="#7fb6e4" stroke-width="1.1" opacity=".55"/><path d="M678.5 843.8L659.9 842.2" stroke="#b8c4d0" stroke-width="1.1" opacity=".55"/><path d="M678.5 843.1L650.3 844.7" stroke="#7fb6e4" stroke-width="1.3" opacity=".55"/><path d="M678.5 826.5L707.7 831.8L707.7 833.3L678.5 829.3Z" fill="url(#scR)" opacity="0.94"/><path d="M678.5 827.9L705.8 832L705.8 833.2L678.5 830.2Z" fill="url(#saR)" opacity="0.75"/><path d="M678.5 829L709.1 832.5L709.1 834L678.5 831.6Z" fill="url(#saR)" opacity="0.83"/><path d="M678.5 830.2L706.5 832.7L706.5 833.6L678.5 832.1Z" fill="url(#sdR)" opacity="0.86"/><path d="M678.5 831.3L711.7 833.5L711.7 834.9L678.5 833.4Z" fill="url(#sbR)" opacity="0.89"/><path d="M678.5 831.7L709.3 834.3L709.3 835.3L678.5 834.3Z" fill="url(#sbR)" opacity="0.90"/><path d="M678.5 833L707.6 834.2L707.6 835.4L678.5 835.1Z" fill="url(#sbR)" opacity="0.79"/><path d="M678.5 834.3L707.4 833L707.4 834L678.5 836.5Z" fill="url(#saR)" opacity="0.92"/><path d="M678.5 834.9L711.1 833.2L711.1 834.2L678.5 837.2Z" fill="url(#scR)" opacity="0.86"/><path d="M678.5 835.7L710.6 834.9L710.6 836.4L678.5 838.1Z" fill="url(#scR)" opacity="0.77"/><path d="M678.5 837.5L708.6 834L708.6 834.9L678.5 839.5Z" fill="url(#saR)" opacity="0.80"/><path d="M678.5 837.8L704.7 834.5L704.7 836.1L678.5 840.3Z" fill="url(#sbR)" opacity="0.92"/><path d="M678.5 839.6L705.5 834.7L705.5 835.8L678.5 841.6Z" fill="url(#sbR)" opacity="0.83"/><path d="M678.5 840.5L712.4 834.8L712.4 836.7L678.5 843.3Z" fill="url(#saR)" opacity="0.77"/><path d="M685.9 833.5L701.4 832.9" stroke="#fff" stroke-width="0.6" opacity="0.27"/><path d="M691.6 838.9L709.2 838" stroke="#fff" stroke-width="1.3" opacity="0.29"/><path d="M685.4 835.1L708.4 834" stroke="#fff" stroke-width="0.7" opacity="0.32"/><path d="M678.5 841.3L702.2 840.5" stroke="#5c9fdc" stroke-width="0.8" opacity=".55"/><path d="M678.5 843.8L700.6 845.4" stroke="#b8c4d0" stroke-width="1.2" opacity=".55"/><path d="M678.5 842L710.5 840" stroke="#a6c3de" stroke-width="0.9" opacity=".55"/><path d="M678.5 841.2L713.4 842.3" stroke="#a6c3de" stroke-width="1.2" opacity=".55"/><path d="M678.5 843.5L653.2 847.8L653.2 848.6L678.5 845.7Z" fill="url(#sbL)" opacity="0.86"/><path d="M678.5 844.5L658.2 849L658.2 850.2L678.5 846.3Z" fill="url(#saL)" opacity="0.78"/><path d="M678.5 846L649.3 850L649.3 851L678.5 848Z" fill="url(#scL)" opacity="0.81"/><path d="M678.5 847.5L649 851.5L649 852.3L678.5 849.5Z" fill="url(#sbL)" opacity="0.84"/><path d="M678.5 848.5L652.7 850.8L652.7 852.5L678.5 850.9Z" fill="url(#sdL)" opacity="0.81"/><path d="M678.5 848.7L647.5 851.6L647.5 853L678.5 851Z" fill="url(#saL)" opacity="0.85"/><path d="M678.5 850L652 852.7L652 853.9L678.5 852.1Z" fill="url(#saL)" opacity="0.77"/><path d="M678.5 850.7L650.5 852.4L650.5 853.8L678.5 853Z" fill="url(#saL)" opacity="0.88"/><path d="M678.5 851.8L654.7 853.2L654.7 853.9L678.5 854.1Z" fill="url(#scL)" opacity="0.83"/><path d="M678.5 852.9L655.3 853L655.3 854.8L678.5 855.4Z" fill="url(#sbL)" opacity="0.88"/><path d="M678.5 854.2L653.7 854.1L653.7 856.1L678.5 857Z" fill="url(#sbL)" opacity="0.81"/><path d="M678.5 856.1L653.8 856.8L653.8 857.5L678.5 858Z" fill="url(#saL)" opacity="0.83"/><path d="M678.5 855.9L658.4 856.3L658.4 858.1L678.5 858.5Z" fill="url(#saL)" opacity="0.89"/><path d="M678.5 857.7L655 857L655 858L678.5 860.1Z" fill="url(#sdL)" opacity="0.90"/><path d="M669.9 855.6L659.4 855.4" stroke="#fff" stroke-width="1.0" opacity="0.26"/><path d="M672.7 853.2L651 853" stroke="#fff" stroke-width="1.1" opacity="0.32"/><path d="M670 857.7L653.9 859.1" stroke="#fff" stroke-width="0.8" opacity="0.54"/><path d="M678.5 858.7L662.2 857.8" stroke="#5c9fdc" stroke-width="1.2" opacity=".55"/><path d="M678.5 858.2L658.8 859.2" stroke="#a6c3de" stroke-width="1.4" opacity=".55"/><path d="M678.5 857.4L651.9 858.8" stroke="#a6c3de" stroke-width="0.9" opacity=".55"/><path d="M678.5 862.1L660.2 861.6" stroke="#5c9fdc" stroke-width="0.8" opacity=".55"/><path d="M678.5 844.4L706.7 851.5L706.7 852.7L678.5 847.3Z" fill="url(#sbR)" opacity="0.86"/><path d="M678.5 845.9L707.9 852.2L707.9 852.9L678.5 847.9Z" fill="url(#sdR)" opacity="0.88"/><path d="M678.5 846.6L707.7 852.6L707.7 853.6L678.5 849.3Z" fill="url(#scR)" opacity="0.86"/><path d="M678.5 848.2L710.5 852.9L710.5 854.1L678.5 850.7Z" fill="url(#saR)" opacity="0.77"/><path d="M678.5 848.3L710.8 850.9L710.8 852.6L678.5 851.1Z" fill="url(#scR)" opacity="0.79"/><path d="M678.5 850.2L705.1 851.8L705.1 852.5L678.5 852Z" fill="url(#sbR)" opacity="0.93"/><path d="M678.5 850.7L713.6 852.2L713.6 853.6L678.5 853.1Z" fill="url(#sbR)" opacity="0.91"/><path d="M678.5 852.3L709.8 853.7L709.8 854.5L678.5 854.5Z" fill="url(#sbR)" opacity="0.87"/><path d="M678.5 852.5L713.3 853.7L713.3 854.7L678.5 855.3Z" fill="url(#sbR)" opacity="0.93"/><path d="M678.5 853.6L711.4 853.3L711.4 854.7L678.5 856.4Z" fill="url(#sdR)" opacity="0.78"/><path d="M678.5 854.7L707.2 852.8L707.2 854.3L678.5 857Z" fill="url(#saR)" opacity="0.91"/><path d="M678.5 856.7L705.8 853.2L705.8 854.2L678.5 859Z" fill="url(#sbR)" opacity="0.85"/><path d="M678.5 857.7L705.9 854.5L705.9 855.3L678.5 859.8Z" fill="url(#sdR)" opacity="0.76"/><path d="M678.5 858L704.3 853.2L704.3 854.4L678.5 860.4Z" fill="url(#saR)" opacity="0.84"/><path d="M687.1 850.5L712 850" stroke="#fff" stroke-width="0.7" opacity="0.48"/><path d="M685.8 847L708.7 847.7" stroke="#fff" stroke-width="0.7" opacity="0.26"/><path d="M692.5 853.2L706.1 853.8" stroke="#fff" stroke-width="1.2" opacity="0.39"/><path d="M678.5 857.9L711.1 858.8" stroke="#b8c4d0" stroke-width="1.1" opacity=".55"/><path d="M678.5 860.2L697 860.4" stroke="#a6c3de" stroke-width="0.8" opacity=".55"/><path d="M678.5 858.3L705.7 857.7" stroke="#b8c4d0" stroke-width="1.1" opacity=".55"/><path d="M678.5 860.7L704 861.6" stroke="#b8c4d0" stroke-width="1.2" opacity=".55"/><path d="M678.5 861.2L656 866.2L656 867L678.5 863.3Z" fill="url(#saL)" opacity="0.95"/><path d="M678.5 862.9L652.1 867.8L652.1 869.3L678.5 865.8Z" fill="url(#saL)" opacity="0.92"/><path d="M678.5 863.5L648.1 868.4L648.1 869.7L678.5 866.4Z" fill="url(#saL)" opacity="0.76"/><path d="M678.5 864.9L655.7 869.2L655.7 870.1L678.5 867.8Z" fill="url(#saL)" opacity="0.83"/><path d="M678.5 865.4L648.9 869.2L648.9 870.4L678.5 867.4Z" fill="url(#scL)" opacity="0.88"/><path d="M678.5 866.6L650.1 870.5L650.1 871.9L678.5 869Z" fill="url(#scL)" opacity="0.81"/><path d="M678.5 868.1L647.1 870.8L647.1 871.5L678.5 870.4Z" fill="url(#sdL)" opacity="0.94"/><path d="M678.5 869.2L651 871.6L651 872.6L678.5 871.2Z" fill="url(#saL)" opacity="0.78"/><path d="M678.5 869.9L652 871.6L652 872.2L678.5 871.8Z" fill="url(#saL)" opacity="0.93"/><path d="M678.5 871.7L651.3 874.1L651.3 875L678.5 873.7Z" fill="url(#saL)" opacity="0.94"/><path d="M678.5 871.9L651.6 873.2L651.6 873.9L678.5 873.9Z" fill="url(#sdL)" opacity="0.91"/><path d="M678.5 873.3L650.9 874.2L650.9 875.4L678.5 875.5Z" fill="url(#sbL)" opacity="0.94"/><path d="M678.5 874.3L654.4 874.7L654.4 875.5L678.5 876.3Z" fill="url(#scL)" opacity="0.79"/><path d="M678.5 875.4L655.4 875.3L655.4 876.5L678.5 877.8Z" fill="url(#saL)" opacity="0.78"/><path d="M669.9 865.8L659.4 866.8" stroke="#fff" stroke-width="0.7" opacity="0.31"/><path d="M666.7 868L652.9 868.7" stroke="#fff" stroke-width="1.0" opacity="0.40"/><path d="M670.3 863.7L651.9 865.4" stroke="#fff" stroke-width="1.3" opacity="0.26"/><path d="M678.5 877.7L656.8 877.5" stroke="#b8c4d0" stroke-width="1.2" opacity=".55"/><path d="M678.5 878.6L659.2 880.5" stroke="#a6c3de" stroke-width="0.8" opacity=".55"/><path d="M678.5 876.9L659.7 878" stroke="#a6c3de" stroke-width="1.2" opacity=".55"/><path d="M678.5 878.2L654.4 877.7" stroke="#5c9fdc" stroke-width="1.3" opacity=".55"/><path d="M678.5 862.8L699 867.1L699 868.4L678.5 865.4Z" fill="url(#sbR)" opacity="0.87"/><path d="M678.5 864L704.7 867.8L704.7 869.2L678.5 866.2Z" fill="url(#sdR)" opacity="0.77"/><path d="M678.5 864.4L712.1 868.3L712.1 869.6L678.5 867.1Z" fill="url(#saR)" opacity="0.81"/><path d="M678.5 866.2L711.3 868.1L711.3 868.9L678.5 868.1Z" fill="url(#saR)" opacity="0.80"/><path d="M678.5 866.9L708 868L708 869.1L678.5 869.4Z" fill="url(#sdR)" opacity="0.94"/><path d="M678.5 867.3L705.7 869.5L705.7 871.2L678.5 869.9Z" fill="url(#sdR)" opacity="0.90"/><path d="M678.5 869.2L705.6 870.4L705.6 871.1L678.5 871.1Z" fill="url(#sbR)" opacity="0.95"/><path d="M678.5 869.6L713.3 870.2L713.3 871.5L678.5 872.4Z" fill="url(#sbR)" opacity="0.95"/><path d="M678.5 870.5L710.9 870L710.9 871.1L678.5 873.2Z" fill="url(#saR)" opacity="0.90"/><path d="M678.5 872.2L711.6 870.8L711.6 872.2L678.5 874.6Z" fill="url(#sdR)" opacity="0.90"/><path d="M678.5 872.9L713.2 871L713.2 872.2L678.5 875.8Z" fill="url(#saR)" opacity="0.89"/><path d="M678.5 873.6L709.7 870.2L709.7 871.6L678.5 876.1Z" fill="url(#saR)" opacity="0.84"/><path d="M678.5 874.8L706.7 870.1L706.7 871.3L678.5 877.7Z" fill="url(#sbR)" opacity="0.79"/><path d="M678.5 876.1L706.8 870.1L706.8 871.5L678.5 878.4Z" fill="url(#sbR)" opacity="0.76"/><path d="M687.3 875L704.3 874.3" stroke="#fff" stroke-width="0.6" opacity="0.37"/><path d="M689.5 868.4L708.9 868.5" stroke="#fff" stroke-width="0.8" opacity="0.48"/><path d="M688.8 871.1L712.2 871" stroke="#fff" stroke-width="1.1" opacity="0.36"/><path d="M678.5 879.7L705.4 880.5" stroke="#a6c3de" stroke-width="1.1" opacity=".55"/><path d="M678.5 878.9L709.6 880.8" stroke="#b8c4d0" stroke-width="1.1" opacity=".55"/><path d="M678.5 879.3L707.9 881.2" stroke="#b8c4d0" stroke-width="1.2" opacity=".55"/><path d="M678.5 877.7L707.8 878.9" stroke="#5c9fdc" stroke-width="1.1" opacity=".55"/><path d="M678.5 879L651.8 886L651.8 887.8L678.5 881.7Z" fill="url(#sbL)" opacity="0.85"/><path d="M678.5 880.4L654.7 887.4L654.7 888.2L678.5 882.3Z" fill="url(#sdL)" opacity="0.86"/><path d="M678.5 881.6L655.6 888.5L655.6 889.1L678.5 883.6Z" fill="url(#scL)" opacity="0.87"/><path d="M678.5 882.4L651.2 888.8L651.2 889.6L678.5 884.3Z" fill="url(#sbL)" opacity="0.88"/><path d="M678.5 883.7L647.4 889.5L647.4 890.4L678.5 886.4Z" fill="url(#sdL)" opacity="0.87"/><path d="M678.5 884.1L650.9 889L650.9 890.3L678.5 886.9Z" fill="url(#saL)" opacity="0.94"/><path d="M678.5 885.6L650.2 890.9L650.2 892L678.5 887.9Z" fill="url(#sbL)" opacity="0.91"/><path d="M678.5 886.9L648.5 892.1L648.5 893.4L678.5 889.3Z" fill="url(#sbL)" opacity="0.82"/><path d="M678.5 887.6L647.9 892.5L647.9 893.2L678.5 889.8Z" fill="url(#saL)" opacity="0.79"/><path d="M678.5 889.1L654.4 891.6L654.4 893L678.5 891.4Z" fill="url(#saL)" opacity="0.91"/><path d="M678.5 889.5L653.5 893.9L653.5 894.8L678.5 892.2Z" fill="url(#sbL)" opacity="0.84"/><path d="M678.5 891.2L647.2 893.7L647.2 894.6L678.5 893.5Z" fill="url(#sbL)" opacity="0.87"/><path d="M678.5 891.3L647.4 893.9L647.4 895.1L678.5 893.9Z" fill="url(#scL)" opacity="0.75"/><path d="M678.5 893.7L652.6 894.4L652.6 895.7L678.5 895.9Z" fill="url(#scL)" opacity="0.77"/><path d="M672.8 889.7L650.5 890.7" stroke="#fff" stroke-width="1.2" opacity="0.49"/><path d="M666.8 887.5L651 889.8" stroke="#fff" stroke-width="0.8" opacity="0.28"/><path d="M673 882.9L652.2 885.2" stroke="#fff" stroke-width="1.3" opacity="0.36"/><path d="M678.5 894.7L649.2 895.9" stroke="#b8c4d0" stroke-width="0.7" opacity=".55"/><path d="M678.5 897.9L656.2 899.1" stroke="#a6c3de" stroke-width="1.1" opacity=".55"/><path d="M678.5 894.5L650.3 894.6" stroke="#a6c3de" stroke-width="0.8" opacity=".55"/><path d="M678.5 897.7L661.9 898.9" stroke="#7fb6e4" stroke-width="0.9" opacity=".55"/><path d="M678.5 880.6L708.2 889.1L708.2 890L678.5 882.7Z" fill="url(#sbR)" opacity="0.85"/><path d="M678.5 881.3L707.7 888.1L707.7 889.4L678.5 883.4Z" fill="url(#saR)" opacity="0.93"/><path d="M678.5 882.6L706.8 888.3L706.8 889.9L678.5 884.9Z" fill="url(#sbR)" opacity="0.84"/><path d="M678.5 883.7L710.1 889.2L710.1 891.1L678.5 886.5Z" fill="url(#saR)" opacity="0.77"/><path d="M678.5 884.4L712.8 889.8L712.8 891L678.5 886.3Z" fill="url(#sbR)" opacity="0.88"/><path d="M678.5 885.2L706.5 890L706.5 890.9L678.5 888Z" fill="url(#scR)" opacity="0.88"/><path d="M678.5 886.8L709.1 889.3L709.1 891L678.5 889.3Z" fill="url(#sbR)" opacity="0.76"/><path d="M678.5 887.7L707.3 889.1L707.3 890.2L678.5 890.3Z" fill="url(#saR)" opacity="0.91"/><path d="M678.5 888.4L707.5 889.8L707.5 891.1L678.5 891Z" fill="url(#saR)" opacity="0.84"/><path d="M678.5 889.4L706.9 890.8L706.9 891.7L678.5 891.6Z" fill="url(#sdR)" opacity="0.83"/><path d="M678.5 891.2L706.5 889.6L706.5 891L678.5 893.6Z" fill="url(#saR)" opacity="0.93"/><path d="M678.5 891.1L705.6 889.7L705.6 890.6L678.5 894Z" fill="url(#sbR)" opacity="0.93"/><path d="M678.5 892.8L704.8 890.4L704.8 891.4L678.5 895Z" fill="url(#sdR)" opacity="0.86"/><path d="M678.5 894.5L707.1 890.9L707.1 891.7L678.5 896.7Z" fill="url(#scR)" opacity="0.87"/><path d="M692.5 890.4L702.3 891.1" stroke="#fff" stroke-width="0.7" opacity="0.52"/><path d="M691.6 889.3L708 889.9" stroke="#fff" stroke-width="1.1" opacity="0.33"/><path d="M689.4 888.4L709.4 888.8" stroke="#fff" stroke-width="1.1" opacity="0.41"/><path d="M678.5 896.1L697.9 896.2" stroke="#7fb6e4" stroke-width="1.4" opacity=".55"/><path d="M678.5 894L709.8 894" stroke="#a6c3de" stroke-width="1.1" opacity=".55"/><path d="M678.5 895.8L713.6 897.1" stroke="#5c9fdc" stroke-width="1.0" opacity=".55"/><path d="M678.5 893.7L704.2 894.1" stroke="#5c9fdc" stroke-width="1.2" opacity=".55"/><path d="M678.5 896.8L657 903.1L657 904.6L678.5 899.2Z" fill="url(#sbL)" opacity="0.77"/><path d="M678.5 898.6L649.7 904.1L649.7 905.8L678.5 901.5Z" fill="url(#sbL)" opacity="0.80"/><path d="M678.5 899.5L647.1 905.1L647.1 906.4L678.5 901.4Z" fill="url(#saL)" opacity="0.78"/><path d="M678.5 900.7L650.5 906.2L650.5 907.1L678.5 903Z" fill="url(#saL)" opacity="0.80"/><path d="M678.5 901L649.6 906.2L649.6 907.4L678.5 903.6Z" fill="url(#saL)" opacity="0.81"/><path d="M678.5 902.3L655.3 907.2L655.3 908L678.5 904.6Z" fill="url(#sdL)" opacity="0.78"/><path d="M678.5 903.2L650.2 908.4L650.2 909.4L678.5 905.5Z" fill="url(#sbL)" opacity="0.83"/><path d="M678.5 904.3L651.7 908.4L651.7 909.8L678.5 907Z" fill="url(#sbL)" opacity="0.75"/><path d="M678.5 906L653.9 909.1L653.9 910.8L678.5 908.6Z" fill="url(#sbL)" opacity="0.91"/><path d="M678.5 907L650.1 910.3L650.1 911L678.5 909Z" fill="url(#saL)" opacity="0.91"/><path d="M678.5 907.2L647.4 910.5L647.4 911.9L678.5 909.6Z" fill="url(#saL)" opacity="0.93"/><path d="M678.5 908.4L649.3 910.6L649.3 912.3L678.5 911Z" fill="url(#saL)" opacity="0.94"/><path d="M678.5 909.9L659.5 912.8L659.5 913.8L678.5 912.2Z" fill="url(#scL)" opacity="0.86"/><path d="M678.5 910.7L655.6 912.2L655.6 913.1L678.5 913.1Z" fill="url(#sdL)" opacity="0.89"/><path d="M668.9 905.7L654.5 907.5" stroke="#fff" stroke-width="0.6" opacity="0.42"/><path d="M666.1 902.2L650.5 903.1" stroke="#fff" stroke-width="0.7" opacity="0.37"/><path d="M667.6 900.6L649.4 902.6" stroke="#fff" stroke-width="0.9" opacity="0.49"/><path d="M678.5 910.9L656.2 911" stroke="#b8c4d0" stroke-width="0.7" opacity=".55"/><path d="M678.5 912.2L656 910.4" stroke="#7fb6e4" stroke-width="1.2" opacity=".55"/><path d="M678.5 913L649.9 913.3" stroke="#5c9fdc" stroke-width="1.0" opacity=".55"/><path d="M678.5 912L655.6 911.1" stroke="#b8c4d0" stroke-width="1.0" opacity=".55"/><path d="M678.5 898.4L709.6 905L709.6 906L678.5 900.4Z" fill="url(#sdR)" opacity="0.89"/><path d="M678.5 899.1L708.4 905L708.4 906.2L678.5 901.5Z" fill="url(#sbR)" opacity="0.92"/><path d="M678.5 900.7L713.2 905.1L713.2 906.4L678.5 903Z" fill="url(#sbR)" opacity="0.79"/><path d="M678.5 901.1L706.1 904.2L706.1 905.4L678.5 903.9Z" fill="url(#sdR)" opacity="0.91"/><path d="M678.5 902.1L709.3 904.1L709.3 905L678.5 904.1Z" fill="url(#saR)" opacity="0.93"/><path d="M678.5 903.1L713.8 905.9L713.8 906.8L678.5 905.8Z" fill="url(#saR)" opacity="0.94"/><path d="M678.5 903.9L711.9 905.7L711.9 907.3L678.5 906.3Z" fill="url(#saR)" opacity="0.88"/><path d="M678.5 905.9L710.1 906.7L710.1 907.4L678.5 908.2Z" fill="url(#sbR)" opacity="0.77"/><path d="M678.5 906.2L711.1 905.6L711.1 906.9L678.5 909.1Z" fill="url(#saR)" opacity="0.93"/><path d="M678.5 906.7L710.5 905.9L710.5 907.1L678.5 909.6Z" fill="url(#scR)" opacity="0.83"/><path d="M678.5 908.6L712.4 906.9L712.4 908.2L678.5 911Z" fill="url(#saR)" opacity="0.81"/><path d="M678.5 909.5L705.4 906.7L705.4 908.2L678.5 911.6Z" fill="url(#sdR)" opacity="0.84"/><path d="M678.5 910.7L703.3 906.2L703.3 907L678.5 913.3Z" fill="url(#scR)" opacity="0.91"/><path d="M678.5 911.7L701.2 906.8L701.2 908.4L678.5 914.6Z" fill="url(#saR)" opacity="0.81"/><path d="M689.7 902.3L709.3 901.3" stroke="#fff" stroke-width="1.1" opacity="0.37"/><path d="M684.8 908.7L707.1 909.2" stroke="#fff" stroke-width="0.8" opacity="0.49"/><path d="M686 908.8L703.6 908.2" stroke="#fff" stroke-width="1.3" opacity="0.36"/><path d="M678.5 910.9L697.8 912.7" stroke="#5c9fdc" stroke-width="1.3" opacity=".55"/><path d="M678.5 915.5L698.5 914" stroke="#b8c4d0" stroke-width="0.7" opacity=".55"/><path d="M678.5 911.6L700.6 911.3" stroke="#7fb6e4" stroke-width="0.9" opacity=".55"/><path d="M678.5 912.7L709.9 912.9" stroke="#7fb6e4" stroke-width="1.1" opacity=".55"/><path d="M678.5 915.3L658.3 920.8L658.3 922L678.5 918Z" fill="url(#sdL)" opacity="0.77"/><path d="M678.5 915.8L652.4 921.4L652.4 922.4L678.5 918.1Z" fill="url(#saL)" opacity="0.75"/><path d="M678.5 916.9L653.5 921.5L653.5 922.3L678.5 918.9Z" fill="url(#saL)" opacity="0.94"/><path d="M678.5 917.8L650.6 921.9L650.6 923.2L678.5 920.5Z" fill="url(#sbL)" opacity="0.85"/><path d="M678.5 919.4L655.6 923.8L655.6 924.6L678.5 921.7Z" fill="url(#saL)" opacity="0.94"/><path d="M678.5 920.4L655.6 924.3L655.6 925L678.5 922.4Z" fill="url(#saL)" opacity="0.95"/><path d="M678.5 921.1L651.5 925L651.5 926L678.5 923.2Z" fill="url(#saL)" opacity="0.82"/><path d="M678.5 922.4L647.7 924.3L647.7 925.1L678.5 924.8Z" fill="url(#saL)" opacity="0.77"/><path d="M678.5 923.5L648.4 925.5L648.4 926.5L678.5 925.5Z" fill="url(#saL)" opacity="0.85"/><path d="M678.5 924.3L654.4 925.3L654.4 926.6L678.5 926.6Z" fill="url(#scL)" opacity="0.95"/><path d="M678.5 925.5L655.2 926.9L655.2 927.9L678.5 927.6Z" fill="url(#sdL)" opacity="0.87"/><path d="M678.5 926.5L653 926.5L653 927.4L678.5 928.5Z" fill="url(#sbL)" opacity="0.83"/><path d="M678.5 927.9L656.8 928.4L656.8 929.8L678.5 930.5Z" fill="url(#sdL)" opacity="0.89"/><path d="M678.5 928.6L653.9 929.2L653.9 930.5L678.5 931.5Z" fill="url(#scL)" opacity="0.89"/><path d="M667.6 927.8L655.1 929.1" stroke="#fff" stroke-width="0.9" opacity="0.45"/><path d="M668.3 918.3L653.1 918.7" stroke="#fff" stroke-width="0.8" opacity="0.41"/><path d="M669.1 925.4L652.1 926.8" stroke="#fff" stroke-width="1.0" opacity="0.51"/><path d="M678.5 930.2L654.6 928.2" stroke="#5c9fdc" stroke-width="0.9" opacity=".55"/><path d="M678.5 928.9L651.2 930.2" stroke="#b8c4d0" stroke-width="1.2" opacity=".55"/><path d="M678.5 928.6L654.4 929.1" stroke="#7fb6e4" stroke-width="1.3" opacity=".55"/><path d="M678.5 933.5L654.1 934.3" stroke="#5c9fdc" stroke-width="0.8" opacity=".55"/><path d="M678.5 915.9L706.2 924.1L706.2 925.2L678.5 918.1Z" fill="url(#sbR)" opacity="0.90"/><path d="M678.5 917.3L708.3 924.4L708.3 925.7L678.5 919.4Z" fill="url(#sbR)" opacity="0.88"/><path d="M678.5 918.2L713.3 924.4L713.3 925.6L678.5 921Z" fill="url(#sbR)" opacity="0.86"/><path d="M678.5 918.8L704.7 925.1L704.7 926.4L678.5 920.9Z" fill="url(#scR)" opacity="0.81"/><path d="M678.5 920.6L713.9 924.8L713.9 925.5L678.5 922.5Z" fill="url(#sbR)" opacity="0.93"/><path d="M678.5 920.7L709.1 924.4L709.1 925.9L678.5 923.5Z" fill="url(#saR)" opacity="0.80"/><path d="M678.5 922.6L713.3 926.2L713.3 927L678.5 925.2Z" fill="url(#saR)" opacity="0.90"/><path d="M678.5 923.5L709 926.5L709 928.3L678.5 926.2Z" fill="url(#saR)" opacity="0.90"/><path d="M678.5 923.8L708.7 926.6L708.7 928.2L678.5 926.5Z" fill="url(#saR)" opacity="0.83"/><path d="M678.5 925.3L711.1 925.6L711.1 926.6L678.5 928Z" fill="url(#sbR)" opacity="0.85"/><path d="M678.5 927.3L711.1 927.5L711.1 928.1L678.5 929.1Z" fill="url(#saR)" opacity="0.79"/><path d="M678.5 927.8L704.3 926.7L704.3 927.9L678.5 930.2Z" fill="url(#saR)" opacity="0.86"/><path d="M678.5 928.3L702.3 926.4L702.3 928L678.5 930.8Z" fill="url(#sbR)" opacity="0.90"/><path d="M678.5 929.1L710.1 926L710.1 927.5L678.5 931.6Z" fill="url(#saR)" opacity="0.82"/><path d="M688.8 927.7L711.2 928.8" stroke="#fff" stroke-width="1.3" opacity="0.29"/><path d="M685.5 921.4L702.1 923.6" stroke="#fff" stroke-width="0.9" opacity="0.36"/><path d="M686.1 928.2L700.1 930.3" stroke="#fff" stroke-width="1.0" opacity="0.39"/><path d="M678.5 928.6L696.5 929.7" stroke="#7fb6e4" stroke-width="1.0" opacity=".55"/><path d="M678.5 931.7L697.8 933.6" stroke="#b8c4d0" stroke-width="0.8" opacity=".55"/><path d="M678.5 929.6L705 931.2" stroke="#a6c3de" stroke-width="0.7" opacity=".55"/><path d="M678.5 932.5L710.8 930.6" stroke="#7fb6e4" stroke-width="0.8" opacity=".55"/><path d="M678.5 932.8L655.6 938.5L655.6 939.2L678.5 934.8Z" fill="url(#saL)" opacity="0.92"/><path d="M678.5 934.3L649.9 939.4L649.9 940.9L678.5 936.7Z" fill="url(#sbL)" opacity="0.86"/><path d="M678.5 935.4L649.5 940.4L649.5 941.7L678.5 937.5Z" fill="url(#scL)" opacity="0.77"/><path d="M678.5 935.5L649 940.1L649 941.9L678.5 938.2Z" fill="url(#sdL)" opacity="0.76"/><path d="M678.5 937.6L653.2 942.6L653.2 943.6L678.5 939.8Z" fill="url(#sbL)" opacity="0.95"/><path d="M678.5 938L647.6 942.4L647.6 943.5L678.5 939.8Z" fill="url(#saL)" opacity="0.95"/><path d="M678.5 939.3L653 942L653 943.3L678.5 941.3Z" fill="url(#sdL)" opacity="0.84"/><path d="M678.5 940.6L654.5 943.1L654.5 943.9L678.5 943.1Z" fill="url(#sdL)" opacity="0.88"/><path d="M678.5 941.2L651.8 943.9L651.8 945.2L678.5 943.6Z" fill="url(#sbL)" opacity="0.88"/><path d="M678.5 942.4L647.4 945.7L647.4 946.8L678.5 944.8Z" fill="url(#sbL)" opacity="0.75"/><path d="M678.5 942.9L649.5 944.6L649.5 946.3L678.5 945.7Z" fill="url(#scL)" opacity="0.85"/><path d="M678.5 944.7L653.6 945.7L653.6 947L678.5 947.1Z" fill="url(#saL)" opacity="0.86"/><path d="M678.5 945.5L653.3 947.3L653.3 948.2L678.5 948Z" fill="url(#saL)" opacity="0.87"/><path d="M678.5 946.4L648.8 947.9L648.8 949.5L678.5 949.3Z" fill="url(#scL)" opacity="0.91"/><path d="M670.4 944.3L652.7 944.8" stroke="#fff" stroke-width="1.2" opacity="0.45"/><path d="M672.9 944.4L655 945.4" stroke="#fff" stroke-width="1.2" opacity="0.48"/><path d="M666.1 936.9L657.3 937.6" stroke="#fff" stroke-width="1.0" opacity="0.38"/><path d="M678.5 951.4L662 953" stroke="#5c9fdc" stroke-width="1.1" opacity=".55"/><path d="M678.5 949.3L652.2 948.1" stroke="#5c9fdc" stroke-width="0.8" opacity=".55"/><path d="M678.5 948.1L647.1 949.5" stroke="#b8c4d0" stroke-width="1.2" opacity=".55"/><path d="M678.5 949.6L650.4 951" stroke="#a6c3de" stroke-width="1.4" opacity=".55"/><path d="M678.5 934.3L702.9 939.5L702.9 940.8L678.5 936.4Z" fill="url(#saR)" opacity="0.80"/><path d="M678.5 935L707.2 940.2L707.2 940.9L678.5 936.8Z" fill="url(#sbR)" opacity="0.77"/><path d="M678.5 935.5L704.4 940.2L704.4 941.1L678.5 937.8Z" fill="url(#saR)" opacity="0.87"/><path d="M678.5 936.7L711.8 941L711.8 942.3L678.5 939.5Z" fill="url(#saR)" opacity="0.84"/><path d="M678.5 937.9L704.6 941.4L704.6 942.2L678.5 940.3Z" fill="url(#scR)" opacity="0.91"/><path d="M678.5 938.8L710.7 941.5L710.7 942.5L678.5 940.8Z" fill="url(#sbR)" opacity="0.90"/><path d="M678.5 940.5L709.3 942.2L709.3 943.6L678.5 942.8Z" fill="url(#sdR)" opacity="0.80"/><path d="M678.5 940.9L710 942.7L710 944L678.5 943.1Z" fill="url(#scR)" opacity="0.77"/><path d="M678.5 942.5L709.9 941.6L709.9 942.5L678.5 945Z" fill="url(#saR)" opacity="0.82"/><path d="M678.5 943.4L713.7 942.1L713.7 942.8L678.5 945.4Z" fill="url(#sbR)" opacity="0.92"/><path d="M678.5 943.6L712.7 941.9L712.7 943.6L678.5 946.3Z" fill="url(#scR)" opacity="0.77"/><path d="M678.5 945.3L709.5 943.5L709.5 944.4L678.5 948.2Z" fill="url(#saR)" opacity="0.84"/><path d="M678.5 946.3L705.9 942.2L705.9 943.6L678.5 948.4Z" fill="url(#sdR)" opacity="0.88"/><path d="M678.5 947.2L703.4 943.4L703.4 944.1L678.5 949.6Z" fill="url(#sdR)" opacity="0.87"/><path d="M685.1 945.5L708.1 946.6" stroke="#fff" stroke-width="0.8" opacity="0.48"/><path d="M689.2 947.1L711.3 946.6" stroke="#fff" stroke-width="1.1" opacity="0.27"/><path d="M684.2 941.5L706.5 942.6" stroke="#fff" stroke-width="0.9" opacity="0.53"/><path d="M678.5 947.2L699.3 949.1" stroke="#b8c4d0" stroke-width="1.2" opacity=".55"/><path d="M678.5 948L704.9 947.4" stroke="#b8c4d0" stroke-width="0.8" opacity=".55"/><path d="M678.5 949L706.8 950.5" stroke="#b8c4d0" stroke-width="0.7" opacity=".55"/><path d="M678.5 947.2L702.9 946.4" stroke="#a6c3de" stroke-width="0.9" opacity=".55"/><path d="M678.5 950.7L658.2 955.3L658.2 957L678.5 953.4Z" fill="url(#saL)" opacity="0.81"/><path d="M678.5 951.6L650.6 956.1L650.6 957.1L678.5 954Z" fill="url(#sdL)" opacity="0.95"/><path d="M678.5 952.4L653.9 956.5L653.9 957.8L678.5 954.6Z" fill="url(#scL)" opacity="0.78"/><path d="M678.5 954.5L655.5 957.4L655.5 958.6L678.5 956.4Z" fill="url(#scL)" opacity="0.94"/><path d="M678.5 954.8L650.4 958L650.4 959.1L678.5 957.7Z" fill="url(#scL)" opacity="0.90"/><path d="M678.5 956.3L653.2 959.1L653.2 959.7L678.5 958.1Z" fill="url(#sbL)" opacity="0.75"/><path d="M678.5 957.2L652.2 960.3L652.2 961.2L678.5 959.1Z" fill="url(#sbL)" opacity="0.81"/><path d="M678.5 957.8L647.6 959.6L647.6 960.4L678.5 960.2Z" fill="url(#saL)" opacity="0.75"/><path d="M678.5 958.8L650.8 959.8L650.8 961L678.5 961.7Z" fill="url(#saL)" opacity="0.89"/><path d="M678.5 959.8L651.6 960.7L651.6 961.5L678.5 962.1Z" fill="url(#sbL)" opacity="0.82"/><path d="M678.5 961.2L652.8 963L652.8 963.6L678.5 963.2Z" fill="url(#sbL)" opacity="0.78"/><path d="M678.5 962L649.7 962.8L649.7 963.7L678.5 964.1Z" fill="url(#sdL)" opacity="0.87"/><path d="M678.5 963.4L652.1 964.2L652.1 965L678.5 965.8Z" fill="url(#sdL)" opacity="0.79"/><path d="M678.5 964.2L653.5 964.7L653.5 965.6L678.5 966.7Z" fill="url(#saL)" opacity="0.77"/><path d="M667 958.2L652.8 959.1" stroke="#fff" stroke-width="1.3" opacity="0.26"/><path d="M672.5 957.2L649 958.2" stroke="#fff" stroke-width="0.8" opacity="0.51"/><path d="M670 963.7L649.1 964" stroke="#fff" stroke-width="1.1" opacity="0.55"/><path d="M678.5 965.3L651.7 966.6" stroke="#5c9fdc" stroke-width="0.8" opacity=".55"/><path d="M678.5 968.1L658 966.6" stroke="#5c9fdc" stroke-width="1.1" opacity=".55"/><path d="M678.5 968L654.3 969.7" stroke="#5c9fdc" stroke-width="1.0" opacity=".55"/><path d="M678.5 964.3L651.2 963.9" stroke="#b8c4d0" stroke-width="0.9" opacity=".55"/><path d="M678.5 951.9L705.4 958.8L705.4 960.3L678.5 954.4Z" fill="url(#sbR)" opacity="0.76"/><path d="M678.5 953.1L707.2 959.3L707.2 960.7L678.5 955.3Z" fill="url(#scR)" opacity="0.80"/><path d="M678.5 954L713.2 960.4L713.2 961.3L678.5 956Z" fill="url(#saR)" opacity="0.76"/><path d="M678.5 954.7L704.2 960.9L704.2 962.2L678.5 956.9Z" fill="url(#sbR)" opacity="0.94"/><path d="M678.5 955.9L710.4 960.5L710.4 961.6L678.5 958.8Z" fill="url(#sdR)" opacity="0.95"/><path d="M678.5 957.2L708 960.8L708 961.6L678.5 959.5Z" fill="url(#sdR)" opacity="0.84"/><path d="M678.5 957.9L704.8 960.6L704.8 961.5L678.5 960Z" fill="url(#sdR)" opacity="0.84"/><path d="M678.5 958.5L711.9 961.4L711.9 962.7L678.5 961.2Z" fill="url(#sbR)" opacity="0.77"/><path d="M678.5 959.6L713.7 962.1L713.7 963.2L678.5 962.1Z" fill="url(#saR)" opacity="0.92"/><path d="M678.5 961L712.7 961.2L712.7 962.2L678.5 962.9Z" fill="url(#sbR)" opacity="0.79"/><path d="M678.5 962.5L712.7 962.8L712.7 963.6L678.5 964.4Z" fill="url(#sdR)" opacity="0.78"/><path d="M678.5 963.2L711.3 961.3L711.3 962.4L678.5 965.9Z" fill="url(#sdR)" opacity="0.83"/><path d="M678.5 963.7L712.8 961.9L712.8 962.8L678.5 966.2Z" fill="url(#scR)" opacity="0.79"/><path d="M678.5 965.6L702.2 962.3L702.2 963.5L678.5 968Z" fill="url(#saR)" opacity="0.80"/><path d="M688.5 961.3L702.7 961.5" stroke="#fff" stroke-width="1.1" opacity="0.36"/><path d="M685.7 956.8L704.5 957.1" stroke="#fff" stroke-width="1.2" opacity="0.42"/><path d="M691.9 961.8L703 963.5" stroke="#fff" stroke-width="0.7" opacity="0.34"/><path d="M678.5 965.7L711.8 965.9" stroke="#a6c3de" stroke-width="1.3" opacity=".55"/><path d="M678.5 966L706.5 965.4" stroke="#a6c3de" stroke-width="1.3" opacity=".55"/><path d="M678.5 965.1L710.5 965.8" stroke="#7fb6e4" stroke-width="1.3" opacity=".55"/><path d="M678.5 966.7L705.7 965.9" stroke="#a6c3de" stroke-width="0.9" opacity=".55"/><path d="M678.5 968.1L653.3 972.3L653.3 973.8L678.5 970.8Z" fill="url(#sbL)" opacity="0.81"/><path d="M678.5 969.4L656.5 974.4L656.5 975.6L678.5 972.2Z" fill="url(#sbL)" opacity="0.91"/><path d="M678.5 970.6L654.5 975.1L654.5 976.4L678.5 973.5Z" fill="url(#saL)" opacity="0.77"/><path d="M678.5 971.9L651.8 976.2L651.8 977.6L678.5 974.4Z" fill="url(#saL)" opacity="0.83"/><path d="M678.5 973L655.5 976.6L655.5 978.3L678.5 975.5Z" fill="url(#sdL)" opacity="0.81"/><path d="M678.5 974.1L652.7 976.4L652.7 978.1L678.5 977Z" fill="url(#saL)" opacity="0.79"/><path d="M678.5 974.8L653.9 976.4L653.9 977.6L678.5 977.3Z" fill="url(#sdL)" opacity="0.77"/><path d="M678.5 975.5L650.9 977.3L650.9 978.4L678.5 978Z" fill="url(#scL)" opacity="0.87"/><path d="M678.5 976.4L649 979.3L649 980.6L678.5 979.2Z" fill="url(#scL)" opacity="0.88"/><path d="M678.5 977.9L654.4 978.6L654.4 980.4L678.5 980.7Z" fill="url(#scL)" opacity="0.82"/><path d="M678.5 979.1L653.5 979.3L653.5 980.3L678.5 981.4Z" fill="url(#saL)" opacity="0.84"/><path d="M678.5 980L652.8 981L652.8 982.2L678.5 982Z" fill="url(#sdL)" opacity="0.89"/><path d="M678.5 980.7L654.1 981.1L654.1 982.3L678.5 983.4Z" fill="url(#sbL)" opacity="0.80"/><path d="M678.5 982L650.5 982.1L650.5 983.1L678.5 984.1Z" fill="url(#sdL)" opacity="0.93"/><path d="M669.5 977.7L649.1 979.4" stroke="#fff" stroke-width="0.8" opacity="0.49"/><path d="M673.4 978.6L652.3 979.1" stroke="#fff" stroke-width="0.9" opacity="0.45"/><path d="M672.8 972.2L652.7 973.7" stroke="#fff" stroke-width="1.0" opacity="0.35"/><path d="M678.5 986.8L658.7 988.7" stroke="#5c9fdc" stroke-width="0.9" opacity=".55"/><path d="M678.5 984.7L660.8 984" stroke="#7fb6e4" stroke-width="1.1" opacity=".55"/><path d="M678.5 986.3L662.4 985.6" stroke="#b8c4d0" stroke-width="1.0" opacity=".55"/><path d="M678.5 982.2L654.1 981.6" stroke="#a6c3de" stroke-width="0.7" opacity=".55"/><path d="M678.5 969.2L701.5 975.6L701.5 977.1L678.5 971.6Z" fill="url(#scR)" opacity="0.92"/><path d="M678.5 970.5L705 976.9L705 977.8L678.5 972.8Z" fill="url(#sdR)" opacity="0.83"/><path d="M678.5 972.1L707.2 975.4L707.2 976.6L678.5 974Z" fill="url(#saR)" opacity="0.85"/><path d="M678.5 973L704.6 976.2L704.6 977.4L678.5 974.9Z" fill="url(#saR)" opacity="0.85"/><path d="M678.5 973.3L709.2 975.8L709.2 976.5L678.5 975.7Z" fill="url(#sbR)" opacity="0.86"/><path d="M678.5 974.7L706.9 977.5L706.9 978.9L678.5 976.8Z" fill="url(#saR)" opacity="0.86"/><path d="M678.5 976.3L707.8 976.1L707.8 977.1L678.5 978.5Z" fill="url(#sbR)" opacity="0.84"/><path d="M678.5 976.7L704.6 976.9L704.6 978.5L678.5 979.2Z" fill="url(#saR)" opacity="0.86"/><path d="M678.5 977.9L713.5 977.6L713.5 979.1L678.5 980.3Z" fill="url(#saR)" opacity="0.95"/><path d="M678.5 978.7L706.7 978.3L706.7 979.4L678.5 980.9Z" fill="url(#scR)" opacity="0.88"/><path d="M678.5 979.9L707.8 977.1L707.8 978.5L678.5 982.6Z" fill="url(#saR)" opacity="0.92"/><path d="M678.5 981L712.7 978.3L712.7 979.3L678.5 983Z" fill="url(#saR)" opacity="0.93"/><path d="M678.5 981.1L705.9 977.4L705.9 979.3L678.5 984Z" fill="url(#sbR)" opacity="0.77"/><path d="M678.5 983.4L704.3 977.8L704.3 978.4L678.5 985.4Z" fill="url(#sbR)" opacity="0.77"/><path d="M690.5 971.7L704.6 972" stroke="#fff" stroke-width="0.7" opacity="0.38"/><path d="M687.8 972.3L708 973.2" stroke="#fff" stroke-width="0.8" opacity="0.48"/><path d="M684.2 977.2L705 976.2" stroke="#fff" stroke-width="0.9" opacity="0.26"/><path d="M678.5 986.8L711.4 986.8" stroke="#5c9fdc" stroke-width="0.7" opacity=".55"/><path d="M678.5 983.3L696.6 982.3" stroke="#5c9fdc" stroke-width="1.1" opacity=".55"/><path d="M678.5 982.4L699.5 980.9" stroke="#7fb6e4" stroke-width="1.1" opacity=".55"/><path d="M678.5 983.1L699.2 981.2" stroke="#7fb6e4" stroke-width="1.1" opacity=".55"/><path d="M678.5 986L660.6 992.9L660.6 994.1L678.5 988.9Z" fill="url(#sdL)" opacity="0.91"/><path d="M678.5 987.6L653.6 994.3L653.6 995.5L678.5 990.4Z" fill="url(#saL)" opacity="0.93"/><path d="M678.5 988.2L655.6 992.9L655.6 994L678.5 990.3Z" fill="url(#sbL)" opacity="0.81"/><path d="M678.5 989.1L648.1 994.6L648.1 995.6L678.5 991.8Z" fill="url(#saL)" opacity="0.86"/><path d="M678.5 990.6L655.2 996.2L655.2 997.5L678.5 992.9Z" fill="url(#sdL)" opacity="0.76"/><path d="M678.5 992.2L654.2 997L654.2 997.8L678.5 994.2Z" fill="url(#saL)" opacity="0.83"/><path d="M678.5 993L649.5 996.6L649.5 998.2L678.5 995.5Z" fill="url(#sdL)" opacity="0.78"/><path d="M678.5 993.7L648.6 997.4L648.6 998.7L678.5 996.5Z" fill="url(#saL)" opacity="0.78"/><path d="M678.5 994.7L648.1 998L648.1 999.1L678.5 996.7Z" fill="url(#scL)" opacity="0.89"/><path d="M678.5 995.4L653.8 997.8L653.8 998.9L678.5 998.2Z" fill="url(#sbL)" opacity="0.79"/><path d="M678.5 997.7L649.7 999.6L649.7 1000.3L678.5 999.6Z" fill="url(#scL)" opacity="0.89"/><path d="M678.5 997.7L651.8 999.3L651.8 1000.8L678.5 1000Z" fill="url(#scL)" opacity="0.79"/><path d="M678.5 999.1L652.7 999.6L652.7 1000.4L678.5 1001Z" fill="url(#saL)" opacity="0.88"/><path d="M678.5 1000.5L648.1 1001.2L648.1 1002.2L678.5 1002.8Z" fill="url(#sbL)" opacity="0.76"/><path d="M673.1 998.2L655.5 999.2" stroke="#fff" stroke-width="0.7" opacity="0.32"/><path d="M666.4 991.1L657 992.9" stroke="#fff" stroke-width="0.8" opacity="0.53"/><path d="M669.8 999.1L649.2 1001.1" stroke="#fff" stroke-width="1.2" opacity="0.41"/><path d="M678.5 1000.2L661.6 1001.5" stroke="#b8c4d0" stroke-width="1.1" opacity=".55"/><path d="M678.5 1002.7L652.7 1004.5" stroke="#b8c4d0" stroke-width="1.2" opacity=".55"/><path d="M678.5 1001L661.9 1000.3" stroke="#5c9fdc" stroke-width="1.4" opacity=".55"/><path d="M678.5 1003.5L659.9 1003.3" stroke="#a6c3de" stroke-width="1.3" opacity=".55"/><path d="M678.5 987.1L712.1 994.7L712.1 996.5L678.5 989.8Z" fill="url(#sbR)" opacity="0.93"/><path d="M678.5 988.7L706.2 994L706.2 995.4L678.5 990.8Z" fill="url(#sbR)" opacity="0.75"/><path d="M678.5 989.5L704.9 995L704.9 996.3L678.5 991.4Z" fill="url(#sbR)" opacity="0.76"/><path d="M678.5 990.9L712.1 996.1L712.1 996.9L678.5 993Z" fill="url(#sbR)" opacity="0.90"/><path d="M678.5 991.7L711.7 994.9L711.7 996.3L678.5 993.8Z" fill="url(#saR)" opacity="0.85"/><path d="M678.5 992.6L710.9 995.8L710.9 997.2L678.5 995.3Z" fill="url(#scR)" opacity="0.84"/><path d="M678.5 993.4L707.9 996.1L707.9 997.1L678.5 995.6Z" fill="url(#sbR)" opacity="0.94"/><path d="M678.5 994.2L704.3 997L704.3 998.4L678.5 996.6Z" fill="url(#scR)" opacity="0.90"/><path d="M678.5 996.2L711.2 996.3L711.2 997.6L678.5 998.2Z" fill="url(#saR)" opacity="0.77"/><path d="M678.5 996.3L708.3 996.5L708.3 998L678.5 999.2Z" fill="url(#sdR)" opacity="0.78"/><path d="M678.5 997.8L709.3 997.5L709.3 998.2L678.5 1000Z" fill="url(#saR)" opacity="0.83"/><path d="M678.5 998.9L709.7 996.2L709.7 997.2L678.5 1001.4Z" fill="url(#sdR)" opacity="0.95"/><path d="M678.5 999.7L710.3 997.6L710.3 998.5L678.5 1001.7Z" fill="url(#sdR)" opacity="0.82"/><path d="M678.5 1001.3L703.3 996.9L703.3 998.4L678.5 1003.6Z" fill="url(#saR)" opacity="0.87"/><path d="M691 1000.4L710 1000.4" stroke="#fff" stroke-width="1.2" opacity="0.25"/><path d="M686.3 992L708.2 993.7" stroke="#fff" stroke-width="0.7" opacity="0.40"/><path d="M690.3 992.8L699.9 994.3" stroke="#fff" stroke-width="0.8" opacity="0.30"/><path d="M678.5 1004.2L709.2 1005.3" stroke="#b8c4d0" stroke-width="1.2" opacity=".55"/><path d="M678.5 1001.7L698.7 1003.5" stroke="#b8c4d0" stroke-width="1.0" opacity=".55"/><path d="M678.5 1003.8L711.7 1005" stroke="#7fb6e4" stroke-width="1.1" opacity=".55"/><path d="M678.5 1001.8L703.7 1001.8" stroke="#7fb6e4" stroke-width="1.2" opacity=".55"/><path d="M678.5 1004.2L660.8 1010.9L660.8 1012.5L678.5 1006.6Z" fill="url(#sdL)" opacity="0.77"/><path d="M678.5 1005L656.9 1011.4L656.9 1012.3L678.5 1007.7Z" fill="url(#sdL)" opacity="0.86"/><path d="M678.5 1006.2L652.3 1011L652.3 1012.8L678.5 1008.9Z" fill="url(#sbL)" opacity="0.95"/><path d="M678.5 1007.1L653.6 1013.5L653.6 1014.3L678.5 1009.8Z" fill="url(#scL)" opacity="0.88"/><path d="M678.5 1008.5L647.8 1013.1L647.8 1014.4L678.5 1010.7Z" fill="url(#sdL)" opacity="0.82"/><path d="M678.5 1010L652.3 1015.1L652.3 1016L678.5 1012.3Z" fill="url(#sdL)" opacity="0.77"/><path d="M678.5 1010.4L650.5 1014.2L650.5 1015.3L678.5 1013.3Z" fill="url(#sdL)" opacity="0.80"/><path d="M678.5 1012.1L654.9 1015.9L654.9 1017.3L678.5 1014.4Z" fill="url(#sdL)" opacity="0.82"/><path d="M678.5 1012.9L651.4 1016.2L651.4 1017L678.5 1015.3Z" fill="url(#sbL)" opacity="0.80"/><path d="M678.5 1013.6L654.4 1017.5L654.4 1018.4L678.5 1016Z" fill="url(#sdL)" opacity="0.81"/><path d="M678.5 1014.6L652.7 1016.7L652.7 1017.7L678.5 1016.8Z" fill="url(#sdL)" opacity="0.77"/><path d="M678.5 1015.8L650.7 1017.5L650.7 1018.5L678.5 1018Z" fill="url(#sbL)" opacity="0.85"/><path d="M678.5 1017.6L649.5 1018.2L649.5 1019.4L678.5 1019.6Z" fill="url(#saL)" opacity="0.80"/><path d="M678.5 1017.5L651.1 1018.9L651.1 1020L678.5 1020.3Z" fill="url(#scL)" opacity="0.84"/><path d="M673.4 1016.9L654.3 1019.1" stroke="#fff" stroke-width="1.2" opacity="0.41"/><path d="M668.6 1007.4L653.5 1008.7" stroke="#fff" stroke-width="0.7" opacity="0.30"/><path d="M672.1 1012.4L653.4 1014.3" stroke="#fff" stroke-width="0.8" opacity="0.29"/><path d="M678.5 1021L659.2 1022.2" stroke="#5c9fdc" stroke-width="1.4" opacity=".55"/><path d="M678.5 1018.8L651.5 1018.3" stroke="#5c9fdc" stroke-width="1.4" opacity=".55"/><path d="M678.5 1019L651.9 1019.1" stroke="#b8c4d0" stroke-width="1.1" opacity=".55"/><path d="M678.5 1022.4L653.9 1022.2" stroke="#7fb6e4" stroke-width="0.8" opacity=".55"/><path d="M678.5 1004.8L706.8 1011.9L706.8 1012.7L678.5 1006.7Z" fill="url(#scR)" opacity="0.90"/><path d="M678.5 1005.8L705.2 1012L705.2 1012.6L678.5 1007.8Z" fill="url(#saR)" opacity="0.77"/><path d="M678.5 1007.7L711 1012.4L711 1013.2L678.5 1009.7Z" fill="url(#saR)" opacity="0.80"/><path d="M678.5 1008.3L712 1011L712 1012.5L678.5 1010.6Z" fill="url(#scR)" opacity="0.84"/><path d="M678.5 1009L708.6 1012L708.6 1013.4L678.5 1011.4Z" fill="url(#sbR)" opacity="0.78"/><path d="M678.5 1010L711.6 1011.9L711.6 1013.2L678.5 1012.8Z" fill="url(#saR)" opacity="0.81"/><path d="M678.5 1011.9L708 1012.8L708 1013.6L678.5 1013.9Z" fill="url(#saR)" opacity="0.79"/><path d="M678.5 1012.4L711.4 1013.4L711.4 1014.2L678.5 1014.6Z" fill="url(#scR)" opacity="0.79"/><path d="M678.5 1013.7L712.8 1012.2L712.8 1013.3L678.5 1015.8Z" fill="url(#saR)" opacity="0.85"/><path d="M678.5 1014.7L713.1 1013.8L713.1 1015.2L678.5 1016.7Z" fill="url(#sbR)" opacity="0.88"/><path d="M678.5 1015.4L711.8 1013L711.8 1013.8L678.5 1018Z" fill="url(#scR)" opacity="0.76"/><path d="M678.5 1016.2L710.1 1014.2L710.1 1015L678.5 1018.9Z" fill="url(#sbR)" opacity="0.75"/><path d="M678.5 1017.3L706.6 1013.4L706.6 1015.3L678.5 1020.1Z" fill="url(#saR)" opacity="0.79"/><path d="M678.5 1018.8L709.9 1014.8L709.9 1015.9L678.5 1020.8Z" fill="url(#saR)" opacity="0.87"/><path d="M686.1 1015.6L710.1 1015.5" stroke="#fff" stroke-width="0.9" opacity="0.36"/><path d="M684.1 1012.6L700.3 1013.5" stroke="#fff" stroke-width="0.8" opacity="0.36"/><path d="M686.6 1018.8L701 1019.6" stroke="#fff" stroke-width="0.9" opacity="0.44"/><path d="M678.5 1019.2L698.5 1018.1" stroke="#a6c3de" stroke-width="1.1" opacity=".55"/><path d="M678.5 1021.1L709.2 1021.4" stroke="#a6c3de" stroke-width="0.8" opacity=".55"/><path d="M678.5 1018.6L704 1019.9" stroke="#a6c3de" stroke-width="1.2" opacity=".55"/><path d="M678.5 1021L710.4 1021.6" stroke="#a6c3de" stroke-width="0.8" opacity=".55"/><path d="M678.5 1022.2L659.7 1027.8L659.7 1029.2L678.5 1024.9Z" fill="url(#saL)" opacity="0.82"/><path d="M678.5 1023.6L651.8 1028.9L651.8 1030L678.5 1025.7Z" fill="url(#sdL)" opacity="0.90"/><path d="M678.5 1024.3L653.7 1030.1L653.7 1031.3L678.5 1027Z" fill="url(#scL)" opacity="0.87"/><path d="M678.5 1025.6L649.1 1030.2L649.1 1031.9L678.5 1028.1Z" fill="url(#scL)" opacity="0.94"/><path d="M678.5 1025.9L651.8 1030.1L651.8 1031.3L678.5 1028Z" fill="url(#scL)" opacity="0.91"/><path d="M678.5 1028L647.3 1031.9L647.3 1032.9L678.5 1030Z" fill="url(#sdL)" opacity="0.89"/><path d="M678.5 1028.8L655.3 1033.5L655.3 1034.9L678.5 1031.3Z" fill="url(#sbL)" opacity="0.81"/><path d="M678.5 1028.7L652.7 1033.5L652.7 1035.1L678.5 1031.5Z" fill="url(#saL)" opacity="0.94"/><path d="M678.5 1031.1L648.6 1033.8L648.6 1034.6L678.5 1033Z" fill="url(#saL)" opacity="0.78"/><path d="M678.5 1031.4L648.4 1034.5L648.4 1035.5L678.5 1034Z" fill="url(#saL)" opacity="0.87"/><path d="M678.5 1032.6L647.2 1035.2L647.2 1036.8L678.5 1035Z" fill="url(#sdL)" opacity="0.92"/><path d="M678.5 1033.8L647.2 1035.3L647.2 1036.2L678.5 1035.7Z" fill="url(#saL)" opacity="0.82"/><path d="M678.5 1034.8L650.2 1036.1L650.2 1036.9L678.5 1036.7Z" fill="url(#sbL)" opacity="0.80"/><path d="M678.5 1035.5L654.5 1036.4L654.5 1038.4L678.5 1038.3Z" fill="url(#saL)" opacity="0.93"/><path d="M668.3 1026.2L659.4 1028.2" stroke="#fff" stroke-width="1.2" opacity="0.41"/><path d="M670.7 1036L655.3 1036.9" stroke="#fff" stroke-width="0.7" opacity="0.38"/><path d="M667 1032.2L655.9 1034.2" stroke="#fff" stroke-width="0.9" opacity="0.51"/><path d="M678.5 1037.1L647.4 1036.2" stroke="#a6c3de" stroke-width="1.0" opacity=".55"/><path d="M678.5 1037.3L659.8 1038.8" stroke="#5c9fdc" stroke-width="1.2" opacity=".55"/><path d="M678.5 1040.3L657.5 1038.7" stroke="#b8c4d0" stroke-width="1.0" opacity=".55"/><path d="M678.5 1039.1L661.3 1037.2" stroke="#b8c4d0" stroke-width="1.2" opacity=".55"/><path d="M678.5 1023.5L703.9 1029.5L703.9 1030.8L678.5 1026.1Z" fill="url(#sdR)" opacity="0.88"/><path d="M678.5 1024.5L713.8 1030L713.8 1030.6L678.5 1026.4Z" fill="url(#saR)" opacity="0.76"/><path d="M678.5 1024.6L705.8 1030.1L705.8 1031.9L678.5 1027.2Z" fill="url(#saR)" opacity="0.91"/><path d="M678.5 1025.8L704.6 1031.3L704.6 1032.4L678.5 1028.4Z" fill="url(#sdR)" opacity="0.89"/><path d="M678.5 1027.3L711 1030.5L711 1031.4L678.5 1029.6Z" fill="url(#saR)" opacity="0.80"/><path d="M678.5 1028.3L712.2 1031.5L712.2 1033L678.5 1030.5Z" fill="url(#scR)" opacity="0.94"/><path d="M678.5 1029.1L708.9 1030.7L708.9 1032.6L678.5 1031.8Z" fill="url(#saR)" opacity="0.88"/><path d="M678.5 1030L707.9 1031.8L707.9 1033L678.5 1032.8Z" fill="url(#saR)" opacity="0.94"/><path d="M678.5 1031.3L711 1032L711 1033.9L678.5 1034.2Z" fill="url(#sbR)" opacity="0.85"/><path d="M678.5 1032.6L706.4 1032.5L706.4 1033.4L678.5 1034.8Z" fill="url(#sbR)" opacity="0.77"/><path d="M678.5 1033.3L707.7 1032.7L707.7 1033.7L678.5 1035.8Z" fill="url(#saR)" opacity="0.92"/><path d="M678.5 1035.1L704.3 1032.7L704.3 1033.3L678.5 1037.3Z" fill="url(#sdR)" opacity="0.85"/><path d="M678.5 1035.8L705.8 1033.6L705.8 1034.8L678.5 1038.3Z" fill="url(#saR)" opacity="0.79"/><path d="M678.5 1036.8L704.2 1032.7L704.2 1033.9L678.5 1038.9Z" fill="url(#sbR)" opacity="0.92"/><path d="M688.8 1032.6L705.7 1034.1" stroke="#fff" stroke-width="1.3" opacity="0.53"/><path d="M689.7 1032.7L711.3 1032.7" stroke="#fff" stroke-width="0.9" opacity="0.42"/><path d="M689.1 1028.9L707 1030.3" stroke="#fff" stroke-width="0.9" opacity="0.37"/><path d="M678.5 1038.4L696.3 1036.5" stroke="#7fb6e4" stroke-width="1.1" opacity=".55"/><path d="M678.5 1037.2L703.2 1035.5" stroke="#a6c3de" stroke-width="1.3" opacity=".55"/><path d="M678.5 1038.9L704.8 1040.6" stroke="#b8c4d0" stroke-width="1.1" opacity=".55"/><path d="M678.5 1040.8L697.9 1041.7" stroke="#a6c3de" stroke-width="0.8" opacity=".55"/><path d="M678.5 1039.5L650 1046.2L650 1047.1L678.5 1042.1Z" fill="url(#sdL)" opacity="0.89"/><path d="M678.5 1040.9L654.8 1047.3L654.8 1048.7L678.5 1042.9Z" fill="url(#saL)" opacity="0.93"/><path d="M678.5 1042.3L650.7 1047.1L650.7 1047.9L678.5 1044.6Z" fill="url(#saL)" opacity="0.89"/><path d="M678.5 1042.6L649.7 1048L649.7 1049.5L678.5 1044.9Z" fill="url(#saL)" opacity="0.79"/><path d="M678.5 1043.9L647.9 1048.9L647.9 1049.9L678.5 1046.8Z" fill="url(#sbL)" opacity="0.75"/><path d="M678.5 1045.1L654.2 1048.5L654.2 1050L678.5 1047.8Z" fill="url(#sbL)" opacity="0.94"/><path d="M678.5 1046L647.2 1049.1L647.2 1049.8L678.5 1048.1Z" fill="url(#sbL)" opacity="0.82"/><path d="M678.5 1046.8L647.3 1050.4L647.3 1051.4L678.5 1049.5Z" fill="url(#saL)" opacity="0.79"/><path d="M678.5 1048.2L654.7 1050.9L654.7 1052.7L678.5 1050.9Z" fill="url(#sbL)" opacity="0.92"/><path d="M678.5 1049.2L649.9 1050.7L649.9 1051.9L678.5 1051.1Z" fill="url(#saL)" opacity="0.94"/><path d="M678.5 1050.3L654.6 1052.4L654.6 1053.6L678.5 1052.8Z" fill="url(#sdL)" opacity="0.89"/><path d="M678.5 1051.9L653.3 1054.1L653.3 1055L678.5 1054.2Z" fill="url(#sbL)" opacity="0.77"/><path d="M678.5 1052.8L651.3 1054.5L651.3 1055.5L678.5 1054.6Z" fill="url(#saL)" opacity="0.81"/><path d="M678.5 1053.4L654.8 1055L654.8 1055.8L678.5 1055.6Z" fill="url(#sbL)" opacity="0.78"/><path d="M673.2 1051.3L649.8 1052.2" stroke="#fff" stroke-width="1.1" opacity="0.45"/><path d="M667.7 1050L656.6 1051.3" stroke="#fff" stroke-width="1.0" opacity="0.46"/><path d="M671 1046.8L652.7 1047.4" stroke="#fff" stroke-width="1.0" opacity="0.37"/><path d="M678.5 1056.9L657.6 1055.2" stroke="#7fb6e4" stroke-width="0.9" opacity=".55"/><path d="M678.5 1053.6L662.1 1055.4" stroke="#7fb6e4" stroke-width="0.8" opacity=".55"/><path d="M678.5 1053.6L654 1053.3" stroke="#7fb6e4" stroke-width="1.3" opacity=".55"/><path d="M678.5 1054.6L652.9 1055.4" stroke="#7fb6e4" stroke-width="1.0" opacity=".55"/><path d="M678.5 1041.3L710.8 1049.1L710.8 1049.9L678.5 1043.2Z" fill="url(#saR)" opacity="0.91"/><path d="M678.5 1041.6L702.5 1048L702.5 1049.3L678.5 1044.1Z" fill="url(#sbR)" opacity="0.88"/><path d="M678.5 1042.4L712.3 1048.8L712.3 1050.2L678.5 1044.7Z" fill="url(#sbR)" opacity="0.86"/><path d="M678.5 1044.2L708 1049.5L708 1050.6L678.5 1046.4Z" fill="url(#sdR)" opacity="0.89"/><path d="M678.5 1044.7L706 1048.9L706 1050.8L678.5 1047.5Z" fill="url(#sdR)" opacity="0.83"/><path d="M678.5 1046.5L709 1048.5L709 1049.8L678.5 1048.4Z" fill="url(#scR)" opacity="0.78"/><path d="M678.5 1047.1L708.1 1049L708.1 1049.9L678.5 1049.7Z" fill="url(#saR)" opacity="0.84"/><path d="M678.5 1048.3L705.9 1048.6L705.9 1050L678.5 1050.7Z" fill="url(#saR)" opacity="0.89"/><path d="M678.5 1049L707.4 1049.2L707.4 1050.9L678.5 1051.7Z" fill="url(#sbR)" opacity="0.86"/><path d="M678.5 1050.2L707.9 1050.1L707.9 1051L678.5 1052.7Z" fill="url(#scR)" opacity="0.89"/><path d="M678.5 1051.8L704.8 1050.1L704.8 1051.2L678.5 1054.1Z" fill="url(#saR)" opacity="0.84"/><path d="M678.5 1052.1L704.3 1049.8L704.3 1050.9L678.5 1054.9Z" fill="url(#scR)" opacity="0.78"/><path d="M678.5 1053.6L706.3 1050.3L706.3 1051.4L678.5 1055.8Z" fill="url(#scR)" opacity="0.92"/><path d="M678.5 1054.2L710.7 1051L710.7 1052.6L678.5 1056.8Z" fill="url(#saR)" opacity="0.92"/><path d="M691.4 1043.2L709 1044.4" stroke="#fff" stroke-width="1.1" opacity="0.40"/><path d="M688.5 1051.5L707.6 1052.4" stroke="#fff" stroke-width="1.0" opacity="0.40"/><path d="M686.1 1043.9L700.1 1045.3" stroke="#fff" stroke-width="1.1" opacity="0.36"/><path d="M678.5 1057.6L707.8 1059.1" stroke="#a6c3de" stroke-width="1.3" opacity=".55"/><path d="M678.5 1057.2L708.2 1057.4" stroke="#5c9fdc" stroke-width="0.8" opacity=".55"/><path d="M678.5 1056.8L711.7 1055.8" stroke="#b8c4d0" stroke-width="1.4" opacity=".55"/><path d="M678.5 1055.7L704.4 1054.1" stroke="#a6c3de" stroke-width="1.1" opacity=".55"/><path d="M678.5 1057.3L656 1062.3L656 1063.9L678.5 1059.8Z" fill="url(#scL)" opacity="0.80"/><path d="M678.5 1059.1L648.9 1063.1L648.9 1064.3L678.5 1061.7Z" fill="url(#sbL)" opacity="0.83"/><path d="M678.5 1059.5L649.9 1064.7L649.9 1066L678.5 1061.4Z" fill="url(#sbL)" opacity="0.94"/><path d="M678.5 1061.2L655 1065.5L655 1066.6L678.5 1063.4Z" fill="url(#sdL)" opacity="0.84"/><path d="M678.5 1062.1L654.5 1065.6L654.5 1066.5L678.5 1064.3Z" fill="url(#scL)" opacity="0.86"/><path d="M678.5 1062.5L651.3 1065.7L651.3 1067.5L678.5 1065.4Z" fill="url(#sdL)" opacity="0.90"/><path d="M678.5 1063.7L654.8 1066.7L654.8 1068.6L678.5 1066.6Z" fill="url(#sbL)" opacity="0.78"/><path d="M678.5 1065L655.4 1066.9L655.4 1068.1L678.5 1067.7Z" fill="url(#scL)" opacity="0.75"/><path d="M678.5 1066.6L648.5 1068.2L648.5 1069.1L678.5 1068.9Z" fill="url(#sbL)" opacity="0.89"/><path d="M678.5 1067.5L647.5 1069.8L647.5 1070.5L678.5 1069.5Z" fill="url(#saL)" opacity="0.79"/><path d="M678.5 1068.4L650.9 1068.9L650.9 1069.9L678.5 1071Z" fill="url(#scL)" opacity="0.93"/><path d="M678.5 1069.8L650.1 1069.8L650.1 1071L678.5 1072Z" fill="url(#scL)" opacity="0.83"/><path d="M678.5 1069.8L650 1070.8L650 1072.4L678.5 1072.3Z" fill="url(#sbL)" opacity="0.93"/><path d="M678.5 1071.3L658.1 1072.4L658.1 1073.3L678.5 1074.1Z" fill="url(#sbL)" opacity="0.88"/><path d="M671 1061.2L652.6 1062.7" stroke="#fff" stroke-width="1.2" opacity="0.47"/><path d="M669 1066.9L656.6 1068.1" stroke="#fff" stroke-width="0.9" opacity="0.35"/><path d="M666.2 1062.4L648.9 1063.1" stroke="#fff" stroke-width="1.0" opacity="0.27"/><path d="M678.5 1075.5L658.5 1076.9" stroke="#a6c3de" stroke-width="0.7" opacity=".55"/><path d="M678.5 1075.8L652.2 1075.8" stroke="#5c9fdc" stroke-width="1.0" opacity=".55"/><path d="M678.5 1073.2L656.5 1073" stroke="#a6c3de" stroke-width="0.7" opacity=".55"/><path d="M678.5 1072.7L651.7 1071.2" stroke="#5c9fdc" stroke-width="0.7" opacity=".55"/><path d="M678.5 1058.2L705 1066.3L705 1068.1L678.5 1061Z" fill="url(#scR)" opacity="0.86"/><path d="M678.5 1060.1L713.7 1065.3L713.7 1066.7L678.5 1062.9Z" fill="url(#scR)" opacity="0.79"/><path d="M678.5 1060.4L704.5 1067.2L704.5 1068.1L678.5 1062.9Z" fill="url(#saR)" opacity="0.81"/><path d="M678.5 1062.3L704.9 1066L704.9 1067.2L678.5 1064.5Z" fill="url(#saR)" opacity="0.84"/><path d="M678.5 1062.8L713.1 1067L713.1 1068.2L678.5 1065.3Z" fill="url(#saR)" opacity="0.79"/><path d="M678.5 1064L712.5 1066.2L712.5 1067.3L678.5 1066.3Z" fill="url(#sbR)" opacity="0.77"/><path d="M678.5 1065.2L705.8 1067.3L705.8 1069.1L678.5 1067.9Z" fill="url(#saR)" opacity="0.89"/><path d="M678.5 1066.3L706.6 1066.6L706.6 1067.8L678.5 1068.6Z" fill="url(#sbR)" opacity="0.88"/><path d="M678.5 1066.5L705.4 1067.4L705.4 1068.5L678.5 1069.4Z" fill="url(#saR)" opacity="0.94"/><path d="M678.5 1068.2L713.2 1067.9L713.2 1069.1L678.5 1070.7Z" fill="url(#sbR)" opacity="0.80"/><path d="M678.5 1068.8L704.2 1068.2L704.2 1069.8L678.5 1071.3Z" fill="url(#saR)" opacity="0.88"/><path d="M678.5 1070L705.4 1068.9L705.4 1070L678.5 1072.1Z" fill="url(#sdR)" opacity="0.94"/><path d="M678.5 1071.2L704.1 1068.3L704.1 1069.8L678.5 1073.4Z" fill="url(#scR)" opacity="0.75"/><path d="M678.5 1072.1L704.4 1068.2L704.4 1069.6L678.5 1074.8Z" fill="url(#saR)" opacity="0.92"/><path d="M688.4 1062.9L702.4 1062.6" stroke="#fff" stroke-width="1.0" opacity="0.52"/><path d="M692 1065.6L703.8 1066.5" stroke="#fff" stroke-width="1.2" opacity="0.30"/><path d="M686.3 1069.4L704.7 1069.2" stroke="#fff" stroke-width="1.2" opacity="0.34"/><path d="M678.5 1073.2L711.3 1072.9" stroke="#a6c3de" stroke-width="1.3" opacity=".55"/><path d="M678.5 1073.5L711.9 1072.4" stroke="#7fb6e4" stroke-width="0.9" opacity=".55"/><path d="M678.5 1072.3L697.5 1071.8" stroke="#a6c3de" stroke-width="0.8" opacity=".55"/><path d="M678.5 1075.2L703.6 1074.3" stroke="#5c9fdc" stroke-width="0.8" opacity=".55"/><path d="M678.5 1075.7L654 1081L654 1082.2L678.5 1077.6Z" fill="url(#sbL)" opacity="0.92"/><path d="M678.5 1077L653.1 1082.6L653.1 1083.3L678.5 1079.1Z" fill="url(#saL)" opacity="0.80"/><path d="M678.5 1077.6L647.3 1083.9L647.3 1084.6L678.5 1079.8Z" fill="url(#sbL)" opacity="0.88"/><path d="M678.5 1079.3L647.8 1084.3L647.8 1085.5L678.5 1081.4Z" fill="url(#sbL)" opacity="0.91"/><path d="M678.5 1079.5L655.2 1084.2L655.2 1086.1L678.5 1082.4Z" fill="url(#sdL)" opacity="0.92"/><path d="M678.5 1081.5L652 1084.2L652 1085.4L678.5 1083.5Z" fill="url(#saL)" opacity="0.79"/><path d="M678.5 1081.4L650.8 1085L650.8 1086.1L678.5 1084.2Z" fill="url(#saL)" opacity="0.89"/><path d="M678.5 1083L654.1 1085.4L654.1 1086.1L678.5 1085.1Z" fill="url(#sbL)" opacity="0.92"/><path d="M678.5 1084L652.1 1087.7L652.1 1088.8L678.5 1086.7Z" fill="url(#scL)" opacity="0.83"/><path d="M678.5 1085.2L649.6 1087.3L649.6 1088.2L678.5 1087.8Z" fill="url(#saL)" opacity="0.78"/><path d="M678.5 1086.6L655.5 1089L655.5 1090.4L678.5 1088.9Z" fill="url(#sbL)" opacity="0.85"/><path d="M678.5 1087.3L647.3 1088.3L647.3 1089.4L678.5 1089.8Z" fill="url(#sbL)" opacity="0.81"/><path d="M678.5 1087.7L650.7 1089.4L650.7 1091.1L678.5 1090.1Z" fill="url(#sbL)" opacity="0.90"/><path d="M678.5 1089.6L653.5 1091.1L653.5 1092.1L678.5 1092Z" fill="url(#scL)" opacity="0.85"/><path d="M667.6 1086.8L656.4 1088.3" stroke="#fff" stroke-width="0.9" opacity="0.30"/><path d="M666.3 1082.2L655.9 1082.8" stroke="#fff" stroke-width="1.1" opacity="0.39"/><path d="M672.8 1084.9L653.8 1086.2" stroke="#fff" stroke-width="1.0" opacity="0.39"/><path d="M678.5 1091.9L647.2 1090.3" stroke="#7fb6e4" stroke-width="1.0" opacity=".55"/><path d="M678.5 1092.6L657.8 1091.5" stroke="#a6c3de" stroke-width="1.3" opacity=".55"/><path d="M678.5 1089L659.8 1087.8" stroke="#b8c4d0" stroke-width="0.8" opacity=".55"/><path d="M678.5 1089.1L662.4 1091.1" stroke="#a6c3de" stroke-width="1.1" opacity=".55"/><path d="M678.5 1076.8L701.4 1082L701.4 1082.9L678.5 1078.7Z" fill="url(#saR)" opacity="0.88"/><path d="M678.5 1077.8L710.1 1083L710.1 1083.9L678.5 1080.4Z" fill="url(#sbR)" opacity="0.77"/><path d="M678.5 1078.4L711.1 1083.4L711.1 1084.2L678.5 1081.1Z" fill="url(#scR)" opacity="0.89"/><path d="M678.5 1080.2L711.4 1083.8L711.4 1084.9L678.5 1082.2Z" fill="url(#saR)" opacity="0.90"/><path d="M678.5 1080.5L704.8 1083.6L704.8 1084.6L678.5 1082.9Z" fill="url(#sbR)" opacity="0.79"/><path d="M678.5 1081.7L711 1083.4L711 1084.4L678.5 1084.1Z" fill="url(#saR)" opacity="0.82"/><path d="M678.5 1082.7L705.6 1083.3L705.6 1084.7L678.5 1085.2Z" fill="url(#scR)" opacity="0.76"/><path d="M678.5 1083.9L709.9 1084.3L709.9 1085.4L678.5 1086.5Z" fill="url(#sbR)" opacity="0.81"/><path d="M678.5 1085.1L708.3 1083.7L708.3 1084.7L678.5 1087.3Z" fill="url(#sbR)" opacity="0.94"/><path d="M678.5 1085.7L706.9 1083.7L706.9 1085.2L678.5 1088.1Z" fill="url(#sdR)" opacity="0.82"/><path d="M678.5 1086.3L710.7 1084.4L710.7 1085.8L678.5 1088.9Z" fill="url(#scR)" opacity="0.77"/><path d="M678.5 1088L706.2 1085.1L706.2 1086L678.5 1090.5Z" fill="url(#sdR)" opacity="0.80"/><path d="M678.5 1089L703 1084.5L703 1085.4L678.5 1091.4Z" fill="url(#sbR)" opacity="0.81"/><path d="M678.5 1090.9L706.8 1085.1L706.8 1086.3L678.5 1092.9Z" fill="url(#sbR)" opacity="0.78"/><path d="M687.9 1085.1L710.6 1086" stroke="#fff" stroke-width="1.0" opacity="0.38"/><path d="M692.6 1083.8L701.2 1083.9" stroke="#fff" stroke-width="1.1" opacity="0.45"/><path d="M691 1079.7L711.3 1080.3" stroke="#fff" stroke-width="0.7" opacity="0.52"/><path d="M678.5 1089.7L696.5 1090.5" stroke="#a6c3de" stroke-width="1.2" opacity=".55"/><path d="M678.5 1091.8L697.5 1089.9" stroke="#5c9fdc" stroke-width="0.7" opacity=".55"/><path d="M678.5 1088.9L708.8 1089.7" stroke="#a6c3de" stroke-width="1.1" opacity=".55"/><path d="M678.5 1089.5L711.6 1091" stroke="#a6c3de" stroke-width="1.0" opacity=".55"/><path d="M678.5 1093.6L655.1 1100.1L655.1 1100.8L678.5 1095.6Z" fill="url(#saL)" opacity="0.94"/><path d="M678.5 1094.6L654.3 1099.5L654.3 1100.3L678.5 1097.3Z" fill="url(#saL)" opacity="0.77"/><path d="M678.5 1095.1L654.7 1100.9L654.7 1101.8L678.5 1097.4Z" fill="url(#sbL)" opacity="0.88"/><path d="M678.5 1096L649.8 1100.5L649.8 1101.8L678.5 1098.8Z" fill="url(#sdL)" opacity="0.76"/><path d="M678.5 1097.5L649.5 1102L649.5 1103.1L678.5 1100.4Z" fill="url(#saL)" opacity="0.91"/><path d="M678.5 1098.1L648.3 1101.9L648.3 1103.5L678.5 1100.7Z" fill="url(#sbL)" opacity="0.93"/><path d="M678.5 1100.1L647.9 1103.7L647.9 1105.3L678.5 1102.6Z" fill="url(#scL)" opacity="0.82"/><path d="M678.5 1100.6L647.3 1105L647.3 1105.9L678.5 1103.1Z" fill="url(#sdL)" opacity="0.81"/><path d="M678.5 1102.3L651 1105.7L651 1106.8L678.5 1104.3Z" fill="url(#scL)" opacity="0.87"/><path d="M678.5 1103.3L651.6 1106.5L651.6 1107.1L678.5 1105.2Z" fill="url(#sdL)" opacity="0.82"/><path d="M678.5 1103.5L652.5 1106.3L652.5 1108.3L678.5 1106.4Z" fill="url(#sbL)" opacity="0.78"/><path d="M678.5 1105L652.6 1106.1L652.6 1107L678.5 1107.2Z" fill="url(#saL)" opacity="0.76"/><path d="M678.5 1106.3L652.8 1108.2L652.8 1109.7L678.5 1108.9Z" fill="url(#sbL)" opacity="0.91"/><path d="M678.5 1106.7L657.6 1108.6L657.6 1109.5L678.5 1109.6Z" fill="url(#scL)" opacity="0.82"/><path d="M672.6 1107.2L659.6 1108.7" stroke="#fff" stroke-width="0.6" opacity="0.51"/><path d="M673.2 1104.8L659.5 1106" stroke="#fff" stroke-width="1.1" opacity="0.52"/><path d="M673.4 1097.7L650.7 1098.8" stroke="#fff" stroke-width="1.1" opacity="0.47"/><path d="M678.5 1110.5L653.4 1108.7" stroke="#5c9fdc" stroke-width="1.2" opacity=".55"/><path d="M678.5 1110.2L655.5 1108.6" stroke="#a6c3de" stroke-width="1.2" opacity=".55"/><path d="M678.5 1108.2L654 1106.2" stroke="#5c9fdc" stroke-width="0.9" opacity=".55"/><path d="M678.5 1110.1L662.5 1110.7" stroke="#5c9fdc" stroke-width="1.1" opacity=".55"/><path d="M678.5 1093.9L708 1101.2L708 1102.9L678.5 1096.6Z" fill="url(#saR)" opacity="0.90"/><path d="M678.5 1094.9L703.6 1102.5L703.6 1103.4L678.5 1097.1Z" fill="url(#sdR)" opacity="0.88"/><path d="M678.5 1096L713.5 1103L713.5 1104.8L678.5 1098.9Z" fill="url(#sdR)" opacity="0.89"/><path d="M678.5 1097.2L706.8 1103.1L706.8 1105L678.5 1099.9Z" fill="url(#scR)" opacity="0.75"/><path d="M678.5 1098.2L706.3 1103.9L706.3 1104.8L678.5 1100.6Z" fill="url(#sbR)" opacity="0.83"/><path d="M678.5 1099.6L709.2 1103.7L709.2 1105.4L678.5 1102.1Z" fill="url(#saR)" opacity="0.80"/><path d="M678.5 1100.3L712.2 1103L712.2 1104L678.5 1102.4Z" fill="url(#scR)" opacity="0.79"/><path d="M678.5 1101.9L708.6 1104.6L708.6 1105.5L678.5 1103.8Z" fill="url(#sdR)" opacity="0.93"/><path d="M678.5 1103L709 1104.6L709 1106L678.5 1105.2Z" fill="url(#sbR)" opacity="0.81"/><path d="M678.5 1103.6L705.2 1104.3L705.2 1105.3L678.5 1106Z" fill="url(#saR)" opacity="0.85"/><path d="M678.5 1104.9L710.1 1104.7L710.1 1105.6L678.5 1107.6Z" fill="url(#sdR)" opacity="0.94"/><path d="M678.5 1106.7L706.2 1104.4L706.2 1105.1L678.5 1108.6Z" fill="url(#sbR)" opacity="0.92"/><path d="M678.5 1106L708.3 1103.7L708.3 1105.3L678.5 1108.8Z" fill="url(#scR)" opacity="0.91"/><path d="M678.5 1108.4L703.8 1104L703.8 1105.2L678.5 1110.3Z" fill="url(#saR)" opacity="0.85"/><path d="M688.1 1105.8L701.4 1107.6" stroke="#fff" stroke-width="1.2" opacity="0.40"/><path d="M683.9 1100.2L703.7 1102" stroke="#fff" stroke-width="1.1" opacity="0.29"/><path d="M684.6 1104.1L705.9 1105.8" stroke="#fff" stroke-width="0.6" opacity="0.40"/><path d="M678.5 1111.9L698 1111.7" stroke="#5c9fdc" stroke-width="1.3" opacity=".55"/><path d="M678.5 1109.6L706.5 1109.8" stroke="#7fb6e4" stroke-width="1.4" opacity=".55"/><path d="M678.5 1110.3L700.2 1109.2" stroke="#b8c4d0" stroke-width="0.9" opacity=".55"/><path d="M678.5 1111.9L698 1113.7" stroke="#7fb6e4" stroke-width="0.8" opacity=".55"/><path d="M678.5 1110.8L653.2 1118.6L653.2 1119.4L678.5 1112.6Z" fill="url(#sbL)" opacity="0.91"/><path d="M678.5 1112.4L651.9 1118.8L651.9 1120.2L678.5 1114.6Z" fill="url(#saL)" opacity="0.79"/><path d="M678.5 1113.8L653.5 1120.1L653.5 1121L678.5 1116.2Z" fill="url(#saL)" opacity="0.78"/><path d="M678.5 1114.3L650.9 1119.8L650.9 1121.3L678.5 1116.5Z" fill="url(#sbL)" opacity="0.87"/><path d="M678.5 1115.6L647.9 1120.7L647.9 1121.6L678.5 1117.7Z" fill="url(#sbL)" opacity="0.91"/><path d="M678.5 1116.5L647.8 1120.7L647.8 1121.7L678.5 1119.2Z" fill="url(#saL)" opacity="0.93"/><path d="M678.5 1117.3L652.3 1121.1L652.3 1122.2L678.5 1119.7Z" fill="url(#sbL)" opacity="0.94"/><path d="M678.5 1118.3L647.2 1121.3L647.2 1122.4L678.5 1121Z" fill="url(#sbL)" opacity="0.82"/><path d="M678.5 1120.3L649.8 1124.2L649.8 1125.3L678.5 1122.3Z" fill="url(#saL)" opacity="0.86"/><path d="M678.5 1120.3L651.9 1124.6L651.9 1125.5L678.5 1123.1Z" fill="url(#saL)" opacity="0.87"/><path d="M678.5 1121.6L648.4 1124L648.4 1125.3L678.5 1123.4Z" fill="url(#scL)" opacity="0.89"/><path d="M678.5 1122.8L654.6 1125.6L654.6 1127L678.5 1124.9Z" fill="url(#saL)" opacity="0.92"/><path d="M678.5 1123.9L654.6 1125.3L654.6 1126.2L678.5 1126Z" fill="url(#sdL)" opacity="0.78"/><path d="M678.5 1124.8L653 1126.6L653 1128.1L678.5 1127.2Z" fill="url(#sdL)" opacity="0.88"/><path d="M672.5 1113.6L656.2 1114.4" stroke="#fff" stroke-width="1.2" opacity="0.42"/><path d="M670.1 1123.2L653.5 1123.9" stroke="#fff" stroke-width="1.3" opacity="0.34"/><path d="M667.1 1120.9L655.1 1122.3" stroke="#fff" stroke-width="1.1" opacity="0.49"/><path d="M678.5 1129.5L656.4 1128.8" stroke="#a6c3de" stroke-width="1.2" opacity=".55"/><path d="M678.5 1129L652.8 1128" stroke="#7fb6e4" stroke-width="1.2" opacity=".55"/><path d="M678.5 1129.1L661.2 1128.7" stroke="#7fb6e4" stroke-width="1.0" opacity=".55"/><path d="M678.5 1125.5L662.2 1126.3" stroke="#7fb6e4" stroke-width="0.9" opacity=".55"/><path d="M678.5 1112.5L710.5 1117.9L710.5 1119.4L678.5 1114.7Z" fill="url(#saR)" opacity="0.87"/><path d="M678.5 1113.3L707.1 1118.3L707.1 1119.1L678.5 1115.4Z" fill="url(#sbR)" opacity="0.79"/><path d="M678.5 1114.1L713 1118.1L713 1119.5L678.5 1116.4Z" fill="url(#sbR)" opacity="0.79"/><path d="M678.5 1114.9L709.4 1117.3L709.4 1118.8L678.5 1117Z" fill="url(#sbR)" opacity="0.80"/><path d="M678.5 1116.7L710.3 1118.7L710.3 1119.9L678.5 1118.5Z" fill="url(#sbR)" opacity="0.88"/><path d="M678.5 1117.3L711.3 1118.2L711.3 1119.3L678.5 1119.8Z" fill="url(#sbR)" opacity="0.85"/><path d="M678.5 1118.9L713.6 1119.7L713.6 1120.9L678.5 1121Z" fill="url(#scR)" opacity="0.76"/><path d="M678.5 1119.8L708.6 1120L708.6 1121.3L678.5 1121.8Z" fill="url(#sdR)" opacity="0.90"/><path d="M678.5 1120.4L707.1 1118.7L707.1 1120.1L678.5 1123.2Z" fill="url(#saR)" opacity="0.94"/><path d="M678.5 1121.8L708.5 1118.9L708.5 1120.3L678.5 1124.2Z" fill="url(#sbR)" opacity="0.88"/><path d="M678.5 1122.3L711 1119.7L711 1121.6L678.5 1125.1Z" fill="url(#sdR)" opacity="0.83"/><path d="M678.5 1124.1L711 1120L711 1121.5L678.5 1126.2Z" fill="url(#saR)" opacity="0.95"/><path d="M678.5 1125.1L701.9 1121.2L701.9 1122.2L678.5 1127.1Z" fill="url(#saR)" opacity="0.83"/><path d="M678.5 1125.5L710.6 1121.3L710.6 1123.1L678.5 1128.3Z" fill="url(#sbR)" opacity="0.79"/><path d="M685.9 1122.2L701.4 1121.9" stroke="#fff" stroke-width="1.3" opacity="0.37"/><path d="M688 1124.3L702 1125" stroke="#fff" stroke-width="1.3" opacity="0.43"/><path d="M688.7 1122.4L700.1 1123.3" stroke="#fff" stroke-width="1.0" opacity="0.41"/><path d="M678.5 1125.8L708.2 1127.2" stroke="#a6c3de" stroke-width="1.4" opacity=".55"/><path d="M678.5 1126L699.8 1127.4" stroke="#5c9fdc" stroke-width="0.8" opacity=".55"/><path d="M678.5 1129.4L703.7 1131" stroke="#7fb6e4" stroke-width="0.9" opacity=".55"/><path d="M678.5 1126.5L698.2 1126.7" stroke="#7fb6e4" stroke-width="0.8" opacity=".55"/><path d="M678.5 1128.7L652.3 1134.1L652.3 1135.6L678.5 1131Z" fill="url(#saL)" opacity="0.86"/><path d="M678.5 1130.1L653.3 1136.1L653.3 1137.3L678.5 1132.9Z" fill="url(#sbL)" opacity="0.84"/><path d="M678.5 1131.1L651.5 1136L651.5 1137.1L678.5 1133.6Z" fill="url(#sbL)" opacity="0.90"/><path d="M678.5 1132.3L651.4 1137.9L651.4 1139.2L678.5 1134.6Z" fill="url(#saL)" opacity="0.82"/><path d="M678.5 1133.2L649.6 1136.9L649.6 1138.4L678.5 1135.9Z" fill="url(#saL)" opacity="0.95"/><path d="M678.5 1133.9L647.1 1137.5L647.1 1138.6L678.5 1136.6Z" fill="url(#sbL)" opacity="0.78"/><path d="M678.5 1135.8L649 1138.8L649 1139.7L678.5 1137.8Z" fill="url(#sbL)" opacity="0.76"/><path d="M678.5 1136.2L652.8 1140.1L652.8 1141.3L678.5 1138.4Z" fill="url(#saL)" opacity="0.78"/><path d="M678.5 1137.4L653.1 1139.7L653.1 1140.6L678.5 1139.4Z" fill="url(#sbL)" opacity="0.93"/><path d="M678.5 1138.8L655.3 1141L655.3 1141.8L678.5 1141Z" fill="url(#scL)" opacity="0.82"/><path d="M678.5 1139.6L654.8 1140.8L654.8 1142.1L678.5 1141.6Z" fill="url(#saL)" opacity="0.87"/><path d="M678.5 1140.6L647.9 1141.5L647.9 1142.3L678.5 1142.7Z" fill="url(#sbL)" opacity="0.80"/><path d="M678.5 1142L656.2 1143L656.2 1144.3L678.5 1144.2Z" fill="url(#saL)" opacity="0.86"/><path d="M678.5 1142.8L652.2 1142.6L652.2 1143.8L678.5 1145Z" fill="url(#sbL)" opacity="0.84"/><path d="M667.4 1132.5L649.2 1133" stroke="#fff" stroke-width="0.7" opacity="0.42"/><path d="M666.1 1139.4L650.8 1140.6" stroke="#fff" stroke-width="1.1" opacity="0.41"/><path d="M669.7 1134.4L656.6 1135" stroke="#fff" stroke-width="1.0" opacity="0.33"/><path d="M678.5 1144.5L660.5 1144.9" stroke="#5c9fdc" stroke-width="0.9" opacity=".55"/><path d="M678.5 1146.5L655.3 1145.4" stroke="#5c9fdc" stroke-width="0.8" opacity=".55"/><path d="M678.5 1146.2L647.4 1145.2" stroke="#a6c3de" stroke-width="0.8" opacity=".55"/><path d="M678.5 1146.3L656.9 1146.6" stroke="#a6c3de" stroke-width="1.0" opacity=".55"/><path d="M678.5 1129.5L703.4 1137.9L703.4 1139.7L678.5 1132.3Z" fill="url(#sdR)" opacity="0.79"/><path d="M678.5 1130.8L704.2 1137.7L704.2 1138.4L678.5 1133.2Z" fill="url(#scR)" opacity="0.78"/><path d="M678.5 1132.6L707.1 1138.3L707.1 1139.1L678.5 1134.5Z" fill="url(#saR)" opacity="0.85"/><path d="M678.5 1132.9L705.6 1137.9L705.6 1139.5L678.5 1135.4Z" fill="url(#saR)" opacity="0.81"/><path d="M678.5 1133.6L709.2 1139.1L709.2 1140.1L678.5 1136.4Z" fill="url(#sbR)" opacity="0.95"/><path d="M678.5 1135.1L705.9 1139.5L705.9 1140.5L678.5 1137.8Z" fill="url(#saR)" opacity="0.90"/><path d="M678.5 1136.3L707.3 1139.4L707.3 1141.2L678.5 1139Z" fill="url(#sdR)" opacity="0.88"/><path d="M678.5 1137.6L712.8 1140L712.8 1141.6L678.5 1140Z" fill="url(#scR)" opacity="0.78"/><path d="M678.5 1137.9L712.2 1140.5L712.2 1141.3L678.5 1140.2Z" fill="url(#sbR)" opacity="0.81"/><path d="M678.5 1139.6L704.5 1140.2L704.5 1141.1L678.5 1141.8Z" fill="url(#saR)" opacity="0.78"/><path d="M678.5 1141.3L710.2 1140.9L710.2 1142L678.5 1143.1Z" fill="url(#scR)" opacity="0.94"/><path d="M678.5 1141.1L708.4 1140.5L708.4 1141.6L678.5 1143.8Z" fill="url(#sbR)" opacity="0.79"/><path d="M678.5 1142.4L704.9 1141.1L704.9 1142.3L678.5 1144.7Z" fill="url(#saR)" opacity="0.80"/><path d="M678.5 1143.6L698.6 1140.5L698.6 1141.6L678.5 1146.4Z" fill="url(#saR)" opacity="0.84"/><path d="M684.3 1135.4L704.5 1137.3" stroke="#fff" stroke-width="1.2" opacity="0.36"/><path d="M684.4 1136.1L704.8 1136.6" stroke="#fff" stroke-width="0.8" opacity="0.48"/><path d="M685.2 1137.6L707 1138.7" stroke="#fff" stroke-width="0.8" opacity="0.48"/><path d="M678.5 1142.5L696.9 1142.8" stroke="#7fb6e4" stroke-width="1.1" opacity=".55"/><path d="M678.5 1147.4L708.1 1149.3" stroke="#a6c3de" stroke-width="1.1" opacity=".55"/><path d="M678.5 1142.6L701.8 1142.4" stroke="#a6c3de" stroke-width="1.3" opacity=".55"/><path d="M678.5 1146.2L702.2 1148.2" stroke="#7fb6e4" stroke-width="0.9" opacity=".55"/><path d="M675.20 827.02 L681.58 835.80 M675.20 840.52 L681.58 849.30 M675.20 854.02 L681.58 862.80 M675.20 867.52 L681.58 876.30 M675.20 881.02 L681.58 889.80 M675.20 894.52 L681.58 903.30 M675.20 908.02 L681.58 916.80 M675.20 921.52 L681.58 930.30 M675.20 935.02 L681.58 943.80 M675.20 948.52 L681.58 957.30 M675.20 962.02 L681.58 970.80 M675.20 975.52 L681.58 984.30 M675.20 989.02 L681.58 997.80 M675.20 1002.52 L681.58 1011.30 M675.20 1016.02 L681.58 1024.80 M675.20 1029.53 L681.58 1038.30 M675.20 1043.03 L681.58 1051.80 M675.20 1056.53 L681.58 1065.30 M675.20 1070.03 L681.58 1078.80 M675.20 1083.53 L681.58 1092.30 M675.20 1097.03 L681.58 1105.80 M675.20 1110.53 L681.58 1119.30 M675.20 1124.03 L681.58 1132.80" stroke="#a9b0b9" stroke-width="6.8" stroke-linecap="round" opacity=".95"/><path d="M675.20 827.02 L681.58 835.80 M675.20 840.52 L681.58 849.30 M675.20 854.02 L681.58 862.80 M675.20 867.52 L681.58 876.30 M675.20 881.02 L681.58 889.80 M675.20 894.52 L681.58 903.30 M675.20 908.02 L681.58 916.80 M675.20 921.52 L681.58 930.30 M675.20 935.02 L681.58 943.80 M675.20 948.52 L681.58 957.30 M675.20 962.02 L681.58 970.80 M675.20 975.52 L681.58 984.30 M675.20 989.02 L681.58 997.80 M675.20 1002.52 L681.58 1011.30 M675.20 1016.02 L681.58 1024.80 M675.20 1029.53 L681.58 1038.30 M675.20 1043.03 L681.58 1051.80 M675.20 1056.53 L681.58 1065.30 M675.20 1070.03 L681.58 1078.80 M675.20 1083.53 L681.58 1092.30 M675.20 1097.03 L681.58 1105.80 M675.20 1110.53 L681.58 1119.30 M675.20 1124.03 L681.58 1132.80" stroke="#d2d6dc" stroke-width="3.7" stroke-linecap="round"/></g>
<g><ellipse cx="809" cy="825.5" rx="23" ry="1.6" fill="#b4c4d4" opacity=".8"/><ellipse cx="809.00" cy="840.67" rx="23.00" ry="5.37" fill="url(#dH)" transform="rotate(3 809.00 840.67)"/><path d="M808.0 845.5 L828.4 845.1" stroke="#b0bfcc" stroke-width="1" opacity="0.6"/><path d="M808.0 845.1 L832.4 844.7" stroke="#b0bfcc" stroke-width="1" opacity="0.6"/><path d="M808.0 840.8 L786.7 841.2" stroke="#9cc3e6" stroke-width="1" opacity="0.6"/><ellipse cx="809.00" cy="858.00" rx="23.00" ry="5.37" fill="url(#dH)" transform="rotate(3 809.00 858.00)"/><path d="M808.0 855.4 L831.9 855.0" stroke="#b0bfcc" stroke-width="1" opacity="0.6"/><path d="M808.0 858.5 L786.8 858.8" stroke="#b0bfcc" stroke-width="1" opacity="0.6"/><path d="M808.0 860.5 L787.7 860.9" stroke="#b0bfcc" stroke-width="1" opacity="0.6"/><ellipse cx="809.00" cy="875.33" rx="23.00" ry="5.37" fill="url(#dH)" transform="rotate(3 809.00 875.33)"/><path d="M808.0 870.1 L788.6 870.5" stroke="#b0bfcc" stroke-width="1" opacity="0.6"/><path d="M808.0 878.9 L829.6 878.5" stroke="#7fb3e0" stroke-width="1" opacity="0.6"/><path d="M808.0 869.8 L788.4 870.2" stroke="#9cc3e6" stroke-width="1" opacity="0.6"/><ellipse cx="809.00" cy="892.67" rx="23.00" ry="5.37" fill="url(#dH)" transform="rotate(3 809.00 892.67)"/><path d="M808.0 893.4 L786.4 893.8" stroke="#9cc3e6" stroke-width="1" opacity="0.6"/><path d="M808.0 893.9 L829.2 893.5" stroke="#b0bfcc" stroke-width="1" opacity="0.6"/><path d="M808.0 895.8 L787.9 896.2" stroke="#9cc3e6" stroke-width="1" opacity="0.6"/><ellipse cx="809.00" cy="910.00" rx="23.00" ry="5.37" fill="url(#dH)" transform="rotate(3 809.00 910.00)"/><path d="M808.0 917.0 L833.0 916.6" stroke="#b0bfcc" stroke-width="1" opacity="0.6"/><path d="M808.0 905.6 L789.0 906.0" stroke="#7fb3e0" stroke-width="1" opacity="0.6"/><path d="M808.0 911.3 L830.5 910.9" stroke="#7fb3e0" stroke-width="1" opacity="0.6"/><ellipse cx="809.00" cy="927.33" rx="23.00" ry="5.37" fill="url(#dH)" transform="rotate(3 809.00 927.33)"/><path d="M808.0 928.5 L832.0 928.1" stroke="#b0bfcc" stroke-width="1" opacity="0.6"/><path d="M808.0 924.7 L788.9 925.1" stroke="#7fb3e0" stroke-width="1" opacity="0.6"/><path d="M808.0 928.9 L786.8 929.3" stroke="#b0bfcc" stroke-width="1" opacity="0.6"/><ellipse cx="809.00" cy="944.67" rx="23.00" ry="5.37" fill="url(#dH)" transform="rotate(3 809.00 944.67)"/><path d="M808.0 942.3 L832.3 941.9" stroke="#7fb3e0" stroke-width="1" opacity="0.6"/><path d="M808.0 941.3 L787.6 941.7" stroke="#b0bfcc" stroke-width="1" opacity="0.6"/><path d="M808.0 937.9 L788.4 938.3" stroke="#9cc3e6" stroke-width="1" opacity="0.6"/><ellipse cx="809.00" cy="962.00" rx="23.00" ry="5.37" fill="url(#dH)" transform="rotate(3 809.00 962.00)"/><path d="M808.0 963.9 L785.4 964.3" stroke="#b0bfcc" stroke-width="1" opacity="0.6"/><path d="M808.0 961.1 L785.5 961.5" stroke="#b0bfcc" stroke-width="1" opacity="0.6"/><path d="M808.0 962.9 L830.8 962.5" stroke="#b0bfcc" stroke-width="1" opacity="0.6"/><ellipse cx="809.00" cy="979.33" rx="23.00" ry="5.37" fill="url(#dH)" transform="rotate(3 809.00 979.33)"/><path d="M808.0 979.8 L785.4 980.2" stroke="#b0bfcc" stroke-width="1" opacity="0.6"/><path d="M808.0 975.4 L788.2 975.8" stroke="#b0bfcc" stroke-width="1" opacity="0.6"/><path d="M808.0 981.6 L832.8 981.2" stroke="#b0bfcc" stroke-width="1" opacity="0.6"/><ellipse cx="809.00" cy="996.67" rx="23.00" ry="5.37" fill="url(#dH)" transform="rotate(3 809.00 996.67)"/><path d="M808.0 998.1 L832.2 997.7" stroke="#7fb3e0" stroke-width="1" opacity="0.6"/><path d="M808.0 993.6 L786.7 994.0" stroke="#b0bfcc" stroke-width="1" opacity="0.6"/><path d="M808.0 1000.3 L828.4 999.9" stroke="#9cc3e6" stroke-width="1" opacity="0.6"/><ellipse cx="809.00" cy="1014.00" rx="23.00" ry="5.37" fill="url(#dH)" transform="rotate(3 809.00 1014.00)"/><path d="M808.0 1008.1 L789.4 1008.5" stroke="#9cc3e6" stroke-width="1" opacity="0.6"/><path d="M808.0 1011.9 L785.2 1012.3" stroke="#b0bfcc" stroke-width="1" opacity="0.6"/><path d="M808.0 1012.4 L788.9 1012.8" stroke="#9cc3e6" stroke-width="1" opacity="0.6"/><ellipse cx="809.00" cy="1031.33" rx="23.00" ry="5.37" fill="url(#dH)" transform="rotate(3 809.00 1031.33)"/><path d="M808.0 1025.6 L785.4 1026.0" stroke="#b0bfcc" stroke-width="1" opacity="0.6"/><path d="M808.0 1038.1 L828.4 1037.7" stroke="#7fb3e0" stroke-width="1" opacity="0.6"/><path d="M808.0 1027.6 L785.0 1028.0" stroke="#7fb3e0" stroke-width="1" opacity="0.6"/><ellipse cx="809.00" cy="1048.67" rx="23.00" ry="5.37" fill="url(#dH)" transform="rotate(3 809.00 1048.67)"/><path d="M808.0 1043.7 L788.3 1044.1" stroke="#b0bfcc" stroke-width="1" opacity="0.6"/><path d="M808.0 1049.7 L789.6 1050.1" stroke="#b0bfcc" stroke-width="1" opacity="0.6"/><path d="M808.0 1048.5 L789.4 1048.9" stroke="#7fb3e0" stroke-width="1" opacity="0.6"/><ellipse cx="809.00" cy="1066.00" rx="23.00" ry="5.37" fill="url(#dH)" transform="rotate(3 809.00 1066.00)"/><path d="M808.0 1067.7 L787.5 1068.1" stroke="#9cc3e6" stroke-width="1" opacity="0.6"/><path d="M808.0 1061.3 L786.1 1061.7" stroke="#9cc3e6" stroke-width="1" opacity="0.6"/><path d="M808.0 1068.9 L829.4 1068.6" stroke="#7fb3e0" stroke-width="1" opacity="0.6"/><ellipse cx="809.00" cy="1083.33" rx="23.00" ry="5.37" fill="url(#dH)" transform="rotate(3 809.00 1083.33)"/><path d="M808.0 1079.2 L789.2 1079.5" stroke="#7fb3e0" stroke-width="1" opacity="0.6"/><path d="M808.0 1083.4 L830.0 1083.0" stroke="#b0bfcc" stroke-width="1" opacity="0.6"/><path d="M808.0 1082.0 L832.5 1081.6" stroke="#7fb3e0" stroke-width="1" opacity="0.6"/><ellipse cx="809.00" cy="1100.67" rx="23.00" ry="5.37" fill="url(#dH)" transform="rotate(3 809.00 1100.67)"/><path d="M808.0 1094.3 L788.9 1094.7" stroke="#b0bfcc" stroke-width="1" opacity="0.6"/><path d="M808.0 1104.9 L828.5 1104.5" stroke="#7fb3e0" stroke-width="1" opacity="0.6"/><path d="M808.0 1099.1 L785.8 1099.4" stroke="#9cc3e6" stroke-width="1" opacity="0.6"/><ellipse cx="809.00" cy="1118.00" rx="23.00" ry="5.37" fill="url(#dH)" transform="rotate(3 809.00 1118.00)"/><path d="M808.0 1115.5 L831.1 1115.1" stroke="#9cc3e6" stroke-width="1" opacity="0.6"/><path d="M808.0 1120.6 L831.0 1120.2" stroke="#9cc3e6" stroke-width="1" opacity="0.6"/><path d="M808.0 1121.2 L828.0 1120.8" stroke="#7fb3e0" stroke-width="1" opacity="0.6"/><ellipse cx="809.00" cy="1135.33" rx="23.00" ry="5.37" fill="url(#dH)" transform="rotate(3 809.00 1135.33)"/><path d="M808.0 1141.4 L829.5 1141.0" stroke="#b0bfcc" stroke-width="1" opacity="0.6"/><path d="M808.0 1132.4 L830.1 1132.0" stroke="#9cc3e6" stroke-width="1" opacity="0.6"/><path d="M808.0 1135.3 L830.6 1134.9" stroke="#9cc3e6" stroke-width="1" opacity="0.6"/><path d="M803.20 832.00 L809.00 843.27 M803.20 849.33 L809.00 860.60 M803.20 866.67 L809.00 877.93 M803.20 884.00 L809.00 895.27 M803.20 901.33 L809.00 912.60 M803.20 918.67 L809.00 929.93 M803.20 936.00 L809.00 947.27 M803.20 953.33 L809.00 964.60 M803.20 970.67 L809.00 981.93 M803.20 988.00 L809.00 999.27 M803.20 1005.33 L809.00 1016.60 M803.20 1022.67 L809.00 1033.93 M803.20 1040.00 L809.00 1051.27 M803.20 1057.33 L809.00 1068.60 M803.20 1074.67 L809.00 1085.93 M803.20 1092.00 L809.00 1103.27 M803.20 1109.33 L809.00 1120.60 M803.20 1126.67 L809.00 1137.93" stroke="#2f3a48" stroke-width="1.0" opacity="0.75"/><path d="M804.80 832.87 L811.20 844.13 M804.80 850.20 L811.20 861.47 M804.80 867.53 L811.20 878.80 M804.80 884.87 L811.20 896.13 M804.80 902.20 L811.20 913.47 M804.80 919.53 L811.20 930.80 M804.80 936.87 L811.20 948.13 M804.80 954.20 L811.20 965.47 M804.80 971.53 L811.20 982.80 M804.80 988.87 L811.20 1000.13 M804.80 1006.20 L811.20 1017.47 M804.80 1023.53 L811.20 1034.80 M804.80 1040.87 L811.20 1052.13 M804.80 1058.20 L811.20 1069.47 M804.80 1075.53 L811.20 1086.80 M804.80 1092.87 L811.20 1104.13 M804.80 1110.20 L811.20 1121.47 M804.80 1127.53 L811.20 1138.80" stroke="#e4e8ec" stroke-width="3.6" stroke-linecap="round"/><path d="M804.00 840.67 L812.50 850.20 M804.00 858.00 L812.50 867.53 M804.00 875.33 L812.50 884.87 M804.00 892.67 L812.50 902.20 M804.00 910.00 L812.50 919.53 M804.00 927.33 L812.50 936.87 M804.00 944.67 L812.50 954.20 M804.00 962.00 L812.50 971.53 M804.00 979.33 L812.50 988.87 M804.00 996.67 L812.50 1006.20 M804.00 1014.00 L812.50 1023.53 M804.00 1031.33 L812.50 1040.87 M804.00 1048.67 L812.50 1058.20 M804.00 1066.00 L812.50 1075.53 M804.00 1083.33 L812.50 1092.87 M804.00 1100.67 L812.50 1110.20 M804.00 1118.00 L812.50 1127.53 M804.00 1135.33 L812.50 1144.87" stroke="#3592d8" stroke-width="4.9" stroke-linecap="round" opacity="0.95"/></g>
<g><ellipse cx="932.5" cy="827.5" rx="16.5" ry="1.6" fill="#b4c4d4" opacity=".8"/><ellipse cx="932.50" cy="842.72" rx="16.50" ry="5.41" fill="url(#dH)" transform="rotate(3 932.50 842.72)"/><path d="M933.0 840.2 L916.4 840.6" stroke="#7fb3e0" stroke-width="1" opacity="0.6"/><path d="M933.0 844.8 L918.5 845.1" stroke="#9cc3e6" stroke-width="1" opacity="0.6"/><path d="M933.0 840.0 L915.2 840.4" stroke="#7fb3e0" stroke-width="1" opacity="0.6"/><ellipse cx="932.50" cy="860.17" rx="16.50" ry="5.41" fill="url(#dH)" transform="rotate(3 932.50 860.17)"/><path d="M933.0 867.3 L945.9 867.0" stroke="#7fb3e0" stroke-width="1" opacity="0.6"/><path d="M933.0 858.5 L919.4 858.9" stroke="#b0bfcc" stroke-width="1" opacity="0.6"/><path d="M933.0 857.0 L949.6 856.6" stroke="#7fb3e0" stroke-width="1" opacity="0.6"/><ellipse cx="932.50" cy="877.61" rx="16.50" ry="5.41" fill="url(#dH)" transform="rotate(3 932.50 877.61)"/><path d="M933.0 880.0 L949.3 879.6" stroke="#7fb3e0" stroke-width="1" opacity="0.6"/><path d="M933.0 877.3 L948.5 876.9" stroke="#9cc3e6" stroke-width="1" opacity="0.6"/><path d="M933.0 870.7 L918.1 871.1" stroke="#b0bfcc" stroke-width="1" opacity="0.6"/><ellipse cx="932.50" cy="895.06" rx="16.50" ry="5.41" fill="url(#dH)" transform="rotate(3 932.50 895.06)"/><path d="M933.0 894.7 L945.2 894.3" stroke="#7fb3e0" stroke-width="1" opacity="0.6"/><path d="M933.0 896.6 L946.5 896.2" stroke="#7fb3e0" stroke-width="1" opacity="0.6"/><path d="M933.0 895.8 L916.5 896.2" stroke="#b0bfcc" stroke-width="1" opacity="0.6"/><ellipse cx="932.50" cy="912.50" rx="16.50" ry="5.41" fill="url(#dH)" transform="rotate(3 932.50 912.50)"/><path d="M933.0 917.9 L946.6 917.5" stroke="#7fb3e0" stroke-width="1" opacity="0.6"/><path d="M933.0 909.0 L915.4 909.3" stroke="#7fb3e0" stroke-width="1" opacity="0.6"/><path d="M933.0 916.4 L949.3 916.0" stroke="#b0bfcc" stroke-width="1" opacity="0.6"/><ellipse cx="932.50" cy="929.94" rx="16.50" ry="5.41" fill="url(#dH)" transform="rotate(3 932.50 929.94)"/><path d="M933.0 926.9 L949.9 926.5" stroke="#9cc3e6" stroke-width="1" opacity="0.6"/><path d="M933.0 932.6 L919.2 933.0" stroke="#7fb3e0" stroke-width="1" opacity="0.6"/><path d="M933.0 923.5 L919.5 923.9" stroke="#7fb3e0" stroke-width="1" opacity="0.6"/><ellipse cx="932.50" cy="947.39" rx="16.50" ry="5.41" fill="url(#dH)" transform="rotate(3 932.50 947.39)"/><path d="M933.0 948.3 L919.5 948.7" stroke="#9cc3e6" stroke-width="1" opacity="0.6"/><path d="M933.0 954.4 L947.3 954.0" stroke="#9cc3e6" stroke-width="1" opacity="0.6"/><path d="M933.0 950.0 L916.8 950.4" stroke="#9cc3e6" stroke-width="1" opacity="0.6"/><ellipse cx="932.50" cy="964.83" rx="16.50" ry="5.41" fill="url(#dH)" transform="rotate(3 932.50 964.83)"/><path d="M933.0 969.5 L945.5 969.1" stroke="#7fb3e0" stroke-width="1" opacity="0.6"/><path d="M933.0 964.1 L947.9 963.7" stroke="#9cc3e6" stroke-width="1" opacity="0.6"/><path d="M933.0 959.2 L917.4 959.6" stroke="#9cc3e6" stroke-width="1" opacity="0.6"/><ellipse cx="932.50" cy="982.28" rx="16.50" ry="5.41" fill="url(#dH)" transform="rotate(3 932.50 982.28)"/><path d="M933.0 982.5 L947.2 982.1" stroke="#7fb3e0" stroke-width="1" opacity="0.6"/><path d="M933.0 988.6 L945.6 988.2" stroke="#7fb3e0" stroke-width="1" opacity="0.6"/><path d="M933.0 978.4 L916.5 978.7" stroke="#7fb3e0" stroke-width="1" opacity="0.6"/><ellipse cx="932.50" cy="999.72" rx="16.50" ry="5.41" fill="url(#dH)" transform="rotate(3 932.50 999.72)"/><path d="M933.0 997.0 L919.3 997.3" stroke="#b0bfcc" stroke-width="1" opacity="0.6"/><path d="M933.0 1002.3 L916.1 1002.7" stroke="#b0bfcc" stroke-width="1" opacity="0.6"/><path d="M933.0 1003.7 L945.5 1003.3" stroke="#b0bfcc" stroke-width="1" opacity="0.6"/><ellipse cx="932.50" cy="1017.17" rx="16.50" ry="5.41" fill="url(#dH)" transform="rotate(3 932.50 1017.17)"/><path d="M933.0 1017.6 L916.5 1018.0" stroke="#7fb3e0" stroke-width="1" opacity="0.6"/><path d="M933.0 1017.3 L945.2 1016.9" stroke="#b0bfcc" stroke-width="1" opacity="0.6"/><path d="M933.0 1014.0 L949.0 1013.6" stroke="#9cc3e6" stroke-width="1" opacity="0.6"/><ellipse cx="932.50" cy="1034.61" rx="16.50" ry="5.41" fill="url(#dH)" transform="rotate(3 932.50 1034.61)"/><path d="M933.0 1032.0 L945.7 1031.6" stroke="#9cc3e6" stroke-width="1" opacity="0.6"/><path d="M933.0 1037.7 L918.9 1038.1" stroke="#b0bfcc" stroke-width="1" opacity="0.6"/><path d="M933.0 1034.8 L949.8 1034.4" stroke="#7fb3e0" stroke-width="1" opacity="0.6"/><ellipse cx="932.50" cy="1052.06" rx="16.50" ry="5.41" fill="url(#dH)" transform="rotate(3 932.50 1052.06)"/><path d="M933.0 1058.6 L949.5 1058.2" stroke="#b0bfcc" stroke-width="1" opacity="0.6"/><path d="M933.0 1050.8 L946.5 1050.4" stroke="#9cc3e6" stroke-width="1" opacity="0.6"/><path d="M933.0 1046.1 L919.5 1046.4" stroke="#7fb3e0" stroke-width="1" opacity="0.6"/><ellipse cx="932.50" cy="1069.50" rx="16.50" ry="5.41" fill="url(#dH)" transform="rotate(3 932.50 1069.50)"/><path d="M933.0 1062.7 L915.8 1063.1" stroke="#9cc3e6" stroke-width="1" opacity="0.6"/><path d="M933.0 1067.2 L918.6 1067.6" stroke="#b0bfcc" stroke-width="1" opacity="0.6"/><path d="M933.0 1074.6 L946.0 1074.2" stroke="#7fb3e0" stroke-width="1" opacity="0.6"/><ellipse cx="932.50" cy="1086.94" rx="16.50" ry="5.41" fill="url(#dH)" transform="rotate(3 932.50 1086.94)"/><path d="M933.0 1083.5 L949.3 1083.2" stroke="#7fb3e0" stroke-width="1" opacity="0.6"/><path d="M933.0 1086.8 L918.9 1087.2" stroke="#b0bfcc" stroke-width="1" opacity="0.6"/><path d="M933.0 1094.3 L946.7 1093.9" stroke="#b0bfcc" stroke-width="1" opacity="0.6"/><ellipse cx="932.50" cy="1104.39" rx="16.50" ry="5.41" fill="url(#dH)" transform="rotate(3 932.50 1104.39)"/><path d="M933.0 1097.5 L917.8 1097.9" stroke="#b0bfcc" stroke-width="1" opacity="0.6"/><path d="M933.0 1104.0 L917.9 1104.4" stroke="#9cc3e6" stroke-width="1" opacity="0.6"/><path d="M933.0 1103.9 L946.7 1103.5" stroke="#9cc3e6" stroke-width="1" opacity="0.6"/><ellipse cx="932.50" cy="1121.83" rx="16.50" ry="5.41" fill="url(#dH)" transform="rotate(3 932.50 1121.83)"/><path d="M933.0 1118.6 L946.3 1118.2" stroke="#b0bfcc" stroke-width="1" opacity="0.6"/><path d="M933.0 1128.1 L945.5 1127.7" stroke="#9cc3e6" stroke-width="1" opacity="0.6"/><path d="M933.0 1121.3 L949.2 1121.0" stroke="#b0bfcc" stroke-width="1" opacity="0.6"/><ellipse cx="932.50" cy="1139.28" rx="16.50" ry="5.41" fill="url(#dH)" transform="rotate(3 932.50 1139.28)"/><path d="M933.0 1143.8 L949.5 1143.4" stroke="#7fb3e0" stroke-width="1" opacity="0.6"/><path d="M933.0 1142.0 L946.5 1141.6" stroke="#9cc3e6" stroke-width="1" opacity="0.6"/><path d="M933.0 1138.2 L947.0 1137.8" stroke="#9cc3e6" stroke-width="1" opacity="0.6"/><path d="M928.20 834.00 L934.00 845.34 M928.20 851.44 L934.00 862.78 M928.20 868.89 L934.00 880.23 M928.20 886.33 L934.00 897.67 M928.20 903.78 L934.00 915.12 M928.20 921.22 L934.00 932.56 M928.20 938.67 L934.00 950.01 M928.20 956.11 L934.00 967.45 M928.20 973.56 L934.00 984.89 M928.20 991.00 L934.00 1002.34 M928.20 1008.44 L934.00 1019.78 M928.20 1025.89 L934.00 1037.23 M928.20 1043.33 L934.00 1054.67 M928.20 1060.78 L934.00 1072.12 M928.20 1078.22 L934.00 1089.56 M928.20 1095.67 L934.00 1107.01 M928.20 1113.11 L934.00 1124.45 M928.20 1130.56 L934.00 1141.89" stroke="#2f3a48" stroke-width="1.0" opacity="0.75"/><path d="M929.80 834.87 L936.20 846.21 M929.80 852.32 L936.20 863.66 M929.80 869.76 L936.20 881.10 M929.80 887.21 L936.20 898.54 M929.80 904.65 L936.20 915.99 M929.80 922.09 L936.20 933.43 M929.80 939.54 L936.20 950.88 M929.80 956.98 L936.20 968.32 M929.80 974.43 L936.20 985.77 M929.80 991.87 L936.20 1003.21 M929.80 1009.32 L936.20 1020.66 M929.80 1026.76 L936.20 1038.10 M929.80 1044.21 L936.20 1055.54 M929.80 1061.65 L936.20 1072.99 M929.80 1079.09 L936.20 1090.43 M929.80 1096.54 L936.20 1107.88 M929.80 1113.98 L936.20 1125.32 M929.80 1131.43 L936.20 1142.77" stroke="#e4e8ec" stroke-width="3.6" stroke-linecap="round"/><path d="M929.00 842.72 L937.50 852.32 M929.00 860.17 L937.50 869.76 M929.00 877.61 L937.50 887.21 M929.00 895.06 L937.50 904.65 M929.00 912.50 L937.50 922.09 M929.00 929.94 L937.50 939.54 M929.00 947.39 L937.50 956.98 M929.00 964.83 L937.50 974.43 M929.00 982.28 L937.50 991.87 M929.00 999.72 L937.50 1009.32 M929.00 1017.17 L937.50 1026.76 M929.00 1034.61 L937.50 1044.21 M929.00 1052.06 L937.50 1061.65 M929.00 1069.50 L937.50 1079.09 M929.00 1086.94 L937.50 1096.54 M929.00 1104.39 L937.50 1113.98 M929.00 1121.83 L937.50 1131.43 M929.00 1139.28 L937.50 1148.87" stroke="#3592d8" stroke-width="4.9" stroke-linecap="round" opacity="0.95"/></g>
<g><ellipse cx="1062.50" cy="838.67" rx="13.50" ry="5.37" fill="url(#dH)" transform="rotate(3 1062.50 838.67)"/><path d="M1061.7 842.0 L1048.0 842.4" stroke="#9cc3e6" stroke-width="1" opacity="0.6"/><path d="M1061.7 840.2 L1049.6 840.5" stroke="#7fb3e0" stroke-width="1" opacity="0.6"/><path d="M1061.7 842.7 L1075.6 842.4" stroke="#9cc3e6" stroke-width="1" opacity="0.6"/><ellipse cx="1062.50" cy="856.00" rx="13.50" ry="5.37" fill="url(#dH)" transform="rotate(3 1062.50 856.00)"/><path d="M1061.7 857.1 L1050.7 857.5" stroke="#9cc3e6" stroke-width="1" opacity="0.6"/><path d="M1061.7 852.9 L1076.7 852.5" stroke="#b0bfcc" stroke-width="1" opacity="0.6"/><path d="M1061.7 861.3 L1073.2 860.9" stroke="#7fb3e0" stroke-width="1" opacity="0.6"/><ellipse cx="1062.50" cy="873.33" rx="13.50" ry="5.37" fill="url(#dH)" transform="rotate(3 1062.50 873.33)"/><path d="M1061.7 875.8 L1049.2 876.2" stroke="#7fb3e0" stroke-width="1" opacity="0.6"/><path d="M1061.7 876.0 L1072.5 875.6" stroke="#9cc3e6" stroke-width="1" opacity="0.6"/><path d="M1061.7 876.2 L1048.8 876.6" stroke="#b0bfcc" stroke-width="1" opacity="0.6"/><ellipse cx="1062.50" cy="890.67" rx="13.50" ry="5.37" fill="url(#dH)" transform="rotate(3 1062.50 890.67)"/><path d="M1061.7 890.8 L1050.5 891.2" stroke="#9cc3e6" stroke-width="1" opacity="0.6"/><path d="M1061.7 889.0 L1050.4 889.4" stroke="#7fb3e0" stroke-width="1" opacity="0.6"/><path d="M1061.7 890.7 L1072.3 890.3" stroke="#b0bfcc" stroke-width="1" opacity="0.6"/><ellipse cx="1062.50" cy="908.00" rx="13.50" ry="5.37" fill="url(#dH)" transform="rotate(3 1062.50 908.00)"/><path d="M1061.7 914.3 L1072.5 914.0" stroke="#7fb3e0" stroke-width="1" opacity="0.6"/><path d="M1061.7 905.9 L1075.8 905.5" stroke="#9cc3e6" stroke-width="1" opacity="0.6"/><path d="M1061.7 905.4 L1051.1 905.8" stroke="#7fb3e0" stroke-width="1" opacity="0.6"/><ellipse cx="1062.50" cy="925.33" rx="13.50" ry="5.37" fill="url(#dH)" transform="rotate(3 1062.50 925.33)"/><path d="M1061.7 919.4 L1051.6 919.8" stroke="#9cc3e6" stroke-width="1" opacity="0.6"/><path d="M1061.7 924.4 L1051.8 924.8" stroke="#9cc3e6" stroke-width="1" opacity="0.6"/><path d="M1061.7 922.7 L1074.2 922.3" stroke="#b0bfcc" stroke-width="1" opacity="0.6"/><ellipse cx="1062.50" cy="942.67" rx="13.50" ry="5.37" fill="url(#dH)" transform="rotate(3 1062.50 942.67)"/><path d="M1061.7 938.4 L1049.9 938.8" stroke="#b0bfcc" stroke-width="1" opacity="0.6"/><path d="M1061.7 942.6 L1072.9 942.2" stroke="#9cc3e6" stroke-width="1" opacity="0.6"/><path d="M1061.7 943.4 L1048.3 943.8" stroke="#7fb3e0" stroke-width="1" opacity="0.6"/><ellipse cx="1062.50" cy="960.00" rx="13.50" ry="5.37" fill="url(#dH)" transform="rotate(3 1062.50 960.00)"/><path d="M1061.7 957.9 L1050.8 958.3" stroke="#b0bfcc" stroke-width="1" opacity="0.6"/><path d="M1061.7 959.6 L1050.4 960.0" stroke="#9cc3e6" stroke-width="1" opacity="0.6"/><path d="M1061.7 953.0 L1050.7 953.4" stroke="#7fb3e0" stroke-width="1" opacity="0.6"/><ellipse cx="1062.50" cy="977.33" rx="13.50" ry="5.37" fill="url(#dH)" transform="rotate(3 1062.50 977.33)"/><path d="M1061.7 975.1 L1051.8 975.5" stroke="#7fb3e0" stroke-width="1" opacity="0.6"/><path d="M1061.7 975.9 L1050.7 976.3" stroke="#9cc3e6" stroke-width="1" opacity="0.6"/><path d="M1061.7 976.3 L1073.0 975.9" stroke="#b0bfcc" stroke-width="1" opacity="0.6"/><ellipse cx="1062.50" cy="994.67" rx="13.50" ry="5.37" fill="url(#dH)" transform="rotate(3 1062.50 994.67)"/><path d="M1061.7 999.5 L1076.3 999.1" stroke="#7fb3e0" stroke-width="1" opacity="0.6"/><path d="M1061.7 989.2 L1052.9 989.6" stroke="#7fb3e0" stroke-width="1" opacity="0.6"/><path d="M1061.7 994.5 L1051.6 994.8" stroke="#b0bfcc" stroke-width="1" opacity="0.6"/><ellipse cx="1062.50" cy="1012.00" rx="13.50" ry="5.37" fill="url(#dH)" transform="rotate(3 1062.50 1012.00)"/><path d="M1061.7 1008.7 L1052.3 1009.0" stroke="#9cc3e6" stroke-width="1" opacity="0.6"/><path d="M1061.7 1006.2 L1051.5 1006.6" stroke="#b0bfcc" stroke-width="1" opacity="0.6"/><path d="M1061.7 1005.7 L1048.4 1006.0" stroke="#b0bfcc" stroke-width="1" opacity="0.6"/><ellipse cx="1062.50" cy="1029.33" rx="13.50" ry="5.37" fill="url(#dH)" transform="rotate(3 1062.50 1029.33)"/><path d="M1061.7 1025.2 L1048.3 1025.6" stroke="#7fb3e0" stroke-width="1" opacity="0.6"/><path d="M1061.7 1032.1 L1048.9 1032.5" stroke="#b0bfcc" stroke-width="1" opacity="0.6"/><path d="M1061.7 1024.3 L1051.6 1024.7" stroke="#7fb3e0" stroke-width="1" opacity="0.6"/><ellipse cx="1062.50" cy="1046.67" rx="13.50" ry="5.37" fill="url(#dH)" transform="rotate(3 1062.50 1046.67)"/><path d="M1061.7 1047.9 L1051.0 1048.3" stroke="#9cc3e6" stroke-width="1" opacity="0.6"/><path d="M1061.7 1047.5 L1051.1 1047.9" stroke="#9cc3e6" stroke-width="1" opacity="0.6"/><path d="M1061.7 1048.8 L1052.0 1049.2" stroke="#b0bfcc" stroke-width="1" opacity="0.6"/><ellipse cx="1062.50" cy="1064.00" rx="13.50" ry="5.37" fill="url(#dH)" transform="rotate(3 1062.50 1064.00)"/><path d="M1061.7 1066.6 L1048.2 1066.9" stroke="#7fb3e0" stroke-width="1" opacity="0.6"/><path d="M1061.7 1070.2 L1074.8 1069.8" stroke="#b0bfcc" stroke-width="1" opacity="0.6"/><path d="M1061.7 1063.8 L1049.5 1064.2" stroke="#7fb3e0" stroke-width="1" opacity="0.6"/><ellipse cx="1062.50" cy="1081.33" rx="13.50" ry="5.37" fill="url(#dH)" transform="rotate(3 1062.50 1081.33)"/><path d="M1061.7 1084.6 L1072.3 1084.3" stroke="#7fb3e0" stroke-width="1" opacity="0.6"/><path d="M1061.7 1086.4 L1075.3 1086.0" stroke="#b0bfcc" stroke-width="1" opacity="0.6"/><path d="M1061.7 1085.9 L1075.6 1085.5" stroke="#7fb3e0" stroke-width="1" opacity="0.6"/><ellipse cx="1062.50" cy="1098.67" rx="13.50" ry="5.37" fill="url(#dH)" transform="rotate(3 1062.50 1098.67)"/><path d="M1061.7 1095.0 L1050.1 1095.3" stroke="#7fb3e0" stroke-width="1" opacity="0.6"/><path d="M1061.7 1100.3 L1072.8 1099.9" stroke="#7fb3e0" stroke-width="1" opacity="0.6"/><path d="M1061.7 1093.3 L1052.0 1093.7" stroke="#b0bfcc" stroke-width="1" opacity="0.6"/><ellipse cx="1062.50" cy="1116.00" rx="13.50" ry="5.37" fill="url(#dH)" transform="rotate(3 1062.50 1116.00)"/><path d="M1061.7 1113.3 L1076.3 1112.9" stroke="#9cc3e6" stroke-width="1" opacity="0.6"/><path d="M1061.7 1119.8 L1072.6 1119.4" stroke="#7fb3e0" stroke-width="1" opacity="0.6"/><path d="M1061.7 1116.8 L1051.0 1117.2" stroke="#9cc3e6" stroke-width="1" opacity="0.6"/><ellipse cx="1062.50" cy="1133.33" rx="13.50" ry="5.37" fill="url(#dH)" transform="rotate(3 1062.50 1133.33)"/><path d="M1061.7 1135.8 L1052.8 1136.2" stroke="#7fb3e0" stroke-width="1" opacity="0.6"/><path d="M1061.7 1126.2 L1050.0 1126.6" stroke="#b0bfcc" stroke-width="1" opacity="0.6"/><path d="M1061.7 1126.4 L1048.2 1126.7" stroke="#9cc3e6" stroke-width="1" opacity="0.6"/><path d="M1056.90 830.00 L1062.70 841.27 M1056.90 847.33 L1062.70 858.60 M1056.90 864.67 L1062.70 875.93 M1056.90 882.00 L1062.70 893.27 M1056.90 899.33 L1062.70 910.60 M1056.90 916.67 L1062.70 927.93 M1056.90 934.00 L1062.70 945.27 M1056.90 951.33 L1062.70 962.60 M1056.90 968.67 L1062.70 979.93 M1056.90 986.00 L1062.70 997.27 M1056.90 1003.33 L1062.70 1014.60 M1056.90 1020.67 L1062.70 1031.93 M1056.90 1038.00 L1062.70 1049.27 M1056.90 1055.33 L1062.70 1066.60 M1056.90 1072.67 L1062.70 1083.93 M1056.90 1090.00 L1062.70 1101.27 M1056.90 1107.33 L1062.70 1118.60 M1056.90 1124.67 L1062.70 1135.93" stroke="#2f3a48" stroke-width="1.0" opacity="0.75"/><path d="M1058.50 830.87 L1064.90 842.13 M1058.50 848.20 L1064.90 859.47 M1058.50 865.53 L1064.90 876.80 M1058.50 882.87 L1064.90 894.13 M1058.50 900.20 L1064.90 911.47 M1058.50 917.53 L1064.90 928.80 M1058.50 934.87 L1064.90 946.13 M1058.50 952.20 L1064.90 963.47 M1058.50 969.53 L1064.90 980.80 M1058.50 986.87 L1064.90 998.13 M1058.50 1004.20 L1064.90 1015.47 M1058.50 1021.53 L1064.90 1032.80 M1058.50 1038.87 L1064.90 1050.13 M1058.50 1056.20 L1064.90 1067.47 M1058.50 1073.53 L1064.90 1084.80 M1058.50 1090.87 L1064.90 1102.13 M1058.50 1108.20 L1064.90 1119.47 M1058.50 1125.53 L1064.90 1136.80" stroke="#e4e8ec" stroke-width="3.6" stroke-linecap="round"/><path d="M1057.70 838.67 L1066.20 848.20 M1057.70 856.00 L1066.20 865.53 M1057.70 873.33 L1066.20 882.87 M1057.70 890.67 L1066.20 900.20 M1057.70 908.00 L1066.20 917.53 M1057.70 925.33 L1066.20 934.87 M1057.70 942.67 L1066.20 952.20 M1057.70 960.00 L1066.20 969.53 M1057.70 977.33 L1066.20 986.87 M1057.70 994.67 L1066.20 1004.20 M1057.70 1012.00 L1066.20 1021.53 M1057.70 1029.33 L1066.20 1038.87 M1057.70 1046.67 L1066.20 1056.20 M1057.70 1064.00 L1066.20 1073.53 M1057.70 1081.33 L1066.20 1090.87 M1057.70 1098.67 L1066.20 1108.20 M1057.70 1116.00 L1066.20 1125.53 M1057.70 1133.33 L1066.20 1142.87" stroke="#3592d8" stroke-width="4.9" stroke-linecap="round" opacity="0.95"/></g>
<g><path d="M1197.00 899.17 C1201.80 894.60 1216.20 894.60 1221.00 899.67 C1216.20 903.75 1201.80 903.75 1197.00 899.17 Z" fill="url(#sH)" stroke="#b9c9da" stroke-width="0.5"/><path d="M1197.00 909.52 C1201.80 904.95 1216.20 904.95 1221.00 910.02 C1216.20 914.09 1201.80 914.09 1197.00 909.52 Z" fill="url(#sH)" stroke="#b9c9da" stroke-width="0.5"/><path d="M1197.00 919.87 C1201.80 915.29 1216.20 915.29 1221.00 920.37 C1216.20 924.44 1201.80 924.44 1197.00 919.87 Z" fill="url(#sH)" stroke="#b9c9da" stroke-width="0.5"/><path d="M1197.00 930.21 C1201.80 925.64 1216.20 925.64 1221.00 930.71 C1216.20 934.78 1201.80 934.78 1197.00 930.21 Z" fill="url(#sH)" stroke="#b9c9da" stroke-width="0.5"/><path d="M1197.00 940.56 C1201.80 935.98 1216.20 935.98 1221.00 941.06 C1216.20 945.13 1201.80 945.13 1197.00 940.56 Z" fill="url(#sH)" stroke="#b9c9da" stroke-width="0.5"/><path d="M1197.00 950.90 C1201.80 946.33 1216.20 946.33 1221.00 951.40 C1216.20 955.48 1201.80 955.48 1197.00 950.90 Z" fill="url(#sH)" stroke="#b9c9da" stroke-width="0.5"/><path d="M1197.00 961.25 C1201.80 956.68 1216.20 956.68 1221.00 961.75 C1216.20 965.82 1201.80 965.82 1197.00 961.25 Z" fill="url(#sH)" stroke="#b9c9da" stroke-width="0.5"/><path d="M1197.00 971.60 C1201.80 967.02 1216.20 967.02 1221.00 972.10 C1216.20 976.17 1201.80 976.17 1197.00 971.60 Z" fill="url(#sH)" stroke="#b9c9da" stroke-width="0.5"/><path d="M1197.00 981.94 C1201.80 977.37 1216.20 977.37 1221.00 982.44 C1216.20 986.52 1201.80 986.52 1197.00 981.94 Z" fill="url(#sH)" stroke="#b9c9da" stroke-width="0.5"/><path d="M1197.00 992.29 C1201.80 987.72 1216.20 987.72 1221.00 992.79 C1216.20 996.86 1201.80 996.86 1197.00 992.29 Z" fill="url(#sH)" stroke="#b9c9da" stroke-width="0.5"/><path d="M1197.00 1002.63 C1201.80 998.06 1216.20 998.06 1221.00 1003.13 C1216.20 1007.21 1201.80 1007.21 1197.00 1002.63 Z" fill="url(#sH)" stroke="#b9c9da" stroke-width="0.5"/><path d="M1197.00 1012.98 C1201.80 1008.41 1216.20 1008.41 1221.00 1013.48 C1216.20 1017.55 1201.80 1017.55 1197.00 1012.98 Z" fill="url(#sH)" stroke="#b9c9da" stroke-width="0.5"/><path d="M1197.00 1023.33 C1201.80 1018.75 1216.20 1018.75 1221.00 1023.83 C1216.20 1027.90 1201.80 1027.90 1197.00 1023.33 Z" fill="url(#sH)" stroke="#b9c9da" stroke-width="0.5"/><path d="M1197.00 1033.67 C1201.80 1029.10 1216.20 1029.10 1221.00 1034.17 C1216.20 1038.25 1201.80 1038.25 1197.00 1033.67 Z" fill="url(#sH)" stroke="#b9c9da" stroke-width="0.5"/><path d="M1197.00 1044.02 C1201.80 1039.45 1216.20 1039.45 1221.00 1044.52 C1216.20 1048.59 1201.80 1048.59 1197.00 1044.02 Z" fill="url(#sH)" stroke="#b9c9da" stroke-width="0.5"/><path d="M1197.00 1054.37 C1201.80 1049.79 1216.20 1049.79 1221.00 1054.87 C1216.20 1058.94 1201.80 1058.94 1197.00 1054.37 Z" fill="url(#sH)" stroke="#b9c9da" stroke-width="0.5"/><path d="M1197.00 1064.71 C1201.80 1060.14 1216.20 1060.14 1221.00 1065.21 C1216.20 1069.28 1201.80 1069.28 1197.00 1064.71 Z" fill="url(#sH)" stroke="#b9c9da" stroke-width="0.5"/><path d="M1197.00 1075.06 C1201.80 1070.48 1216.20 1070.48 1221.00 1075.56 C1216.20 1079.63 1201.80 1079.63 1197.00 1075.06 Z" fill="url(#sH)" stroke="#b9c9da" stroke-width="0.5"/><path d="M1197.00 1085.40 C1201.80 1080.83 1216.20 1080.83 1221.00 1085.90 C1216.20 1089.98 1201.80 1089.98 1197.00 1085.40 Z" fill="url(#sH)" stroke="#b9c9da" stroke-width="0.5"/><path d="M1197.00 1095.75 C1201.80 1091.18 1216.20 1091.18 1221.00 1096.25 C1216.20 1100.32 1201.80 1100.32 1197.00 1095.75 Z" fill="url(#sH)" stroke="#b9c9da" stroke-width="0.5"/><path d="M1197.00 1106.10 C1201.80 1101.52 1216.20 1101.52 1221.00 1106.60 C1216.20 1110.67 1201.80 1110.67 1197.00 1106.10 Z" fill="url(#sH)" stroke="#b9c9da" stroke-width="0.5"/><path d="M1197.00 1116.44 C1201.80 1111.87 1216.20 1111.87 1221.00 1116.94 C1216.20 1121.02 1201.80 1121.02 1197.00 1116.44 Z" fill="url(#sH)" stroke="#b9c9da" stroke-width="0.5"/><path d="M1197.00 1126.79 C1201.80 1122.22 1216.20 1122.22 1221.00 1127.29 C1216.20 1131.36 1201.80 1131.36 1197.00 1126.79 Z" fill="url(#sH)" stroke="#b9c9da" stroke-width="0.5"/><path d="M1197.00 1137.13 C1201.80 1132.56 1216.20 1132.56 1221.00 1137.63 C1216.20 1141.71 1201.80 1141.71 1197.00 1137.13 Z" fill="url(#sH)" stroke="#b9c9da" stroke-width="0.5"/><path d="M1197.00 1147.48 C1201.80 1142.91 1216.20 1142.91 1221.00 1147.98 C1216.20 1152.05 1201.80 1152.05 1197.00 1147.48 Z" fill="url(#sH)" stroke="#b9c9da" stroke-width="0.5"/><path d="M1197.00 1157.83 C1201.80 1153.25 1216.20 1153.25 1221.00 1158.33 C1216.20 1162.40 1201.80 1162.40 1197.00 1157.83 Z" fill="url(#sH)" stroke="#b9c9da" stroke-width="0.5"/><rect x="1204.90" y="894.00" width="6.80" height="269.00" fill="#9fc0e2"/><path d="M1205.30 895.86 L1211.30 899.69 M1205.30 901.04 L1211.30 904.86 M1205.30 906.21 L1211.30 910.04 M1205.30 911.38 L1211.30 915.21 M1205.30 916.55 L1211.30 920.38 M1205.30 921.73 L1211.30 925.56 M1205.30 926.90 L1211.30 930.73 M1205.30 932.07 L1211.30 935.90 M1205.30 937.25 L1211.30 941.07 M1205.30 942.42 L1211.30 946.25 M1205.30 947.59 L1211.30 951.42 M1205.30 952.77 L1211.30 956.59 M1205.30 957.94 L1211.30 961.77 M1205.30 963.11 L1211.30 966.94 M1205.30 968.29 L1211.30 972.11 M1205.30 973.46 L1211.30 977.29 M1205.30 978.63 L1211.30 982.46 M1205.30 983.80 L1211.30 987.63 M1205.30 988.98 L1211.30 992.81 M1205.30 994.15 L1211.30 997.98 M1205.30 999.32 L1211.30 1003.15 M1205.30 1004.50 L1211.30 1008.32 M1205.30 1009.67 L1211.30 1013.50 M1205.30 1014.84 L1211.30 1018.67 M1205.30 1020.02 L1211.30 1023.84 M1205.30 1025.19 L1211.30 1029.02 M1205.30 1030.36 L1211.30 1034.19 M1205.30 1035.54 L1211.30 1039.36 M1205.30 1040.71 L1211.30 1044.54 M1205.30 1045.88 L1211.30 1049.71 M1205.30 1051.05 L1211.30 1054.88 M1205.30 1056.23 L1211.30 1060.06 M1205.30 1061.40 L1211.30 1065.23 M1205.30 1066.57 L1211.30 1070.40 M1205.30 1071.75 L1211.30 1075.58 M1205.30 1076.92 L1211.30 1080.75 M1205.30 1082.09 L1211.30 1085.92 M1205.30 1087.27 L1211.30 1091.09 M1205.30 1092.44 L1211.30 1096.27 M1205.30 1097.61 L1211.30 1101.44 M1205.30 1102.79 L1211.30 1106.61 M1205.30 1107.96 L1211.30 1111.79 M1205.30 1113.13 L1211.30 1116.96 M1205.30 1118.30 L1211.30 1122.13 M1205.30 1123.48 L1211.30 1127.31 M1205.30 1128.65 L1211.30 1132.48 M1205.30 1133.82 L1211.30 1137.65 M1205.30 1139.00 L1211.30 1142.83 M1205.30 1144.17 L1211.30 1148.00 M1205.30 1149.34 L1211.30 1153.17 M1205.30 1154.52 L1211.30 1158.34 M1205.30 1159.69 L1211.30 1163.52" stroke="#f2f6fa" stroke-width="1.6"/><path d="M1205.10 894.00 L1211.50 898.14 M1205.10 899.17 L1211.50 903.31 M1205.10 904.35 L1211.50 908.48 M1205.10 909.52 L1211.50 913.66 M1205.10 914.69 L1211.50 918.83 M1205.10 919.87 L1211.50 924.00 M1205.10 925.04 L1211.50 929.18 M1205.10 930.21 L1211.50 934.35 M1205.10 935.38 L1211.50 939.52 M1205.10 940.56 L1211.50 944.70 M1205.10 945.73 L1211.50 949.87 M1205.10 950.90 L1211.50 955.04 M1205.10 956.08 L1211.50 960.22 M1205.10 961.25 L1211.50 965.39 M1205.10 966.42 L1211.50 970.56 M1205.10 971.60 L1211.50 975.73 M1205.10 976.77 L1211.50 980.91 M1205.10 981.94 L1211.50 986.08 M1205.10 987.12 L1211.50 991.25 M1205.10 992.29 L1211.50 996.43 M1205.10 997.46 L1211.50 1001.60 M1205.10 1002.63 L1211.50 1006.77 M1205.10 1007.81 L1211.50 1011.95 M1205.10 1012.98 L1211.50 1017.12 M1205.10 1018.15 L1211.50 1022.29 M1205.10 1023.33 L1211.50 1027.47 M1205.10 1028.50 L1211.50 1032.64 M1205.10 1033.67 L1211.50 1037.81 M1205.10 1038.85 L1211.50 1042.98 M1205.10 1044.02 L1211.50 1048.16 M1205.10 1049.19 L1211.50 1053.33 M1205.10 1054.37 L1211.50 1058.50 M1205.10 1059.54 L1211.50 1063.68 M1205.10 1064.71 L1211.50 1068.85 M1205.10 1069.88 L1211.50 1074.02 M1205.10 1075.06 L1211.50 1079.20 M1205.10 1080.23 L1211.50 1084.37 M1205.10 1085.40 L1211.50 1089.54 M1205.10 1090.58 L1211.50 1094.72 M1205.10 1095.75 L1211.50 1099.89 M1205.10 1100.92 L1211.50 1105.06 M1205.10 1106.10 L1211.50 1110.23 M1205.10 1111.27 L1211.50 1115.41 M1205.10 1116.44 L1211.50 1120.58 M1205.10 1121.62 L1211.50 1125.75 M1205.10 1126.79 L1211.50 1130.93 M1205.10 1131.96 L1211.50 1136.10 M1205.10 1137.13 L1211.50 1141.27 M1205.10 1142.31 L1211.50 1146.45 M1205.10 1147.48 L1211.50 1151.62 M1205.10 1152.65 L1211.50 1156.79 M1205.10 1157.83 L1211.50 1161.97" stroke="#35679e" stroke-width="1.1" opacity="0.9"/></g>
<g><path d="M1305.00 901.08 C1308.60 896.59 1319.40 896.59 1323.00 901.58 C1319.40 905.56 1308.60 905.56 1305.00 901.08 Z" fill="url(#sH)" stroke="#b9c9da" stroke-width="0.5"/><path d="M1305.00 911.23 C1308.60 906.74 1319.40 906.74 1323.00 911.73 C1319.40 915.72 1308.60 915.72 1305.00 911.23 Z" fill="url(#sH)" stroke="#b9c9da" stroke-width="0.5"/><path d="M1305.00 921.38 C1308.60 916.90 1319.40 916.90 1323.00 921.88 C1319.40 925.87 1308.60 925.87 1305.00 921.38 Z" fill="url(#sH)" stroke="#b9c9da" stroke-width="0.5"/><path d="M1305.00 931.54 C1308.60 927.05 1319.40 927.05 1323.00 932.04 C1319.40 936.03 1308.60 936.03 1305.00 931.54 Z" fill="url(#sH)" stroke="#b9c9da" stroke-width="0.5"/><path d="M1305.00 941.69 C1308.60 937.20 1319.40 937.20 1323.00 942.19 C1319.40 946.18 1308.60 946.18 1305.00 941.69 Z" fill="url(#sH)" stroke="#b9c9da" stroke-width="0.5"/><path d="M1305.00 951.85 C1308.60 947.36 1319.40 947.36 1323.00 952.35 C1319.40 956.33 1308.60 956.33 1305.00 951.85 Z" fill="url(#sH)" stroke="#b9c9da" stroke-width="0.5"/><path d="M1305.00 962.00 C1308.60 957.51 1319.40 957.51 1323.00 962.50 C1319.40 966.49 1308.60 966.49 1305.00 962.00 Z" fill="url(#sH)" stroke="#b9c9da" stroke-width="0.5"/><path d="M1305.00 972.15 C1308.60 967.67 1319.40 967.67 1323.00 972.65 C1319.40 976.64 1308.60 976.64 1305.00 972.15 Z" fill="url(#sH)" stroke="#b9c9da" stroke-width="0.5"/><path d="M1305.00 982.31 C1308.60 977.82 1319.40 977.82 1323.00 982.81 C1319.40 986.80 1308.60 986.80 1305.00 982.31 Z" fill="url(#sH)" stroke="#b9c9da" stroke-width="0.5"/><path d="M1305.00 992.46 C1308.60 987.97 1319.40 987.97 1323.00 992.96 C1319.40 996.95 1308.60 996.95 1305.00 992.46 Z" fill="url(#sH)" stroke="#b9c9da" stroke-width="0.5"/><path d="M1305.00 1002.62 C1308.60 998.13 1319.40 998.13 1323.00 1003.12 C1319.40 1007.10 1308.60 1007.10 1305.00 1002.62 Z" fill="url(#sH)" stroke="#b9c9da" stroke-width="0.5"/><path d="M1305.00 1012.77 C1308.60 1008.28 1319.40 1008.28 1323.00 1013.27 C1319.40 1017.26 1308.60 1017.26 1305.00 1012.77 Z" fill="url(#sH)" stroke="#b9c9da" stroke-width="0.5"/><path d="M1305.00 1022.92 C1308.60 1018.44 1319.40 1018.44 1323.00 1023.42 C1319.40 1027.41 1308.60 1027.41 1305.00 1022.92 Z" fill="url(#sH)" stroke="#b9c9da" stroke-width="0.5"/><path d="M1305.00 1033.08 C1308.60 1028.59 1319.40 1028.59 1323.00 1033.58 C1319.40 1037.56 1308.60 1037.56 1305.00 1033.08 Z" fill="url(#sH)" stroke="#b9c9da" stroke-width="0.5"/><path d="M1305.00 1043.23 C1308.60 1038.74 1319.40 1038.74 1323.00 1043.73 C1319.40 1047.72 1308.60 1047.72 1305.00 1043.23 Z" fill="url(#sH)" stroke="#b9c9da" stroke-width="0.5"/><path d="M1305.00 1053.38 C1308.60 1048.90 1319.40 1048.90 1323.00 1053.88 C1319.40 1057.87 1308.60 1057.87 1305.00 1053.38 Z" fill="url(#sH)" stroke="#b9c9da" stroke-width="0.5"/><path d="M1305.00 1063.54 C1308.60 1059.05 1319.40 1059.05 1323.00 1064.04 C1319.40 1068.03 1308.60 1068.03 1305.00 1063.54 Z" fill="url(#sH)" stroke="#b9c9da" stroke-width="0.5"/><path d="M1305.00 1073.69 C1308.60 1069.20 1319.40 1069.20 1323.00 1074.19 C1319.40 1078.18 1308.60 1078.18 1305.00 1073.69 Z" fill="url(#sH)" stroke="#b9c9da" stroke-width="0.5"/><path d="M1305.00 1083.85 C1308.60 1079.36 1319.40 1079.36 1323.00 1084.35 C1319.40 1088.33 1308.60 1088.33 1305.00 1083.85 Z" fill="url(#sH)" stroke="#b9c9da" stroke-width="0.5"/><path d="M1305.00 1094.00 C1308.60 1089.51 1319.40 1089.51 1323.00 1094.50 C1319.40 1098.49 1308.60 1098.49 1305.00 1094.00 Z" fill="url(#sH)" stroke="#b9c9da" stroke-width="0.5"/><path d="M1305.00 1104.15 C1308.60 1099.67 1319.40 1099.67 1323.00 1104.65 C1319.40 1108.64 1308.60 1108.64 1305.00 1104.15 Z" fill="url(#sH)" stroke="#b9c9da" stroke-width="0.5"/><path d="M1305.00 1114.31 C1308.60 1109.82 1319.40 1109.82 1323.00 1114.81 C1319.40 1118.80 1308.60 1118.80 1305.00 1114.31 Z" fill="url(#sH)" stroke="#b9c9da" stroke-width="0.5"/><path d="M1305.00 1124.46 C1308.60 1119.97 1319.40 1119.97 1323.00 1124.96 C1319.40 1128.95 1308.60 1128.95 1305.00 1124.46 Z" fill="url(#sH)" stroke="#b9c9da" stroke-width="0.5"/><path d="M1305.00 1134.62 C1308.60 1130.13 1319.40 1130.13 1323.00 1135.12 C1319.40 1139.10 1308.60 1139.10 1305.00 1134.62 Z" fill="url(#sH)" stroke="#b9c9da" stroke-width="0.5"/><path d="M1305.00 1144.77 C1308.60 1140.28 1319.40 1140.28 1323.00 1145.27 C1319.40 1149.26 1308.60 1149.26 1305.00 1144.77 Z" fill="url(#sH)" stroke="#b9c9da" stroke-width="0.5"/><path d="M1305.00 1154.92 C1308.60 1150.44 1319.40 1150.44 1323.00 1155.42 C1319.40 1159.41 1308.60 1159.41 1305.00 1154.92 Z" fill="url(#sH)" stroke="#b9c9da" stroke-width="0.5"/><rect x="1309.10" y="896.00" width="6.80" height="264.00" fill="#9fc0e2"/><path d="M1309.50 897.83 L1315.50 901.58 M1309.50 902.90 L1315.50 906.66 M1309.50 907.98 L1315.50 911.74 M1309.50 913.06 L1315.50 916.82 M1309.50 918.14 L1315.50 921.89 M1309.50 923.21 L1315.50 926.97 M1309.50 928.29 L1315.50 932.05 M1309.50 933.37 L1315.50 937.12 M1309.50 938.44 L1315.50 942.20 M1309.50 943.52 L1315.50 947.28 M1309.50 948.60 L1315.50 952.35 M1309.50 953.67 L1315.50 957.43 M1309.50 958.75 L1315.50 962.51 M1309.50 963.83 L1315.50 967.58 M1309.50 968.90 L1315.50 972.66 M1309.50 973.98 L1315.50 977.74 M1309.50 979.06 L1315.50 982.82 M1309.50 984.14 L1315.50 987.89 M1309.50 989.21 L1315.50 992.97 M1309.50 994.29 L1315.50 998.05 M1309.50 999.37 L1315.50 1003.12 M1309.50 1004.44 L1315.50 1008.20 M1309.50 1009.52 L1315.50 1013.28 M1309.50 1014.60 L1315.50 1018.35 M1309.50 1019.67 L1315.50 1023.43 M1309.50 1024.75 L1315.50 1028.51 M1309.50 1029.83 L1315.50 1033.58 M1309.50 1034.90 L1315.50 1038.66 M1309.50 1039.98 L1315.50 1043.74 M1309.50 1045.06 L1315.50 1048.82 M1309.50 1050.14 L1315.50 1053.89 M1309.50 1055.21 L1315.50 1058.97 M1309.50 1060.29 L1315.50 1064.05 M1309.50 1065.37 L1315.50 1069.12 M1309.50 1070.44 L1315.50 1074.20 M1309.50 1075.52 L1315.50 1079.28 M1309.50 1080.60 L1315.50 1084.35 M1309.50 1085.67 L1315.50 1089.43 M1309.50 1090.75 L1315.50 1094.51 M1309.50 1095.83 L1315.50 1099.58 M1309.50 1100.90 L1315.50 1104.66 M1309.50 1105.98 L1315.50 1109.74 M1309.50 1111.06 L1315.50 1114.82 M1309.50 1116.14 L1315.50 1119.89 M1309.50 1121.21 L1315.50 1124.97 M1309.50 1126.29 L1315.50 1130.05 M1309.50 1131.37 L1315.50 1135.12 M1309.50 1136.44 L1315.50 1140.20 M1309.50 1141.52 L1315.50 1145.28 M1309.50 1146.60 L1315.50 1150.35 M1309.50 1151.67 L1315.50 1155.43 M1309.50 1156.75 L1315.50 1160.51" stroke="#f2f6fa" stroke-width="1.6"/><path d="M1309.30 896.00 L1315.70 900.06 M1309.30 901.08 L1315.70 905.14 M1309.30 906.15 L1315.70 910.22 M1309.30 911.23 L1315.70 915.29 M1309.30 916.31 L1315.70 920.37 M1309.30 921.38 L1315.70 925.45 M1309.30 926.46 L1315.70 930.52 M1309.30 931.54 L1315.70 935.60 M1309.30 936.62 L1315.70 940.68 M1309.30 941.69 L1315.70 945.75 M1309.30 946.77 L1315.70 950.83 M1309.30 951.85 L1315.70 955.91 M1309.30 956.92 L1315.70 960.98 M1309.30 962.00 L1315.70 966.06 M1309.30 967.08 L1315.70 971.14 M1309.30 972.15 L1315.70 976.22 M1309.30 977.23 L1315.70 981.29 M1309.30 982.31 L1315.70 986.37 M1309.30 987.38 L1315.70 991.45 M1309.30 992.46 L1315.70 996.52 M1309.30 997.54 L1315.70 1001.60 M1309.30 1002.62 L1315.70 1006.68 M1309.30 1007.69 L1315.70 1011.75 M1309.30 1012.77 L1315.70 1016.83 M1309.30 1017.85 L1315.70 1021.91 M1309.30 1022.92 L1315.70 1026.98 M1309.30 1028.00 L1315.70 1032.06 M1309.30 1033.08 L1315.70 1037.14 M1309.30 1038.15 L1315.70 1042.22 M1309.30 1043.23 L1315.70 1047.29 M1309.30 1048.31 L1315.70 1052.37 M1309.30 1053.38 L1315.70 1057.45 M1309.30 1058.46 L1315.70 1062.52 M1309.30 1063.54 L1315.70 1067.60 M1309.30 1068.62 L1315.70 1072.68 M1309.30 1073.69 L1315.70 1077.75 M1309.30 1078.77 L1315.70 1082.83 M1309.30 1083.85 L1315.70 1087.91 M1309.30 1088.92 L1315.70 1092.98 M1309.30 1094.00 L1315.70 1098.06 M1309.30 1099.08 L1315.70 1103.14 M1309.30 1104.15 L1315.70 1108.22 M1309.30 1109.23 L1315.70 1113.29 M1309.30 1114.31 L1315.70 1118.37 M1309.30 1119.38 L1315.70 1123.45 M1309.30 1124.46 L1315.70 1128.52 M1309.30 1129.54 L1315.70 1133.60 M1309.30 1134.62 L1315.70 1138.68 M1309.30 1139.69 L1315.70 1143.75 M1309.30 1144.77 L1315.70 1148.83 M1309.30 1149.85 L1315.70 1153.91 M1309.30 1154.92 L1315.70 1158.98" stroke="#35679e" stroke-width="1.1" opacity="0.9"/></g>
<g><path d="M1400.00 877.53 C1403.20 873.53 1412.80 873.53 1416.00 878.03 C1412.80 881.54 1403.20 881.54 1400.00 877.53 Z" fill="url(#sH)" stroke="#b9c9da" stroke-width="0.5"/><path d="M1400.00 886.59 C1403.20 882.59 1412.80 882.59 1416.00 887.09 C1412.80 890.60 1403.20 890.60 1400.00 886.59 Z" fill="url(#sH)" stroke="#b9c9da" stroke-width="0.5"/><path d="M1400.00 895.66 C1403.20 891.65 1412.80 891.65 1416.00 896.16 C1412.80 899.66 1403.20 899.66 1400.00 895.66 Z" fill="url(#sH)" stroke="#b9c9da" stroke-width="0.5"/><path d="M1400.00 904.72 C1403.20 900.71 1412.80 900.71 1416.00 905.22 C1412.80 908.72 1403.20 908.72 1400.00 904.72 Z" fill="url(#sH)" stroke="#b9c9da" stroke-width="0.5"/><path d="M1400.00 913.78 C1403.20 909.78 1412.80 909.78 1416.00 914.28 C1412.80 917.79 1403.20 917.79 1400.00 913.78 Z" fill="url(#sH)" stroke="#b9c9da" stroke-width="0.5"/><path d="M1400.00 922.84 C1403.20 918.84 1412.80 918.84 1416.00 923.34 C1412.80 926.85 1403.20 926.85 1400.00 922.84 Z" fill="url(#sH)" stroke="#b9c9da" stroke-width="0.5"/><path d="M1400.00 931.91 C1403.20 927.90 1412.80 927.90 1416.00 932.41 C1412.80 935.91 1403.20 935.91 1400.00 931.91 Z" fill="url(#sH)" stroke="#b9c9da" stroke-width="0.5"/><path d="M1400.00 940.97 C1403.20 936.96 1412.80 936.96 1416.00 941.47 C1412.80 944.97 1403.20 944.97 1400.00 940.97 Z" fill="url(#sH)" stroke="#b9c9da" stroke-width="0.5"/><path d="M1400.00 950.03 C1403.20 946.03 1412.80 946.03 1416.00 950.53 C1412.80 954.04 1403.20 954.04 1400.00 950.03 Z" fill="url(#sH)" stroke="#b9c9da" stroke-width="0.5"/><path d="M1400.00 959.09 C1403.20 955.09 1412.80 955.09 1416.00 959.59 C1412.80 963.10 1403.20 963.10 1400.00 959.09 Z" fill="url(#sH)" stroke="#b9c9da" stroke-width="0.5"/><path d="M1400.00 968.16 C1403.20 964.15 1412.80 964.15 1416.00 968.66 C1412.80 972.16 1403.20 972.16 1400.00 968.16 Z" fill="url(#sH)" stroke="#b9c9da" stroke-width="0.5"/><path d="M1400.00 977.22 C1403.20 973.21 1412.80 973.21 1416.00 977.72 C1412.80 981.22 1403.20 981.22 1400.00 977.22 Z" fill="url(#sH)" stroke="#b9c9da" stroke-width="0.5"/><path d="M1400.00 986.28 C1403.20 982.28 1412.80 982.28 1416.00 986.78 C1412.80 990.29 1403.20 990.29 1400.00 986.28 Z" fill="url(#sH)" stroke="#b9c9da" stroke-width="0.5"/><path d="M1400.00 995.34 C1403.20 991.34 1412.80 991.34 1416.00 995.84 C1412.80 999.35 1403.20 999.35 1400.00 995.34 Z" fill="url(#sH)" stroke="#b9c9da" stroke-width="0.5"/><path d="M1400.00 1004.41 C1403.20 1000.40 1412.80 1000.40 1416.00 1004.91 C1412.80 1008.41 1403.20 1008.41 1400.00 1004.41 Z" fill="url(#sH)" stroke="#b9c9da" stroke-width="0.5"/><path d="M1400.00 1013.47 C1403.20 1009.46 1412.80 1009.46 1416.00 1013.97 C1412.80 1017.47 1403.20 1017.47 1400.00 1013.47 Z" fill="url(#sH)" stroke="#b9c9da" stroke-width="0.5"/><path d="M1400.00 1022.53 C1403.20 1018.53 1412.80 1018.53 1416.00 1023.03 C1412.80 1026.54 1403.20 1026.54 1400.00 1022.53 Z" fill="url(#sH)" stroke="#b9c9da" stroke-width="0.5"/><path d="M1400.00 1031.59 C1403.20 1027.59 1412.80 1027.59 1416.00 1032.09 C1412.80 1035.60 1403.20 1035.60 1400.00 1031.59 Z" fill="url(#sH)" stroke="#b9c9da" stroke-width="0.5"/><path d="M1400.00 1040.66 C1403.20 1036.65 1412.80 1036.65 1416.00 1041.16 C1412.80 1044.66 1403.20 1044.66 1400.00 1040.66 Z" fill="url(#sH)" stroke="#b9c9da" stroke-width="0.5"/><path d="M1400.00 1049.72 C1403.20 1045.71 1412.80 1045.71 1416.00 1050.22 C1412.80 1053.72 1403.20 1053.72 1400.00 1049.72 Z" fill="url(#sH)" stroke="#b9c9da" stroke-width="0.5"/><path d="M1400.00 1058.78 C1403.20 1054.78 1412.80 1054.78 1416.00 1059.28 C1412.80 1062.79 1403.20 1062.79 1400.00 1058.78 Z" fill="url(#sH)" stroke="#b9c9da" stroke-width="0.5"/><path d="M1400.00 1067.84 C1403.20 1063.84 1412.80 1063.84 1416.00 1068.34 C1412.80 1071.85 1403.20 1071.85 1400.00 1067.84 Z" fill="url(#sH)" stroke="#b9c9da" stroke-width="0.5"/><path d="M1400.00 1076.91 C1403.20 1072.90 1412.80 1072.90 1416.00 1077.41 C1412.80 1080.91 1403.20 1080.91 1400.00 1076.91 Z" fill="url(#sH)" stroke="#b9c9da" stroke-width="0.5"/><path d="M1400.00 1085.97 C1403.20 1081.96 1412.80 1081.96 1416.00 1086.47 C1412.80 1089.97 1403.20 1089.97 1400.00 1085.97 Z" fill="url(#sH)" stroke="#b9c9da" stroke-width="0.5"/><path d="M1400.00 1095.03 C1403.20 1091.03 1412.80 1091.03 1416.00 1095.53 C1412.80 1099.04 1403.20 1099.04 1400.00 1095.03 Z" fill="url(#sH)" stroke="#b9c9da" stroke-width="0.5"/><path d="M1400.00 1104.09 C1403.20 1100.09 1412.80 1100.09 1416.00 1104.59 C1412.80 1108.10 1403.20 1108.10 1400.00 1104.09 Z" fill="url(#sH)" stroke="#b9c9da" stroke-width="0.5"/><path d="M1400.00 1113.16 C1403.20 1109.15 1412.80 1109.15 1416.00 1113.66 C1412.80 1117.16 1403.20 1117.16 1400.00 1113.16 Z" fill="url(#sH)" stroke="#b9c9da" stroke-width="0.5"/><path d="M1400.00 1122.22 C1403.20 1118.21 1412.80 1118.21 1416.00 1122.72 C1412.80 1126.22 1403.20 1126.22 1400.00 1122.22 Z" fill="url(#sH)" stroke="#b9c9da" stroke-width="0.5"/><path d="M1400.00 1131.28 C1403.20 1127.28 1412.80 1127.28 1416.00 1131.78 C1412.80 1135.29 1403.20 1135.29 1400.00 1131.28 Z" fill="url(#sH)" stroke="#b9c9da" stroke-width="0.5"/><path d="M1400.00 1140.34 C1403.20 1136.34 1412.80 1136.34 1416.00 1140.84 C1412.80 1144.35 1403.20 1144.35 1400.00 1140.34 Z" fill="url(#sH)" stroke="#b9c9da" stroke-width="0.5"/><path d="M1400.00 1149.41 C1403.20 1145.40 1412.80 1145.40 1416.00 1149.91 C1412.80 1153.41 1403.20 1153.41 1400.00 1149.41 Z" fill="url(#sH)" stroke="#b9c9da" stroke-width="0.5"/><path d="M1400.00 1158.47 C1403.20 1154.46 1412.80 1154.46 1416.00 1158.97 C1412.80 1162.47 1403.20 1162.47 1400.00 1158.47 Z" fill="url(#sH)" stroke="#b9c9da" stroke-width="0.5"/><rect x="1404.40" y="873.00" width="6.80" height="290.00" fill="#9fc0e2"/><path d="M1404.80 874.63 L1410.80 877.98 M1404.80 879.16 L1410.80 882.52 M1404.80 883.69 L1410.80 887.05 M1404.80 888.23 L1410.80 891.58 M1404.80 892.76 L1410.80 896.11 M1404.80 897.29 L1410.80 900.64 M1404.80 901.82 L1410.80 905.17 M1404.80 906.35 L1410.80 909.70 M1404.80 910.88 L1410.80 914.23 M1404.80 915.41 L1410.80 918.77 M1404.80 919.94 L1410.80 923.30 M1404.80 924.48 L1410.80 927.83 M1404.80 929.01 L1410.80 932.36 M1404.80 933.54 L1410.80 936.89 M1404.80 938.07 L1410.80 941.42 M1404.80 942.60 L1410.80 945.95 M1404.80 947.13 L1410.80 950.48 M1404.80 951.66 L1410.80 955.02 M1404.80 956.19 L1410.80 959.55 M1404.80 960.73 L1410.80 964.08 M1404.80 965.26 L1410.80 968.61 M1404.80 969.79 L1410.80 973.14 M1404.80 974.32 L1410.80 977.67 M1404.80 978.85 L1410.80 982.20 M1404.80 983.38 L1410.80 986.73 M1404.80 987.91 L1410.80 991.27 M1404.80 992.44 L1410.80 995.80 M1404.80 996.98 L1410.80 1000.33 M1404.80 1001.51 L1410.80 1004.86 M1404.80 1006.04 L1410.80 1009.39 M1404.80 1010.57 L1410.80 1013.92 M1404.80 1015.10 L1410.80 1018.45 M1404.80 1019.63 L1410.80 1022.98 M1404.80 1024.16 L1410.80 1027.52 M1404.80 1028.69 L1410.80 1032.05 M1404.80 1033.22 L1410.80 1036.58 M1404.80 1037.76 L1410.80 1041.11 M1404.80 1042.29 L1410.80 1045.64 M1404.80 1046.82 L1410.80 1050.17 M1404.80 1051.35 L1410.80 1054.70 M1404.80 1055.88 L1410.80 1059.23 M1404.80 1060.41 L1410.80 1063.77 M1404.80 1064.94 L1410.80 1068.30 M1404.80 1069.47 L1410.80 1072.83 M1404.80 1074.01 L1410.80 1077.36 M1404.80 1078.54 L1410.80 1081.89 M1404.80 1083.07 L1410.80 1086.42 M1404.80 1087.60 L1410.80 1090.95 M1404.80 1092.13 L1410.80 1095.48 M1404.80 1096.66 L1410.80 1100.02 M1404.80 1101.19 L1410.80 1104.55 M1404.80 1105.72 L1410.80 1109.08 M1404.80 1110.26 L1410.80 1113.61 M1404.80 1114.79 L1410.80 1118.14 M1404.80 1119.32 L1410.80 1122.67 M1404.80 1123.85 L1410.80 1127.20 M1404.80 1128.38 L1410.80 1131.73 M1404.80 1132.91 L1410.80 1136.27 M1404.80 1137.44 L1410.80 1140.80 M1404.80 1141.97 L1410.80 1145.33 M1404.80 1146.51 L1410.80 1149.86 M1404.80 1151.04 L1410.80 1154.39 M1404.80 1155.57 L1410.80 1158.92 M1404.80 1160.10 L1410.80 1163.45" stroke="#f2f6fa" stroke-width="1.6"/><path d="M1404.60 873.00 L1411.00 876.62 M1404.60 877.53 L1411.00 881.16 M1404.60 882.06 L1411.00 885.69 M1404.60 886.59 L1411.00 890.22 M1404.60 891.12 L1411.00 894.75 M1404.60 895.66 L1411.00 899.28 M1404.60 900.19 L1411.00 903.81 M1404.60 904.72 L1411.00 908.34 M1404.60 909.25 L1411.00 912.88 M1404.60 913.78 L1411.00 917.41 M1404.60 918.31 L1411.00 921.94 M1404.60 922.84 L1411.00 926.47 M1404.60 927.38 L1411.00 931.00 M1404.60 931.91 L1411.00 935.53 M1404.60 936.44 L1411.00 940.06 M1404.60 940.97 L1411.00 944.59 M1404.60 945.50 L1411.00 949.12 M1404.60 950.03 L1411.00 953.66 M1404.60 954.56 L1411.00 958.19 M1404.60 959.09 L1411.00 962.72 M1404.60 963.62 L1411.00 967.25 M1404.60 968.16 L1411.00 971.78 M1404.60 972.69 L1411.00 976.31 M1404.60 977.22 L1411.00 980.84 M1404.60 981.75 L1411.00 985.38 M1404.60 986.28 L1411.00 989.91 M1404.60 990.81 L1411.00 994.44 M1404.60 995.34 L1411.00 998.97 M1404.60 999.88 L1411.00 1003.50 M1404.60 1004.41 L1411.00 1008.03 M1404.60 1008.94 L1411.00 1012.56 M1404.60 1013.47 L1411.00 1017.09 M1404.60 1018.00 L1411.00 1021.62 M1404.60 1022.53 L1411.00 1026.16 M1404.60 1027.06 L1411.00 1030.69 M1404.60 1031.59 L1411.00 1035.22 M1404.60 1036.12 L1411.00 1039.75 M1404.60 1040.66 L1411.00 1044.28 M1404.60 1045.19 L1411.00 1048.81 M1404.60 1049.72 L1411.00 1053.34 M1404.60 1054.25 L1411.00 1057.88 M1404.60 1058.78 L1411.00 1062.41 M1404.60 1063.31 L1411.00 1066.94 M1404.60 1067.84 L1411.00 1071.47 M1404.60 1072.38 L1411.00 1076.00 M1404.60 1076.91 L1411.00 1080.53 M1404.60 1081.44 L1411.00 1085.06 M1404.60 1085.97 L1411.00 1089.59 M1404.60 1090.50 L1411.00 1094.12 M1404.60 1095.03 L1411.00 1098.66 M1404.60 1099.56 L1411.00 1103.19 M1404.60 1104.09 L1411.00 1107.72 M1404.60 1108.62 L1411.00 1112.25 M1404.60 1113.16 L1411.00 1116.78 M1404.60 1117.69 L1411.00 1121.31 M1404.60 1122.22 L1411.00 1125.84 M1404.60 1126.75 L1411.00 1130.38 M1404.60 1131.28 L1411.00 1134.91 M1404.60 1135.81 L1411.00 1139.44 M1404.60 1140.34 L1411.00 1143.97 M1404.60 1144.88 L1411.00 1148.50 M1404.60 1149.41 L1411.00 1153.03 M1404.60 1153.94 L1411.00 1157.56 M1404.60 1158.47 L1411.00 1162.09" stroke="#35679e" stroke-width="1.1" opacity="0.9"/></g>
<path d="M237.48 1166.55 C234.72 1173.72 235.45 1185.00 242.70 1185.00 C249.95 1185.00 250.67 1173.72 247.92 1166.55 Z" fill="#e6e6e6" stroke="#c2c2c2" stroke-width="0.9"/>
<rect x="237.19" y="1164.50" width="11.02" height="1.84" fill="#8a8a8a"/>
<path d="M395.68 1166.55 C392.92 1173.72 393.65 1185.00 400.90 1185.00 C408.15 1185.00 408.88 1173.72 406.12 1166.55 Z" fill="#e6e6e6" stroke="#c2c2c2" stroke-width="0.9"/>
<rect x="395.39" y="1164.50" width="11.02" height="1.84" fill="#8a8a8a"/>
<path d="M546.88 1166.55 C544.12 1173.72 544.85 1185.00 552.10 1185.00 C559.35 1185.00 560.08 1173.72 557.32 1166.55 Z" fill="#e6e6e6" stroke="#c2c2c2" stroke-width="0.9"/>
<rect x="546.59" y="1164.50" width="11.02" height="1.84" fill="#8a8a8a"/>
<path d="M672.78 1166.55 C670.02 1173.72 670.75 1185.00 678.00 1185.00 C685.25 1185.00 685.98 1173.72 683.22 1166.55 Z" fill="#e6e6e6" stroke="#c2c2c2" stroke-width="0.9"/>
<rect x="672.49" y="1164.50" width="11.02" height="1.84" fill="#8a8a8a"/>
<path d="M802.64 1167.85 C800.08 1174.33 800.75 1184.50 807.50 1184.50 C814.25 1184.50 814.92 1174.33 812.36 1167.85 Z" fill="#e6e6e6" stroke="#c2c2c2" stroke-width="0.9"/>
<rect x="802.37" y="1166.00" width="10.26" height="1.67" fill="#8a8a8a"/>
<path d="M927.64 1167.85 C925.08 1174.33 925.75 1184.50 932.50 1184.50 C939.25 1184.50 939.92 1174.33 937.36 1167.85 Z" fill="#e6e6e6" stroke="#c2c2c2" stroke-width="0.9"/>
<rect x="927.37" y="1166.00" width="10.26" height="1.67" fill="#8a8a8a"/>
<path d="M1056.34 1167.85 C1053.78 1174.33 1054.45 1184.50 1061.20 1184.50 C1067.95 1184.50 1068.62 1174.33 1066.06 1167.85 Z" fill="#e6e6e6" stroke="#c2c2c2" stroke-width="0.9"/>
<rect x="1056.07" y="1166.00" width="10.26" height="1.67" fill="#8a8a8a"/>
<path d="M1204.20 1172.75 C1202.30 1177.12 1202.80 1184.00 1207.80 1184.00 C1212.80 1184.00 1213.30 1177.12 1211.40 1172.75 Z" fill="#e6e6e6" stroke="#c2c2c2" stroke-width="0.9"/>
<rect x="1204.00" y="1171.50" width="7.60" height="1.50" fill="#8a8a8a"/>
<path d="M1308.40 1172.75 C1306.50 1177.12 1307.00 1184.00 1312.00 1184.00 C1317.00 1184.00 1317.50 1177.12 1315.60 1172.75 Z" fill="#e6e6e6" stroke="#c2c2c2" stroke-width="0.9"/>
<rect x="1308.20" y="1171.50" width="7.60" height="1.50" fill="#8a8a8a"/>
<path d="M1403.70 1172.75 C1401.80 1177.12 1402.30 1184.00 1407.30 1184.00 C1412.30 1184.00 1412.80 1177.12 1410.90 1172.75 Z" fill="#e6e6e6" stroke="#c2c2c2" stroke-width="0.9"/>
<rect x="1403.50" y="1171.50" width="7.60" height="1.50" fill="#8a8a8a"/>
<rect x="17.00" y="88.00" width="38.00" height="2.30" fill="#000000"/>
<rect x="17.00" y="88.00" width="2.30" height="473.00" fill="#000000"/>
<rect x="17.00" y="691.00" width="2.30" height="495.00" fill="#000000"/>
<rect x="17.00" y="1184.00" width="38.00" height="2.30" fill="#000000"/>
<text transform="translate(-2.70 640.00) scale(0.5729 0.5959)" font-size="100" font-family="Liberation Sans" font-weight="normal" fill="#000000" stroke="#000000" stroke-width="1.71" stroke-linejoin="round">H</text>
<rect x="99.50" y="813.00" width="22.50" height="2.30" fill="#000000"/>
<rect x="99.50" y="813.00" width="2.30" height="144.00" fill="#000000"/>
<rect x="99.50" y="1039.00" width="2.30" height="147.00" fill="#000000"/>
<rect x="99.50" y="1184.00" width="22.50" height="2.30" fill="#000000"/>
<text transform="translate(85.11 1016.00) scale(0.4990 0.5814)" font-size="100" font-family="Liberation Sans" font-weight="normal" fill="#000000" stroke="#000000" stroke-width="2.22" stroke-linejoin="round">L</text>
<rect x="172.80" y="1209.00" width="2.50" height="24.40" fill="#000000"/>
<rect x="172.80" y="1231.00" width="32.20" height="2.40" fill="#000000"/>
<rect x="270.00" y="1231.00" width="38.00" height="2.40" fill="#000000"/>
<rect x="305.70" y="1209.00" width="2.30" height="24.40" fill="#000000"/>
<text transform="translate(224.86 1253.40) scale(0.5053 0.5872)" font-size="100" font-family="Liberation Sans" font-weight="normal" fill="#000000" stroke="#000000" stroke-width="2.56" stroke-linejoin="round">R</text>
<rect x="444.2" y="1239.2" width="577" height="72.3" rx="7" ry="7" fill="#289ad9"/>
<text transform="translate(541.57 1291.70) scale(0.5035 0.5145)" font-size="100" font-family="Liberation Sans" font-weight="normal" fill="#ffffff" stroke="#ffffff" stroke-width="1.96" stroke-linejoin="round">H-L-R</text>
<text transform="translate(761.44 1291.52) scale(0.5127 0.4902)" font-size="100" font-family="Liberation Sans" font-weight="normal" fill="#ffffff" stroke="#ffffff" stroke-width="1.99" stroke-linejoin="round">Unit:mm</text>
<circle cx="105.0" cy="1364.6" r="22.6" fill="#0a9cee"/>
<path d="M102.52 1350.60L109.00 1350.60L109.00 1379.60L103.24 1379.60L103.24 1360.17L97.00 1365.10L97.00 1359.88Z" fill="#ffffff"/>
<text transform="translate(133.08 1376.64) scale(0.3813 0.3701)" font-size="100" font-family="Liberation Sans" font-weight="normal" fill="#111111" stroke="#ffffff" stroke-width="1.46" stroke-linejoin="round" style="paint-order:normal">200-67-24</text>
<circle cx="396.8" cy="1364.6" r="22.6" fill="#0a9cee"/>
<text transform="translate(385.93 1379.60) scale(0.3946 0.4153)" font-size="100" font-family="Liberation Sans" font-weight="bold" fill="#ffffff">2</text>
<text transform="translate(423.77 1376.64) scale(0.3832 0.3701)" font-size="100" font-family="Liberation Sans" font-weight="normal" fill="#111111" stroke="#ffffff" stroke-width="1.46" stroke-linejoin="round" style="paint-order:normal">200-67-20</text>
<circle cx="684.5" cy="1364.6" r="22.6" fill="#0a9cee"/>
<text transform="translate(674.12 1379.14) scale(0.3822 0.4088)" font-size="100" font-family="Liberation Sans" font-weight="bold" fill="#ffffff">3</text>
<text transform="translate(712.68 1376.64) scale(0.3823 0.3701)" font-size="100" font-family="Liberation Sans" font-weight="normal" fill="#111111" stroke="#ffffff" stroke-width="1.46" stroke-linejoin="round" style="paint-order:normal">200-67-16</text>
<circle cx="954.3" cy="1364.6" r="22.6" fill="#0a9cee"/>
<text transform="translate(944.26 1379.60) scale(0.3547 0.4215)" font-size="100" font-family="Liberation Sans" font-weight="bold" fill="#ffffff">4</text>
<text transform="translate(987.09 1376.64) scale(0.3798 0.3701)" font-size="100" font-family="Liberation Sans" font-weight="normal" fill="#111111" stroke="#ffffff" stroke-width="1.47" stroke-linejoin="round" style="paint-order:normal">200-67-11</text>
<circle cx="1224.0" cy="1364.6" r="22.6" fill="#0a9cee"/>
<text transform="translate(1213.33 1379.19) scale(0.3819 0.4156)" font-size="100" font-family="Liberation Sans" font-weight="bold" fill="#ffffff">5</text>
<text transform="translate(1255.75 1376.64) scale(0.3881 0.3701)" font-size="100" font-family="Liberation Sans" font-weight="normal" fill="#111111" stroke="#ffffff" stroke-width="1.45" stroke-linejoin="round" style="paint-order:normal">200-67-8</text>
<circle cx="103.8" cy="1473.8" r="22.6" fill="#0a9cee"/>
<text transform="translate(92.86 1488.40) scale(0.3931 0.4096)" font-size="100" font-family="Liberation Sans" font-weight="bold" fill="#ffffff">6</text>
<text transform="translate(133.75 1485.65) scale(0.3868 0.3588)" font-size="100" font-family="Liberation Sans" font-weight="normal" fill="#111111" stroke="#ffffff" stroke-width="1.48" stroke-linejoin="round" style="paint-order:normal">200-67-6</text>
<circle cx="395.6" cy="1473.8" r="22.6" fill="#0a9cee"/>
<text transform="translate(384.36 1488.80) scale(0.4049 0.4215)" font-size="100" font-family="Liberation Sans" font-weight="bold" fill="#ffffff">7</text>
<text transform="translate(422.71 1485.65) scale(0.3756 0.3588)" font-size="100" font-family="Liberation Sans" font-weight="normal" fill="#111111" stroke="#ffffff" stroke-width="1.50" stroke-linejoin="round" style="paint-order:normal">200-67-5.5</text>
<circle cx="684.0" cy="1473.8" r="22.6" fill="#0a9cee"/>
<text transform="translate(673.28 1488.40) scale(0.3849 0.4096)" font-size="100" font-family="Liberation Sans" font-weight="bold" fill="#ffffff">8</text>
<text transform="translate(710.03 1485.65) scale(0.3912 0.3588)" font-size="100" font-family="Liberation Sans" font-weight="normal" fill="#111111" stroke="#ffffff" stroke-width="1.47" stroke-linejoin="round" style="paint-order:normal">200-52-5</text>
<circle cx="954.0" cy="1473.8" r="22.6" fill="#0a9cee"/>
<text transform="translate(943.14 1488.40) scale(0.3923 0.4096)" font-size="100" font-family="Liberation Sans" font-weight="bold" fill="#ffffff">9</text>
<text transform="translate(986.79 1485.65) scale(0.3792 0.3588)" font-size="100" font-family="Liberation Sans" font-weight="normal" fill="#111111" stroke="#ffffff" stroke-width="1.49" stroke-linejoin="round" style="paint-order:normal">200-52-4.5</text>
<circle cx="1223.0" cy="1473.8" r="22.6" fill="#0a9cee"/>
<path d="M1209.60 1460.80L1215.00 1460.80L1215.00 1487.80L1210.20 1487.80L1210.20 1469.71L1205.00 1474.30L1205.00 1469.44Z" fill="#ffffff"/>
<text transform="translate(1216.34 1487.92) scale(0.4205 0.3884)" font-size="100" font-family="Liberation Sans" font-weight="bold" fill="#ffffff">0</text>
<text transform="translate(1253.23 1485.65) scale(0.3920 0.3588)" font-size="100" font-family="Liberation Sans" font-weight="normal" fill="#111111" stroke="#ffffff" stroke-width="1.47" stroke-linejoin="round" style="paint-order:normal">200-52-4</text></svg></body></html>
